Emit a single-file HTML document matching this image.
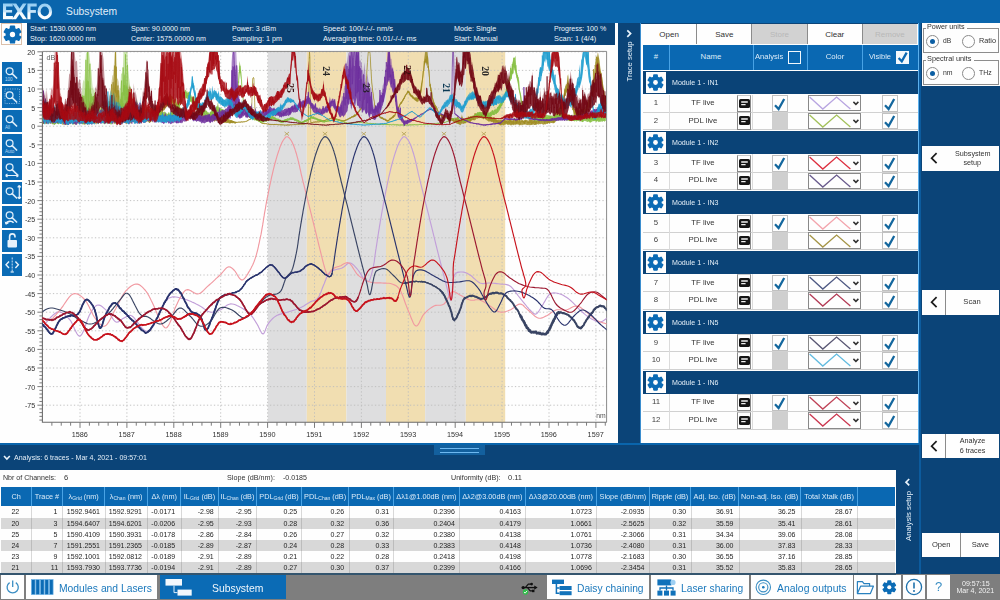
<!DOCTYPE html><html><head><meta charset="utf-8"><title>Subsystem</title><style>
html,body{margin:0;padding:0}body{width:1000px;height:600px;position:relative;overflow:hidden;background:#0b4478;font-family:"Liberation Sans",sans-serif;}div,svg{position:absolute;box-sizing:border-box;}svg{overflow:visible}.ah{color:#dcecf9;font-size:7.3px;text-align:center;white-space:nowrap;overflow:hidden}.ah sub{font-size:5px;vertical-align:baseline;position:relative;top:1.2px}
</style></head><body><div style="left:0;top:0;width:1000px;height:600px;opacity:0.999">
<div style="left:0px;top:22.5px;width:617.6px;height:420.8px;background:#fff;"></div>
<div style="left:0px;top:0px;width:1000px;height:22.5px;background:#0b66ad;"></div>
<svg style="left:0;top:0;width:60px;height:22px" viewBox="0 0 60 22"><defs><linearGradient id="lg" gradientUnits="userSpaceOnUse" x1="0" y1="3.6" x2="0" y2="19.2"><stop offset="0" stop-color="#93cdf3"/><stop offset="0.5" stop-color="#c4e3f9"/><stop offset="0.62" stop-color="#f4fafe"/><stop offset="1" stop-color="#ffffff"/></linearGradient></defs><g fill="url(#lg)"><path d="M3,3.6H12.7V6.6H6.1V9.9H12.1V12.6H6.1V16.1H12.9V19.2H3Z"/><path d="M12.3,3.6H16.2L26.9,19.2H23Z"/><path d="M22.9,3.6H26.6L16,19.2H12.1Z"/><path d="M27.4,3.6H36.7V6.6H30.5V10H35.9V12.8H30.5V19.2H27.4Z"/><path fill-rule="evenodd" d="M44.8,3.4A7.3,8 0 1 0 44.8,19.4A7.3,8 0 1 0 44.8,3.4ZM44.8,6.5A4.2,4.9 0 1 1 44.8,16.3A4.2,4.9 0 1 1 44.8,6.5Z"/></g></svg>
<div style="left:66.00px;top:4.99px;font-size:10.8px;line-height:12.42px;color:#e2effa;white-space:nowrap;transform:scaleX(0.9547);transform-origin:0 50%;">Subsystem</div>
<div style="left:27px;top:23px;width:588px;height:22.3px;background:#0b4478;"></div>
<div style="left:30.00px;top:24.71px;font-size:7.8px;line-height:8.97px;color:#eef5fb;white-space:nowrap;transform:scaleX(0.9338);transform-origin:0 50%;">Start: 1530.0000 nm</div>
<div style="left:30.00px;top:35.31px;font-size:7.8px;line-height:8.97px;color:#eef5fb;white-space:nowrap;transform:scaleX(0.9337);transform-origin:0 50%;">Stop: 1620.0000 nm</div>
<div style="left:131.00px;top:24.71px;font-size:7.8px;line-height:8.97px;color:#eef5fb;white-space:nowrap;transform:scaleX(0.9255);transform-origin:0 50%;">Span: 90.0000 nm</div>
<div style="left:131.00px;top:35.31px;font-size:7.8px;line-height:8.97px;color:#eef5fb;white-space:nowrap;transform:scaleX(0.9151);transform-origin:0 50%;">Center: 1575.00000 nm</div>
<div style="left:232.00px;top:24.71px;font-size:7.8px;line-height:8.97px;color:#eef5fb;white-space:nowrap;transform:scaleX(0.8982);transform-origin:0 50%;">Power: 3 dBm</div>
<div style="left:232.00px;top:35.31px;font-size:7.8px;line-height:8.97px;color:#eef5fb;white-space:nowrap;transform:scaleX(0.9226);transform-origin:0 50%;">Sampling: 1 pm</div>
<div style="left:322.50px;top:24.71px;font-size:7.8px;line-height:8.97px;color:#eef5fb;white-space:nowrap;transform:scaleX(0.9554);transform-origin:0 50%;">Speed: 100/-/-/- nm/s</div>
<div style="left:322.50px;top:35.31px;font-size:7.8px;line-height:8.97px;color:#eef5fb;white-space:nowrap;transform:scaleX(0.9516);transform-origin:0 50%;">Averaging time: 0.01/-/-/- ms</div>
<div style="left:453.80px;top:24.71px;font-size:7.8px;line-height:8.97px;color:#eef5fb;white-space:nowrap;transform:scaleX(0.9269);transform-origin:0 50%;">Mode: Single</div>
<div style="left:453.80px;top:35.31px;font-size:7.8px;line-height:8.97px;color:#eef5fb;white-space:nowrap;transform:scaleX(0.9420);transform-origin:0 50%;">Start: Manual</div>
<div style="left:553.80px;top:24.71px;font-size:7.8px;line-height:8.97px;color:#eef5fb;white-space:nowrap;transform:scaleX(0.9053);transform-origin:0 50%;">Progress: 100 %</div>
<div style="left:553.80px;top:35.31px;font-size:7.8px;line-height:8.97px;color:#eef5fb;white-space:nowrap;transform:scaleX(0.9450);transform-origin:0 50%;">Scan: 1 (4/4)</div>
<div style="left:1px;top:23px;width:21px;height:21.5px;background:#fff;border:1px solid #dcc0aa;"></div>
<svg style="left:3px;top:24.8px;width:19px;height:19px" viewBox="0 0 100 100"><path d="M40.1,19.6L40.9,7.0L59.1,7.0L59.9,19.6L71.4,26.2L82.7,20.6L91.8,36.4L81.3,43.3L81.3,56.7L91.8,63.6L82.7,79.4L71.4,73.8L59.9,80.4L59.1,93.0L40.9,93.0L40.1,80.4L28.6,73.8L17.3,79.4L8.2,63.6L18.7,56.7L18.7,43.3L8.2,36.4L17.3,20.6L28.6,26.2Z" fill="#0c6cb6" stroke="#0c6cb6" stroke-width="10" stroke-linejoin="round"/><circle cx="50" cy="50" r="14" fill="#fff"/></svg>
<svg style="left:2.3px;top:62px;width:19.8px;height:22.2px;background:#0c6cb6" viewBox="0 0 19.8 22.2"><circle cx="7.6" cy="9.2" r="3.4" fill="none" stroke="#dcedfa" stroke-width="1.3"/><path d="M10.1,11.7 L14.6,16.0" stroke="#dcedfa" stroke-width="1.7" stroke-linecap="round"/><text x="3" y="19.4" font-family="Liberation Sans" font-size="4.6" fill="#b9d8f2">100</text></svg>
<svg style="left:2.3px;top:86px;width:19.8px;height:22.2px;background:#0c6cb6" viewBox="0 0 19.8 22.2"><circle cx="7.6" cy="9.2" r="3.4" fill="none" stroke="#dcedfa" stroke-width="1.3"/><path d="M10.1,11.7 L14.6,16.0" stroke="#dcedfa" stroke-width="1.7" stroke-linecap="round"/><rect x="3" y="3" width="14.5" height="14.5" fill="none" stroke="#9cc8ec" stroke-width="0.8" stroke-dasharray="1.2,1.2"/></svg>
<svg style="left:2.3px;top:110px;width:19.8px;height:22.2px;background:#0c6cb6" viewBox="0 0 19.8 22.2"><circle cx="7.6" cy="9.2" r="3.4" fill="none" stroke="#dcedfa" stroke-width="1.3"/><path d="M10.1,11.7 L14.6,16.0" stroke="#dcedfa" stroke-width="1.7" stroke-linecap="round"/><text x="3" y="19.4" font-family="Liberation Sans" font-size="4.6" fill="#b9d8f2">All</text></svg>
<svg style="left:2.3px;top:134px;width:19.8px;height:22.2px;background:#0c6cb6" viewBox="0 0 19.8 22.2"><circle cx="7.6" cy="9.2" r="3.4" fill="none" stroke="#dcedfa" stroke-width="1.3"/><path d="M10.1,11.7 L14.6,16.0" stroke="#dcedfa" stroke-width="1.7" stroke-linecap="round"/><text x="3" y="19.4" font-family="Liberation Sans" font-size="4.6" fill="#b9d8f2">Auto</text></svg>
<svg style="left:2.3px;top:158px;width:19.8px;height:22.2px;background:#0c6cb6" viewBox="0 0 19.8 22.2"><circle cx="7.6" cy="9.2" r="3.4" fill="none" stroke="#dcedfa" stroke-width="1.3"/><path d="M10.1,11.7 L14.6,16.0" stroke="#dcedfa" stroke-width="1.7" stroke-linecap="round"/><path d="M3.5,17.5 H16.5 M3.5,17.5 l2,-1.6 M3.5,17.5 l2,1.6 M16.5,17.5 l-2,-1.6 M16.5,17.5 l-2,1.6" stroke="#e8f3fc" stroke-width="1.2" fill="none"/></svg>
<svg style="left:2.3px;top:182px;width:19.8px;height:22.2px;background:#0c6cb6" viewBox="0 0 19.8 22.2"><circle cx="7.6" cy="9.2" r="3.4" fill="none" stroke="#dcedfa" stroke-width="1.3"/><path d="M10.1,11.7 L14.6,16.0" stroke="#dcedfa" stroke-width="1.7" stroke-linecap="round"/><path d="M17.3,3.5 V17 M17.3,3.5 l-1.6,2 M17.3,3.5 l1.6,2 M17.3,17 l-1.6,-2 M17.3,17 l1.6,-2" stroke="#e8f3fc" stroke-width="1.2" fill="none"/></svg>
<svg style="left:2.3px;top:206px;width:19.8px;height:22.2px;background:#0c6cb6" viewBox="0 0 19.8 22.2"><circle cx="7.6" cy="9.2" r="3.4" fill="none" stroke="#dcedfa" stroke-width="1.3"/><path d="M10.1,11.7 L14.6,16.0" stroke="#dcedfa" stroke-width="1.7" stroke-linecap="round"/><path d="M4,18 a4.2,3.4 0 0 1 7.6,-1.2" stroke="#e8f3fc" stroke-width="1.6" fill="none"/><path d="M2.6,15.4 l1.2,3.4 l3,-1.6z" fill="#e8f3fc"/></svg>
<svg style="left:2.3px;top:230px;width:19.8px;height:22.2px;background:#0c6cb6" viewBox="0 0 19.8 22.2"><rect x="5.5" y="10" width="9.5" height="7.4" rx="0.8" fill="#e8f3fc"/><path d="M7.6,10 V6.6 a2.7,2.7 0 0 1 5.4,0 V7.4" stroke="#e8f3fc" stroke-width="1.6" fill="none"/></svg>
<svg style="left:2.3px;top:254px;width:19.8px;height:22.2px;background:#0c6cb6" viewBox="0 0 19.8 22.2"><path d="M10.2,3.5 V18" stroke="#cfe4f6" stroke-width="1" stroke-dasharray="2,1"/><path d="M7,7.6 L4,10.8 L7,14 M13.4,7.6 L16.4,10.8 L13.4,14" stroke="#e8f3fc" stroke-width="1.4" fill="none"/><path d="M8.6,18 h3.2" stroke="#e8f3fc" stroke-width="1.2"/></svg>
<svg style="left:0;top:0;width:620px;height:445px" viewBox="0 0 620 445" font-family="Liberation Sans">
<clipPath id="pc"><rect x="42.4" y="51.8" width="564.2" height="370.5"/></clipPath>
<rect x="267.8" y="51.8" width="39.0" height="370.5" fill="#dfdfe0"/>
<rect x="306.8" y="51.8" width="39.6" height="370.5" fill="#f2dfb2"/>
<rect x="346.4" y="51.8" width="39.6" height="370.5" fill="#dfdfe0"/>
<rect x="386" y="51.8" width="39.2" height="370.5" fill="#f2dfb2"/>
<rect x="425.2" y="51.8" width="40.6" height="370.5" fill="#dfdfe0"/>
<rect x="465.8" y="51.8" width="39.4" height="370.5" fill="#f2dfb2"/>
<path d="M42.4,51.8H606.6M42.4,70.4H606.6M42.4,89.0H606.6M42.4,107.6H606.6M42.4,126.2H606.6M42.4,144.8H606.6M42.4,163.4H606.6M42.4,182.0H606.6M42.4,200.6H606.6M42.4,219.2H606.6M42.4,237.8H606.6M42.4,256.4H606.6M42.4,275.0H606.6M42.4,293.6H606.6M42.4,312.2H606.6M42.4,330.8H606.6M42.4,349.4H606.6M42.4,368.0H606.6M42.4,386.6H606.6M42.4,405.2H606.6M80.0,51.8V422.3M126.9,51.8V422.3M173.8,51.8V422.3M220.7,51.8V422.3M267.6,51.8V422.3M314.5,51.8V422.3M361.4,51.8V422.3M408.3,51.8V422.3M455.2,51.8V422.3M502.1,51.8V422.3M549.0,51.8V422.3M595.9,51.8V422.3" stroke="#bdbdbd" stroke-width="0.9" stroke-dasharray="1.3,2.2" fill="none"/>
<path d="M42.4,51.4H606.6V422.3" stroke="#8c8c8c" stroke-width="1" fill="none"/>
<path d="M42.4,51.8V422.3H606.6" stroke="#6e6e6e" stroke-width="1.1" fill="none"/>
<path d="M42.4,51.80h-5M42.4,55.52h-3M42.4,59.24h-3M42.4,62.96h-3M42.4,66.68h-3M42.4,70.40h-5M42.4,74.12h-3M42.4,77.84h-3M42.4,81.56h-3M42.4,85.28h-3M42.4,89.00h-5M42.4,92.72h-3M42.4,96.44h-3M42.4,100.16h-3M42.4,103.88h-3M42.4,107.60h-5M42.4,111.32h-3M42.4,115.04h-3M42.4,118.76h-3M42.4,122.48h-3M42.4,126.20h-5M42.4,129.92h-3M42.4,133.64h-3M42.4,137.36h-3M42.4,141.08h-3M42.4,144.80h-5M42.4,148.52h-3M42.4,152.24h-3M42.4,155.96h-3M42.4,159.68h-3M42.4,163.40h-5M42.4,167.12h-3M42.4,170.84h-3M42.4,174.56h-3M42.4,178.28h-3M42.4,182.00h-5M42.4,185.72h-3M42.4,189.44h-3M42.4,193.16h-3M42.4,196.88h-3M42.4,200.60h-5M42.4,204.32h-3M42.4,208.04h-3M42.4,211.76h-3M42.4,215.48h-3M42.4,219.20h-5M42.4,222.92h-3M42.4,226.64h-3M42.4,230.36h-3M42.4,234.08h-3M42.4,237.80h-5M42.4,241.52h-3M42.4,245.24h-3M42.4,248.96h-3M42.4,252.68h-3M42.4,256.40h-5M42.4,260.12h-3M42.4,263.84h-3M42.4,267.56h-3M42.4,271.28h-3M42.4,275.00h-5M42.4,278.72h-3M42.4,282.44h-3M42.4,286.16h-3M42.4,289.88h-3M42.4,293.60h-5M42.4,297.32h-3M42.4,301.04h-3M42.4,304.76h-3M42.4,308.48h-3M42.4,312.20h-5M42.4,315.92h-3M42.4,319.64h-3M42.4,323.36h-3M42.4,327.08h-3M42.4,330.80h-5M42.4,334.52h-3M42.4,338.24h-3M42.4,341.96h-3M42.4,345.68h-3M42.4,349.40h-5M42.4,353.12h-3M42.4,356.84h-3M42.4,360.56h-3M42.4,364.28h-3M42.4,368.00h-5M42.4,371.72h-3M42.4,375.44h-3M42.4,379.16h-3M42.4,382.88h-3M42.4,386.60h-5M42.4,390.32h-3M42.4,394.04h-3M42.4,397.76h-3M42.4,401.48h-3M42.4,405.20h-5M42.4,408.92h-3M42.4,412.64h-3M42.4,416.36h-3M42.4,420.08h-3M51.86,422.3v3.4M61.24,422.3v3.4M70.62,422.3v3.4M80.00,422.3v5.6M89.38,422.3v3.4M98.76,422.3v3.4M108.14,422.3v3.4M117.52,422.3v3.4M126.90,422.3v5.6M136.28,422.3v3.4M145.66,422.3v3.4M155.04,422.3v3.4M164.42,422.3v3.4M173.80,422.3v5.6M183.18,422.3v3.4M192.56,422.3v3.4M201.94,422.3v3.4M211.32,422.3v3.4M220.70,422.3v5.6M230.08,422.3v3.4M239.46,422.3v3.4M248.84,422.3v3.4M258.22,422.3v3.4M267.60,422.3v5.6M276.98,422.3v3.4M286.36,422.3v3.4M295.74,422.3v3.4M305.12,422.3v3.4M314.50,422.3v5.6M323.88,422.3v3.4M333.26,422.3v3.4M342.64,422.3v3.4M352.02,422.3v3.4M361.40,422.3v5.6M370.78,422.3v3.4M380.16,422.3v3.4M389.54,422.3v3.4M398.92,422.3v3.4M408.30,422.3v5.6M417.68,422.3v3.4M427.06,422.3v3.4M436.44,422.3v3.4M445.82,422.3v3.4M455.20,422.3v5.6M464.58,422.3v3.4M473.96,422.3v3.4M483.34,422.3v3.4M492.72,422.3v3.4M502.10,422.3v5.6M511.48,422.3v3.4M520.86,422.3v3.4M530.24,422.3v3.4M539.62,422.3v3.4M549.00,422.3v5.6M558.38,422.3v3.4M567.76,422.3v3.4M577.14,422.3v3.4M586.52,422.3v3.4M595.90,422.3v5.6M605.28,422.3v3.4" stroke="#6e6e6e" stroke-width="0.9" fill="none"/>
<text x="35.3" y="54.7" font-size="8.1" fill="#333" text-anchor="end" textLength="8.0" lengthAdjust="spacingAndGlyphs">20</text>
<text x="35.3" y="73.3" font-size="8.1" fill="#333" text-anchor="end" textLength="8.0" lengthAdjust="spacingAndGlyphs">15</text>
<text x="35.3" y="91.9" font-size="8.1" fill="#333" text-anchor="end" textLength="8.0" lengthAdjust="spacingAndGlyphs">10</text>
<text x="35.3" y="110.5" font-size="8.1" fill="#333" text-anchor="end" textLength="4.0" lengthAdjust="spacingAndGlyphs">5</text>
<text x="35.3" y="129.1" font-size="8.1" fill="#333" text-anchor="end" textLength="4.0" lengthAdjust="spacingAndGlyphs">0</text>
<text x="35.3" y="147.7" font-size="8.1" fill="#333" text-anchor="end" textLength="6.3" lengthAdjust="spacingAndGlyphs">-5</text>
<text x="35.3" y="166.3" font-size="8.1" fill="#333" text-anchor="end" textLength="10.3" lengthAdjust="spacingAndGlyphs">-10</text>
<text x="35.3" y="184.9" font-size="8.1" fill="#333" text-anchor="end" textLength="10.3" lengthAdjust="spacingAndGlyphs">-15</text>
<text x="35.3" y="203.5" font-size="8.1" fill="#333" text-anchor="end" textLength="10.3" lengthAdjust="spacingAndGlyphs">-20</text>
<text x="35.3" y="222.1" font-size="8.1" fill="#333" text-anchor="end" textLength="10.3" lengthAdjust="spacingAndGlyphs">-25</text>
<text x="35.3" y="240.7" font-size="8.1" fill="#333" text-anchor="end" textLength="10.3" lengthAdjust="spacingAndGlyphs">-30</text>
<text x="35.3" y="259.3" font-size="8.1" fill="#333" text-anchor="end" textLength="10.3" lengthAdjust="spacingAndGlyphs">-35</text>
<text x="35.3" y="277.9" font-size="8.1" fill="#333" text-anchor="end" textLength="10.3" lengthAdjust="spacingAndGlyphs">-40</text>
<text x="35.3" y="296.5" font-size="8.1" fill="#333" text-anchor="end" textLength="10.3" lengthAdjust="spacingAndGlyphs">-45</text>
<text x="35.3" y="315.1" font-size="8.1" fill="#333" text-anchor="end" textLength="10.3" lengthAdjust="spacingAndGlyphs">-50</text>
<text x="35.3" y="333.7" font-size="8.1" fill="#333" text-anchor="end" textLength="10.3" lengthAdjust="spacingAndGlyphs">-55</text>
<text x="35.3" y="352.3" font-size="8.1" fill="#333" text-anchor="end" textLength="10.3" lengthAdjust="spacingAndGlyphs">-60</text>
<text x="35.3" y="370.9" font-size="8.1" fill="#333" text-anchor="end" textLength="10.3" lengthAdjust="spacingAndGlyphs">-65</text>
<text x="35.3" y="389.5" font-size="8.1" fill="#333" text-anchor="end" textLength="10.3" lengthAdjust="spacingAndGlyphs">-70</text>
<text x="35.3" y="408.1" font-size="8.1" fill="#333" text-anchor="end" textLength="10.3" lengthAdjust="spacingAndGlyphs">-75</text>
<text x="79.8" y="437.1" font-size="8.1" fill="#333" text-anchor="middle" textLength="16.2" lengthAdjust="spacingAndGlyphs">1586</text>
<text x="126.7" y="437.1" font-size="8.1" fill="#333" text-anchor="middle" textLength="16.2" lengthAdjust="spacingAndGlyphs">1587</text>
<text x="173.6" y="437.1" font-size="8.1" fill="#333" text-anchor="middle" textLength="16.2" lengthAdjust="spacingAndGlyphs">1588</text>
<text x="220.5" y="437.1" font-size="8.1" fill="#333" text-anchor="middle" textLength="16.2" lengthAdjust="spacingAndGlyphs">1589</text>
<text x="267.4" y="437.1" font-size="8.1" fill="#333" text-anchor="middle" textLength="16.2" lengthAdjust="spacingAndGlyphs">1590</text>
<text x="314.3" y="437.1" font-size="8.1" fill="#333" text-anchor="middle" textLength="16.2" lengthAdjust="spacingAndGlyphs">1591</text>
<text x="361.2" y="437.1" font-size="8.1" fill="#333" text-anchor="middle" textLength="16.2" lengthAdjust="spacingAndGlyphs">1592</text>
<text x="408.1" y="437.1" font-size="8.1" fill="#333" text-anchor="middle" textLength="16.2" lengthAdjust="spacingAndGlyphs">1593</text>
<text x="455.0" y="437.1" font-size="8.1" fill="#333" text-anchor="middle" textLength="16.2" lengthAdjust="spacingAndGlyphs">1594</text>
<text x="501.9" y="437.1" font-size="8.1" fill="#333" text-anchor="middle" textLength="16.2" lengthAdjust="spacingAndGlyphs">1595</text>
<text x="548.8" y="437.1" font-size="8.1" fill="#333" text-anchor="middle" textLength="16.2" lengthAdjust="spacingAndGlyphs">1596</text>
<text x="595.7" y="437.1" font-size="8.1" fill="#333" text-anchor="middle" textLength="16.2" lengthAdjust="spacingAndGlyphs">1597</text>
<text x="46.4" y="59.6" font-size="7.2" fill="#666">dB</text>
<text x="605.6" y="417.8" font-size="6.8" fill="#555" text-anchor="end">nm</text>
<g clip-path="url(#pc)">
<g transform="scale(0.1)">
<path d="M420,3280l6-8 9-11 10-13 11-14 12-15 12-16 13-14 11-13 11-11 13-12 15-13 14-10 13-8 15-3 15 1 12 4 12 6 12 8 13 10 13 11 13 13 12 13 13 15 9 12 8 16 9 18 9 19 8 19 9 19 9 18 9 16 8 12 9 8 9 4 7-2 7-6 7-9 7-12 7-14 7-16 6-18 7-18 7-19 7-20 6-19 7-18 6-16 7-16 6-12 9-16 11-19 10-17 10-14 11-12 10-9 10-6 12-3 12 1 14 5 14 9 13 11 14 13 14 13 13 12 12 12 10 13 10 15 10 15 10 15 10 14 9 11 10 9 12 4 15-3 14-9 15-11 14-11 15-8 15-8 15-9 15-7 16-3 19 7 9 7 10 10 10 12 11 14 12 15 11 16 11 15 11 15 11 13 10 11 10 9 13 8 17 8 14 1 14-7 17-15 12-16 7-10 6-12 8-13 7-15 8-16 7-17 8-17 8-17 8-18 8-17 7-17 8-16 7-15 7-13 7-13 6-10 14-21 12-16 11-12 11-8 12-6 13-5 14-3 15-1 17 2 17 3 17 4 17 5 16 4 14 4 19 5 16 6 15 6 15 6 15 7 14 6 14 7 14 7 15 7 15 9 15 8 13 9 14 10 15 11 14 10 15 8 15 6 15 3 17 1 17-3 16-4 17-5 17-7 15-6 14-9 15-10 14-11 14-11 15-8 14-6 15-3 15 1 15 3 16 5 15 7 16 7 15 8 14 7 13 8 14 9 14 9 14 10 13 10 12 11 12 12 10 12 10 13 9 14 9 14 9 14 8 13 9 14 9 16 9 18 9 19 9 18 8 15 8 10 8 4 8-5 7-12 7-17 7-20 8-20 8-18 10-14 9-13 11-13 11-12 11-11 13-11 13-10 14-8 14-7 16-5 16-5 17-5 17-4 17-5 16-5 16-5 17-5 16-5 16-5 16-5 16-6 16-6 15-7 15-8 15-9 14-9 15-9 13-9 14-8 14-8 16-6 15-4 14-5 14-8 13-13 7-11 7-12 6-15 7-15 6-16 6-17 6-16 6-16 6-15 7-15 6-17 7-17 6-16 7-16 7-15 8-14 10-12 11-10 15-8 16-6 17-4 18-4 17-4 17-4 14-5 17-10 15-12 14-13 13-10 14-5 13 1 13 7 13 9 12 12 13 14 12 14 11 13 10 13 10 16 10 15 9 16 8 14 9 11 13 14 17 16 16 2 11-11 5-10 5-14 5-16 5-17 5-19 5-19 4-18 4-18 4-16 3-17 3-15 3-16 1-15 2-15 2-16 2-16 3-18 2-17 2-15 3-15 2-16 3-16 2-17 3-17 2-17 3-17 3-17 2-17 3-16 2-16 3-17 3-16 2-17 3-16 3-16 2-16 3-16 3-16 3-17 3-16 2-17 3-15 3-16 3-16 3-16 2-16 3-16 3-16 3-16 3-16 3-16 3-16 4-16 3-16 3-16 3-16 4-17 3-16 3-16 4-17 3-16 4-15 3-16 3-15 4-16 4-17 4-17 4-17 4-17 4-16 4-16 4-15 4-15 4-14 5-17 5-18 5-17 5-16 5-15 5-15 5-14 5-16 6-17 7-15 6-15 6-13 7-13 11-17 12-15 11-10 13-1 13 8 14 16 10 14 7 13 7 14 7 15 7 18 5 15 5 13 4 14 5 15 5 15 4 16 5 18 5 18 3 14 4 14 3 15 4 16 4 16 3 17 4 16 4 17 3 17 4 17 4 16 4 16 3 15 4 16 4 15 4 16 4 15 4 16 4 16 4 16 4 17 4 16 4 16 4 16 4 16 4 16 4 16 4 17 5 16 4 17 4 16 4 16 4 16 4 16 4 15 4 17 4 17 4 16 4 16 4 16 4 16 4 16 4 16 4 16 4 16 4 17 4 16 4 16 4 16 4 16 4 17 4 16 4 17 4 16 4 16 4 16 4 16 4 16 4 16 4 16 4 16 4 16 4 15 4 16 4 15 4 15 4 15 4 15 4 16 4 16 4 16 4 16 4 15 4 16 3 15 4 16 4 15 5 16 4 16 5 20 5 21 6 23 5 22 5 21 6 18 5 15 4 10 5 3 3-3 3-7 2-10 1-14 2-16 1-18 2-20 1-21 2-21 1-21 2-20 2-19 2-18 3-15 3-13 7-16 13-16 15-9 16-3 16-1 15 0 16 1 15 4 16 6 16 9 17 10 12 8 12 10 12 12 13 12 13 12 13 10 12 9 13 7 17 5 16 1 17-2 17-2 16-2 17 0 17 1 16 1 17 2 17 2 16 2 17 2 17 2 16 0 17 1 17 3 16 5 17 9 11 8 10 11 11 12 10 12 11 14 10 15 11 14 10 14 11 14 10 12 11 14 11 14 12 14 11 14 11 13 10 13 11 12 9 11 9 9 16 17 13 13 12 9 13 2 11-3 10-9 9-12 10-15 10-16 10-18 10-14 8-13 8-15 9-15 9-16 9-15 9-14 9-12 10-10 13-8 16-6 16-2 17 2 18 3 17 5 15 4 14 6 15 7 14 9 14 9 15 10 14 11 13 11 12 11 11 11 12 12 12 13 12 13 11 12 12 12 12 11 12 11 13 11 13 11 12 11 12 10 13 9 13 9 12 8 16 9 16 9 16 8 16 6 15 5 14 3 16-1 16-6 16-11 14-10 11-9 4-3" fill="none" stroke="#c3a0da" stroke-width="11.5" stroke-linejoin="round"/>
<path d="M420,3180l11 5 14 7 18 8 18 3 19-3 11-6 11-8 11-10 11-12 12-13 12-14 12-14 13-15 12-13 9-13 10-14 11-15 10-15 11-16 10-16 11-15 11-14 11-13 10-10 11-8 10-6 16-4 15 1 16 4 15 8 15 10 15 12 14 14 14 15 9 11 8 12 8 14 8 15 8 16 8 17 8 16 8 17 8 15 7 15 8 14 8 13 10 13 13 17 12 15 13 15 12 12 13 9 12 5 13 1 10-4 9-7 9-9 8-12 9-14 9-16 9-16 8-17 9-18 9-17 8-17 9-15 8-14 8-15 8-15 8-16 8-15 7-16 8-16 8-15 8-14 8-14 9-13 8-12 10-13 13-14 13-13 14-12 13-10 13-9 13-7 13-5 12-2 15 1 15 5 14 9 14 11 13 13 13 14 11 12 8 12 9 12 8 13 8 14 7 15 8 15 8 17 9 17 6 13 7 15 7 15 7 16 7 17 7 16 7 17 6 16 7 16 7 14 6 13 6 12 11 21 10 20 10 17 10 12 9 8 10 2 9-5 9-10 9-14 9-17 8-19 8-18 8-17 6-15 5-15 4-15 4-15 4-16 5-17 8-18 7-15 7-14 7-16 8-16 9-17 9-17 9-16 9-16 10-14 10-12 9-9 10-7 15-4 16 3 17 8 16 11 17 10 16 8 16 4 14-2 13-5 12-8 12-10 12-11 12-13 12-12 13-13 13-11 11-10 13-11 12-11 13-12 13-12 12-12 12-11 12-11 11-10 12-12 13-14 12-14 12-14 11-12 10-10 10-7 13-4 15 2 14 9 15 13 12 13 10 12 10 16 10 17 10 16 10 15 11 12 10 6 10 0 10-5 11-9 10-13 10-15 10-16 10-17 10-16 8-14 7-13 6-13 7-13 6-13 6-14 6-15 6-17 6-17 6-19 4-13 4-15 4-15 4-16 4-17 4-17 3-17 4-17 4-18 3-17 4-17 3-16 4-16 3-15 3-17 3-18 3-17 3-17 3-16 2-15 3-16 2-16 2-15 3-16 3-17 2-16 3-15 3-16 3-16 3-16 2-16 3-16 3-16 3-16 3-16 3-16 3-16 4-16 3-16 3-16 3-16 4-17 3-16 3-16 4-17 3-16 4-15 3-16 3-15 4-16 4-17 4-17 4-17 4-17 4-16 4-16 4-15 4-15 4-14 5-17 5-18 5-17 5-16 5-15 5-15 5-14 5-16 6-17 7-15 6-15 6-13 7-13 11-17 12-15 11-10 13-1 13 8 14 16 10 14 7 13 7 14 7 15 7 18 5 15 5 13 4 14 5 15 5 15 4 16 5 18 5 18 3 14 4 14 3 15 4 16 4 16 3 17 4 16 4 17 3 17 4 17 4 16 4 16 3 15 4 16 4 15 4 16 4 15 4 16 4 16 4 16 4 17 4 16 4 16 4 16 4 16 4 16 4 16 4 17 5 16 4 17 4 16 4 16 4 16 4 16 4 15 4 17 4 17 4 16 4 16 4 16 4 16 4 16 4 16 4 16 4 16 4 17 4 16 4 16 4 16 4 16 4 17 4 16 4 17 4 16 4 16 4 16 4 16 4 16 4 17 4 17 5 17 4 17 4 17 4 16 4 16 4 14 4 14 3 12 6 19 7 22 7 17 6 11 8 4 9-5 8-15 10-18 12-16 12-10 14-7 15-6 15-5 17-5 16-6 15-9 17-10 17-8 16-4 17 4 10 7 9 11 10 13 9 15 10 16 10 16 10 16 11 14 11 12 13 11 13 10 14 10 14 9 15 8 15 7 14 7 15 6 15 4 16 4 17 2 16 1 16 0 16 0 16 0 15 1 18 1 18 0 16 1 17 1 16 2 15 5 14 5 14 6 13 7 13 10 13 13 13 19 6 11 6 12 6 14 7 16 6 16 6 16 6 17 6 18 6 17 7 17 6 16 6 16 6 14 7 17 8 18 7 19 7 19 7 18 8 17 7 16 7 14 7 10 8 8 7 4 9-1 8-8 9-12 8-15 9-18 9-19 9-18 9-16 10-13 12-12 12-12 12-12 13-10 13-10 13-9 12-8 13-7 17-6 17-1 17-1 17 0 16-4 16-8 10-10 9-13 9-15 9-17 9-16 8-16 9-14 8-12 9-7 16-4 15 4 16 9 16 11 17 10 14 7 15 9 16 9 16 9 16 7 15 7 16 4 17 0 17-1 16-3 17-1 17 1 15 4 14 7 15 8 14 9 14 10 15 10 14 10 14 8 14 10 15 11 14 10 14 9 15 8 14 6 15 3 17 1 17-3 16-4 17-5 17-7 15-6 15-9 15-11 14-12 15-11 14-8 13-5 14 0 14 5 13 9 12 13 13 13 14 13 13 11 12 10 12 12 13 12 14 12 13 11 12 9 12 7 15 4 16 1 15-4 15-7 16-8 16-7 13-8 14-10 15-10 14-10 15-9 15-7 15-5 17-1 17 1 16 2 17 1 17 0 16-3 15-6 16-8 16-9 16-7 15-6 14-2 15 2 14 4 13 7 14 10 15 11 14 10 12 9 12 11 13 11 13 12 13 12 13 12 14 11 13 10 12 8 17 9 18 8 19 6 17 6 16 4 13 4 10 3 0 0" fill="none" stroke="#f29aa2" stroke-width="11.5" stroke-linejoin="round"/>
<path d="M420,3120l9-6 13-8 16-10 17-8 17-6 16-2 16 0 16 3 17 4 18 5 17 5 16 5 15 5 15 6 16 6 15 7 16 7 15 7 14 8 15 8 14 9 14 10 14 9 15 8 14 8 15 8 16 8 15 8 16 7 15 6 15 3 16 0 15-3 15-5 16-6 15-8 16-9 15-9 12-8 13-8 13-9 12-10 12-10 13-11 13-12 12-12 11-11 10-13 11-13 11-14 11-13 11-14 10-13 10-13 10-11 12-13 13-18 13-18 12-15 13-9 14 0 12 7 7 8 8 10 8 13 9 15 8 17 9 17 9 18 9 18 9 17 9 17 8 16 8 14 8 12 7 9 18 16 15 7 14 0 15 1 18 6 12 7 14 9 14 11 15 11 15 10 15 10 15 7 13 4 15 1 15-4 14-6 14-9 14-11 14-12 14-12 13-11 12-13 11-14 12-15 12-15 12-14 11-12 12-8 12-4 12 1 13 6 13 9 12 12 12 13 13 13 13 14 12 12 12 12 12 13 11 14 12 15 12 14 12 12 11 10 12 8 14 4 15 0 15-3 16-6 15-9 16-11 15-13 9-10 10-13 9-14 9-16 9-17 10-16 9-15 10-15 10-12 10-9 12-6 16-4 15 0 16 2 16 5 17 6 16 7 17 7 13 7 14 10 13 11 14 12 14 12 14 11 14 9 13 6 14 3 13-3 12-5 12-9 12-11 13-13 12-14 12-15 12-15 11-15 12-14 11-12 12-12 13-13 13-13 12-12 11-11 12-11 12-10 13-9 15-8 16-6 17-3 17-3 17-3 17-4 15-7 13-10 9-11 8-13 6-15 6-16 6-17 5-17 6-16 5-15 6-14 8-14 10-14 11-11 10-10 10-11 10-16 6-16 5-12 4-14 4-15 4-15 4-16 4-17 4-17 4-17 3-17 4-17 3-16 3-16 3-16 3-16 2-16 3-17 2-16 2-17 3-16 2-17 2-16 3-16 2-16 3-17 2-16 3-17 3-16 2-16 3-16 3-16 2-16 3-17 3-16 3-17 3-15 2-16 3-16 3-16 3-16 3-16 3-16 3-16 3-16 3-16 3-16 3-16 3-16 3-16 4-16 3-17 3-16 4-16 3-17 3-16 4-15 3-16 4-15 3-15 4-18 4-17 4-17 4-17 4-16 4-16 4-16 4-15 4-14 4-14 5-19 5-18 5-16 5-16 5-15 5-14 5-14 6-17 7-17 6-15 6-14 7-13 8-15 12-16 11-13 12-6 14 4 13 12 13 17 7 12 7 13 7 15 7 17 7 18 5 13 4 13 5 14 4 15 5 16 5 17 5 18 4 16 3 14 4 15 3 15 4 16 3 16 4 17 4 17 3 17 4 16 4 17 4 16 4 15 3 16 4 15 4 16 4 16 4 15 4 16 4 16 4 16 4 17 4 16 4 16 4 16 4 16 4 16 4 16 5 17 4 16 4 17 4 16 4 16 4 16 4 16 4 16 4 17 4 16 4 16 4 16 4 16 4 16 4 16 4 16 4 16 4 17 4 16 4 16 4 16 4 16 4 17 4 16 4 17 4 16 4 16 4 16 4 16 4 16 4 16 4 16 4 16 4 16 4 15 4 16 4 15 4 16 4 15 4 15 4 15 4 16 4 17 5 17 4 16 4 17 4 16 4 15 4 15 3 14 4 14 5 22 4 24 5 23 4 20 4 13 5 5 5-4 3-8 3-12 4-15 4-17 3-19 4-20 4-20 4-20 4-19 3-17 4-14 3-12 9-26 8-13 11-7 13-7 15-5 16-4 18-2 17 2 14 5 12 8 13 10 12 12 12 13 13 12 12 12 12 12 11 12 12 13 11 12 13 11 14 7 14 4 15 1 16-1 17-3 17-4 16-3 17-3 15-2 18-1 18 0 16 0 17 1 16 2 15 2 17 4 15 4 16 6 15 7 17 9 12 7 14 6 14 8 13 8 14 10 14 11 13 13 10 12 8 13 8 13 8 15 8 15 8 16 7 16 7 16 7 16 6 14 6 14 7 17 6 20 6 21 4 20 4 19 5 15 5 10 6 5 8-3 8-9 9-15 10-18 9-19 8-19 8-17 6-16 6-17 4-18 5-17 5-16 6-14 8-12 13-12 15-9 17-5 17-3 18-1 14 2 16 5 16 7 16 8 16 5 15 3 15-2 15-7 15-11 14-11 14-11 14-8 16-5 16-4 16-2 16 0 16 1 16 2 15 3 16 5 16 8 17 12 10 9 10 10 11 12 11 12 11 14 11 13 11 15 10 14 10 14 9 14 9 13 9 15 8 15 8 14 8 15 8 15 8 14 7 14 7 12 9 15 9 17 9 15 8 15 8 13 10 12 11 9 15 8 17 4 18 3 18 2 17 1 15 2 20 7 16 7 16 0 12-8 9-10 8-13 9-15 9-17 8-17 9-16 8-15 8-16 7-17 8-18 8-16 8-15 8-12 9-9 15-6 17 0 16 4 17 6 15 6 14 6 13 6 12 9 14 12 11 12 10 13 10 16 10 16 10 17 10 15 11 11 10 6 10 0 10-5 10-10 10-14 10-15 10-17 10-16 10-15 10-13 10-14 11-14 10-14 10-14 10-13 10-11 10-10 14-12 18-9 16-4 16 1 14 7 15 12 12 12 9 9 0 0" fill="none" stroke="#3a4564" stroke-width="11.5" stroke-linejoin="round"/>
<path d="M4042,2831l8-2 8 3 8-6 9 2 8-3 9-4 8 2 8-6 9 1 8-4 7-1 8 2 9 3 9-6 9 1 9 3 8 3 8-3 9-1 8 5 8-7 8 8 7-4 8 0 9 2 8 3 8 6 7-2 8 6 8 3 7 1 8 5 8 1 9 4 6 5 6 7 7 1 7 3 7 6 7 2 7 3 6 9 7 3 7 1 7 8" fill="none" stroke="#3a4564" stroke-width="14" stroke-linejoin="round" stroke-linecap="round"/>
<path d="M4401,2900l7 10 6 5 6 3 4 13 4-4 4 10 4 10 4 0 4 11 4 2 4 15 4 9 4 6 4 11 3 2 4 12 4 7 3 8 4 6 3 12 3 9 3 2 3 9 3 0 3 14 4 9 3 14 3 9 3 4 3 12 2 13 2 3 2 14 2 6 3 7 2 7 2 14 3-3 3 5 3 3 4 5 4-11 4 0 4-5 5-3 4-8 5-8 5-16 4-8 5-11 4-4 4-8 4-18 4-8 3-7 3-8 3-6 3-7 2-13 2-11 3-4 2-9 3-6 2-4 3-10 3-9 4-5 4-5 6-14 7 4 7-6 8-2 8-4 9-7 8-2 9-5 9 6 9-7 7 1 7 3 8 2 8 5 8 0 8 3 8 5 8 3 8 6 8-1 8 11 7-2 7-5 8-1 8-2 7-3 8-8 7 2 7-4 7-12 7-5 7-10 7-4 7-1 8-3 8 4 8-10 8-3 8 9 8-5 8-5 8 4 8-5 8 6 8 6 8 0 7-1 8-3 8 3 8 1 8 10 8 2 8 8 9 2 5 3 5 11 5 7 5 4 5 5 6 6 5 5 6 1 5 10 6 5 5 3 6 7 5 10 6 7 5 12 5 10 5 1 5 13 5 8 4 6 5 0 4 5 5 7 4 7 4 8 4 12 4 11 4 6" fill="none" stroke="#3a4564" stroke-width="19" stroke-linejoin="round" stroke-linecap="round"/>
<path d="M5202,3152l4 10 4 9 4-4 4 17 4 10 4 5 3 6 4 3 3 1 4 16 5 1 5 16 4 11 5-1 4 8 4 16 4 4 4-2 4 5 5 7 5 17 5 3 6-6 7 15 8 6 8-2 9-3 9 5 9-6 9-1 9 16 9-4 8-2 8 8 7-7 11 10 9 3 9-6 7 4 8 2 8-2 8 1 4-8 5-3 4-10 4 6 4-15 5-6 4-6 4-3 5-16 4-1 4-15 4-8 5-8 4-16 4 0 4-12 4-11 3 4 4-18 4-4 4-5 4-11 4-12 4-5 4-6 4-3 4-16 4 2 5-9 7-3 8 5" fill="none" stroke="#3a4564" stroke-width="26" stroke-linejoin="round" stroke-linecap="round"/>
<path d="M5603,3123l9 2 8 4 8 4 9-3 8 6 8 1 7 3 7 5 7 0 7 4 6 3 6 10 6 2 7 7 7 7 7-1 4 9 5 10 5 6 5-1 5 8 5 12 5 4 5 11 5 6 5 15 5 8 6 7 5-3 5 10 5 2 5-5 5 8 5-1 5-13 5 4 5-12 5-5 5-1 5-10 5-16 5-5 5-7 5-10 5-10 5-6 5-3 5-15 5 0 5-8 5-12 5-3 6-3 5-9 5-12 5 4 5-9 5-5 5-16 5-4 5-9 5 4 5-11 4-5 10-5 9 1 9-5 8-10 8-2 8 9 8-3 7 4 7-3 8 5 7 14 6 3 6 2 5 16 4 0" fill="none" stroke="#3a4564" stroke-width="20" stroke-linejoin="round" stroke-linecap="round"/>
<path d="M420,3240l8 8 11 11 14 14 12 13 11 17 12 18 12 15 13 6 11-5 7-8 7-12 8-15 8-17 8-18 8-17 8-17 9-16 9-12 11-11 15-10 16-8 16-5 16-3 16-4 14-4 17-3 16-1 16 0 15-5 16-11 8-10 8-14 8-16 8-18 8-18 8-18 8-16 8-14 8-10 8-6 12-1 11 4 12 10 12 13 12 16 11 18 10 20 5 12 5 16 5 17 5 19 5 20 4 20 4 20 5 18 4 18 5 15 4 12 4 8 5 5 6-1 6-7 6-12 6-16 6-20 6-20 7-21 6-19 7-17 8-15 9-16 9-16 10-16 9-16 10-14 10-11 9-8 10-5 12 1 12 6 12 12 12 14 12 15 13 15 12 12 11 11 12 11 12 12 12 12 12 12 12 13 12 12 12 12 12 12 12 13 13 14 12 13 13 13 12 11 11 11 10 9 15 12 17 14 16 5 17-7 8-7 8-9 8-11 9-12 9-14 9-16 9-16 10-17 10-18 7-13 7-13 7-15 8-15 7-17 8-16 8-16 8-17 7-16 8-15 7-15 8-14 7-12 9-15 11-18 10-16 10-14 10-13 10-11 10-9 9-7 13-8 16-3 16 7 19 21 7 9 7 12 7 14 8 15 8 16 8 17 9 17 8 17 9 17 8 15 9 14 8 12 11 13 15 11 15 8 15 5 15 6 14 6 13 10 10 12 8 14 7 18 6 19 6 19 6 19 5 17 6 14 6 10 6 4 7-2 8-8 7-12 7-17 7-19 8-20 8-21 8-21 5-13 6-15 6-16 5-17 6-17 6-18 7-18 6-17 6-17 7-15 6-14 7-13 7-10 14-15 15-9 16-5 16-3 16-2 15-3 16-6 15-5 16-5 16-5 16-5 15-8 14-9 11-10 9-11 10-13 9-14 9-14 10-14 10-13 12-11 12-10 14-8 14-9 15-7 15-8 15-8 15-7 13-9 14-9 14-11 13-12 13-13 13-12 12-11 12-8 11-6 13-3 14 4 12 9 12 13 14 15 10 11 10 13 11 15 11 15 11 15 11 11 11 8 12 3 15-5 14-11 15-13 14-13 15-9 16-5 15-3 16-2 16-3 17-7 12-8 14-10 14-12 13-12 14-11 14-9 13-6 14-3 15 3 15 7 14 10 14 10 14 11 13 10 13 11 13 13 12 12 13 11 11 9 15 10 19 10 15-1 9-9 5-13 4-15 3-19 3-20 3-20 3-17 3-15 2-14 2-16 2-15 2-17 3-17 2-18 3-19 2-14 2-15 3-16 2-16 3-17 2-17 3-17 3-17 2-17 3-16 2-17 3-16 3-17 2-16 3-17 3-16 2-16 3-16 3-16 2-16 3-17 3-16 3-17 3-15 2-16 3-16 3-16 3-16 3-16 3-16 3-16 3-16 3-16 3-16 3-16 3-16 3-16 4-16 3-17 3-16 4-16 3-17 3-16 4-15 3-16 4-15 3-15 4-18 4-17 4-17 4-17 4-16 4-16 4-16 4-15 4-14 4-14 5-19 5-18 5-16 5-16 5-15 5-14 5-14 6-17 7-17 6-15 6-14 7-13 8-15 12-16 11-13 12-6 14 4 13 12 13 17 7 12 7 13 7 15 7 17 7 18 5 13 4 13 5 14 4 15 5 16 5 17 5 18 4 16 3 14 4 15 3 15 4 16 3 16 4 17 4 17 3 17 4 16 4 17 4 16 4 15 3 16 4 15 4 16 4 16 4 15 4 16 4 16 4 16 4 17 4 16 4 16 4 16 4 16 4 16 4 16 5 17 4 16 4 17 4 16 4 16 4 16 4 16 4 16 4 17 4 16 4 16 4 16 4 16 4 16 4 16 4 16 4 16 4 17 4 16 4 16 4 16 4 16 4 17 4 16 4 17 4 16 4 16 4 16 4 16 4 16 4 16 4 16 4 16 4 16 4 15 4 16 4 15 4 16 4 15 4 15 4 15 4 16 4 17 4 16 4 16 4 16 4 16 4 15 4 16 4 14 4 15 5 19 5 21 5 22 5 22 5 19 5 16 5 10 5 3 3-4 3-8 3-11 2-14 2-16 3-18 2-20 2-21 3-20 2-21 3-19 3-19 3-16 4-14 4-11 12-20 12-13 15-6 15-2 17 0 15 2 14 4 15 6 15 8 15 9 16 10 16 9 15 9 16 8 14 8 16 9 14 8 16 9 14 8 16 6 14 6 16 4 16 2 16 1 16 0 16-1 16-2 16-1 16-1 16-1 17-3 17-3 17-3 16-2 16-1 14 1 15 5 14 7 13 10 12 11 11 13 11 13 11 13 10 13 9 13 8 15 8 15 8 15 9 14 8 15 9 15 8 15 9 16 9 15 9 15 8 13 8 11 13 17 13 14 12 9 12 0 9-7 9-12 9-16 9-18 9-18 9-16 7-15 7-16 7-17 8-16 8-15 9-14 10-10 14-9 16-6 18-4 17-1 18-1 17 1 15 2 16 3 15 4 16 5 15 6 15 7 15 6 15 8 15 7 14 9 15 9 14 9 13 10 13 10 12 12 12 13 11 12 11 13 11 11 11 10 14 8 16 3 16 1 16 1 16 5 12 10 10 11 9 14 9 15 9 15 9 16 9 15 9 14 8 11 12 14 15 14 14 8 15 2 13-6 10-8 10-11 11-14 11-14 11-15 11-14 11-11 13-13 14-13 13-12 13-11 14-7 13-4 14 0 14 5 14 7 15 10 15 12 13 10 12 11 12 11 12 13 13 13 12 13 12 13 11 12 11 10 15 14 16 13 14 12 12 10 9 8 4 3" fill="none" stroke="#2a346e" stroke-width="11.5" stroke-linejoin="round"/>
<path d="M420,3243l3-4 5 13 5-3 6 14 7 2 7 6 7 10 5 10 5 0 6 8 6 13 6 6 6 7 6 7 6 4 7 3 7-1 4-3 3 1 4-9 3-4 4-10 4-5 4-11 4-6 4-11 4-1 4-11 4-13 4-6 4-3 4-18 4 0 5-11 4-6 5-2 4-10 7-5 7-4 8-1 8-11 8 2 8-4 8-3 8-5 8-2 8-5 8-1 7-2 7 5 9-8 8-2 8-1 8 8 8 0 8-2 8-6 7-3 8-4 8-5 4-8 4-3 4-8 4 0 4-8 4-13 4-12 4-1 4-16 4-9 4-13 4-4 4-8 4-7 4-11 4-3 4-11 4-2 4-5 4 1 6-5 6 0 6 4 5 2 6 8 6 5 6 8 6 6 6 9 6 10 5 4 6 8 5 17 5 1 3 12 2 6 3 1 2 16 3 9 2 6 3 11 2 10 2 3 3 14 2 10 2 13 2 10 2 10 3 7 2 13 2 6 2 9 2 3 3 5 2 7 2 8 2 2 2 12 3 0 2 2 3 1 3-1 3-5 3-9 3 3 3-7 3-11 3-8 3-8 3-16 3-3 3-16 4-12 3-8 3-5 3-15 4-3 3-6 4-12 4-9 4-7 5-6 4-7 5-10 5-8 5-14 4-7 5-7 5-1 5-12 5-3 5-11 5-4 4-2 5 2 5-2 6-1 6-3 6 5 6 4 6 5 6 2 6 16 6-1 6 17 6 7 7-2 6 12 7 10 5 7 6 0 5 3 6 5 6 14 6-2 6 10 6 1 6 10 6 11 6-2 6 13 6 3 6 10 6 4 6 1 6 13 6 2 6 1 6 6 6 12 7 6 6 5 6 5 6 9 7 6 6 12 6-3 6 14 5 7 6-3 5 14 5 2 5 5 10 2 9 8 8 6 8 11 8-3 8-4 9-5 4-5 4-6 4-3 4 3 4-11 4 1 5-14 4-6 5-4 4-11 5-5 4-2 5-9 4-9 5-10 5-6 5-8 5-13 3-5 4-13 3 0 4-10 4-4 3-8 4-12 4-10 4 1 3-17 4-4 4-10 4-8 4-4 4-5 4-16 4-4 3-12 4-5 4-9 4-10 3-8 4-6 4 1 3-11 4-9 3 1 6-8 5-15 6-12 5-7 5-9 5-5 5-10 5-5 5-6 5-2 5-2 5-6 5-8 4-4 5-2 4-4 9-6 8-5 8 1 8 10 8-4 9 13 10 13 3 7 4-2 3 6 4 6 3 9 4 7 4 13 4 7 4 8 4-1 4 9 4 15 5 11 4 4 4 10 4 2 5 13 4 13 4 7 4 8 5 8 4-1 4 5 4 6 4 9 7 10 8 9 7 3 8 3 7 5 8-1 7 4 8-3 7 11 7-3 7 11 7 1 6 1 6 5 4 7 4 11 4 9 3 2 4 8 3 14 3 11 3 7 3 8 3 14 3 3 3 12 2 10 3 13 3 3 3 8 3 0 3 0 3 1 4 8 3-5 4-7 4-8 3-1 4-5 3-10 4-10 3-5 4-7 4-18 4-12 4-8 4-9 4-8 4-15 3 0 2-8 3-9 3-11 3 0 3-15 3-3 2-15 3-9 3-3 3-13 3-2 4-14 3-12 3-9 3-6 3-6 3-5 3-16 4-5 3-9 3 1 4-16 3-6 4-6 3-1 7-3 7-7 8-7 7-1 8-3 8-9 8-3" fill="none" stroke="#2a346e" stroke-width="18" stroke-linejoin="round" stroke-linecap="round"/>
<path d="M2261,2952l8-3 8-7 7 4 8-4 8-3 8-3 8-4 7-4 8 0 8-2 8 3 8-10 8 5 8-10 7-2 8 0 7-4 7-9 5-7 6-2 5-7 4-1 5-12 5-6 4-2 5-14 4-4 5-3 5-8 5-13 5-6 5-6 6 1 6-11 6-1 6-3 7-9 7-5 7 1 7-7 8-6 7-1 8-7 7-4 8-6 7 3 7-3 8-6 7-2 6-12 7-2 7-3 7-2 7-5 6-11 7-7 7-5 6-6 7-2 6-12 6-1 6-6 6-3 6-5 6-5 5-5 5-2 8 0 8 4 6-3 6 5 6 10 6 2 6 6 7 7 7 11 5 3 5 12 5 5 5 8 5 2 6 6 5 7 6 11 5 9 6 5 5 5 6 6 5 7 6 3 5 3 7 2 8-4 7-8 7 2 7-11 8-4 7-8 7-4 7-10 8-5 7-4 8-4 8 4 7-4 8-3 8-1 8 4 8-5 8-5 8 2 9-5 6 0 6-12 7-2 7-2 7-6 7-5 7-14 6-3 7-8 7-5 7 2 7-8 7 0 6-7 6 2 8-4 8-1 7 6 8 5 7-3 7 8 7 6 7 2 7 6 7 4 7 6 6 5 7 8 6 6 7 2 6 4 7 9 6 9 6 2 7 7 6 5 5 10 6 2 5-1 10 7 10 8 9 5 7 2 8-6 6-5 3 0 2-8 3-7 2-8" fill="none" stroke="#2a346e" stroke-width="14" stroke-linejoin="round" stroke-linecap="round"/>
<path d="M420,3180l11 3 16 4 18 5 19 5 19 3 17 0 15-4 15-6 13-8 14-9 15-9 15-7 15-8 16-9 16-8 16-7 16-4 14-1 14 4 13 6 13 10 13 12 13 13 14 15 10 11 9 14 10 16 11 17 10 16 11 15 11 14 11 10 11 6 12 1 12-4 13-8 13-10 13-13 13-14 13-15 13-14 12-12 12-10 15-12 15-12 14-11 14-10 14-8 14-5 14-2 14 2 15 6 15 8 15 11 14 11 14 11 13 11 12 12 11 15 11 15 10 15 11 13 12 8 13 2 11-3 12-7 12-9 13-11 13-13 13-14 13-14 14-12 13-12 13-10 13-10 13-11 14-10 13-10 13-9 14-8 13-8 13-6 15-6 17-5 16-3 17-3 17-1 16 0 15 2 14 3 15 6 13 8 12 11 11 12 11 12 12 14 11 12 9 12 9 12 9 13 9 13 9 14 10 14 10 13 10 14 10 14 10 16 10 18 11 19 10 17 11 16 11 12 11 7 11 2 8-3 7-6 7-10 7-12 7-14 7-16 7-17 7-18 7-18 7-18 6-18 7-18 7-16 7-14 7-13 11-17 10-15 11-14 10-13 11-12 10-12 11-11 10-10 11-11 11-11 13-12 12-11 13-11 12-10 13-9 12-9 13-8 14-9 15-9 15-9 16-8 15-5 16-4 15 0 14 3 15 5 14 7 14 8 14 11 15 12 14 14 10 11 9 14 10 16 9 17 10 18 9 17 10 15 9 14 10 10 9 6 11 2 12-4 11-9 12-14 12-15 12-17 11-16 12-14 12-11 15-11 16-10 15-9 16-7 15-7 15-4 16-3 17 0 17 1 16 4 17 3 17 2 16 1 17-2 17-2 16-3 17 0 17 4 14 6 12 10 11 12 12 13 12 14 12 15 11 13 12 11 12 9 17 9 16 6 17 4 17 2 16 0 17-1 15-3 16-4 15-6 16-7 15-7 15-9 15-8 14-9 14-10 14-10 14-10 13-10 13-9 11-8 17-11 13-8 13-6 17-5 14-3 16-4 18-2 17-2 18 0 17 1 16 6 15 11 16 12 16 12 15 6 15-2 10-8 7-9 6-12 6-13 6-16 6-16 6-18 5-18 6-18 5-18 6-18 5-16 5-15 5-14 7-16 8-20 7-17 7-16 7-14 7-12 9-11 11-10 13-8 15-5 17-3 17-3 17-2 17-2 16-4 16-7 15-9 15-10 14-11 15-11 13-8 14-6 14-1 16 2 14 5 14 8 14 12 14 13 9 10 9 11 9 12 9 14 9 14 8 15 7 17 7 18 5 16 4 15 3 18 3 19 2 20 3 21 2 20 2 19 2 18 1 15 2 13 2 10 2 5 3 0 3-7 3-15 3-19 2-23 2-23 3-23 2-17 1-15 2-16 1-17 1-17 2-18 1-17 1-18 1-17 2-16 1-16 2-16 2-18 2-15 2-15 3-15 2-15 3-16 2-16 3-19 2-14 2-15 3-16 2-16 3-17 2-17 3-17 3-17 2-17 3-16 2-17 3-16 3-17 2-16 3-17 3-16 2-16 3-16 3-16 2-16 3-17 3-16 3-17 3-15 2-16 3-16 3-16 3-16 3-16 3-16 3-16 3-16 3-16 3-16 3-16 3-16 3-16 4-16 3-17 3-16 4-16 3-17 3-16 4-15 3-16 4-15 3-15 4-18 4-17 4-17 4-17 4-16 4-16 4-16 4-15 4-14 4-14 5-19 5-18 5-16 5-16 5-15 5-14 5-14 6-17 7-17 6-15 6-14 7-13 8-15 12-16 11-13 12-6 14 4 13 12 13 17 7 12 7 13 7 15 7 17 7 18 5 13 4 13 5 14 4 15 5 16 5 17 5 18 4 16 3 14 4 15 3 15 4 16 3 16 4 17 4 17 3 17 4 16 4 17 4 16 4 15 3 16 4 15 4 16 4 16 4 15 4 16 4 16 4 16 4 17 4 16 4 16 4 16 4 16 4 16 4 16 5 17 4 16 4 17 4 16 4 16 4 16 4 16 4 16 4 17 4 16 4 16 4 16 4 16 4 16 4 16 4 16 4 16 4 17 4 16 4 16 4 16 4 16 4 17 4 16 4 17 4 16 4 16 4 16 4 16 4 16 4 16 4 16 4 16 4 16 4 15 4 16 4 15 4 15 4 16 4 15 4 15 4 17 5 17 5 17 5 17 5 17 5 17 4 16 3 15 2 14 2 13-1 20-4 18-5 15-6 13-3 14-1 17 3 22 5 22 5 15 7 1 3-6 4-11 4-15 4-17 5-19 4-19 5-19 6-18 5-16 7-17 7-17 7-17 8-17 8-15 8-15 7-12 8-10 17-15 16-7 17 0 16 4 12 7 13 10 13 12 14 12 15 12 14 9 13 9 14 10 15 9 14 9 15 8 15 8 15 6 15 6 15 6 16 4 15 4 16 4 15 3 17 3 17 1 17 2 17 1 16 1 16 2 17 1 16 1 16 1 15 5 16 12 8 10 8 12 8 14 8 15 8 17 8 16 8 16 8 15 8 14 8 11 13 15 14 12 13 11 13 8 14 7 13 7 16 8 16 8 16 5 16 2 16-3 11-6 12-9 11-11 12-13 11-14 12-14 11-13 10-12 10-13 10-15 10-14 10-13 10-13 10-11 10-9 16-10 17-7 16-3 16-1 15 1 15 5 14 9 12 10 13 11 13 10 15 12 13 11 11 9 4 3" fill="none" stroke="#9c1830" stroke-width="11.5" stroke-linejoin="round"/>
<path d="M420,3184l5-5 6 5 7 0 9 3 9 7 9 3 10-3 9 0 10 7 9-4 9-2 8 9 8-6 7 2 8-8 7 2 7-9 6-7 7-6 7 1 8-4 7-1 8-12 7 2 7-6 8-3 8-8 8-3 8-2 8 0 8-12 8 1 8 0 8 0 7-8 7-1 7 10 7 2 7-2 6 0 7 13 6 0 6 11 7 3 6 9 7 0 7 13 7 2 5 7 5 11 4 6 5 1 5 8 5 10 6 9 5 7 5 6 5 10 5 12 6 9 5-1 6 11 5 8 6-3 6 12 5-5 6 6 6-1 6 0 6-6 6-2 7-3 6-6 7-4 6-8 7-7 6-11 7-1 6-9 7-9 6-2 7-7 6-10 6-8 6-3 6-8 8-5 7-3 8-10 7-2 7-5 7-10 7 0 7-10 7 2 7-3 7-6 7-6 7 3 7-2 7 6 7-7 8 10 7 5 8 1 7 5 7-1 8 13 7 1 7 10 7 6 7-2 6 12 7 6 6-3 6 9 6 12 5 1 5 15 6 2 5 13 5 1 5 10 6 10 6-2 6 3 6 5 7-2 5-4 6 0 6-3 6 4 6-7 6-3 6-13 7 0 6-13 7-2 6-6 7-9 7-2 6-10 7-6 7-4 6-13 7 3 6-9 7-7 6-1 7-11 7 2 6-9 7-7 7-1 6-8 7-8 7 1 6-11 7 3 7-10 6 0 7 0 7-7 6-3 7-6 8-6 8-2 9-1 8 2 8-3 9-1 8 3 9-8 8 0 8 4 8-6 8 1 7 4 7-1 7 5 7 1 8 7 6 4 7 0 6 10 6 3 5 3 6 14 6-1 5 6 6 6 6 12 6 10 5 4 4 2 5 5 4 3 5 13 4 5 5 4 4 10 5 5 5 11 4 5 5 2 5 14 5-2 5 12 5 5 5 5 5 5 5 15 5 0 5 14 5 13 5 1 5 10 6 13 5 8 5 10 6 9 5 1 6 8 5 6 6 2 5 11 5 1 6 0 5-9 3 6 4-3 3-7 4-1 3-8 4-8 3-8 4-5 3-9 3-5 4-4 3-9 4-7 3-10 4-14 3-6 4-11 3-5 4-12 3-12 3-5 4-6 3-16 4-1 3-17 4-5 3-7 4-2 3-4 5-10 6-12 5-3 5-13 5-8 6 0 5-9 5-6 5-6 6-3 5-11 5-2 5-7 6-4 5-10 5-2 5-7 6-8 5-6 6-2 6-11 7 2 6-13 6-7 7-5 6 3 6-11 6-6 6-6 7-5 6 2 6-5 7-3 6-4 6-10 8 0 7-7 8 0 8-4 7-4 8-12 8 4 8-3 7-2 8-10 8-1 7-1 8-1 7 9 7 2 7 0 8 5 7 1 7 0 7 3 7 4 7 12 7 0 8 7 7 8 7 2 7 10 5 5 5 10 4 4 5 6 5 15 5 3 4 12 5 6 5 3 5 13 4 9 5 11 5 4 5 11 4 6 5 3 5 12 5-3 4 11 5-4 5 0 6 2 6 5 6-1 6-14 5 0 6-7 6-4 6-13 6-5 6-10 6-3 6-14 5-1 6-14 6-8 6-1 6-7 8-10 7 0 8-10 8 2 7-6 8-3 8-6 8-6 7-3 8-3 8 3 7-10 8 6 8-10 9 1 8 1 8 7 9-3 8 1 8 6 9-4 8 3 8 3 9 3 8 1 8-2 9-3 8-1 8-3 9 5 8-3 8 0 9-6 8 3 8 4 9 0 8-1 6 7 6 8 6-1 6 5 5 8 6 10 6 8 6 1 6 7 6 8 6 8 6 9 5 3 6 7 6 4 6 13 6 1 8-1 9 12 8-5 8 6 9 8 8 0 8 0 9-2 8-2 8 4 9-5 8 0 8 1 7-5 8 1 8 2 7-4 8-5 8-2 8-5 7-7 8 1 8-7 7 0 8-3 7-9 7-2 7-3 7-8 7-7 7-1 7-3 7-7 7-5 7-4 6-7 7-5 6-6 5-5 6-1 9-11 8-2 7 0 6-5 6-4 7-6 8-1 9-2 7 0 7-4 8 1 8 1 9-9 9 3 8 0 9-4 9 0 9 5 9-9 8 6 8-1 8 10 7 6 8 2 8 2 8 11 8 6 8 7 8 2 7 3 8 2 7-5 7-6 3 2 3-11 4-1 3-8 3-2 3-13" fill="none" stroke="#9c1830" stroke-width="16.5" stroke-linejoin="round" stroke-linecap="round"/>
<path d="M420,3200l7 8 9 10 12 13 12 13 13 14 14 12 13 10 15 9 16 7 16 6 17 6 15 5 15 5 16 7 17 11 16 8 17-4 9-7 10-11 10-13 11-15 11-16 10-14 10-14 9-10 14-16 13-16 12-10 14-2 11 7 7 9 8 12 8 15 8 16 8 17 8 18 9 16 8 16 8 13 11 13 13 15 12 14 13 11 14 7 14 4 14 0 13-5 15-10 15-12 15-12 15-10 13-8 16-3 16 0 16 4 16 6 15 7 15 8 15 11 14 14 15 12 14 8 15 1 11-5 10-10 11-12 11-15 10-15 11-15 11-13 12-11 13-12 12-11 13-10 14-10 14-7 15-7 15-4 16-3 17-2 17-3 18-3 16-4 16-5 16-5 17-5 16-6 17-6 16-6 15-5 16-7 16-8 15-7 15-8 15-6 15-3 16-1 15 4 15 6 16 7 15 7 16 5 15 1 15-4 16-8 15-11 16-11 15-9 15-6 16-1 15 1 15 2 16 5 15 8 16 10 15 14 9 11 8 13 9 16 9 18 8 18 9 19 9 17 9 16 8 14 9 10 9 7 9 1 11-5 10-10 11-15 10-17 11-18 10-18 11-16 10-13 11-8 17-4 16 3 17 6 17 8 16 6 17 1 15-3 16-4 15-6 16-7 15-8 15-8 15-8 14-6 15-7 14-8 14-8 15-10 14-11 12-11 11-11 11-12 11-14 11-13 10-14 11-14 10-13 10-13 10-11 12-15 12-14 12-14 11-13 11-11 11-8 11-5 15-2 14 3 15 6 14 10 15 14 11 14 7 11 7 14 7 15 8 16 7 17 7 16 8 17 7 16 7 14 7 13 10 15 11 16 12 16 11 14 11 12 12 8 11 4 12 0 11-6 11-11 11-13 11-15 12-15 12-14 13-10 13-8 14-8 15-8 14-7 15-9 15-10 13-10 12-11 11-12 12-13 12-13 12-13 11-12 12-11 12-10 16-11 15-11 16-10 16-8 15-6 15-4 15 1 15 6 14 11 13 12 15 11 15 9 16 4 17 2 17 0 17 2 17 4 16 8 10 10 10 14 9 16 9 18 9 16 9 16 9 11 10 8 11 1 11-5 12-10 12-14 13-15 13-16 13-14 13-12 14-8 16-6 16-5 16-4 16-3 16-3 17-2 16-3 16-3 18-2 17-2 17-2 16-1 16-1 14 0 17 4 17 11 14 13 12 6 9-7 7-10 6-15 5-18 6-19 5-19 5-17 6-16 6-16 6-15 7-15 6-16 6-15 6-15 6-16 6-17 5-17 6-16 6-15 7-13 10-13 12-13 13-9 14-7 15-4 14 0 16 4 16 5 16 3 18-2 12-6 14-10 14-12 13-13 14-12 14-10 13-6 13-1 15 4 13 9 13 11 13 14 13 14 10 13 9 11 9 12 9 12 9 13 8 15 8 16 7 17 7 19 4 14 4 17 3 18 4 21 3 21 3 21 3 21 3 20 2 18 3 17 2 13 3 11 2 6 2 3 3-4 3-10 2-14 2-18 2-20 2-22 2-23 1-21 1-20 1-17 1-16 0-17 1-17 0-17 0-17-1-17 0-17 1-17 0-16 1-15 1-16 1-18 2-15 3-15 2-15 3-15 2-16 3-16 3-19 2-14 2-15 3-16 2-16 3-17 2-17 3-17 3-17 2-17 3-16 2-17 3-16 3-17 2-16 3-17 3-16 2-16 3-16 3-16 2-16 3-17 3-16 3-17 3-15 2-16 3-16 3-16 3-16 3-16 3-16 3-16 3-16 3-16 3-16 3-16 3-16 3-16 4-16 3-17 3-16 4-16 3-17 3-16 4-15 3-16 4-15 3-15 4-18 4-17 4-17 4-17 4-16 4-16 4-16 4-15 4-14 4-14 5-19 5-18 5-16 5-16 5-15 5-14 5-14 6-17 7-17 6-15 6-14 7-13 8-15 12-16 11-13 12-6 14 4 13 12 13 17 7 12 7 13 7 15 7 17 7 18 5 13 4 13 5 14 4 15 5 16 5 17 5 18 4 16 3 14 4 15 3 15 4 16 3 16 4 17 4 17 3 17 4 16 4 17 4 16 4 15 3 16 4 15 4 16 4 16 4 15 4 16 4 16 4 16 4 17 4 16 4 16 4 16 4 16 4 16 4 16 5 17 4 16 4 17 4 16 4 16 4 16 4 16 4 16 4 17 4 16 4 16 4 16 4 16 4 16 4 16 4 16 4 16 4 17 4 16 4 16 4 16 4 16 4 17 4 16 4 17 4 16 4 16 4 16 4 16 4 16 4 16 4 16 4 16 4 16 4 15 4 16 4 15 4 15 4 16 4 15 4 15 5 17 5 17 5 18 5 18 5 17 5 17 4 16 3 15 2 13 1 12-5 21-13 12-13 11-7 13 0 18 3 22 5 21 6 15 6 4 4-6 5-12 5-16 5-18 5-21 6-20 7-19 6-16 7-16 7-17 8-17 8-16 8-16 7-14 8-11 12-14 16-12 16-3 20 4 11 5 11 9 13 10 13 12 13 13 13 11 13 11 13 9 15 8 16 8 15 6 16 5 15 5 15 5 16 6 15 4 15 3 16 4 15 4 16 5 15 7 13 8 13 10 13 11 13 12 13 11 14 9 14 7 15 3 15 0 17-3 17-5 17-5 16-5 16-3 14 0 17 4 15 6 15 8 13 9 13 9 15 8 16 9 16 9 14 9 12 7 4 2" fill="none" stroke="#c8141e" stroke-width="11.5" stroke-linejoin="round"/>
<path d="M420,3205l3-3 4 1 4 7 5 7 6 2 6 11 6 7 6 9 7 4 6 5 7 6 7 11 6 8 7 0 7 2 8 10 8-1 8 2 8 3 8 9 8 3 9 1 8 1 7 4 8-1 7 9 6-3 10 7 9 8 8 5 8 2 8 1 8 2 9-8 4 4 5-9 5 0 5-11 5-6 5-8 6-5 5-10 5-10 6 0 5-12 5-8 5-6 5-5 5-6 4-3 7-7 7-12 7-2 6-8 6-14 6 3 7-1 7-1 7-3 4 10 3 2 4-1 4 6 4 16 4 4 4 3 4 7 4 9 4 9 4 14 4 5 4 6 4 16 5 7 4 2 4 14 4 5 4 7 4 5 7 10 6 7 7 8 6 0 6 12 7 4 6 7 7 1 7 8 7-1 7-1 7 0 7-1 6 1 7-8 8 0 7-8 8-3 7-6 7-5 8-3 7-14 8 3 7-8 6-2 7-1 9 0 8-5 8 1 8 7 8-6 8 8 8 4 7-3 8 10 8 4 7 6 8-1 7 13 7 2 7 6 8 11 7-3 7 12 7 2 8-1 7 5 5-7 6-2 5-4 5-3 6-12 5-4 5-7 6-6 5-5 5-13 6-2 5-12 5-5 6-9 5-3 7-1 6-10 7-4 6-10 6-6 7-5 6-2 7-5 7-3 7-11 7 3 7-2 8-7 7-7 8 1 8-5 8 1 9 6 8-4 8-1 9 0 9 0 9-5 9-2 7-2 8-1 8-4 8-1 8-8 9 2 8-5 8 0 8-9 9-2 8-4 8 4 8-1 8-6 7-5 8 1 8-4 8-6 8-7 8-4 7-2 8-5 7-2 8-1 7 0 8-11 7 3 8-6 8 1 7 9 8 0 8 6 7-1 8-1 8 7 8 6 7 7 8 3 8-3 7 0 8-3 8 4 7-7 8-4 8-6 7-5 8 1 8-11 8 3 7-14 8 4 8-11 7-4 8 6 8-5 7 5 8-4 8-1 7 9 8 2 8 4 8 2 7-2 8 10 8 6 7 4 8 12 4-2 5 13 4 4 4 0 5 8 4 15 4 10 5 2 4 11 4 13 5 4 4 16 5 5 4 5 4 11 5 10 4 6 4 8 5 1 4 11 4-1 5 6 4 1 5-2 6-2 5 1 5-3 5-7 6-9 5-11 5-10 5 0 6-12 5-8 5-14 5-6 6-5 5-9 5-9 5-9 6-3 5 1 8-8 9 2 8 0 8 4 9 2 8-1 8 1 9 6 8 5 8 4 9 4 8 1 8-10 7 7 8-3 8-2 7-5 8-7 8 3 8-4 7-5 8-2 8-10 7-6 8 1 7-2 7-9 7 2 8-2 7-10 7 0 7-3 7-6 7-7 7-4 8 0 7-5 7-9 7-10 5 2 6-6 5-11 5-2 6-3 5-7 6-10 5-8 6-5 5-11 5-7 6-7 5-2 5-10 5-5 5-8 5-5 5-9 5-7 6 3 6-14 6-10 6-2 6-6 6-13 5-2 6-9 5-4 6-10 5-4 6 6 5-4 6-6 7-1 8-3 7 6 7-2 7 8 8 2 7 5 7 7 7-1 8 6 7 10 4 5 3 4 4 6 4 11 3 10 4 4 3 12 4 8 4 0 3 13 4 6 4 6 3 17 4 1 4 12 3 8 4 11 3 5 4 4 4 7 3 4 4 14 6 8 5 1 6 7 6 10 6 9 5 12 6 7 6 5 5-2 6 12 6 3 6 2 5 5 6-8 6 0 5 3 6-2 5-7 6-10 5-3 6-6 5-14 6-5 6-8 6-9 6-3 6-10 6-5 7-5 6 0 7-10 7 3 7-9 7-6 8 5 7-10 7 3 8-5 7-4 8-12 7-2 7-9 6 3 6-6 6-8 6-7 5-8 6-1 6-10 6-5 6-11 6-6 6-8 6 0 5-8 6-9 6 1 6-11 6-3 8-8 8-5 7 0 8-10 8-7 8-1 8-6 8 2 8-11 7 5 8-11 7 7 7-2 8-4 7 5 8 2 7 5 7 5 6 7 7 13 7 6 8 5 7-4 8 6 8 8 8-6 8 7 9-3 8 7 9-10 9 9 8-4 9 0 8 1 8 12 8 1 5 1 5 8 5 12 5 0 4 12 5 4 4 9 5 14 4 8 5 3 4 7 5 7 4 12 5 4 5 2 5 3 5 5 6 1 5-1 6-6 6-8 6-7 6 1 6-11 7-4 6-14 6-1 7-12 6-3 7-6 6-10 7-10 7 4 7-8 8 1 8-9 8-4 8 4 8-7 8-3 8 0 8 1 8-8 8 4 9-2 8 0 8-5 8 4 8 0 8-1 9-7 9 3 8-4 9 2 8-8 9 8 8 0 8-5 8-1 8 0 7 1 7-5 6 10 11-5 9 5 8 6 7 8 7 11 6-3 6 2 6 3 3-9 4-6 3-1 3-7 3-8 3-7" fill="none" stroke="#c8141e" stroke-width="16.5" stroke-linejoin="round" stroke-linecap="round"/>
</g>
<path d="M284.6,132.0 L289.0,135.6 M289.0,132.0 L284.6,135.6" stroke="#b9a55a" stroke-width="0.9"/>
<path d="M322.8,132.0 L327.2,135.6 M327.2,132.0 L322.8,135.6" stroke="#b9a55a" stroke-width="0.9"/>
<path d="M361.6,132.0 L366.0,135.6 M366.0,132.0 L361.6,135.6" stroke="#b9a55a" stroke-width="0.9"/>
<path d="M401.8,132.0 L406.2,135.6 M406.2,132.0 L401.8,135.6" stroke="#b9a55a" stroke-width="0.9"/>
<path d="M441.8,132.0 L446.2,135.6 M446.2,132.0 L441.8,135.6" stroke="#b9a55a" stroke-width="0.9"/>
<path d="M481.6,132.0 L486.0,135.6 M486.0,132.0 L481.6,135.6" stroke="#b9a55a" stroke-width="0.9"/>
<g transform="scale(0.1)">
<path d="M427,1175l8 13 8-16 8 1 8 26 8-43 8-19 8 23 8 19 8-24 8-6 8 36 8 13 8-23 8-13 8 16 8-5 8 0 8-16 8 10 8-3 8-20 8 23 8 8 8-4 8 32 8 27 8 5 8-31 8 10 8-5 8-6 8-7 8-20 8 8 8-28 8 18 8 17 8-2 8-29 8 19 8 13 8-13 8-14 8 8 8 1 8 10 8-24 8 7 8 15 8 14 8-2 8 7 8 10 8 6 8-11 8 13 8-41 8 11 8-8 8-22 8-20 8-18 8 12 8 0 8 7 8 17 8-11 8 16 8 2 8-9 8-4 8-30 8 4 8 7 8-13 8-19 8 28 8 18 8-18 8-37 8 8 8-10 8-40 8-18 8-50 8-13 8-12 8-19 8-28 8-103 8-4 8 98 8 42 8-1 8 9 8 78 8 9 8 17 8-3 8 17 8 17 8 13 8-2 8 29 8 5 8 35 8 8 8-10 8 3 8-16 8 24 8-21 8-38 8-14 8 23 8-15 8 10 8 19 8-3 8-3 8 11 8-6 8 4 8 8 8 23 8-63 8 63 8-14 8 8 8-13 8 6 8-19 8 13 8-7 8 10 8-15 8 20 8-30 8 11 8-4 8-2 8-20 8 14 8-3 8-1 8 0 8-7 8-18 8-16 8-18 8-45 8 7 8-26 8-65 8 50 8-4 8-13 8-9 8-9 8 0 8 10 8 0 8 11 8 26 8-6 8 29 8-13 8 34 8-8 8 26 8 4 8 9 8 14 8-8 8 15 8 10 8 3 8 6 8-5 8 3 8 1 8 7 8-5 8 10 8 1 8-11 8-1 8 17 8-2 8-10 8 11 8 2 8-11 8 18 8-6 8 2 8-17 8 19 8-1 8-5 8 15 8-5 8 11 8 6 8-5 8-6 8-4 8 5 8-10 8-24 8 31 8-43 8 27 8 29 8-3 8-5 8 6 8-4 8 13 8-10 8 2 8-31 8 37 8 5 8-2 8-5 8 11 8 1 8-3 8 14 8-1 8 3 8 4 8 10 8 0 8-1 8 4 8 5 8 0 8 11 8-3 8 2 8 1 8 0 8-2 8 0 8-1 8-1 8 1 8-3 8 1 8-1 8 1 8-5 8-2 8-5 8-5 8-3 8-5 8-2 8-38 8-273 8-102 8 2 8 235 8 175 8 4 8 4 8 7 8 5 8 5 8 4 8 6 8 6 8 3 8 0 8 1 8 1 8 1 8 1 8 3 8 0 8 1 8 1 8 0 8 1 8 0 8 1 8 0 8 0 8 0 8 2 8-1 8 1 8-1 8 1 8 0 8 1 8 0 8 0 8 2 8-1 8 2 8 0 8 1 8-3 8 0 8 0 8 0 8 1 8-3 8 1 8-1 8 1 8-2 8-1 8 1 8-1 8 0 8-2 8-1 8 0 8 0 8-1 8 0 8 0 8-1 8-2 8-4 8-3 8-1 8-3 8-650 8-3 8 651 8-2 8 0 8 0 8-2 8 1 8-3 8 1 8-1 8-1 8 1 8-1 8-3 8-2 8-2 8-4 8-1 8-2 8-2 8-3 8-2 8-3 8-1 8-6 8 0 8-2 8-4 8-1 8 4 8 1 8 2 8 2 8 0 8 3 8 3 8 1 8 2 8 3 8 2 8 1 8 3 8 2 8-3 8-5 8-4 8 0 8-8 8-1 8-7 8-2 8-7 8-4 8-3 8-5 8-3 8-9 8 0 8-4 8-15 8-9 8-9 8-14 8-10 8-8 8-5 8-45 8-44 8-46 8-39 8-47 8-119 8-125 8-85 8 0 8 0 8 115 8 131 8 96 8 61 8 59 8 57 8 38 8 11 8 15 8 21 8 12 8 17 8 10 8 5 8 1 8 5 8 5 8 7 8-1 8 6 8 4 8 4 8-1 8-5 8-8 8-9 8-3 8-10 8-8 8-6 8-1 8-17 8-19 8-11 8-26 8-13 8-17 8-13 8-16 8-6 8-16 8-17 8-9 8-19 8-8 8-16 8-22 8 4 8 7 8 15 8 6 8 15 8 5 8 12 8 4 8 3 8 0 8-3 8 5 8 5 8-34 8-28 8-24 8-56 8-42 8-53 8-81 8-73 8-70 8 0 8 0 8 0 8 67 8 112 8 118 8 36 8 29 8 48 8 59 8 26 8 13 8 23 8 11 8 16 8 21 8 16 8 13 8 16 8-2 8 5 8 1 8 9 8-1 8 5 8-1 8 7 8-6 8 6 8 7 8 1 8 1 8 6 8-3 8 3 8 2 8 12 8-10 8 4 8-24 8 28 8-37 8 45 8 8 8-18 8-50 8 43 8-6 8 6 8 5 8-7 8-8 8 9 8-21 8 7 8-5 8 0 8-4 8-1 8-2 8-2 8-13 8 3 8 3 8-16 8-3 8 7 8-12 8 11 8 1 8 0 8-6 8 1 8 5 8 4 8 4 8 13 8-2 8-28 8 30 8 11 8-3 8 0 8 10 8-4 8-2 8 8 8 6 8 5 8 8 8 3 8-5 8 7 8-8 8 7 8-4 8 2 8 1 8-22 8 25 8-6 8 11 8-11 8 6 8-4 8-24 8 12 8 18 8-2 8 1 8 9 8-5 8-8 8-1 8 1 8 0 8 1 8-42 8 48 8-13 8 8 8-8 8 18 8-7 8-9 8 7 8-1 8 12 8-5 8-31 8 16 8 3 8 2 8-1 8 7 8-13 8-35 8 43 8 5 8-10 8-3 8 8 8 5 8-30 8 21 8 1 8 9 8-39 8 38 8-22 8 1 8-5 8 5 8 0 8 3 8-15 8-3 8 9 8-5 8 10 8-17 8-78 8 62 8-89 8 58 8-25 8 1 8-21 8-19 8-18 8-7 8-29 8-46 8-40 8-50 8-15 8-12 8-84 8-1 8 93 8 15 8 32 8 61 8 36 8 22 8 72 8 5 8-10 8 13 8 15 8-1 8 4 8-3 8-1 8-10 8-43 8 40 8-9 8-1 8 6 8 0 8-46 8-19 8-27 8-4 8-9 8-24 8-44 8-104 8-12 8-34 8-63 8-74 8-66 8 5 8-48 8 42 8 41 8 74 8 45 8 49 8 48 8 53 8 29 8 52 8 35 0 86-8-26-8-22-8-37-8-61-8-62-8-42-8-43-8 11-8-34-8-22-8 13-8-20-8 45-8 57-8 49-8 48-8 26-8 63-8 24-8 34-8-5-8 18-8 15-8 35-8 17-8 5-8 6-8 16-8 0-8 2-8-3-8-11-8 13-8-7-8-2-8-9-8 10-8-11-8-6-8 6-8-52-8-50-8-31-8-24-8-39-8-18-8-40-8-6-8 10-8 31-8 14-8 25-8 48-8 51-8 37-8 8-8 27-8-3-8 21-8-3-8 25-8-6-8 29-8 7-8 4-8 6-8-7-8 1-8-3-8 11-8-3-8-4-8 9-8-3-8 5-8 4-8-3-8 4-8-3-8-7-8 3-8 2-8-3-8 9-8-7-8 5-8 1-8 0-8 3-8-1-8-7-8 9-8-2-8 4-8-6-8 7-8-7-8 6-8-6-8 3-8-9-8 5-8 1-8 0-8 9-8-10-8 6-8 2-8-7-8-3-8 1-8 1-8 3-8-7-8 13-8-11-8 5-8 3-8 3-8-8-8 1-8-1-8 1-8-5-8 0-8 7-8-3-8 9-8-9-8 5-8-2-8 4-8-3-8-6-8-7-8 2-8-6-8-5-8 4-8-11-8 5-8-10-8 2-8-3-8 0-8-2-8 2-8-9-8-4-8-7-8-4-8-7-8 10-8-10-8 3-8-12-8 5-8 2-8-3-8 5-8 3-8-3-8 14-8 3-8 2-8-6-8 4-8 3-8 12-8 0-8 0-8-1-8 9-8-4-8 8-8 6-8-3-8 9-8-4-8-1-8 10-8 7-8-6-8-5-8-2-8-3-8-3-8-11-8-1-8 2-8-11-8-2-8-3-8 0-8-2-8-7-8 0-8-7-8-8-8 1-8-3-8-5-8-5-8 2-8-7-8-1-8-6-8-7-8-17-8-15-8-13-8-7-8-17-8-1-8-25-8-29-8-23-8-51-8-38-8-42-8-90-8-74-8-75-8 23-8-37-8 10-8 53-8 71-8 53-8 75-8 38-8 32-8 34-8 20-8 14-8-8-8 0-8-7-8-5-8-7-8-10-8-3-8-10-8-8-8-11-8-13-8-9-8 2-8 12-8 13-8 18-8 13-8 15-8 11-8 13-8 11-8 13-8 17-8 14-8 19-8 15-8 16-8 20-8 10-8 10-8 6-8 7-8 5-8 7-8 4-8 6-8 9-8 1-8-4-8-3-8-5-8-6-8-1-8-6-8-4-8-1-8-5-8-10-8-15-8-16-8-14-8-19-8-14-8-31-8-62-8-56-8-52-8-101-8-131-8-141-8 0-8 0-8 110-8 130-8 114-8 47-8 39-8 45-8 44-8 35-8 12-8 11-8 7-8 8-8 13-8 11-8 9-8 7-8 6-8 0-8 7-8 1-8 2-8 5-8 3-8 6-8 2-8 5-8 4-8 4-8 2-8 5-8-2-8-1-8-4-8 0-8-3-8-4-8-2-8-2-8-2-8 0-8-4-8-2-8-1-8-2-8-1-8 2-8 2-8 1-8 4-8 2-8 2-8 2-8 3-8 3-8 3-8 1-8 3-8 1-8 4-8 1-8 3-8-1-8 2-8 1-8-1-8 2-8 0-8 1-8 0-8 1-8 1-8 0-8-646-8 3-8 645-8 3-8 2-8 5-8 3-8 0-8 1-8 1-8-1-8 2-8-1-8 2-8 1-8 0-8 0-8 0-8 1-8 1-8-1-8 2-8 0-8 0-8 1-8 0-8 2-8-1-8 1-8 1-8-1-8-1-8 0-8 0-8-1-8 1-8-1-8 0-8-1-8 0-8-1-8 1-8-1-8 0-8-1-8 0-8 0-8-2-8 0-8 1-8-1-8 0-8-3-8-1-8 0-8-2-8 0-8-2-8-2-8 0-8-1-8-7-8-4-8-5-8-5-8-6-8-5-8-6-8-5-8-171-8-238-8 2-8 100-8 271-8 37-8 5-8 2-8 5-8 3-8 5-8 2-8 4-8 2-8 1-8-1-8 1-8 1-8 1-8 0-8 1-8 0-8 2-8 2-8 5-8-1-8-3-8 1-8 1-8-2-8 1-8 4-8-2-8-4-8-1-8 0-8 4-8-9-8 6-8 1-8-7-8 5-8-8-8-11-8-3-8 3-8-5-8 8-8-3-8-2-8 13-8-14-8 2-8 4-8-12-8 13-8 0-8-7-8-3-8 5-8 2-8-8-8 1-8-2-8 5-8-16-8 5-8-4-8 6-8 9-8 1-8-11-8-5-8-9-8 0-8-4-8-3-8 15-8-12-8 1-8 2-8 5-8 4-8-12-8-5-8-13-8 14-8-11-8 13-8-16-8 4-8 2-8-14-8-1-8-25-8-8-8-7-8-5-8-3-8-9-8-11-8-24-8-10-8-16-8 3-8-19-8 13-8-6-8 34-8 3-8-3-8 22-8 7-8 17-8 1-8 22-8 25-8 3-8 17-8 25-8 0-8-12-8 11-8 1-8-8-8 18-8 0-8-6-8 23-8-13-8 5-8 13-8 0-8-13-8-5-8 3-8 9-8-3-8-2-8-1-8-1-8 4-8 1-8-2-8 3-8-3-8-6-8-4-8 6-8-8-8 0-8 10-8-5-8 6-8 11-8 7-8-18-8 3-8 12-8-13-8 23-8-9-8-8-8-16-8-6-8 39-8-30-8 24-8-15-8-13-8 4-8 10-8 20-8-10-8 2-8 0-8 7-8-34-8 12-8 19-8-32-8 34-8-18-8-7-8 17-8-16-8 17-8-12-8 19-8-11-8 0-8-17-8-3-8-4-8 13-8-9-8 22-8-15-8 27-8-6-8-15-8 11-8 1-8 5-8-13-8 0-8-6-8-9-8 26-8 12-8-9-8-8-8 17-8-6-8-2-8-1-8-6-8-1-8-23-8-5-8 27-8 4-8-23-8 29-8 0-8 0-8-19-8 4-8 16-8-21-8-15-8 7-8 20-8-5-8 5-8 12-8 0-8 3-8-5-8-3-8 6-8-34-8 17-8-1-8-13-8-5-8 12-8 0-8-6-8 1-8 16-8-6-8 12-8-2-8-13-8 11-8-11-8 2-8 6-8-1-8 9-8-10-8 9-8-11-8 9-8-9Z" fill="#a08c22" fill-opacity="0.85" stroke="none"/>
<path d="M427,1132l8-17 8 12 8 13 8-15 8 5 8-13 8 17 8 5 8-27 8-12 8 34 8-1 8-10 8-4 8 5 8-1 8-14 8 10 8 6 8-27 8 6 8 16 8 0 8 5 8 25 8 15 8 4 8-7 8-6 8 24 8-25 8-1 8-27 8-8 8 21 8 3 8 10 8-9 8-19 8 4 8 18 8-16 8-22 8 5 8 28 8-24 8-7 8 15 8 18 8 0 8 13 8-14 8 2 8 4 8 27 8-20 8-23 8-13 8 10 8-15 8-26 8-56 8 72 8-8 8-18 8 11 8 18 8 2 8-1 8 7 8-34 8 3 8-12 8 23 8-82 8 28 8 13 8 28 8-13 8-37 8 15 8-1 8-56 8-60 8-26 8-81 8-66 8-10 8-104 8-123 8 0 8 7 8 258 8 1 8 34 8 112 8 75 8-19 8-35 8 87 8-17 8 7 8 41 8 7 8-13 8-4 8 64 8 14 8-49 8 29 8-58 8 56 8-56 8 26 8 6 8 1 8-15 8 28 8-6 8 6 8 22 8-18 8 15 8 8 8 16 8-72 8 74 8 5 8-10 8-6 8 12 8-14 8 8 8-2 8 10 8-15 8 15 8-25 8 11 8-12 8 6 8-20 8 6 8 5 8-2 8 1 8-12 8-19 8-13 8-18 8-42 8 4 8-23 8-65 8 50 8-4 8-15 8-12 8-5 8-6 8 17 8 0 8 11 8 26 8-10 8 21 8-1 8 25 8-6 8 33 8-3 8 16 8 4 8 2 8 11 8 14 8-2 8 3 8 3 8 0 8-2 8 13 8-5 8 10 8-3 8-7 8-1 8 6 8 4 8-10 8 9 8 3 8-5 8 9 8-1 8 6 8-24 8 18 8 7 8-7 8 17 8-5 8 6 8 6 8 0 8-6 8-4 8 5 8-10 8-27 8 34 8-43 8 27 8 29 8-6 8-2 8 1 8 1 8 9 8-6 8 2 8-40 8 46 8 5 8-2 8-5 8 11 8-4 8 2 8 8 8 5 8 3 8 3 8 8 8 3 8-1 8 4 8 5 8 0 8 8 8 0 8 2 8 0 8 1 8-2 8 0 8-1 8-1 8 1 8-3 8 1 8-1 8 1 8-5 8-3 8-4 8-5 8-3 8-5 8-2 8-38 8-274 8-101 8 1 8 236 8 175 8 4 8 4 8 7 8 4 8 6 8 4 8 6 8 5 8 3 8 1 8 1 8 0 8 2 8 1 8 2 8 1 8 0 8 2 8-1 8 2 8 0 8 1 8-1 8 0 8 0 8 2 8-1 8 2 8-1 8 1 8 0 8 1 8 0 8 0 8 1 8 0 8 2 8 0 8 0 8-2 8 0 8-1 8 1 8 0 8-2 8 1 8-1 8 0 8-1 8-1 8 0 8-1 8 1 8-3 8 0 8 0 8-1 8-1 8 1 8-1 8 0 8-2 8-4 8-3 8-2 8-4 8-648 8-3 8 651 8-2 8-1 8 1 8-2 8 0 8-2 8 0 8 0 8-1 8 0 8 0 8-3 8-3 8-1 8-4 8-1 8-2 8-2 8-3 8-2 8-4 8-1 8-5 8 0 8-2 8-4 8-1 8 3 8 2 8 2 8 1 8 1 8 3 8 2 8 2 8 2 8 3 8 2 8-1 8 4 8 2 8-2 8-5 8-5 8-1 8-6 8-3 8-6 8-1 8-7 8-7 8-1 8-4 8-6 8-6 8 0 8-4 8-15 8-9 8-11 8-12 8-10 8-10 8-7 8-41 8-44 8-46 8-39 8-50 8-116 8-128 8-82 8 0 8 0 8 110 8 131 8 101 8 61 8 57 8 59 8 36 8 11 8 17 8 20 8 12 8 18 8 9 8 3 8 4 8 2 8 8 8 5 8 1 8 4 8 5 8 5 8-1 8-6 8-10 8-8 8-4 8-7 8-8 8-6 8-4 8-16 8-17 8-14 8-23 8-13 8-20 8-12 8-16 8-5 8-18 8-14 8-9 8-19 8-11 8-17 8-18 8 2 8 9 8 15 8 6 8 12 8 5 8 12 8 7 8 3 8-5 8-2 8 4 8 10 8-35 8-37 8-20 8-50 8-42 8-56 8-78 8-89 8-54 8 0 8 0 8 0 8 67 8 108 8 122 8 36 8 29 8 48 8 51 8 32 8 15 8 22 8 12 8 16 8 17 8 20 8 13 8 15 8-1 8 3 8 3 8 6 8 2 8 2 8 2 8 5 8-4 8 6 8 2 8 2 8 5 8 3 8-1 8 4 8-2 8 10 8-8 8 2 8-18 8 28 8-37 8 43 8 5 8-15 8-48 8 43 8-6 8-1 8 12 8-7 8-8 8 3 8-15 8 7 8-7 8-1 8-1 8-9 8 6 8-2 8-14 8-1 8 3 8-11 8-11 8 9 8-8 8 10 8 4 8 0 8-6 8-1 8 6 8 5 8 4 8 6 8-1 8-25 8 33 8 5 8 3 8 0 8 5 8 0 8-1 8 8 8 3 8 8 8 8 8 3 8-6 8 8 8-9 8 7 8-7 8 6 8-3 8-22 8 26 8-6 8 14 8-11 8 3 8-1 8-30 8 18 8 14 8 2 8 1 8 4 8-8 8-4 8 1 8-4 8 7 8-3 8-44 8 54 8-13 8 8 8-8 8 11 8 0 8-11 8 6 8 2 8 5 8 2 8-36 8 21 8 3 8 2 8-8 8 14 8-13 8-42 8 43 8 7 8-5 8-3 8 8 8-1 8-30 8 27 8 1 8 3 8-33 8 33 8-17 8-5 8 1 8 0 8 5 8-1 8-11 8-6 8 12 8-15 8 10 8-7 8-82 8 66 8-89 8 58 8-25 8-8 8-12 8-19 8-18 8-11 8-30 8-41 8-46 8-44 8-29 8 2 8-84 8-15 8 103 8 19 8 28 8 65 8 36 8 22 8 72 8-2 8-6 8 16 8 8 8 5 8-6 8 8 8-3 8-8 8-56 8 52 8-8 8-1 8 5 8-9 8-36 8-22 8-24 8-4 8-19 8-20 8-44 8-102 8-8 8-34 8-76 8-61 8-66 8 5 8-48 8 42 8 41 8 74 8 45 8 33 8 64 8 40 8 42 8 52 8 35 0 0-8-35-8-52-8-29-8-53-8-48-8-49-8-45-8-74-8-41-8-42-8 48-8-5-8 66-8 74-8 63-8 34-8 12-8 104-8 44-8 24-8 9-8 4-8 27-8 19-8 46-8 0-8-6-8 1-8 9-8-40-8 43-8 10-8 1-8 3-8-4-8 1-8-15-8-13-8 10-8-5-8-72-8-22-8-36-8-61-8-32-8-15-8-93-8 1-8 84-8 12-8 15-8 50-8 40-8 46-8 29-8 7-8 18-8 19-8 21-8-1-8 25-8-58-8 89-8-62-8 78-8 17-8-10-8 5-8-9-8 3-8 15-8-3-8 0-8-5-8 5-8-1-8 22-8-38-8 39-8-9-8-1-8-21-8 30-8-5-8-8-8 3-8 10-8-5-8-43-8 35-8 13-8-7-8 1-8-2-8-3-8-16-8 31-8 5-8-12-8 1-8-7-8 9-8 7-8-18-8 8-8-8-8 13-8-48-8 42-8-1-8 0-8-1-8 1-8 8-8 5-8-9-8-1-8 2-8-18-8-12-8 24-8 4-8-6-8 11-8-11-8 6-8-25-8 22-8-1-8-2-8 4-8-7-8 8-8-7-8 5-8-3-8-8-8-5-8-6-8-8-8 2-8 4-8-10-8 0-8 3-8-11-8-30-8 28-8 2-8-13-8-4-8-4-8-5-8-1-8 6-8 0-8-1-8-11-8 12-8-7-8 3-8 16-8-3-8-3-8 13-8 2-8 2-8 1-8 4-8 0-8 5-8-7-8 21-8-9-8 8-8 7-8-5-8-6-8 6-8-43-8 50-8 18-8-8-8-45-8 37-8-28-8 24-8-4-8 10-8-12-8-2-8-3-8 3-8-6-8-1-8-1-8-7-8-6-8 6-8-7-8 1-8-5-8 1-8-9-8-1-8-5-8 2-8-16-8-13-8-16-8-21-8-16-8-11-8-23-8-13-8-26-8-59-8-48-8-29-8-36-8-118-8-112-8-67-8 0-8 0-8 0-8 70-8 73-8 81-8 53-8 42-8 56-8 24-8 28-8 34-8-5-8-5-8 3-8 0-8-3-8-4-8-12-8-5-8-15-8-6-8-15-8-7-8-4-8 22-8 16-8 8-8 19-8 9-8 17-8 16-8 6-8 16-8 13-8 17-8 13-8 26-8 11-8 19-8 17-8 1-8 6-8 8-8 10-8 3-8 9-8 8-8 5-8 1-8-4-8-4-8-6-8 1-8-7-8-5-8-5-8-1-8-5-8-10-8-17-8-12-8-21-8-15-8-11-8-38-8-57-8-59-8-61-8-96-8-131-8-115-8 0-8 0-8 85-8 125-8 119-8 47-8 39-8 46-8 44-8 45-8 5-8 8-8 10-8 14-8 9-8 9-8 15-8 4-8 0-8 9-8 3-8 5-8 3-8 4-8 7-8 2-8 7-8 1-8 8-8 0-8 4-8 5-8 3-8-2-8-3-8-1-8-2-8-3-8-2-8-1-8-3-8-3-8 0-8-2-8-2-8-1-8-4-8 1-8 4-8 2-8 0-8 6-8 1-8 3-8 2-8 3-8 2-8 2-8 1-8 4-8 2-8 2-8 3-8 1-8-1-8 1-8 1-8-1-8 3-8-1-8 2-8 0-8 0-8 2-8-651-8 3-8 650-8 3-8 1-8 3-8 4-8 2-8 1-8 0-8 0-8 1-8 0-8 0-8 1-8 2-8 0-8 1-8-1-8 1-8 2-8-1-8 1-8-1-8 3-8-1-8 0-8 0-8 0-8 3-8-1-8 0-8-2-8 1-8-2-8 0-8 0-8-1-8 0-8-1-8 1-8-1-8 1-8-2-8 0-8 0-8 0-8-1-8 0-8-1-8 0-8-1-8-1-8 0-8-3-8-1-8-1-8-1-8-1-8 0-8-3-8-6-8-6-8-4-8-5-8-5-8-7-8-4-8-4-8-175-8-235-8-2-8 102-8 273-8 38-8 2-8 5-8 3-8 5-8 5-8 2-8 5-8-1-8 1-8-1-8 3-8-1-8 1-8 1-8 0-8 2-8 0-8-1-8-2-8 3-8-11-8 0-8-5-8-4-8 1-8 0-8-10-8-4-8-3-8 1-8-14-8 3-8-1-8-11-8 5-8 2-8-5-8-37-8 31-8-2-8 10-8-13-8 4-8-6-8 5-8 3-8-29-8-27-8 43-8-31-8 24-8 10-8-5-8 4-8 6-8 5-8-6-8-11-8 5-8-15-8 5-8 1-8-19-8 17-8-2-8 6-8-18-8 11-8-2-8-11-8 10-8 2-8-17-8 1-8 11-8-1-8-10-8 5-8-7-8-1-8-3-8 5-8-6-8-3-8-10-8-15-8 8-8-14-8-9-8-4-8-26-8 8-8-34-8 13-8-29-8 6-8-26-8-11-8 0-8-10-8 0-8 9-8 9-8 13-8 4-8-50-8 65-8 26-8-7-8 45-8 18-8 16-8 18-8 7-8 0-8 1-8 3-8-14-8 20-8 2-8 4-8-11-8 30-8-20-8 15-8-10-8 7-8-13-8 19-8-6-8 13-8-8-8 14-8-63-8 63-8-23-8-8-8-4-8 6-8-11-8 3-8 3-8-19-8-10-8 15-8-23-8 14-8 38-8 21-8-24-8 16-8-3-8 10-8-8-8-35-8-5-8-29-8 2-8-13-8-17-8-17-8 3-8-17-8-9-8-78-8-9-8 1-8-42-8-98-8 4-8 103-8 28-8 19-8 12-8 13-8 50-8 18-8 40-8 10-8-8-8 37-8 18-8-18-8-28-8 19-8 13-8-7-8-4-8 30-8 4-8 9-8-2-8-16-8 11-8-17-8-7-8 0-8-12-8 18-8 20-8 22-8 8-8-11-8 41-8-13-8 11-8-6-8-10-8-7-8 2-8-14-8-15-8-7-8 24-8-10-8-1-8-8-8 14-8 13-8-13-8-19-8 29-8 2-8-17-8-18-8 28-8-8-8 20-8 7-8 6-8 5-8-10-8 31-8-5-8-27-8-32-8 4-8-8-8-23-8 20-8 3-8-10-8 16-8 0-8 5-8-16-8 13-8 23-8-13-8-36-8 6-8 24-8-19-8-23-8 19-8 43-8-26-8-1-8 16-8-13Z" fill="#a08c22" fill-opacity="0.42" stroke="none"/>
<path d="M427,1152l4 69 4 17 4-54 4-22 4-7 4 46 4 9 4-45 4-17 4 75 4-78 4-5 4 17 4 45 4-31 4-20 4 50 4-43 4 21 4 50 4-97 4 79 4-71 4 98 4-52 4-32 4 33 4-53 4 81 4-62 4 85 4-78 4 31 4-45 4 35 4-46 4 69 4-63 4 97 4-41 4 32 4-120 4 69 4-4 4 50 4-93 4 53 4-33 4 12 4 42 4 39 4-13 4-14 4-27 4 31 4-17 4 35 4-37 4-30 4 15 4 48 4-25 4-9 4-2 4-19 4-32 4-26 4 84 4-50 4 45 4 18 4-7 4 2 4-12 4-47 4 60 4-74 4 3 4 54 4 0 4 0 4 13 4-34 4-17 4 35 4-86 4 109 4-56 4 42 4 2 4-89 4 10 4 2 4 71 4 27 4-38 4 10 4 12 4-1 4 26 4-2 4-32 4 25 4-8 4-32 4-29 4 54 4-4 4-25 4-3 4 33 4 3 4-19 4 12 4-34 4 30 4-52 4-1 4 24 4-23 4-17 4 72 4-40 4-89 4 138 4-59 4 39 4-88 4 110 4-35 4-1 4 8 4 0 4-62 4 31 4-27 4 26 4 64 4-4 4-9 4 11 4-53 4 24 4-73 4 12 4 68 4-91 4 60 4-96 4 136 4-20 4 16 4-21 4-49 4 78 4-68 4 54 4-100 4-24 4 73 4-11 4 37 4-46 4-38 4 40 4-116 4 53 4 37 4-1 4-96 4 17 4-179 4 25 4 338 4-225 4-160 4 288 4-302 4-42 4-110 4 259 4-394 4 410 4-264 4 305 4-72 4 45 4-90 4 308 4-260 4 307 4-42 4-127 4 131 4-25 4 51 4-47 4 26 4-60 4-28 4 45 4 64 4-119 4-9 4 120 4-68 4 53 4-84 4 85 4 0 4 31 4-36 4-22 4 41 4 29 4-77 4 16 4 6 4 32 4 13 4-47 4 0 4 39 4-50 4-9 4 8 4 64 4-15 4-47 4-15 4-32 4 10 4 62 4 15 4-64 4-6 4 40 4-33 4 17 4 48 4-1 4-61 4 47 4-11 4 9 4-7 4 26 4 13 4-14 4 10 4-11 4-14 4-20 4 35 4-52 4 53 4-53 4 37 4 13 4 15 4-35 4 39 4-9 4-19 4 10 4-45 4 37 4 35 4-28 4-7 4 1 4-27 4 3 4 4 4 14 4 3 4 8 4-36 4-7 4 31 4-33 4 10 4-14 4 20 4 12 4-30 4 3 4-6 4 7 4 12 4-17 4 5 4 2 4-4 4 3 4-20 4-10 4 6 4-65 4 37 4-49 4-2 4-6 4 53 4-52 4-16 4-22 4 1 4 62 4-29 4 4 4 12 4-38 4 42 4-19 4-80 4 41 4-20 4-39 4 51 4-1 4 5 4 10 4 27 4-29 4 1 4 50 4-21 4 28 4-55 4-16 4 26 4-23 4 68 4 25 4-40 4 36 4-6 4 8 4-19 4 57 4-20 4 12 4 0 4 10 4-33 4 29 4 26 4 4 4 3 4-48 4 48 4-36 4-3 4 13 4 9 4-23 4 26 4-26 4 7 4-6 4-4 4 14 4 36 4 9 4-38 4 15 4 14 4-35 4 15 4-14 4 9 4 19 4-38 4 38 4 31 4-18 4-22 4 22 4-19 4 17 4 3 4-27 4 29 4-33 4-1 4 26 4 1 4 16 4-44 4 60 4-21 4 15 4-3 4-19 4 5 4 10 4-14 4-28 4 47 4 6 4-15 4 4 4 0 4-5 4-26 4-9 4 31 4 2 4 6 4-8 4 6 4 32 4-23 4-44 4 33 4-17 4-1 4 30 4-57 4 77 4-26 4-7 4-51 4 53 4 12 4 5 4-34 4-1 4 41 4-42 4 34 4-65 4 54 4-23 4 38 4-30 4 6 4-7 4-9 4 8 4 5 4 43 4-11 4-31 4 43 4-18 4-10 4 18 4-7 4-21 4 3 4 13 4 6 4 1 4 2 4-12 4-1 4 2 4-1 4 15 4-16 4 32 4-16 4 11 4 6 4 2 4 5 4-21 4 23 4-23 4 16 4-16 4 18 4-17 4 4 4 11 4-12 4 7 4 1 4 13 4-14 4 3 4 0 4 1 4 2 4-3 4 1 4-2 4 1 4 0 4-3 4 5 4-1 4-4 4 0 4-2 4 3 4-1 4 3 4-1 4-4 4 2 4-1 4-1 4 2 4-6 4 2 4 0 4-2 4-7 4 2 4 0 4-4 4-8 4 1 4 1 4-5 4-1 4-1 4-1 4-39 4-135 4-137 4-95 4-6 4-2 4 8 4 102 4 136 4 134 4 36 4-1 4 7 4 2 4-1 4 1 4 9 4-3 4 6 4-3 4 6 4 0 4 2 4 9 4 1 4 3 4 3 4 1 4 3 4-5 4 4 4-4 4 5 4 1 4-2 4 3 4-5 4 5 4-3 4 6 4 0 4-4 4 2 4-2 4 2 4 3 4 1 4-1 4 1 4-3 4 4 4 1 4-2 4 2 4 3 4-2 4-4 4 5 4-5 4 3 4 4 4-7 4 1 4 0 4 2 4-1 4 4 4-1 4 2 4-2 4 2 4-4 4 1 4 0 4 0 4 0 4 1 4-1 4 4 4 1 4-5 4 4 4 2 4 0 4-3 4 2 4-4 4 3 4 0 4 2 4-7 4 2 4 2 4 0 4 2 4-2 4 1 4-5 4 1 4 1 4 2 4 0 4-3 4 2 4 1 4-1 4-4 4 2 4-2 4 2 4 0 4-1 4-1 4 1 4-2 4 3 4-4 4 1 4 0 4 1 4-6 4 5 4-2 4-3 4 4 4-1 4-3 4 5 4-3 4 1 4 2 4-1 4-3 4 3 4-3 4-5 4 1 4-4 4-1 4 0 4-2 4-3 4 2 4-277 4-366 4-64 4 51 4 374 4 279 4-3 4 4 4-1 4 1 4 1 4-7 4 0 4 0 4 1 4-2 4 0 4-1 4 0 4 0 4 3 4 0 4-4 4 2 4 3 4-2 4-3 4 0 4 3 4-7 4-2 4 7 4-6 4-2 4-3 4 2 4-3 4 3 4-4 4-4 4 6 4-4 4 0 4-5 4-2 4-1 4 0 4-5 4 3 4 1 4-4 4-5 4 3 4 1 4-6 4 3 4 0 4 0 4-7 4 4 4-2 4-1 4 8 4-4 4 3 4 0 4-1 4 1 4 3 4 3 4-4 4 0 4 3 4 4 4 3 4-5 4 5 4-1 4 5 4-2 4 5 4-5 4 1 4 5 4 0 4 3 4-6 4 5 4-1 4-3 4 5 4-4 4-6 4-1 4 1 4-2 4-4 4 5 4-3 4-2 4-8 4 2 4-7 4-3 4 8 4-5 4-11 4-1 4-2 4-2 4-4 4 10 4-1 4-15 4 8 4-17 4 9 4 3 4 0 4-15 4-2 4 1 4-17 4 3 4 0 4-6 4-15 4 1 4-13 4 0 4-5 4-15 4 2 4-2 4-14 4-24 4-25 4-17 4-13 4-25 4-37 4-9 4-25 4-26 4-56 4-51 4-76 4-52 4-62 4-42 4 0 4 0 4 0 4 0 4 45 4 94 4 57 4 71 4 55 4 33 4 35 4 24 4 36 4 27 4 20 4 38 4 26 4 12 4 3 4-3 4 11 4 17 4 0 4 3 4 17 4 13 4 6 4-3 4 20 4 0 4-1 4 0 4 3 4 6 4-10 4 2 4 14 4 3 4-4 4 1 4 1 4 2 4-3 4 17 4-8 4 7 4 3 4-7 4-4 4 12 4-9 4-2 4-15 4-1 4 3 4-1 4-8 4 7 4-11 4-2 4-6 4 11 4-22 4 11 4-11 4 6 4-21 4-8 4-8 4 5 4-11 4-16 4-13 4-11 4 11 4-7 4-20 4-11 4-11 4-9 4 1 4-11 4 13 4-11 4-13 4-13 4 5 4-9 4-13 4 5 4-25 4 3 4-12 4-9 4-4 4 4 4-14 4 1 4-19 4 8 4 11 4-15 4 8 4 30 4-12 4 21 4-5 4 10 4-7 4-5 4 26 4 4 4-18 4 13 4 11 4-5 4-5 4 12 4-3 4 20 4 0 4-10 4-19 4 5 4-12 4 7 4 1 4-41 4-25 4 20 4-1 4-18 4-31 4-54 4-10 4-52 4-59 4-4 4-4 4-90 4 29 4-45 4-8 4 29 4 6 4-43 4-17 4 12 4 101 4-15 4 33 4 7 4 89 4 72 4-20 4 68 4-8 4 6 4 64 4 17 4-4 4 16 4 4 4 38 4 10 4 10 4-13 4 29 4-19 4 14 4 9 4-3 4 24 4 11 4 0 4 18 4-2 4 11 4-8 4 11 4-4 4 3 4 12 4-9 4 9 4 10 4-5 4-2 4-7 4 23 4-5 4 9 4-1 4-10 4 1 4 7 4-4 4 15 4-11 4 18 4-6 4-15 4 25 4-14 4 14 4-19 4 7 4 9 4-1 4-7 4 18 4 6 4-22 4 20 4 15 4-14 4 12 4-10 4-29 4 23 4 20 4-46 4-12 4 34 4 28 4-29 4 36 4-17 4-12 4 5 4 9 4 6 4-16 4-44 4 37 4-14 4 12 4-8 4 28 4-20 4 27 4-19 4 0 4 12 4-12 4-19 4 14 4 14 4-44 4-10 4 35 4-27 4 1 4-2 4 39 4-50 4 28 4 11 4-23 4-2 4 6 4-23 4 37 4-33 4-10 4 14 4-37 4 28 4-18 4 18 4 12 4-30 4 7 4-7 4 25 4-29 4 9 4 23 4-44 4 28 4-15 4 38 4-30 4 9 4 6 4-12 4 17 4-19 4 9 4-4 4-14 4 11 4 22 4 17 4-11 4 1 4-20 4 8 4 2 4-4 4 29 4 8 4-21 4 13 4-6 4 20 4-11 4-24 4 42 4-10 4-12 4-1 4 34 4-21 4 2 4-18 4 23 4-5 4 1 4 8 4-13 4 19 4-4 4 7 4-4 4 14 4-15 4 3 4-5 4-3 4 36 4-42 4 32 4-33 4 25 4 2 4-9 4 0 4-4 4-27 4 42 4-30 4 17 4 8 4-27 4 20 4-4 4 3 4 20 4-38 4 20 4-3 4 14 4-59 4 39 4-7 4 30 4-15 4-18 4 19 4 13 4-23 4-15 4 45 4-68 4 28 4-21 4 27 4 29 4-34 4 31 4-41 4 27 4-5 4 17 4-6 4-1 4-57 4 74 4-4 4-14 4-4 4-8 4 3 4-4 4 7 4-12 4 2 4 22 4-16 4 26 4-44 4 20 4-9 4 0 4-3 4-8 4 24 4 11 4-15 4 11 4-1 4 2 4-24 4-6 4 26 4-7 4 20 4-38 4 30 4-7 4 9 4-22 4 7 4 8 4-29 4 18 4 27 4-32 4 13 4 10 4-23 4 0 4 9 4-12 4 22 4-19 4 12 4-21 4-5 4 16 4 2 4-3 4 4 4-8 4-6 4 5 4-27 4 23 4 19 4 12 4-23 4 6 4 3 4-17 4 8 4 20 4-1 4-33 4 26 4-26 4 34 4-60 4 20 4 25 4-47 4 33 4 6 4 4 4-34 4 18 4 22 4-6 4 17 4-16 4-40 4 0 4 2 4 36 4-78 4 31 4 17 4-29 4-29 4 28 4 5 4 0 4-77 4 71 4-59 4 23 4-54 4 24 4 20 4-76 4 47 4-32 4-75 4-10 4-14 4-49 4 64 4-63 4 18 4 10 4-54 4-26 4-11 4 6 4-10 4 56 4 59 4-82 4 57 4 22 4 29 4-20 4 19 4 17 4 13 4 102 4-18 4 7 4 20 4 7 4 19 4-25 4 48 4-43 4-16 4 55 4-42 4 10 4-15 4 43 4-43 4 78 4-77 4-6 4 54 4-6 4-8 4-27 4-27 4 22 4 16 4-3 4 0 4-19 4-8 4 61 4-51 4 36 4-9 4-78 4 60 4-32 4 13 4-14 4-57 4-1 4-27 4 31 4-39 4 24 4 19 4-74 4-34 4 48 4-56 4-50 4 52 4-227 4 101 4 6 4-7 4-140 4 15 4-29 4-70 4 15 4 5 4 68 4-78 4 118 4-55 4 28 4 94 4 3 4-49 4 10 4 3 4 33 4 20 4 49 4 43 4 17 4 32 4 78 4-23 4 21 4-38 4 45 4 38" fill="none" stroke="#a08c22" stroke-width="7" stroke-linejoin="round"/>
<path d="M427,1144l8 38 8-14 8-9 8 16 8-2 8-9 8-2 8 7 8-1 8-8 8 32 8 11 8-35 8 43 8-3 8 2 8-20 8-15 8 6 8-17 8-11 8 5 8 10 8-4 8-1 8 12 8 4 8 9 8 12 8-1 8-16 8 13 8-2 8 5 8-16 8-15 8 41 8-20 8-2 8 16 8-2 8-26 8-1 8-21 8-8 8-47 8-33 8-28 8-8 8-77 8 5 8 0 8-56 8-37 8-82 8 21 8 11 8-20 8 101 8-29 8 62 8 28 8 41 8-9 8-1 8 63 8 31 8-16 8-23 8 36 8 20 8 6 8-3 8-21 8 16 8-9 8 28 8 14 8-19 8 31 8 29 8-4 8-12 8 16 8 32 8-36 8-20 8-27 8-12 8-1 8-23 8-12 8 6 8-7 8-27 8-33 8-26 8-59 8-1 8-7 8-130 8-45 8-27 8 149 8-24 8 20 8 43 8 44 8 34 8 5 8 14 8 16 8 11 8 64 8 9 8-62 8 2 8 27 8 20 8 10 8 6 8 16 8 28 8-21 8-10 8 9 8-27 8 2 8-14 8-6 8 9 8 1 8-1 8 3 8-14 8 0 8-63 8 82 8-48 8 44 8-10 8 4 8 7 8 5 8 22 8-14 8 3 8 11 8-4 8 8 8-6 8-2 8 1 8 11 8 5 8 4 8 7 8-18 8 17 8-25 8-1 8-3 8-8 8-5 8-9 8-22 8-8 8-19 8-18 8 4 8-38 8-25 8-10 8-23 8-2 8-21 8 12 8-24 8 3 8 17 8 8 8-3 8-10 8 8 8 11 8 39 8-10 8 33 8-28 8 31 8 33 8-58 8 67 8 23 8 2 8-43 8 64 8-4 8 4 8 10 8-4 8 13 8-9 8 13 8-2 8 14 8 6 8-1 8 11 8-19 8-21 8 17 8-23 8-10 8-7 8 0 8-11 8 1 8-42 8 53 8 4 8 3 8 1 8 13 8-9 8 7 8 4 8 18 8 1 8 13 8-3 8-10 8-14 8 5 8-10 8-14 8-2 8-26 8-13 8-1 8-16 8-43 8-75 8-48 8-89 8-161 8 48 8 59 8 107 8 98 8 83 8 66 8 18 8 6 8 10 8 18 8 15 8-2 8 8 8 6 8 13 8 3 8 3 8 0 8 2 8 4 8 3 8 4 8-1 8 10 8 6 8 1 8 6 8-2 8-2 8-3 8-9 8-1 8-1 8 1 8-9 8 4 8-4 8-5 8-8 8-2 8-3 8 6 8 2 8 0 8 11 8 4 8 3 8 3 8-2 8 10 8-2 8 6 8 6 8-4 8-2 8-6 8 3 8-6 8-5 8-7 8 5 8-3 8-5 8-1 8-1 8-2 8 2 8 9 8 0 8 5 8 2 8 5 8 5 8 2 8 6 8-1 8 9 8-2 8-2 8-2 8-6 8-4 8-4 8-2 8-4 8-7 8-5 8-1 8-12 8-4 8 3 8 6 8-1 8 4 8 4 8 0 8 6 8 3 8 4 8-1 8 5 8 1 8 7 8 3 8 2 8 0 8-1 8-2 8 3 8-2 8-4 8-1 8-1 8 1 8-2 8-3 8-1 8-1 8-3 8 1 8 0 8 3 8 3 8 2 8 2 8 2 8 3 8 4 8 1 8 3 8 1 8 3 8 4 8 1 8 4 8 1 8-1 8-1 8 0 8 0 8-1 8 0 8-1 8 1 8-1 8-1 8 0 8-1 8-1 8-1 8 1 8 1 8 1 8 1 8 0 8 0 8 2 8-1 8 2 8 0 8 1 8 2 8-1 8 3 8-1 8 2 8 0 8 1 8 0 8 1 8 2 8-1 8 2 8 1 8 1 8 0 8-1 8 2 8-1 8-1 8 1 8 0 8 0 8 1 8 1 8-1 8 1 8-1 8 2 8 1 8 0 8-1 8 0 8 1 8-1 8 2 8-2 8 2 8 0 8 1 8-1 8 1 8-1 8 2 8 0 8-1 8 1 8 0 8 0 8-2 8 1 8-1 8-1 8 0 8 0 8 0 8 1 8-1 8 0 8 0 8 0 8-1 8 0 8 0 8 0 8-2 8 1 8 0 8-1 8 0 8 1 8-2 8 1 8 0 8-1 8 0 8 1 8-1 8-3 8 0 8-1 8-2 8 0 8 0 8-1 8-1 8 0 8-2 8-3 8 1 8 0 8-3 8 1 8-2 8-2 8-2 8 2 8-5 8-4 8-3 8-4 8-3 8-4 8-3 8-5 8-4 8-3 8-3 8-4 8 0 8 5 8 3 8 1 8 3 8 2 8 4 8 4 8 2 8 4 8 3 8 3 8 2 8-5 8-5 8-7 8-4 8-5 8-4 8-8 8-5 8-5 8-3 8-9 8-3 8-8 8-7 8-6 8-6 8 1 8-7 8 2 8-1 8 9 8-7 8 3 8-12 8 6 8 6 8-6 8 13 8-11 8 8 8 3 8-16 8 1 8-13 8 11 8-10 8-8 8-3 8 0 8-14 8-13 8-11 8-12 8-17 8-17 8-16 8-24 8 8 8-24 8-23 8-43 8-90 8 25 8-20 8-32 8-18 8-96 8 53 8-78 8-19 8-43 8 10 8-25 8 131 8 44 8 45 8-3 8 116 8 35 8 33 8 53 8 3 8 34 8 0 8 23 8 26 8 19 8 23 8-2 8-2 8 0 8 0 8 16 8-2 8-8 8 15 8-5 8-28 8 37 8-8 8 7 8-21 8 31 8-11 8 14 8-9 8-3 8 4 8-1 8-3 8-6 8-7 8 5 8 5 8 2 8 4 8-7 8 7 8-3 8 8 8-3 8-23 8 13 8 4 8-10 8-1 8 6 8-8 8 7 8-9 8 5 8-7 8 0 8 12 8 2 8 2 8-7 8-1 8 6 8-10 8 13 8-1 8 3 8-8 8-2 8 6 8 12 8 0 8-14 8 12 8-37 8 28 8 13 8-1 8-11 8 21 8-17 8 11 8-14 8 7 8-5 8-4 8 4 8 8 8-13 8 9 8-20 8 11 8 20 8-19 8 8 8-8 8 7 8 7 8-15 8 13 8 2 8-4 8-53 8 54 8-11 8 5 8 0 8 2 8-4 8-55 0 109-8-5-8 12-8-13-8 12-8-3-8 1-8 1-8-1-8 7-8-10-8-1-8 7-8-5-8-3-8 1-8-2-8 5-8 4-8 5-8 1-8-15-8 6-8 3-8-2-8-8-8 3-8-4-8 7-8 8-8-9-8 3-8-5-8 3-8-8-8-2-8 8-8 3-8-8-8 6-8-4-8-1-8-2-8 1-8-4-8 9-8-5-8 0-8-3-8 1-8-1-8-12-8 13-8-9-8-5-8 9-8-9-8 3-8 8-8 6-8-12-8-4-8 8-8 5-8-2-8-6-8 1-8 9-8-1-8 10-8-6-8-9-8 8-8 1-8-10-8 13-8 0-8 2-8-10-8 4-8 0-8 4-8-5-8 0-8-2-8 7-8 2-8-15-8 15-8-16-8 2-8-1-8-12-8 1-8-3-8 6-8-13-8 0-8 6-8-17-8-22-8-6-8-23-8-19-8-22-8-9-8-38-8-52-8-43-8-43-8-51-8-36-8-40-8-28-8-44-8-25-8 67-8 12-8 40-8 19-8 9-8 30-8 23-8 26-8 32-8 31-8 18-8 26-8 20-8 18-8 19-8 11-8 19-8 17-8 13-8 9-8 1-8 14-8-4-8 12-8 0-8 0-8 1-8 10-8 11-8 6-8-4-8 9-8-7-8-12-8-2-8 6-8-2-8-1-8-2-8-2-8-5-8 2-8-1-8-4-8-1-8 1-8 4-8 4-8 8-8 5-8 0-8 6-8 3-8 3-8 5-8 5-8 3-8 7-8 4-8 5-8 6-8-3-8-3-8-3-8-2-8-5-8-2-8-2-8-3-8-3-8-2-8-3-8-4-8 0-8 3-8 3-8 5-8 3-8 4-8 4-8 2-8 3-8 5-8 3-8 2-8 5-8 1-8 2-8 0-8 2-8 0-8 1-8 1-8 1-8 2-8 0-8 2-8 1-8 1-8-1-8 3-8 0-8 2-8-1-8 1-8 2-8-1-8 1-8 0-8 1-8-2-8 1-8 1-8-1-8 0-8 2-8-1-8 1-8 0-8 1-8 0-8 1-8-1-8 0-8 1-8 1-8-1-8 0-8 1-8-1-8 1-8 1-8-1-8 0-8 1-8 0-8 0-8 0-8 1-8-2-8 0-8 1-8-2-8 1-8 0-8-1-8 1-8-2-8 1-8 0-8-1-8-1-8 1-8-1-8 0-8-1-8 1-8-1-8 1-8-2-8 0-8 0-8 0-8 0-8-1-8 1-8 0-8-1-8-1-8-1-8 0-8-2-8 0-8-1-8 0-8-1-8-1-8 0-8-2-8 1-8-3-8 1-8-2-8-1-8 0-8-1-8 0-8-2-8 0-8 0-8-2-8 1-8-2-8 0-8 1-8 1-8 2-8-2-8 2-8 0-8 1-8-1-8 2-8 1-8 0-8 0-8 0-8-1-8-3-8-1-8-4-8-1-8-3-8-2-8-3-8-3-8-3-8-1-8-2-8-3-8-2-8-3-8 0-8 4-8 0-8 1-8 4-8 2-8 1-8 1-8 4-8-2-8 2-8 2-8 1-8 3-8 5-8-5-8 1-8-3-8-7-8-1-8-5-8-3-8 0-8 1-8-8-8-1-8-5-8-2-8 0-8-2-8-2-8 4-8 9-8 2-8 3-8 9-8 5-8-1-8 3-8 4-8 6-8 8-8 1-8 0-8-5-8-6-8 0-8-9-8-2-8-2-8-9-8 3-8-7-8-3-8-1-8 0-8 1-8 0-8 5-8 0-8 6-8 4-8 6-8-2-8 1-8 4-8 1-8 7-8-4-8-2-8-7-8 1-8-3-8-6-8-4-8-2-8-7-8 0-8-7-8-1-8 5-8 1-8 1-8 9-8 4-8 2-8 3-8 4-8 0-8 7-8 0-8-1-8 4-8-1-8 0-8-7-8-4-8-5-8-4-8 0-8-4-8 1-8-1-8-12-8 0-8-8-8 0-8-10-8-2-8 3-8-10-8-19-8-15-8-11-8-16-8-54-8-95-8-74-8-97-8-52-8 3-8 94-8 83-8 72-8 56-8 34-8 15-8 13-8 12-8 19-8 8-8 10-8 14-8 3-8 10-8-2-8-2-8-4-8 7-8-19-8 1-8-5-8 7-8-22-8 12-8-18-8-5-8-5-8-3-8 0-8 5-8 16-8 12-8 10-8 4-8-4-8 10-8 18-8-18-8-4-8 14-8-1-8 0-8-19-8 11-8-16-8-6-8-12-8 3-8 8-8-14-8 6-8-15-8-18-8-12-8-16-8 6-8-21-8-17-8-4-8-19-8-11-8-17-8 4-8-16-8 3-8-2-8-11-8 14-8-5-8-4-8 33-8 10-8 18-8-3-8 38-8 19-8 9-8 15-8 4-8 11-8 12-8 12-8 8-8 4-8 26-8-7-8 14-8-3-8 8-8-12-8 0-8 0-8-7-8 13-8-16-8-4-8 2-8 6-8 5-8-20-8 8-8-6-8 2-8 1-8-17-8 0-8 4-8-4-8 1-8-4-8 15-8-5-8-15-8 3-8 20-8 4-8-7-8 17-8-1-8 9-8 9-8 3-8-4-8 6-8-6-8-4-8 15-8-1-8-4-8-14-8 35-8-14-8-5-8-12-8 11-8 9-8-19-8 15-8 19-8-14-8-19-8 23-8-23-8 2-8 27-8-24-8 17-8 14-8-27-8 8-8-19-8 24-8-15-8-1-8 7-8 15-8-22-8 1-8 17-8 14-8 1-8-11-8-24-8 12-8 12-8 1-8-14-8 18-8 2-8-8-8-17-8-2-8 25-8-28-8 11-8 21-8-14-8-24-8 22-8-19-8 3-8-5-8 31-8-11-8-4-8-3-8-2-8 9-8-18-8 12-8 21-8-14-8-14-8 26-8-1-8 6-8-21-8 21-8-26-8-12-8-1-8 39-8-32-8 28-8-8-8 6-8 1-8 11-8-12-8-17-8 22-8-10-8 2-8-5-8 2-8 5-8 13-8-22-8 15-8-8-8-10-8-16-8 20-8 6-8-13-8 22-8-5-8 1-8-11-8 11-8 10-8-2-8-11-8 6-8-13-8 3-8-11-8 16-8-22-8-4-8 1-8 16-8-14-8 15-8-6-8-13Z" fill="#86c042" fill-opacity="0.85" stroke="none"/>
<path d="M427,1093l8 30 8-33 8 9 8 29 8-13 8 8 8-3 8-10 8-2 8 16 8 9 8 1 8 14 8 14 8 9 8-4 8-15 8-26 8-5 8 0 8-19 8 3 8 11 8-15 8 24 8 22 8 2 8-11 8 39 8-23 8 6 8-20 8 19 8 3 8-10 8-25 8 32 8-3 8 12 8-6 8-27 8-6 8-3 8-27 8-12 8-62 8-12 8-21 8-71 8-85 8-41 8 23 8-117 8-161 8-19 8 0 8 0 8 0 8 73 8 82 8 40 8 124 8 68 8-39 8 42 8 88 8 32 8-22 8-12 8 29 8 19 8 10 8-29 8 8 8 25 8 7 8 10 8-8 8-9 8 32 8 48 8-20 8 14 8-23 8 27 8-63 8 13 8-86 8 68 8-24 8-10 8-23 8 7 8-21 8-22 8-30 8-76 8-141 8 12 8-28 8-192 8 0 8 0 8 0 8 0 8 0 8 179 8 84 8 55 8 67 8 12 8 34 8 36 8 30 8 23 8-42 8 16 8-26 8 73 8 0 8-7 8 38 8 14 8-3 8 4 8-19 8-5 8 14 8-24 8 5 8-6 8 7 8 9 8-2 8-9 8 0 8-63 8 75 8-41 8 44 8-10 8 4 8 7 8 5 8 22 8-18 8 3 8 4 8 7 8 8 8-6 8-4 8 2 8 5 8 10 8 6 8 0 8-11 8 5 8-18 8-6 8 7 8-14 8 1 8-9 8-28 8-3 8-18 8-26 8 0 8-26 8-26 8-9 8-23 8-10 8-13 8 1 8-17 8 7 8 6 8 5 8 11 8-13 8 10 8 12 8 31 8-2 8 21 8-20 8 35 8 25 8-51 8 68 8 17 8-2 8-33 8 64 8-4 8 4 8 2 8 1 8 11 8-4 8 11 8-4 8 18 8-1 8 3 8 3 8-10 8-19 8 13 8-19 8-10 8-12 8 5 8-11 8 1 8-42 8 53 8 4 8-2 8 6 8 12 8-8 8 7 8 4 8 9 8 7 8 10 8-4 8-3 8-15 8 6 8-16 8-8 8-5 8-23 8-15 8 1 8-16 8-43 8-75 8-57 8-80 8-164 8 41 8 69 8 107 8 92 8 89 8 64 8 15 8 11 8 10 8 13 8 20 8-2 8 8 8 6 8 8 8 5 8 6 8 0 8 2 8 3 8 4 8 4 8-2 8 11 8 4 8 3 8 3 8-2 8-4 8 2 8-9 8-1 8-3 8 3 8-11 8 5 8-5 8-4 8-7 8-6 8 0 8 6 8 3 8 0 8 10 8 5 8 2 8 0 8 2 8 9 8-2 8 7 8 6 8-4 8-2 8-6 8-1 8-2 8-5 8-7 8 4 8-2 8-9 8-1 8 3 8-2 8 0 8 8 8 0 8 5 8 2 8 7 8 3 8 3 8 6 8 1 8 5 8 1 8-1 8-3 8-5 8-4 8-4 8-2 8-4 8-7 8-8 8-2 8-8 8-5 8 0 8 7 8-2 8 7 8 5 8-1 8 4 8 5 8 2 8 2 8 5 8 1 8 4 8 4 8 4 8-1 8-1 8-1 8 1 8-1 8-3 8-1 8-1 8 1 8-4 8-1 8-1 8-1 8-3 8 1 8 0 8 3 8 2 8 3 8 2 8 2 8 3 8 3 8 2 8 3 8 1 8 3 8 3 8 2 8 4 8 1 8-2 8 0 8-1 8 1 8-1 8 0 8-1 8 0 8-1 8 0 8-1 8 0 8-2 8 0 8 1 8 0 8 2 8 0 8 0 8 1 8 2 8-1 8 2 8-1 8 1 8 2 8 0 8 2 8 0 8 1 8 0 8 1 8 1 8 1 8 2 8-1 8 2 8 1 8 0 8 1 8-1 8 1 8 0 8-1 8 0 8 1 8 0 8 0 8 2 8-1 8 0 8 0 8 2 8 0 8 0 8 0 8 0 8 1 8-1 8 2 8-2 8 2 8-1 8 2 8-1 8 1 8-1 8 2 8 0 8-2 8 2 8-1 8 1 8-3 8 2 8-1 8-1 8 0 8 0 8 0 8 1 8-1 8 0 8 0 8 0 8-2 8 1 8 0 8 0 8-2 8 1 8-1 8 0 8-1 8 1 8-1 8 0 8 1 8-1 8-1 8 1 8-1 8-2 8-1 8 0 8-2 8 0 8 0 8-2 8-1 8 0 8-2 8-2 8 0 8 0 8-2 8 0 8-1 8-2 8-2 8 0 8-3 8-4 8-4 8-3 8-3 8-4 8-4 8-4 8-5 8-3 8-3 8-3 8 0 8 4 8 2 8 3 8 3 8 2 8 4 8 3 8 2 8 5 8 2 8 4 8 2 8-5 8-6 8-6 8-4 8-6 8-4 8-7 8-5 8-7 8-3 8-7 8-3 8-11 8-4 8-7 8-5 8 1 8-7 8 2 8-1 8 9 8-11 8 7 8-12 8 6 8 6 8-6 8 13 8-11 8 5 8 0 8-10 8-6 8-6 8 3 8-2 8-16 8-4 8 7 8-15 8-10 8-11 8-12 8-19 8-16 8-21 8-18 8-2 8-23 8-19 8-39 8-89 8 25 8-20 8-32 8-18 8-106 8 50 8-65 8-34 8-28 8 10 8-25 8 118 8 57 8 45 8-9 8 115 8 32 8 37 8 59 8 3 8 27 8 7 8 23 8 26 8 15 8 25 8 0 8-4 8-4 8 3 8 10 8 6 8-13 8 21 8-5 8-28 8 37 8-8 8 7 8-21 8 22 8-2 8 6 8-9 8 5 8 2 8 1 8-8 8-4 8-4 8 5 8 3 8 4 8 1 8-4 8 0 8-3 8 6 8-1 8-16 8 13 8-3 8-5 8-8 8 7 8 0 8 7 8-9 8 5 8-11 8 4 8 8 8 6 8-3 8-2 8-1 8 2 8-6 8 13 8-1 8 3 8-13 8 3 8 3 8 15 8-7 8-7 8 12 8-37 8 28 8 8 8 0 8-9 8 16 8-11 8 4 8-8 8 8 8-11 8 0 8-1 8 13 8-10 8 9 8-20 8 11 8 12 8-14 8 9 8-6 8 3 8 9 8-13 8 4 8 3 8-2 8-47 8 54 8-11 8 5 8-6 8 8 8-4 8-55 0 0-8 55-8 4-8-2-8 0-8-5-8 11-8-54-8 53-8 4-8-2-8-13-8 15-8-7-8-7-8 8-8-8-8 19-8-20-8-11-8 20-8-9-8 13-8-8-8-4-8 4-8 5-8-7-8 14-8-11-8 17-8-21-8 11-8 1-8-13-8-28-8 37-8-12-8 14-8 0-8-12-8-6-8 2-8 8-8-3-8 1-8-13-8 10-8-6-8 1-8 7-8-2-8-2-8-12-8 0-8 7-8-5-8 9-8-7-8 8-8-6-8 1-8 10-8-4-8-13-8 23-8 3-8-8-8 3-8-7-8 7-8-4-8-2-8-5-8-5-8 7-8 6-8 3-8 1-8-4-8 3-8 9-8-14-8 11-8-31-8 21-8-7-8 8-8-37-8 28-8 5-8-15-8 8-8 2-8-16-8 0-8 0-8 2-8 2-8-23-8-19-8-26-8-23-8 0-8-34-8-3-8-53-8-33-8-35-8-116-8 3-8-45-8-44-8-131-8 25-8-10-8 43-8 19-8 78-8-53-8 96-8 18-8 32-8 20-8-25-8 90-8 43-8 23-8 24-8-8-8 24-8 16-8 17-8 17-8 12-8 11-8 13-8 14-8 0-8 3-8 8-8 10-8-11-8 13-8-1-8 16-8-3-8-8-8 11-8-13-8 6-8-6-8-6-8 12-8-3-8 7-8-9-8 1-8-2-8 7-8-1-8 6-8 6-8 7-8 8-8 3-8 9-8 3-8 5-8 5-8 8-8 4-8 5-8 4-8 7-8 5-8 5-8-2-8-3-8-3-8-4-8-2-8-4-8-4-8-2-8-3-8-1-8-3-8-5-8 0-8 4-8 3-8 3-8 4-8 5-8 3-8 4-8 3-8 4-8 3-8 4-8 5-8-2-8 2-8 2-8 2-8-1-8 3-8 0-8-1-8 3-8 2-8 0-8 1-8 1-8 0-8 0-8 2-8 1-8 0-8 3-8 1-8-1-8 0-8 1-8 0-8-1-8 2-8-1-8 0-8 1-8 0-8-1-8 2-8 0-8 0-8 0-8 1-8 0-8 0-8 0-8 1-8-1-8 0-8 0-8 0-8 1-8 1-8-1-8 2-8 0-8 0-8-1-8 1-8 0-8-2-8 1-8-1-8 1-8-1-8 0-8-2-8 2-8-2-8 1-8-1-8 0-8 1-8 0-8-1-8-2-8 1-8-1-8 1-8-1-8-1-8 0-8 0-8-1-8 1-8 1-8-2-8 1-8 0-8-1-8-1-8-2-8 1-8-2-8-1-8 0-8-1-8 0-8-2-8 1-8-3-8 1-8-2-8-1-8 0-8-2-8 1-8-2-8 0-8 0-8-1-8-1-8-1-8-1-8 1-8 1-8 1-8 0-8 1-8 1-8-1-8 1-8 0-8 1-8 0-8 0-8 1-8 1-8-1-8-4-8-1-8-4-8-3-8-1-8-3-8-1-8-4-8-3-8-2-8-2-8-2-8-3-8-3-8 0-8-1-8 3-8 1-8 1-8 3-8 2-8-1-8 1-8 1-8 4-8 2-8-3-8 2-8 1-8 0-8-2-8-3-8-7-8-1-8-5-8 1-8-4-8-3-8-6-8 0-8-4-8-4-8 1-8-6-8-3-8 4-8 12-8 1-8 5-8 7-8 4-8 2-8 4-8 4-8 6-8 2-8 2-8 2-8-9-8 1-8-6-8-2-8-5-8-5-8-2-8-5-8 0-8-9-8-2-8 2-8 1-8 1-8 5-8 3-8-5-8 7-8 5-8 6-8-3-8 6-8 2-8 4-8-6-8-6-8 2-8-10-8 2-8-3-8-3-8-4-8-11-8 0-8-2-8-6-8 3-8 2-8 8-8 5-8 4-8-4-8 9-8-1-8 1-8 1-8 9-8 3-8 2-8 2-8-6-8-1-8-6-8-10-8 1-8-4-8-3-8-4-8-2-8 0-8-3-8-3-8-13-8-6-8-8-8 2-8-15-8-18-8-10-8-6-8-18-8-66-8-83-8-98-8-107-8-59-8-48-8 161-8 89-8 48-8 75-8 43-8 16-8 1-8 13-8 26-8 2-8 14-8 10-8-5-8 14-8 10-8 3-8-13-8-1-8-18-8-4-8-7-8 9-8-13-8-1-8-3-8-4-8-53-8 42-8-1-8 11-8 0-8 7-8 10-8 23-8-17-8 21-8 19-8-11-8 1-8-6-8-14-8 2-8-13-8 9-8-13-8 4-8-10-8-4-8 4-8-64-8 43-8-2-8-23-8-67-8 58-8-33-8-31-8 28-8-33-8 10-8-39-8-11-8-8-8 10-8 3-8-8-8-17-8-3-8 24-8-12-8 21-8 2-8 23-8 10-8 25-8 38-8-4-8 18-8 19-8 8-8 22-8 9-8 5-8 8-8 3-8 1-8 25-8-17-8 18-8-7-8-4-8-5-8-11-8-1-8 2-8 6-8-8-8 4-8-11-8-3-8 14-8-22-8-5-8-7-8-4-8 10-8-44-8 48-8-82-8 63-8 0-8 14-8-3-8 1-8-1-8-9-8 6-8 14-8-2-8 27-8-9-8 10-8 21-8-28-8-16-8-6-8-10-8-20-8-27-8-2-8 62-8-9-8-64-8-11-8-16-8-14-8-5-8-34-8-44-8-43-8-20-8 24-8-149-8 27-8 45-8 130-8 7-8 1-8 59-8 26-8 33-8 27-8 7-8-6-8 12-8 23-8 1-8 12-8 27-8 20-8 36-8-32-8-16-8 12-8 4-8-29-8-31-8 19-8-14-8-28-8 9-8-16-8 21-8 3-8-6-8-20-8-36-8 23-8 16-8-31-8-63-8 1-8 9-8-41-8-28-8-62-8 29-8-101-8 20-8-11-8-21-8 82-8 37-8 56-8 0-8-5-8 77-8 8-8 28-8 33-8 47-8 8-8 21-8 1-8 26-8 2-8-16-8 2-8 20-8-41-8 15-8 16-8-5-8 2-8-13-8 16-8 1-8-12-8-9-8-4-8-12-8 1-8 4-8-10-8-5-8 11-8 17-8-6-8 15-8 20-8-2-8 3-8-43-8 35-8-11-8-32-8 8-8 1-8-7-8 2-8 9-8 2-8-16-8 9-8 14-8-38Z" fill="#86c042" fill-opacity="0.42" stroke="none"/>
<path d="M427,1122l4 111 4-23 4-15 4 7 4 4 4-31 4 18 4-46 4 23 4-39 4 39 4-3 4-24 4-4 4 58 4-72 4 33 4 64 4 0 4-62 4 43 4-32 4-84 4 75 4 0 4 51 4-12 4 22 4-51 4 61 4-30 4 4 4 22 4-57 4-10 4 12 4-27 4 38 4-33 4-26 4 29 4 27 4 53 4-56 4 11 4 20 4-8 4-41 4 30 4 10 4-13 4-31 4 40 4-1 4-30 4-18 4 67 4-15 4 3 4-15 4-17 4 38 4-13 4-24 4 51 4 1 4-10 4-3 4-38 4 25 4-15 4-55 4 14 4 82 4-23 4 23 4-38 4 25 4-36 4 20 4 26 4 4 4-14 4-54 4 44 4 9 4-20 4-9 4-4 4-14 4 29 4-123 4-46 4 50 4-25 4 33 4-59 4 192 4-49 4-211 4 188 4 52 4 14 4-25 4-19 4-169 4-24 4-373 4 166 4 434 4-323 4-354 4 17 4 608 4-87 4-266 4-103 4-53 4 216 4 352 4-240 4 227 4 12 4-239 4 35 4-1 4-39 4 72 4 139 4-239 4 236 4 40 4-65 4-70 4 2 4 4 4-63 4 55 4-47 4 167 4 16 4-65 4 50 4-11 4-24 4-61 4-14 4 32 4 12 4 53 4-35 4 72 4-32 4-30 4-49 4-22 4 36 4-35 4 147 4-82 4 67 4 0 4 7 4-39 4 18 4-15 4-74 4 96 4-43 4 34 4-14 4-102 4 89 4-27 4 38 4-134 4 163 4-110 4-22 4 72 4-17 4-31 4-66 4 150 4 14 4-128 4-36 4 9 4 159 4-83 4-11 4-54 4 140 4-60 4 67 4-251 4-149 4 302 4-22 4-58 4-354 4 177 4 103 4-104 4 38 4 114 4-459 4 204 4 308 4 49 4-422 4-34 4 421 4-179 4 312 4-177 4 8 4-166 4 45 4-6 4 5 4 67 4 20 4 56 4 47 4 27 4 32 4-57 4 49 4-30 4 95 4-136 4 137 4-149 4 41 4-33 4 4 4 18 4 103 4-24 4-43 4 51 4-21 4 11 4 27 4-86 4 57 4-43 4-8 4-10 4 27 4 26 4-67 4 49 4-50 4 16 4-12 4 73 4-14 4-75 4 12 4 45 4-23 4-13 4 27 4-5 4 10 4-46 4 69 4-70 4 77 4-40 4-18 4 3 4 55 4-9 4-47 4 26 4-24 4 27 4 1 4-33 4 38 4 28 4-14 4 12 4-7 4-9 4-5 4-24 4-37 4 82 4-22 4-15 4-9 4 43 4-2 4 9 4-20 4 21 4-28 4-3 4 49 4-49 4 1 4 13 4 19 4-39 4 39 4-15 4 35 4-8 4-34 4 1 4-35 4 58 4-14 4-16 4 11 4-33 4 23 4 2 4-29 4 20 4 22 4-52 4 14 4-19 4 19 4-35 4 18 4-23 4 53 4-57 4-22 4 33 4 11 4-40 4-23 4 14 4-1 4-50 4 43 4-81 4 20 4 39 4-33 4 6 4-20 4-46 4-17 4 45 4-39 4 53 4-35 4-2 4-23 4 13 4-2 4 46 4-8 4-17 4 8 4-32 4 46 4 6 4 24 4-61 4 75 4-62 4 19 4 37 4-38 4 35 4-25 4 12 4 55 4-85 4 111 4-65 4 37 4 29 4-35 4-17 4 50 4 32 4-52 4 49 4 6 4-31 4 46 4-65 4 88 4-10 4-15 4-35 4 50 4-39 4 22 4 1 4-14 4 28 4-22 4 24 4-32 4 0 4 3 4 2 4 13 4 18 4-12 4 10 4 37 4-10 4-11 4-17 4 28 4-16 4 3 4-32 4 15 4-11 4 20 4-30 4 15 4-32 4 53 4-55 4 5 4 29 4-19 4-23 4-11 4 13 4-15 4 28 4 2 4 2 4-15 4 22 4 16 4-47 4-9 4 69 4-46 4-8 4 0 4 8 4 0 4 44 4-23 4 31 4 7 4-52 4 54 4-6 4-36 4-2 4 33 4-16 4 28 4-30 4-9 4 29 4-21 4 26 4-10 4 12 4-40 4 7 4 0 4 9 4-5 4-34 4 29 4-15 4-62 4 19 4-28 4 39 4-14 4-26 4 6 4-38 4-23 4-64 4 5 4-32 4-75 4 12 4-109 4 3 4-63 4 44 4 13 4 66 4 18 4 75 4 42 4 32 4 42 4 54 4 10 4 34 4 15 4 11 4-15 4 11 4 20 4 14 4-5 4-13 4 34 4-1 4-18 4 17 4 13 4-1 4-24 4 36 4-18 4 18 4 2 4 1 4-5 4 0 4 15 4-11 4 8 4-17 4 5 4 2 4-4 4 1 4 22 4-5 4 12 4-6 4 9 4-18 4 2 4 16 4 3 4-15 4 21 4-3 4-1 4 7 4-3 4-1 4-20 4 5 4 5 4-11 4 8 4-8 4 6 4 9 4-14 4-2 4-19 4 2 4 23 4 3 4-16 4-13 4 0 4 18 4-24 4 13 4 2 4 3 4-12 4-6 4-13 4 11 4 14 4-3 4 6 4-1 4-6 4 0 4 22 4-5 4-3 4-5 4 9 4 8 4-1 4-13 4 3 4 7 4 21 4 1 4-14 4-4 4 16 4-12 4 18 4-20 4-2 4 8 4 13 4-16 4-12 4 10 4-18 4 24 4-5 4-17 4 6 4 11 4-8 4-7 4-1 4-9 4 2 4 10 4-15 4-6 4 0 4 23 4-15 4 14 4-9 4-9 4 13 4-2 4 1 4 10 4 7 4-10 4-1 4 14 4-2 4-6 4-3 4 7 4 3 4-5 4 22 4-15 4 4 4 2 4 8 4 1 4 2 4 4 4-4 4-10 4 2 4-8 4-4 4 14 4-21 4 18 4-20 4 16 4-11 4-7 4-2 4 9 4 0 4-5 4-6 4-3 4-11 4 11 4-6 4-8 4 0 4-16 4 20 4 1 4-1 4-12 4-2 4 21 4-8 4 0 4-1 4 2 4 2 4 6 4 4 4-7 4 16 4-11 4 15 4-7 4 6 4-6 4 9 4 4 4-16 4 7 4 10 4-6 4 0 4 5 4 3 4 7 4-11 4 3 4 5 4-3 4-10 4 10 4-7 4 4 4-8 4 7 4-8 4 4 4 2 4 1 4-4 4-7 4 11 4-3 4-1 4-5 4-4 4 7 4-7 4 2 4 4 4-6 4 5 4-5 4-4 4 4 4-1 4 3 4-6 4 8 4-6 4 9 4 0 4 0 4-1 4 0 4 3 4 1 4 3 4-1 4 3 4 1 4-1 4 4 4-3 4 3 4 0 4 5 4 1 4-2 4 7 4-5 4 4 4 1 4 3 4 2 4-4 4 0 4 2 4 1 4-2 4 1 4-1 4 4 4-2 4-3 4-1 4 1 4 1 4 2 4 0 4-4 4 3 4-5 4 2 4 0 4 2 4-2 4-2 4 2 4-4 4-1 4 0 4 5 4-3 4 3 4-6 4 0 4 0 4 1 4 2 4 0 4 6 4-3 4 0 4 1 4 1 4-2 4-1 4 1 4 4 4-4 4 1 4 1 4 1 4-1 4 2 4 4 4-5 4 5 4-2 4 0 4-1 4-1 4 6 4-5 4 4 4-2 4 4 4-1 4-2 4 0 4 4 4-2 4-1 4-1 4 2 4 4 4-1 4-3 4 5 4-1 4 0 4-2 4 1 4 5 4 0 4-4 4 3 4-2 4-2 4 2 4 0 4 4 4-5 4 6 4-3 4-1 4-3 4 1 4 4 4-2 4 2 4-3 4 4 4-3 4 6 4-6 4 4 4-1 4 2 4-1 4-4 4 3 4 1 4 2 4-1 4-4 4 4 4-3 4-2 4 0 4 3 4 1 4 3 4-2 4-4 4 2 4 2 4-3 4 2 4 0 4 5 4-3 4-1 4 3 4-4 4 1 4 1 4 1 4 2 4-7 4 4 4 0 4 3 4-3 4 2 4 0 4 3 4-4 4-3 4 3 4 0 4 1 4-3 4 1 4-2 4 3 4-1 4 0 4-1 4-3 4 2 4 0 4-2 4 4 4-1 4 2 4-5 4 0 4 5 4-5 4-1 4 5 4-5 4 6 4-3 4-2 4 3 4 1 4-1 4-2 4 1 4-2 4-3 4 2 4 5 4-8 4 3 4-1 4 2 4 2 4-6 4 4 4-2 4 5 4-5 4 3 4-1 4-1 4 1 4 0 4-1 4-2 4 3 4-4 4 1 4-2 4 1 4 1 4-2 4 0 4-1 4-1 4 0 4 6 4-6 4 2 4-1 4 0 4 1 4-1 4-6 4 4 4 2 4-3 4 0 4-3 4 1 4-1 4-3 4 2 4 1 4-3 4 4 4-4 4 0 4 3 4-1 4-6 4 4 4 1 4-1 4-2 4-1 4-4 4 0 4 4 4-7 4 2 4-1 4 1 4-2 4-6 4 1 4-3 4-2 4-1 4 1 4-4 4-3 4-3 4 0 4-1 4-1 4 1 4-5 4-3 4-4 4 2 4-3 4-1 4 0 4-4 4-3 4 6 4-3 4 3 4 4 4 3 4-3 4-2 4 7 4-1 4 0 4 2 4 4 4 2 4-1 4 2 4 4 4 3 4 0 4-3 4 7 4-2 4 1 4 2 4 2 4 3 4-6 4-3 4 2 4-5 4-2 4-1 4-3 4-6 4-1 4-5 4-2 4-2 4 1 4-1 4-1 4-9 4 4 4-3 4-6 4 1 4-5 4-4 4-10 4 0 4 8 4-3 4-9 4-10 4 5 4-11 4-7 4 5 4-3 4 9 4-12 4 6 4 12 4 5 4-18 4-7 4 2 4 13 4 14 4-25 4 9 4 6 4 13 4 7 4 2 4-42 4 13 4 19 4-21 4 3 4-15 4 27 4 2 4 12 4 12 4-19 4 20 4-15 4-39 4 32 4 6 4-20 4-4 4-31 4 28 4 0 4 15 4-31 4-13 4 4 4 2 4 2 4-6 4 30 4-12 4 5 4-20 4-36 4 8 4-4 4 15 4-18 4-24 4 25 4-12 4-23 4 20 4-9 4-58 4 23 4 14 4-52 4 16 4 4 4-53 4 21 4-46 4 19 4-16 4-110 4 46 4 8 4-4 4-56 4 20 4-36 4-11 4-4 4 11 4-105 4 108 4-76 4 19 4-91 4 92 4 2 4-140 4-15 4 53 4 57 4 15 4-18 4-33 4 75 4 3 4 47 4-25 4 48 4 2 4 2 4 75 4 30 4 14 4 7 4 36 4 62 4 14 4 5 4-38 4 30 4 36 4-27 4 37 4 5 4-6 4 55 4-55 4 58 4-26 4 41 4 4 4 22 4-12 4-33 4 42 4-23 4-25 4 7 4-10 4 53 4-8 4-36 4 41 4-15 4-27 4 46 4 10 4-40 4 0 4-4 4 60 4-13 4-7 4-3 4 8 4-45 4 33 4-25 4 23 4-3 4 14 4-21 4 34 4-31 4 18 4-3 4-32 4 50 4-37 4 1 4 11 4 7 4 20 4-31 4 20 4-37 4 15 4-6 4 14 4 6 4-20 4 24 4-14 4 8 4 1 4-32 4 40 4 0 4-13 4-22 4 27 4-2 4-7 4 6 4 0 4-2 4 16 4-29 4 20 4 11 4-16 4-9 4-1 4 11 4-13 4-23 4 11 4-10 4 7 4-11 4 41 4 8 4-50 4 24 4 18 4-47 4-28 4 55 4-4 4 14 4-50 4 22 4 31 4-29 4-10 4 31 4 16 4-16 4 0 4 24 4-30 4 16 4-32 4 4 4 30 4-40 4 56 4-13 4 8 4 4 4-51 4 33 4 8 4 2 4 9 4-20 4-2 4-5 4 33 4-27 4-8 4 1 4-4 4 26 4-38 4 32 4 2 4-57 4 54 4 17 4-17 4-14 4 4 4 16 4-2 4-29 4 12 4 15 4-5 4 33 4-34 4-2 4 6 4-13 4 16 4-1 4-51 4 29 4 2 4 5 4-2 4 23 4-24 4 26 4 14 4-33 4 12 4 30 4-29 4-25 4 30 4-17 4 14 4-16 4-4 4 21 4 10 4 0 4-32 4-14 4 40 4-31 4 18 4 22 4 1 4-20 4 6 4-26 4 24 4-11 4 26 4 4 4-12 4-87 4 63 4 23 4-48 4 17 4 19 4 9 4 11 4-4 4-6 4 6 4-21 4-15 4 2 4-50" fill="none" stroke="#86c042" stroke-width="7" stroke-linejoin="round"/>
<path d="M427,1029l8-19 8-10 8 34 8 19 8 45 8 12 8 4 8 6 8 27 8-4 8-24 8 19 8 29 8 1 8-13 8 4 8 31 8-18 8-10 8-7 8-1 8 8 8-9 8 12 8-15 8 12 8 31 8 18 8 1 8-18 8 3 8 22 8-5 8-21 8-8 8 7 8 0 8-12 8 5 8 1 8 7 8 27 8-28 8-16 8-2 8 7 8 4 8-24 8-13 8 1 8 4 8 24 8 3 8-11 8 33 8-4 8 1 8-1 8-25 8 9 8 14 8-33 8-5 8 5 8 1 8-2 8-23 8 10 8-6 8 18 8 7 8-14 8-1 8-20 8 11 8-19 8-34 8 18 8 27 8 18 8-14 8-29 8 29 8 8 8-21 8 2 8 9 8-30 8 19 8 6 8-14 8 1 8 7 8 11 8 6 8-28 8 37 8-2 8-1 8-17 8-7 8 24 8-30 8-4 8-14 8 25 8-10 8 28 8-4 8-31 8 8 8 34 8-32 8-32 8-37 8 24 8 12 8-13 8 11 8 16 8 49 8 11 8-1 8-13 8 2 8-10 8 31 8-12 8-21 8-7 8 23 8 4 8-17 8 3 8-1 8 1 8-44 8 36 8 3 8 15 8 7 8-11 8 18 8-17 8 6 8 9 8-1 8 2 8 4 8-49 8 54 8-20 8-32 8 22 8 19 8 4 8-10 8-13 8 10 8-7 8 14 8-14 8 2 8 5 8 10 8-11 8 11 8-15 8 14 8 3 8-5 8 4 8-12 8 5 8-17 8 1 8 0 8 12 8-11 8-18 8-9 8 7 8-20 8-7 8 6 8 8 8 17 8 11 8-4 8 8 8-3 8-5 8 6 8-1 8 10 8-4 8 1 8 8 8-57 8 68 8-3 8-1 8-9 8-6 8 4 8-6 8 4 8-10 8 6 8 21 8-8 8-11 8-9 8 7 8-11 8-85 8 89 8-18 8-4 8 5 8-54 8 50 8-9 8-9 8 0 8 4 8 0 8-14 8-4 8 1 8-21 8 7 8-61 8-18 8-12 8-175 8-145 8 0 8 7 8-23 8 13 8 108 8 111 8 48 8 51 8 28 8 40 8 28 8-7 8 12 8 11 8-17 8 13 8 18 8-13 8-1 8 9 8 12 8 3 8-10 8-76 8 78 8-7 8 16 8-1 8-37 8 39 8 9 8 0 8-10 8 19 8-18 8 2 8 1 8-9 8 1 8 15 8-29 8 2 8 5 8-12 8 3 8-5 8-22 8 3 8 12 8 5 8-1 8-3 8 2 8 13 8-15 8 26 8-8 8 0 8 11 8-56 8 42 8-2 8 11 8-6 8-10 8-1 8-5 8 0 8 1 8-8 8 8 8-7 8-6 8-4 8-8 8 7 8-16 8-15 8 18 8-8 8 9 8-12 8-17 8-5 8-10 8 3 8 1 8-4 8 0 8 11 8-21 8-18 8 7 8-17 8-67 8 68 8 7 8 17 8 29 8 8 8 9 8 2 8 15 8-25 8 46 8-7 8 7 8 11 8-11 8 0 8 15 8-9 8-9 8 1 8 5 8-14 8-4 8-14 8-8 8 3 8-25 8-54 8 45 8-12 8-12 8-4 8 22 8-11 8 35 8 25 8 7 8 12 8-5 8 6 8-32 8-19 8-27 8 8 8-57 8 22 8-8 8-150 8-16 8-61 8-63 8-73 8-59 8 31 8 122 8-174 8 0 8 135 8 7 8-114 8-28 8 0 8 32 8 125 8 128 8-19 8 9 8-30 8 66 8 12 8-21 8-7 8 124 8-34 8-10 8-17 8 49 8 44 8-22 8-17 8 78 8 57 8 33 8-24 8-16 8 14 8-33 8-8 8 1 8-50 8-49 8 23 8-7 8-63 8-2 8-60 8-41 8-85 8-27 8-87 8-66 8 16 8 15 8 101 8-3 8 81 8-20 8 30 8 87 8 48 8 54 8 68 8 68 8 23 8 19 8-49 8 97 8-4 8 28 8 15 8 16 8 0 8-12 8 8 8-10 8-2 8-3 8 5 8-1 8-9 8 3 8-5 8-4 8-4 8-1 8-9 8-1 8-7 8-5 8-4 8-6 8-5 8-3 8-4 8-5 8-5 8-7 8-6 8-4 8-4 8-2 8-6 8-5 8 2 8 4 8 3 8 0 8 6 8 3 8 3 8 4 8 5 8 3 8 6 8 3 8 5 8 0 8 5 8 3 8 3 8 6 8 3 8 4 8 4 8 2 8-3 8-11 8-13 8-18 8-12 8-446 8-141 8 149 8 461 8 5 8 7 8 7 8 7 8 8 8 7 8 7 8 2 8 2 8 6 8 1 8 7 8 0 8 4 8 4 8 2 8 6 8 3 8 5 8 0 8 4 8-1 8 2 8 1 8 2 8 2 8 0 8 1 8 2 8 2 8 2 8-1 8 2 8 2 8 1 8 4 8-3 8-1 8 0 8-1 8-1 8 1 8-2 8-1 8-1 8-2 8-2 8 1 8-1 8-1 8-1 8 0 8 1 8-1 8-3 8-2 8 0 8-8 8-8 8-10 8-4 8-10 8-6 8-1 8 6 8-3 8 3 8-1 8 1 8-2 8 1 8 1 8 3 8-3 8 1 8 3 8-4 8 0 8 2 8-4 8-1 8-1 8 0 8 0 8-20 8-78 8-114 8 180 8 4 8 5 8 4 8 9 8 3 8 3 8 3 8-1 8 2 8 4 8-1 8 0 8 2 8 0 8 0 8 1 8 5 8-2 8 3 8-5 8 8 8-3 8-4 8 3 8 0 8 5 8-7 8 2 8 2 8-5 8 0 8-4 8-1 8-6 8 6 8 1 8-6 8 0 8-1 8 0 8-9 8 2 8 0 8 8 8-14 8 1 8 1 8 1 8 5 8-8 8-5 8 5 8-8 8 1 8 9 8-8 8-2 8-11 8 22 8-12 8 4 8-10 8 3 8 1 8 4 8 2 8-4 8 2 8-12 8-35 8 42 8-12 8 1 8-11 8 7 8-38 8 31 8-4 8 6 8-5 8-13 8 3 8-18 8 10 8-19 8-1 8 1 8 16 8-23 8 5 8-17 8 6 8-5 8 9 8 4 8-5 8 4 8-5 8 15 8-3 8-13 0 55-8 5-8 4-8 1-8-5-8-3-8-5-8 2-8-4-8 7-8-13-8 12-8 14-8 2-8 5-8-9-8 0-8 14-8-5-8 4-8 5-8 5-8 1-8 11-8-4-8 2-8-3-8 2-8 3-8 4-8 1-8 5-8 10-8 2-8-10-8 4-8-3-8 5-8-10-8 7-8 4-8-1-8 0-8-1-8-2-8 6-8-7-8 3-8 0-8 5-8-4-8 8-8 3-8-9-8 0-8 4-8-2-8 0-8-1-8 4-8 1-8 1-8 0-8-5-8-1-8 3-8 2-8-3-8 5-8-2-8 2-8 1-8-1-8 0-8-1-8 3-8 1-8 0-8-4-8-1-8-1-8 3-8-3-8 0-8 0-8-5-8 3-8-5-8-1-8 3-8 0-8-3-8-1-8 0-8-1-8-2-8-5-8-4-8-6-8-4-8-7-8-4-8-177-8 115-8 73-8 21-8 0-8-1-8 4-8 0-8 1-8 3-8 0-8 0-8-2-8-1-8 0-8 1-8-1-8 0-8-2-8 0-8 0-8 0-8-2-8 0-8-1-8 6-8 5-8 10-8 5-8 7-8 9-8 3-8-2-8 3-8-1-8 1-8 3-8 0-8-1-8 2-8 2-8 0-8 1-8 2-8 0-8 2-8-1-8 2-8 0-8 3-8-2-8 1-8-3-8-1-8 0-8-4-8 0-8-1-8-2-8-1-8 0-8-4-8-1-8-2-8 1-8-3-8-2-8-2-8 1-8-4-8-6-8-2-8-6-8-2-8-4-8-4-8-3-8-2-8-3-8-5-8-2-8-8-8-8-8-6-8-5-8-9-8-5-8-7-8-452-8-168-8 159-8 440-8 13-8 12-8 14-8 15-8 3-8-5-8-2-8-5-8-3-8-6-8-4-8-4-8-2-8-4-8-3-8-3-8-3-8-5-8-4-8-4-8-3-8-6-8-2-8-4-8-3-8-3-8-3-8 5-8 5-8 3-8 6-8 5-8 5-8 4-8 5-8 5-8 4-8 6-8 4-8 5-8 5-8 6-8 4-8 7-8 8-8 5-8 7-8 3-8 6-8 9-8 6-8-2-8 11-8 0-8 4-8 2-8 3-8 5-8 10-8-11-8-19-8-1-8-16-8-9-8-3-8-21-8-4-8-41-8-40-8-53-8-81-8-38-8 14-8-24-8-35-8 0-8-41-8-34-8 7-8 44-8 11-8 55-8 37-8 31-8 39-8 30-8 15-8 25-8 41-8 10-8 1-8 4-8 11-8 21-8 13-8 6-8-4-8-7-8-18-8-33-8 0-8 28-8 12-8-38-8-19-8 18-8 2-8-22-8-25-8 11-8 25-8-13-8-45-8 12-8 2-8-22-8-9-8 5-8-89-8 73-8 26-8-49-8-37-8 25-8 90-8-39-8-68-8 51-8 4-8 61-8 11-8 13-8 20-8 1-8 22-8-23-8 0-8 14-8 8-8-4-8-22-8-18-8-10-8-14-8 10-8-20-8-12-8-22-8-1-8-2-8 16-8 9-8 16-8 14-8 12-8-1-8-8-8 14-8 2-8 7-8 8-8-2-8-1-8 9-8-11-8 6-8-13-8 5-8 4-8-17-8 1-8-5-8-6-8-19-8-14-8-2-8-32-8-11-8-5-8 7-8 2-8 27-8 6-8-12-8 3-8 16-8-5-8-11-8 4-8 11-8 16-8-3-8 23-8-1-8 6-8-2-8 2-8-1-8-7-8 12-8 15-8 8-8 1-8 9-8-11-8 9-8-2-8 4-8-1-8 6-8-8-8 14-8 3-8-10-8 12-8-22-8 2-8-2-8-2-8 10-8-8-8-1-8-3-8 0-8-9-8-2-8-7-8 8-8 10-8-7-8 9-8 7-8-1-8 4-8 14-8-3-8 4-8-9-8 8-8 9-8 0-8-7-8-2-8 8-8-12-8 11-8-11-8 4-8 0-8-7-8 2-8-2-8 2-8-7-8 17-8-10-8 5-8-14-8-14-8 17-8-10-8 24-8-6-8 8-8-4-8-9-8 14-8-25-8-28-8-22-8 33-8-16-8 7-8-18-8 9-8 59-8 6-8-22-8 21-8-5-8-14-8-1-8 1-8 5-8-11-8 5-8 0-8 11-8 20-8-2-8 12-8-3-8-11-8 19-8-19-8 12-8 0-8 8-8 10-8-10-8 16-8 1-8-16-8 1-8-5-8 9-8 3-8 5-8 5-8-5-8-3-8 12-8-11-8-10-8 0-8-4-8-2-8 1-8 9-8-15-8-2-8 11-8-6-8-10-8-20-8-2-8 1-8 9-8 14-8-6-8 12-8 13-8-18-8 20-8-15-8 17-8 10-8-10-8 8-8-7-8 7-8 0-8 1-8 1-8-8-8-1-8-6-8 15-8-4-8 8-8 4-8-6-8-5-8 7-8-20-8 7-8-4-8 1-8 16-8 1-8-8-8-2-8-9-8-5-8-4-8 14-8-2-8-12-8 1-8 18-8-20-8-4-8 15-8-7-8-12-8 11-8 4-8-10-8 10-8-14-8 12-8-12-8 22-8 3-8 2-8-15-8 15-8 5-8-16-8 5-8-5-8 13-8 6-8-21-8 22-8-17-8-7-8 8-8-7-8 5-8-16-8 30-8 10-8-8-8-10-8-21-8 34-8-33-8-1-8 23-8-6-8 22-8-33-8 31-8-7-8 9-8-24-8-10-8 13-8 5-8-25-8 12-8 16-8 13-8-34-8 14-8 12-8-11-8-18-8 36-8-36-8 26-8-2-8 11-8-32-8 2-8 15-8 11-8-5-8-6-8-7-8 4-8-11-8 9-8-4-8 15-8-6-8 10-8-8-8 21-8-11-8-13-8 18-8-10-8 5-8-6-8-2-8 6-8-1-8-29-8 21-8 10-8-12-8 15-8 0-8-26-8 8-8 18-8 9-8-3-8-19-8 11-8-8-8-18-8 18-8 7-8-7-8 16-8 1-8 2-8-13-8 6-8 5-8-14-8 1-8-14-8 2-8 15-8-30-8-3-8 21-8-3-8 8-8-6-8 8-8-4-8-6-8 13-8-21-8 12-8 15-8-33-8 14-8 20-8-16-8 13-8-34-8 6-8 9-8 15-8-8Z" fill="#6f2f9f" fill-opacity="0.85" stroke="none"/>
<path d="M427,974l8-70 8 39 8 39 8 32 8 11 8 20 8 2 8 9 8 37 8-17 8-13 8 20 8 38 8 19 8-5 8-5 8 0 8-3 8-8 8-9 8-8 8 23 8-23 8 12 8 8 8-9 8 9 8 21 8 9 8 0 8-1 8 15 8-7 8-76 8 51 8-3 8 13 8 5 8-9 8 8 8-50 8 59 8-2 8-5 8-7 8 2 8-5 8-42 8 14 8 5 8-5 8 5 8 18 8-78 8 73 8 6 8 30 8-65 8 36 8 1 8 9 8-38 8-11 8-50 8 30 8 14 8-115 8 111 8 11 8 22 8 3 8-29 8 1 8-12 8-4 8-70 8 38 8 0 8 46 8-2 8-26 8-4 8 36 8 18 8-17 8-29 8-4 8 6 8 15 8 1 8-30 8 7 8 12 8 28 8-11 8-8 8-7 8 50 8-35 8-9 8-15 8 13 8-9 8-14 8 8 8-6 8 8 8 19 8-66 8 44 8-11 8 23 8-5 8-51 8-20 8 16 8 4 8 1 8 15 8 13 8 27 8 8 8 37 8 4 8-26 8 12 8 28 8-25 8 3 8 0 8 6 8 7 8-16 8 11 8 7 8 0 8-47 8 47 8-6 8 16 8 10 8-6 8 7 8-11 8 11 8 2 8-5 8 7 8 4 8-53 8 56 8-12 8-32 8 22 8 18 8-6 8 0 8-12 8 4 8-1 8 13 8-13 8 2 8-7 8 11 8-8 8 16 8-12 8 14 8-4 8 2 8 4 8-12 8 3 8-16 8 2 8 0 8 1 8-12 8-12 8-3 8 2 8-15 8-7 8 2 8 12 8 5 8 17 8 2 8-1 8 6 8-5 8 6 8-11 8 20 8-6 8 0 8 11 8-69 8 74 8-8 8 0 8-3 8-2 8 1 8-3 8-3 8-3 8 4 8 17 8-9 8-4 8-9 8 3 8-9 8-86 8 92 8-18 8-4 8-2 8-47 8 48 8-7 8-9 8 0 8 4 8 0 8-14 8-4 8 1 8-29 8-18 8-87 8-46 8-21 8-261 8-103 8 0 8 0 8 0 8 0 8 0 8 158 8 163 8 71 8 51 8 71 8 16 8 2 8 18 8 6 8-6 8 5 8 26 8-17 8 3 8 9 8 2 8 4 8-1 8-76 8 68 8 3 8 16 8-5 8-33 8 33 8 15 8-2 8-8 8 12 8-12 8-3 8 1 8-7 8 1 8 12 8-30 8 9 8 6 8-12 8 1 8-10 8-17 8 5 8 12 8 5 8-3 8-1 8 0 8 15 8-16 8 19 8-6 8 6 8 11 8-66 8 51 8-1 8 6 8-1 8-10 8-1 8-6 8 1 8 1 8-8 8 8 8-10 8-3 8-4 8-17 8 5 8-5 8-15 8 17 8-7 8 7 8-10 8-18 8-9 8-5 8 0 8 4 8-4 8-7 8 7 8-10 8-18 8 7 8-17 8-67 8 62 8 11 8 19 8 26 8 9 8 4 8 6 8 13 8-22 8 44 8-5 8 5 8 8 8-8 8 4 8 15 8-9 8-9 8-4 8 10 8-25 8-2 8-5 8-8 8 3 8-26 8-62 8 53 8-18 8-11 8 1 8 23 8-17 8 41 8 25 8 7 8 2 8-10 8 16 8-27 8-24 8-62 8 8 8-40 8-67 8-5 8-253 8 46 8-67 8-46 8-14 8 0 8 0 8 0 8 0 8 0 8 0 8 0 8 0 8 0 8 0 8 0 8 0 8 89 8-11 8 20 8 16 8 124 8-35 8-102 8 83 8 147 8-51 8-66 8 67 8 80 8-4 8-10 8 29 8 55 8 80 8 44 8-4 8-18 8 0 8-12 8-22 8 1 8-40 8-58 8 2 8-4 8-65 8-16 8-32 8-86 8-38 8-61 8-102 8 0 8 0 8 0 8 69 8-3 8 85 8 4 8 47 8 61 8 44 8 77 8 89 8 72 8 23 8 19 8-53 8 94 8 1 8 26 8 19 8 11 8 1 8-9 8 6 8-7 8-2 8-3 8 5 8-3 8-7 8 3 8-5 8-4 8-5 8-2 8-7 8-1 8-7 8-5 8-6 8-4 8-5 8-3 8-5 8-4 8-5 8-7 8-6 8-4 8-4 8-3 8-5 8-5 8 2 8 3 8 4 8 0 8 6 8 3 8 2 8 5 8 4 8 4 8 6 8 3 8 3 8 2 8 4 8 3 8 4 8 6 8 3 8 3 8 4 8 3 8-3 8-12 8-14 8-16 8-12 8-447 8-140 8 147 8 461 8 7 8 6 8 6 8 9 8 8 8 7 8 5 8 2 8 4 8 6 8 1 8 6 8 1 8 4 8 3 8 3 8 5 8 4 8 4 8 1 8 2 8 1 8 1 8 2 8 2 8 2 8 0 8 1 8 2 8 2 8 2 8-1 8 1 8 3 8 1 8 2 8-1 8-1 8 0 8-1 8-2 8 2 8-2 8-1 8-3 8-1 8-1 8 1 8-1 8-1 8-3 8 2 8 0 8-1 8-2 8-2 8-2 8-9 8-6 8-9 8-4 8-10 8-7 8 0 8 4 8-1 8 1 8 1 8 1 8-2 8-1 8 3 8 1 8-2 8 2 8 3 8-4 8-1 8 3 8-4 8-3 8 1 8 0 8 0 8-20 8-78 8-114 8 180 8 4 8 4 8 5 8 7 8 5 8 2 8 2 8 1 8 2 8 3 8 0 8-3 8 5 8 0 8 0 8 0 8 3 8 0 8 2 8-3 8 6 8-1 8-4 8 2 8 0 8 4 8-5 8 2 8-1 8-2 8 0 8-5 8-4 8-2 8 6 8-3 8-2 8 0 8-1 8-5 8-4 8 2 8-1 8 4 8-9 8 1 8 1 8 1 8 3 8-8 8-3 8-1 8-2 8 1 8 6 8-5 8-2 8-11 8 17 8-11 8 8 8-13 8 4 8-3 8 7 8 2 8-8 8 9 8-12 8-35 8 40 8-10 8 1 8-11 8 7 8-42 8 35 8-4 8 4 8-3 8-18 8 5 8-15 8 4 8-13 8-1 8 1 8 9 8-16 8 5 8-23 8 12 8-13 8 14 8-2 8 1 8 1 8 1 8 15 8-7 8-11 0 2-8 13-8 3-8-15-8 5-8-4-8 5-8-4-8-9-8 5-8-6-8 17-8-5-8 23-8-16-8-1-8 1-8 19-8-10-8 18-8-3-8 13-8 5-8-6-8 4-8-31-8 38-8-7-8 11-8-1-8 12-8-42-8 35-8 12-8-2-8 4-8-2-8-4-8-1-8-3-8 10-8-4-8 12-8-22-8 11-8 2-8 8-8-9-8-1-8 8-8-5-8 5-8 8-8-5-8-1-8-1-8-1-8 14-8-8-8 0-8-2-8 9-8 0-8 1-8 0-8 6-8-1-8-6-8 6-8 1-8 4-8 0-8 5-8-2-8-2-8 7-8-5-8 0-8-3-8 4-8 3-8-8-8 5-8-3-8 2-8-5-8-1-8 0-8 0-8-2-8 0-8 1-8-4-8-2-8 1-8-3-8-3-8-3-8-9-8-4-8-5-8-4-8-180-8 114-8 78-8 20-8 0-8 0-8 1-8 1-8 4-8-2-8 0-8 4-8-3-8-1-8 3-8-3-8-1-8-1-8 2-8-1-8 1-8-3-8 3-8-6-8 1-8 6-8 10-8 4-8 10-8 8-8 8-8 0-8 2-8 3-8 1-8-1-8 0-8 1-8 1-8 1-8-1-8 2-8 2-8 1-8 1-8 2-8-1-8 1-8 1-8 0-8 1-8 3-8-4-8-1-8-2-8-2-8 1-8-2-8-2-8-2-8-1-8 0-8-2-8-2-8-1-8-2-8 1-8-4-8 0-8-5-8-3-8-6-8-2-8-4-8-4-8 0-8-7-8-1-8-6-8-2-8-2-8-7-8-7-8-8-8-7-8-7-8-7-8-5-8-461-8-149-8 141-8 446-8 12-8 18-8 13-8 11-8 3-8-2-8-4-8-4-8-3-8-6-8-3-8-3-8-5-8 0-8-5-8-3-8-6-8-3-8-5-8-4-8-3-8-3-8-6-8 0-8-3-8-4-8-2-8 5-8 6-8 2-8 4-8 4-8 6-8 7-8 5-8 5-8 4-8 3-8 5-8 6-8 4-8 5-8 7-8 1-8 9-8 1-8 4-8 4-8 5-8-3-8 9-8 1-8-5-8 3-8 2-8 10-8-8-8 12-8 0-8-16-8-15-8-28-8 4-8-97-8 49-8-19-8-23-8-68-8-68-8-54-8-48-8-87-8-30-8 20-8-81-8 3-8-101-8-15-8-16-8 66-8 87-8 27-8 85-8 41-8 60-8 2-8 63-8 7-8-23-8 49-8 50-8-1-8 8-8 33-8-14-8 16-8 24-8-33-8-57-8-78-8 17-8 22-8-44-8-49-8 17-8 10-8 34-8-124-8 7-8 21-8-12-8-66-8 30-8-9-8 19-8-128-8-125-8-32-8 0-8 28-8 114-8-7-8-135-8 0-8 174-8-122-8-31-8 59-8 73-8 63-8 61-8 16-8 150-8 8-8-22-8 57-8-8-8 27-8 19-8 32-8-6-8 5-8-12-8-7-8-25-8-35-8 11-8-22-8 4-8 12-8 12-8-45-8 54-8 25-8-3-8 8-8 14-8 4-8 14-8-5-8-1-8 9-8 9-8-15-8 0-8 11-8-11-8-7-8 7-8-46-8 25-8-15-8-2-8-9-8-8-8-29-8-17-8-7-8-68-8 67-8 17-8-7-8 18-8 21-8-11-8 0-8 4-8-1-8-3-8 10-8 5-8 17-8 12-8-9-8 8-8-18-8 15-8 16-8-7-8 8-8 4-8 6-8 7-8-8-8 8-8-1-8 0-8 5-8 1-8 10-8 6-8-11-8 2-8-42-8 56-8-11-8 0-8 8-8-26-8 15-8-13-8-2-8 3-8 1-8-5-8-12-8-3-8 22-8 5-8-3-8 12-8-5-8-2-8 29-8-15-8-1-8 9-8-1-8-2-8 18-8-19-8 10-8 0-8-9-8-39-8 37-8 1-8-16-8 7-8-78-8 76-8 10-8-3-8-12-8-9-8 1-8 13-8-18-8-13-8 17-8-11-8-12-8 7-8-28-8-40-8-28-8-51-8-48-8-111-8-108-8-13-8 23-8-7-8 0-8 145-8 175-8 12-8 18-8 61-8-7-8 21-8-1-8 4-8 14-8 0-8-4-8 0-8 9-8 9-8-50-8 54-8-5-8 4-8 18-8-89-8 85-8 11-8-7-8 9-8 11-8 8-8-21-8-6-8 10-8-4-8 6-8-4-8 6-8 9-8 1-8 3-8-68-8 57-8-8-8-1-8 4-8-10-8 1-8-6-8 5-8 3-8-8-8 4-8-11-8-17-8-8-8-6-8 7-8 20-8-7-8 9-8 18-8 11-8-12-8 0-8-1-8 17-8-5-8 12-8-4-8 5-8-3-8-14-8 15-8-11-8 11-8-10-8-5-8-2-8 14-8-14-8 7-8-10-8 13-8 10-8-4-8-19-8-22-8 32-8 20-8-54-8 49-8-4-8-2-8 1-8-9-8-6-8 17-8-18-8 11-8-7-8-15-8-3-8-36-8 44-8-1-8 1-8-3-8 17-8-4-8-23-8 7-8 21-8 12-8-31-8 10-8-2-8 13-8 1-8-11-8-49-8-16-8-11-8 13-8-12-8-24-8 37-8 32-8 32-8-34-8-8-8 31-8 4-8-28-8 10-8-25-8 14-8 4-8 30-8-24-8 7-8 17-8 1-8 2-8-37-8 28-8-6-8-11-8-7-8-1-8 14-8-6-8-19-8 30-8-9-8-2-8 21-8-8-8-29-8 29-8 14-8-18-8-27-8-18-8 34-8 19-8-11-8 20-8 1-8 14-8-7-8-18-8 6-8-10-8 23-8 2-8-1-8-5-8 5-8 33-8-14-8-9-8 25-8 1-8-1-8 4-8-33-8 11-8-3-8-24-8-4-8-1-8 13-8 24-8-4-8-7-8 2-8 16-8 28-8-27-8-7-8-1-8-5-8 12-8 0-8-7-8 8-8 21-8 5-8-22-8-3-8 18-8-1-8-18-8-31-8-12-8 15-8-12-8 9-8-8-8 1-8 7-8 10-8 18-8-31-8-4-8 13-8-1-8-29-8-19-8 24-8 4-8-27-8-6-8-4-8-12-8-45-8-19-8-34-8 10-8 19Z" fill="#6f2f9f" fill-opacity="0.42" stroke="none"/>
<path d="M427,1143l4-22 4-215 4 189 4-4 4 9 4-92 4-22 4 125 4 8 4 110 4-32 4-16 4-107 4-27 4 32 4-18 4 137 4-89 4 11 4 10 4 87 4-101 4-30 4 60 4-64 4 61 4 87 4-12 4 6 4-54 4 14 4 12 4-2 4 10 4-24 4 33 4 1 4-78 4 82 4-102 4 19 4 52 4 36 4-65 4 15 4 6 4 28 4-3 4 15 4-24 4 13 4 6 4 24 4-112 4 72 4 45 4-56 4 40 4-69 4 12 4 21 4 35 4-32 4 37 4-13 4-19 4 30 4-56 4 9 4 33 4-26 4 15 4-13 4-6 4 5 4 20 4-15 4 44 4-55 4-33 4 5 4-24 4 84 4 6 4-14 4 19 4-17 4 5 4 3 4-48 4 13 4 55 4-89 4 39 4 15 4-12 4-18 4-28 4 61 4 0 4-35 4 31 4-82 4 108 4-69 4 44 4-17 4-55 4 19 4 70 4 3 4-52 4 7 4 7 4 57 4-28 4-22 4 17 4 25 4-1 4-31 4-8 4-12 4-10 4-47 4 61 4-79 4 42 4 46 4-3 4-33 4 26 4 28 4-85 4 80 4-112 4 25 4 94 4-94 4 6 4 10 4 39 4-45 4 99 4-126 4 61 4 25 4-52 4 2 4-13 4-12 4 87 4-23 4 45 4-52 4-62 4 15 4 96 4-46 4-51 4-11 4 104 4-15 4-27 4-37 4 49 4 2 4 37 4-128 4 104 4-95 4 39 4-20 4 17 4 40 4-100 4 62 4 26 4-61 4 29 4-19 4 53 4-38 4 40 4-118 4 42 4 13 4 56 4-48 4 108 4-99 4 83 4-16 4-6 4-71 4 48 4 26 4 49 4-98 4 19 4-72 4 28 4 95 4-114 4 130 4-63 4 31 4 0 4-129 4 79 4 63 4-55 4 39 4-15 4-35 4 25 4 7 4-91 4 8 4 67 4 60 4-47 4 63 4-103 4-26 4 68 4-29 4-3 4 5 4-143 4 44 4 172 4-13 4-162 4 178 4-154 4 10 4 42 4-54 4 59 4 57 4-25 4-133 4 124 4 24 4 50 4-39 4 31 4-9 4-11 4-13 4 19 4 4 4-49 4 17 4 50 4-40 4-19 4 9 4-24 4 37 4-17 4-38 4 14 4-58 4 58 4 62 4-20 4-20 4-11 4-22 4 1 4 29 4 26 4-40 4 28 4 15 4-11 4 40 4-32 4-31 4 34 4-22 4-3 4 11 4-8 4 26 4 14 4-34 4 33 4-12 4-35 4 38 4-23 4-24 4 13 4 34 4 0 4 17 4-62 4 53 4-20 4 18 4 13 4-19 4 16 4-13 4-46 4 60 4-20 4-26 4 3 4 36 4-28 4 14 4 7 4-21 4 17 4 16 4-53 4 31 4-28 4 33 4 11 4-3 4-51 4 15 4 11 4 26 4-31 4-28 4 11 4-35 4 62 4 40 4-69 4 47 4-35 4 2 4 48 4-3 4 0 4-50 4 47 4-5 4-16 4-27 4-6 4-1 4-9 4 7 4 10 4-7 4 4 4-1 4 21 4 13 4 11 4-26 4-63 4 28 4-30 4 62 4-7 4-73 4 79 4-1 4-17 4 5 4-9 4 18 4 0 4-9 4-20 4 18 4-8 4 2 4 19 4 14 4 4 4-20 4 27 4-3 4-26 4-2 4 36 4-11 4-4 4-43 4 18 4 15 4-29 4 38 4 11 4-37 4 44 4-36 4 2 4 12 4 29 4-17 4-38 4 39 4-43 4 2 4 0 4 29 4-20 4 35 4-6 4 22 4-40 4-20 4 22 4 9 4-47 4 42 4 35 4-50 4 37 4-8 4-44 4 24 4-14 4 19 4-41 4 11 4-12 4 55 4-46 4 33 4-99 4 88 4-15 4-33 4 64 4-29 4-18 4 36 4-2 4-4 4-42 4 32 4 28 4-17 4-17 4 14 4-51 4 44 4-12 4-38 4 28 4-13 4 44 4-20 4 7 4-12 4-33 4 28 4 2 4 0 4-37 4-15 4 57 4-59 4-118 4 136 4-93 4 121 4-246 4 15 4 145 4-347 4 298 4-47 4-402 4-32 4 0 4 82 4 157 4-7 4 324 4-140 4-140 4-143 4 42 4 214 4 16 4 243 4-119 4-58 4 67 4 126 4-50 4-6 4-59 4 76 4 28 4-82 4 57 4-60 4 38 4 7 4 8 4-10 4 16 4-28 4 16 4-7 4 42 4-1 4-69 4 61 4-18 4 6 4 10 4 19 4-31 4-21 4 33 4-2 4-21 4-14 4 40 4-26 4 4 4-21 4 12 4 1 4 18 4-31 4 12 4-2 4 40 4-14 4 19 4 15 4-40 4-1 4-24 4 8 4 39 4-4 4-51 4 27 4-8 4 46 4-35 4-26 4-3 4 8 4-14 4 26 4 24 4 8 4-78 4 13 4 45 4-56 4 56 4-36 4 17 4 17 4-5 4-55 4 46 4-114 4 72 4 45 4-19 4-1 4 23 4-22 4 3 4-14 4 44 4 4 4-70 4 21 4-12 4 15 4 26 4-14 4 16 4 10 4-8 4-33 4 34 4-26 4 35 4 8 4-42 4-3 4-15 4 41 4 27 4-35 4 5 4 17 4-6 4 9 4-33 4 30 4-12 4-11 4-1 4 15 4-29 4 15 4-25 4-4 4 16 4 4 4-24 4-14 4 32 4 22 4-56 4 51 4-32 4 1 4-28 4-9 4 43 4-43 4 32 4-3 4-9 4 9 4-41 4 31 4 13 4-40 4-4 4 5 4 57 4 0 4-20 4-46 4 52 4-28 4-42 4-40 4 24 4 48 4-4 4-31 4 14 4 25 4-3 4-60 4 27 4-14 4-2 4 0 4 36 4-18 4 30 4-58 4 26 4-69 4 63 4-5 4-97 4 84 4 11 4 19 4-10 4-26 4 36 4 15 4 12 4-31 4 16 4 29 4-7 4 20 4-16 4-7 4 11 4-5 4-37 4 48 4-4 4 32 4 24 4-12 4 13 4-27 4 21 4-2 4-5 4 13 4 9 4-10 4 7 4-27 4 19 4-46 4 0 4-27 4 19 4 50 4-18 4-13 4 11 4-27 4-15 4 57 4-30 4 15 4-25 4-17 4 5 4 21 4-46 4-15 4 4 4-12 4 49 4-39 4-22 4 21 4-20 4-4 4 10 4-6 4 48 4 13 4-82 4 45 4 45 4-19 4 14 4 1 4 40 4-18 4-2 4 1 4-37 4 8 4 81 4-9 4-70 4 14 4 44 4-78 4 52 4 51 4-24 4-13 4-164 4-25 4 47 4 8 4 69 4-148 4-270 4 353 4-205 4-123 4 235 4 138 4-289 4 249 4-303 4 80 4-215 4 484 4-166 4-353 4 0 4 71 4 250 4-41 4-129 4-97 4-54 4 0 4 0 4 144 4 298 4-54 4-388 4 257 4 154 4-58 4-353 4 396 4-396 4 264 4-121 4 345 4-326 4 213 4-159 4-30 4-4 4 374 4 22 4-4 4-350 4 10 4 241 4-5 4-20 4-102 4-7 4 269 4-148 4-100 4 148 4-29 4-176 4 202 4 126 4-239 4 216 4-2 4-57 4-135 4-16 4 192 4-30 4 30 4 17 4-35 4 34 4-10 4-31 4 60 4-93 4 68 4-60 4 36 4 16 4-13 4-70 4 94 4-83 4-21 4 61 4-183 4 117 4 81 4-129 4-19 4 37 4 38 4-95 4 6 4 79 4-45 4-109 4-93 4 84 4-148 4 15 4-98 4 42 4-8 4 94 4 67 4-295 4 0 4 253 4-253 4 120 4 133 4-29 4 10 4 83 4-23 4-129 4 44 4-14 4 130 4-9 4 67 4-112 4 92 4 131 4-57 4 89 4 47 4 3 4 11 4-9 4-25 4 91 4-33 4 14 4-28 4-38 4 103 4-13 4 34 4-52 4 25 4 15 4 5 4 27 4-3 4 35 4-50 4 23 4 3 4-5 4-12 4-7 4 34 4-43 4 16 4-8 4 15 4-8 4 0 4-1 4-12 4-5 4 10 4 1 4-13 4 9 4 7 4-8 4-2 4-1 4-13 4-6 4-3 4 2 4 3 4-10 4 2 4-5 4-5 4 2 4-9 4 5 4-8 4 4 4-6 4-1 4-8 4 3 4-9 4 5 4-2 4-2 4 0 4-6 4-3 4-7 4-2 4-3 4 2 4-7 4-3 4-4 4 6 4-3 4-8 4 0 4 2 4-4 4 1 4-5 4-4 4 7 4-3 4 2 4 3 4 3 4 2 4-1 4 3 4 4 4 3 4-5 4 7 4-1 4-1 4 7 4-2 4 5 4 0 4 1 4 2 4 3 4 2 4 5 4 3 4 0 4-2 4 2 4 4 4-1 4 1 4 6 4-4 4 4 4 9 4 3 4-9 4 12 4 1 4-4 4 11 4 0 4-2 4 6 4 0 4-7 4-8 4-10 4-8 4-1 4-4 4-8 4-7 4-7 4-199 4-245 4-151 4 0 4 0 4 156 4 265 4 197 4 0 4 5 4 0 4 2 4 6 4 8 4-4 4 10 4-7 4 6 4 9 4 2 4 6 4-1 4 0 4 2 4 8 4-5 4 7 4 2 4-1 4-2 4 5 4 5 4 3 4-1 4-1 4 0 4 5 4-3 4 6 4-3 4 5 4 5 4 6 4 0 4-2 4 1 4 4 4-1 4 7 4-4 4-6 4 5 4 4 4 4 4-1 4 2 4-2 4-1 4 0 4 6 4-5 4 1 4 3 4-4 4 3 4 1 4-5 4 4 4-3 4 10 4 2 4 0 4 0 4 5 4-7 4 4 4 3 4-3 4-6 4 10 4 2 4-5 4-3 4 5 4 3 4-10 4 5 4-4 4-2 4 4 4-6 4 5 4 2 4-6 4 4 4-4 4 6 4-1 4-10 4 8 4-1 4-10 4 7 4-3 4-4 4 1 4-3 4 8 4 1 4-7 4-2 4 7 4-4 4 2 4-5 4 7 4-14 4 11 4-1 4-6 4 0 4 6 4-10 4-1 4 1 4-13 4-1 4 1 4-10 4 1 4-2 4-15 4 7 4-6 4-9 4 1 4 10 4 0 4-3 4 4 4-4 4 9 4-2 4 4 4-1 4 0 4-6 4 3 4-7 4-2 4 9 4-6 4 1 4 6 4-1 4-6 4 12 4-9 4 5 4 3 4-3 4 1 4-9 4 3 4 4 4-4 4 9 4-14 4 8 4-13 4 4 4 1 4 7 4-11 4 6 4-3 4 0 4-14 4-10 4-74 4-217 4 110 4 166 4 3 4 10 4-5 4 10 4-6 4 15 4-2 4-3 4 5 4-2 4 19 4-10 4 4 4 2 4 6 4-4 4 1 4-3 4-3 4 5 4 11 4-4 4-6 4-4 4 3 4 9 4-10 4 10 4-6 4-2 4 12 4-5 4 1 4-7 4 14 4-5 4 4 4-14 4 14 4-12 4 19 4-10 4-2 4-2 4 8 4-12 4 12 4 3 4-1 4-10 4 2 4 5 4-2 4-10 4 13 4-11 4 6 4 5 4-2 4-3 4 9 4-5 4 6 4-1 4-4 4-1 4-14 4 17 4-4 4-16 4 1 4 13 4-2 4-16 4 8 4 15 4-13 4-4 4 2 4-4 4 9 4-14 4 13 4 5 4-15 4-2 4 16 4-17 4 21 4-30 4 19 4-4 4-5 4 22 4-26 4 5 4 15 4-28 4 25 4 0 4-3 4 3 4-26 4-6 4 27 4 14 4-18 4 9 4-24 4 17 4 4 4-14 4 13 4-4 4-4 4-20 4-7 4 8 4 33 4-19 4-12 4 15 4 18 4-36 4 30 4-13 4-26 4 36 4 7 4-27 4-11 4 5 4 10 4-9 4-2 4-3 4 23 4-14 4-19 4 38 4-45 4 24 4 15 4 0 4-35 4-9 4 44 4-21 4 6 4-34 4 35 4 1 4-61 4 77 4-12 4-18 4-20 4 40 4-25 4 17 4-16 4 15 4-8 4-8 4-28 4-8 4 19 4-13 4 31 4-27 4-7 4-6 4 31 4-27 4 13 4-37 4 30 4-5 4-22 4 18 4 19 4-36 4 5 4 14 4 12 4-23 4-7 4 30 4-5 4-7 4 4 4 3 4-38 4 8 4 24 4 23 4-39 4 35 4-3 4-9 4-30 4 9 4 9" fill="none" stroke="#6f2f9f" stroke-width="7" stroke-linejoin="round"/>
<path d="M427,1026l8 5 8 29 8 30 8-54 8 26 8 26 8 20 8 20 8 2 8-17 8-18 8 32 8-1 8-25 8-9 8 44 8 4 8 4 8-10 8-2 8 16 8-12 8-14 8 13 8-4 8-1 8 13 8 7 8-23 8 34 8 25 8 10 8-34 8 4 8 19 8-15 8-3 8-9 8 1 8-25 8 24 8-1 8 15 8-5 8 27 8 1 8-3 8-10 8-1 8 20 8-37 8-2 8 14 8 13 8 1 8 2 8-5 8 15 8 9 8-2 8-7 8 3 8-11 8-10 8-18 8-43 8 15 8 10 8-13 8-5 8-4 8 38 8 6 8-43 8 2 8-3 8-53 8-3 8-8 8-18 8-27 8 21 8 44 8-40 8-25 8-19 8 14 8 25 8-39 8 20 8 40 8-6 8-5 8 14 8 3 8-6 8 43 8 14 8 17 8 3 8 22 8 32 8-8 8-24 8 5 8 8 8-52 8 6 8 13 8 4 8-19 8 7 8-6 8-9 8 8 8 19 8-37 8-32 8 31 8 2 8 1 8-23 8 36 8 23 8-15 8 18 8 24 8-8 8 2 8-33 8-10 8 11 8-4 8 3 8-14 8 3 8 3 8-10 8 13 8-6 8 18 8 8 8 1 8-4 8 6 8 10 8 10 8-17 8-5 8-18 8 37 8 0 8-10 8 3 8-4 8 14 8-23 8 7 8 3 8-48 8 47 8-5 8 9 8-13 8 5 8-17 8-39 8 37 8 8 8 6 8 5 8-12 8-7 8-33 8-8 8-5 8-22 8-2 8-24 8-2 8-36 8-48 8-3 8-45 8-26 8-34 8-87 8 42 8 53 8 56 8-1 8 78 8-2 8 7 8 19 8 32 8-14 8 20 8-24 8 2 8 0 8-4 8-37 8-18 8-22 8-26 8-12 8 18 8-54 8 39 8 31 8-83 8 62 8-15 8-3 8 10 8-1 8 25 8 5 8-36 8 66 8-6 8 5 8 4 8 19 8 0 8 13 8-11 8 1 8-8 8-18 8 8 8-53 8 38 8 44 8 0 8 17 8 39 8 18 8 19 8 27 8-2 8-6 8-11 8-20 8-2 8-17 8-3 8-66 8 42 8-19 8 3 8 10 8 16 8 19 8 1 8 15 8 21 8 5 8 18 8 16 8-4 8 3 8-7 8-9 8-13 8 1 8 1 8 0 8-4 8 15 8 1 8 13 8 1 8 11 8-1 8 15 8-15 8 16 8-21 8-9 8-3 8-7 8-4 8-5 8-1 8-14 8-2 8 3 8-12 8 2 8-13 8-3 8-10 8-2 8 10 8-47 8 27 8-12 8 1 8-12 8-11 8-21 8-13 8-3 8-17 8 6 8 11 8-6 8 4 8 2 8 9 8 1 8 3 8 19 8 12 8 15 8 15 8 13 8 13 8 14 8 11 8 5 8 6 8 5 8 6 8 3 8 7 8 5 8 3 8 6 8 2 8-3 8-4 8-2 8-1 8-4 8-2 8-5 8-2 8-2 8-4 8-4 8-3 8 5 8 4 8 6 8 5 8 7 8 4 8 4 8 4 8 5 8 5 8 6 8 6 8 4 8 5 8 5 8 1 8 2 8 1 8 3 8 3 8 0 8 4 8 1 8 1 8 1 8 2 8 2 8 3 8 1 8 1 8 2 8 2 8 3 8 0 8 1 8 2 8 1 8-1 8-1 8 4 8-2 8 1 8 1 8 3 8-1 8 1 8-1 8 1 8 0 8 2 8 0 8 2 8-1 8 2 8-1 8 0 8 4 8-2 8 0 8-2 8 1 8-2 8 0 8 1 8-3 8 0 8 1 8-2 8 0 8 1 8-1 8-3 8 1 8 1 8-3 8 1 8-2 8 0 8 0 8-2 8-1 8 2 8-2 8-1 8 0 8-4 8-4 8-3 8-2 8-3 8-2 8-4 8 1 8-4 8-3 8-4 8-2 8-2 8-3 8-2 8-2 8-3 8-3 8-6 8-4 8-4 8-6 8-7 8-3 8-6 8-3 8-5 8-7 8-5 8-4 8-6 8-6 8 0 8 8 8 4 8 8 8 6 8 5 8 7 8 4 8 7 8 4 8 3 8-7 8-8 8-9 8-6 8-10 8-8 8-8 8-7 8-9 8-7 8-6 8-9 8 6 8 3 8 6 8 10 8 6 8 5 8 6 8 2 8 8 8 14 8-11 8-12 8-17 8-15 8-24 8-7 8-13 8-20 8 4 8-14 8-7 8-7 8 7 8-31 8-23 8-1 8 0 8-11 8 18 8 20 8 6 8 14 8-5 8 9 8 18 8 4 8 2 8 10 8 13 8 17 8-1 8-14 8-28 8-12 8-18 8-21 8-7 8-11 8-4 8-25 8 14 8-14 8-7 8-1 8 13 8 10 8-10 8-5 8 29 8-33 8 78 8-8 8 3 8 17 8-5 8 22 8-19 8 15 8-13 8 7 8-5 8 1 8-18 8 5 8-17 8 3 8-8 8-1 8-54 8 54 8 2 8-5 8 0 8 0 8-11 8 2 8-11 8 3 8 13 8 7 8-20 8-2 8-9 8-15 8-14 8-11 8-7 8 14 8 4 8 25 8 4 8 18 8 0 8 8 8 17 8 3 8-59 8 85 8 18 8-1 8 25 8-5 8 23 8 15 8-7 8 19 8 5 8 13 8-16 8 6 8-3 8-3 8 19 8-18 8-1 8-15 8 4 8-21 8-14 8 23 8-45 8-47 8-108 8 8 8-47 8-75 8-75 8-13 8 3 8-37 8-120 8-5 8 0 8 0 8 0 8 0 8 0 8 0 8 0 8 8 8 86 8 20 8 32 8 34 8 52 8 28 8 51 8 13 8 33 8 17 8 13 8 21 8 27 8-27 8 12 8 8 8 39 8-14 8 28 8-20 8 7 8-15 8 5 8-7 8-16 8-5 8 13 8-19 8 11 8-17 8-21 8-55 8-14 8-61 8-14 8-7 8-125 8 111 8-149 8-20 8-58 8-5 8 0 8 0 8 0 8 0 8 0 8 0 8 117 8 87 8 83 8 80 8 72 8 91 8 64 8 22 8-20 8-5 8-14 8-31 8-15 8-8 8-14 8 3 8-4 8 19 8 2 8 10 8-3 8 0 0 102-8-4-8-23-8 1-8-19-8 15-8-6-8-8-8 12-8 4-8 19-8 35-8-7-8 21-8-13-8 17-8-74-8-81-8-76-8-70-8-64-8-18-8-54-8-86-8-30-8-20-8-48-8-20-8 97-8 80-8 54-8 31-8 29-8 29-8-9-8 28-8 22-8 27-8 18-8 27-8 27-8 18-8 1-8 28-8 5-8-14-8-2-8 5-8 9-8 7-8 12-8-9-8-3-8-15-8-17-8-10-8-6-8-3-8-16-8 1-8-14-8-11-8-37-8-23-8-30-8-44-8-33-8-21-8-20-8-26-8-48-8 12-8-62-8 16-8-65-8-25-8 49-8-26-8 93-8 11-8 43-8 59-8 2-8 35-8 32-8 56-8 35-8 53-8 73-8 26-8 22-8 5-8 19-8-10-8 22-8 3-8-5-8 18-8-14-8 1-8 12-8-16-8 7-8-6-8-17-8-10-8-3-8-21-8 6-8-4-8-21-8-21-8-10-8-15-8-8-8-2-8-7-8-7-8-17-8 2-8-10-8-13-8-29-8-1-8 1-8 0-8 29-8 4-8 18-8 1-8 8-8 0-8-9-8 10-8 4-8-7-8 7-8 13-8-4-8-3-8 11-8 6-8-15-8 12-8 0-8-8-8 6-8 21-8 9-8-9-8 8-8 3-8-4-8-5-8-1-8-5-8 6-8-25-8 11-8-15-8-24-8-14-8-18-8-9-8-7-8 15-8 6-8-8-8 11-8-10-8 14-8-9-8 13-8 16-8 17-8 16-8 5-8 28-8 23-8 10-8 0-8-6-8-15-8-21-8 0-8-13-8 3-8 3-8-17-8-7-8-16-8-8-8-16-8 12-8-8-8 20-8 8-8 11-8 14-8-6-8 10-8-4-8 17-8 2-8 11-8 14-8 6-8 16-8 12-8 6-8 11-8-7-8-8-8-10-8-13-8-4-8-11-8-5-8-12-8-8-8-5-8 7-8 7-8 7-8 9-8 7-8 8-8 9-8 8-8 7-8 7-8 9-8 6-8 0-8-6-8-6-8-6-8-7-8-6-8-5-8-6-8-5-8-7-8 1-8 6-8 4-8 5-8 5-8 5-8 5-8 5-8 5-8 5-8 4-8 6-8 5-8 4-8 6-8 4-8 2-8 1-8 3-8 2-8 5-8 0-8 3-8 4-8 3-8 2-8 2-8 3-8 3-8 2-8 2-8 4-8 2-8 2-8 1-8 0-8 1-8 0-8 1-8 1-8 0-8 2-8-1-8 2-8-1-8 1-8 1-8 0-8 0-8 2-8 0-8 1-8 0-8 2-8-1-8 1-8 0-8 1-8 0-8 2-8-2-8 1-8-1-8-1-8-1-8 1-8-3-8 1-8-2-8 1-8-1-8-1-8-1-8 0-8-1-8-1-8 0-8-1-8 0-8-1-8 0-8-2-8-1-8 0-8-1-8-2-8-2-8 0-8-3-8-2-8-2-8-2-8 0-8-3-8-3-8 0-8-3-8 0-8-4-8-1-8-2-8-1-8-2-8-6-8-3-8-6-8-6-8-5-8-5-8-5-8-5-8-4-8-5-8-3-8-7-8-5-8-4-8-6-8 4-8 3-8 3-8 4-8 2-8 4-8 2-8 3-8 3-8 3-8 2-8 3-8-1-8-5-8-5-8-4-8-7-8-5-8-6-8-5-8-6-8-4-8-10-8-9-8-11-8-11-8-13-8-18-8-14-8-10-8 3-8-6-8 3-8 5-8-7-8 3-8-1-8 2-8 2-8 18-8 16-8 9-8 4-8 23-8 11-8-3-8 17-8-8-8 0-8 12-8 4-8 10-8 9-8 1-8 0-8 10-8-3-8 0-8 15-8 4-8 7-8-3-8 15-8 3-8 11-8 1-8 2-8-5-8-12-8-7-8-1-8-6-8 1-8-12-8-4-8-1-8 1-8 2-8 10-8 2-8 15-8 11-8-16-8-6-8-6-8-17-8-7-8-26-8-8-8-7-8-17-8-5-8-7-8 30-8 2-8 7-8 19-8 1-8 2-8 24-8 9-8 1-8-9-8-13-8-20-8-17-8-37-8-18-8-7-8-6-8 8-8-15-8 18-8 1-8 5-8-4-8 12-8-17-8 1-8-9-8-8-8 2-8-10-8 1-8-23-8 1-8-16-8-21-8-10-8 8-8 18-8-1-8 4-8 0-8 10-8-21-8 3-8 11-8 21-8 18-8 22-8 13-8 32-8-11-8 14-8 1-8-9-8-9-8-14-8 7-8-21-8-18-8-23-8-47-8-41-8-33-8-25-8 29-8 47-8 50-8 46-8 19-8 11-8 18-8 15-8 8-8 17-8 7-8 21-8 25-8 9-8 0-8 22-8-4-8-15-8 8-8-4-8 14-8-14-8 14-8 6-8-10-8-3-8 14-8 0-8-14-8 0-8 1-8 20-8-11-8 10-8-13-8-1-8 0-8-1-8 16-8-15-8 3-8 3-8-15-8 16-8-3-8-18-8 6-8-14-8-1-8-5-8 1-8 12-8 1-8-6-8 3-8-2-8 13-8 7-8-7-8 11-8 6-8-16-8-2-8-3-8 30-8 0-8-20-8 6-8 17-8-17-8 11-8 3-8-6-8-25-8 8-8 5-8 8-8-24-8 28-8 11-8-6-8-11-8 7-8-12-8 9-8-19-8 1-8 19-8 10-8 1-8-35-8-3-8 26-8 3-8-16-8 16-8-3-8-21-8 18-8-10-8 20-8-15-8 16-8-7-8-22-8 25-8-12-8 18-8-35-8 2-8 24-8 0-8 3-8-20-8-10-8 20-8-7-8 25-8-31-8 3-8 1-8 28-8-2-8-16-8 25-8-15-8 1-8 3-8 11-8-17-8 15-8-8-8 0-8-8-8-23-8 13-8 14-8 4-8-23-8 21-8 8-8-10-8-15-8-13-8 22-8-21-8 16-8-12-8 30-8-1-8-20-8 20-8-26-8 15-8 16-8-2-8-2-8-14-8-21-8 29-8-4-8-27-8 38-8-9-8 1-8-4-8 5-8-17-8-4-8 17-8-10-8 14-8-25-8-1-8 8-8 14-8-16-8 25-8-28-8 28-8 0-8-28-8 4-8 23-8 1-8-32-8 7Z" fill="#219fd0" fill-opacity="0.85" stroke="none"/>
<path d="M427,958l8 21 8 49 8-13 8-11 8-2 8 43 8 6 8 5 8 33 8-34 8 1 8 26 8 13 8-40 8-9 8 28 8 18 8 9 8-14 8 14 8 10 8 1 8-11 8-23 8 16 8-22 8-19 8 56 8-16 8 1 8 41 8 0 8-24 8 5 8 32 8-3 8-25 8-16 8 11 8-16 8-1 8 14 8 10 8-9 8 16 8 12 8 2 8-9 8-8 8 26 8-79 8 53 8 12 8 22 8-2 8-86 8 93 8-12 8 3 8 18 8-1 8-20 8-15 8-9 8-24 8-10 8-28 8 27 8 17 8-19 8-19 8 41 8-14 8-10 8-88 8 48 8-94 8 57 8-2 8-22 8-41 8 38 8 39 8-70 8-59 8 34 8 34 8-18 8-20 8 36 8 61 8-13 8 11 8 3 8-7 8 18 8 10 8 45 8-28 8 7 8 66 8-38 8 20 8-20 8 15 8 8 8-46 8 8 8-3 8 10 8-6 8-4 8 21 8-18 8 1 8-14 8-93 8 46 8 11 8 40 8-12 8-107 8 108 8 48 8-18 8 20 8 26 8 4 8-6 8-24 8-12 8 5 8 4 8 8 8-14 8 16 8 3 8-10 8 13 8-6 8 6 8 20 8-10 8 7 8 6 8 10 8 0 8-7 8-5 8-28 8 44 8-3 8-4 8 3 8-4 8 7 8-16 8 0 8 10 8-57 8 56 8-6 8 10 8-21 8 13 8-17 8-45 8 43 8 5 8 9 8 5 8-12 8-17 8-23 8-17 8-3 8-15 8-2 8-24 8-6 8-32 8-48 8-3 8-45 8-32 8-43 8-72 8 42 8 53 8 52 8 0 8 81 8-2 8 7 8 19 8 23 8-5 8 12 8-19 8 5 8 0 8-5 8-36 8-22 8-18 8-26 8-12 8 18 8-54 8 39 8 19 8-74 8 65 8-15 8-3 8 9 8-4 8 29 8 5 8-36 8 54 8-5 8 16 8 4 8 12 8 7 8 13 8-16 8-3 8-6 8-13 8 10 8-63 8 48 8 41 8 3 8 17 8 33 8 24 8 10 8 30 8 4 8-8 8-16 8-13 8-2 8-17 8-3 8-74 8 50 8-19 8 3 8 9 8 11 8 15 8 11 8 12 8 24 8 5 8 18 8 16 8-4 8 3 8-7 8-9 8-13 8 1 8-3 8-3 8 1 8 14 8 4 8 9 8 5 8 9 8 1 8 8 8-8 8 8 8-13 8-9 8-3 8-12 8 0 8-4 8-7 8-8 8-2 8-3 8-6 8-6 8-5 8-3 8-10 8-2 8 4 8-41 8 20 8-7 8 3 8-12 8-11 8-21 8-15 8-8 8-10 8 1 8 16 8-6 8 2 8 4 8 7 8 2 8 4 8 16 8 15 8 15 8 15 8 13 8 12 8 15 8 11 8 4 8 7 8 5 8 5 8 4 8 7 8 4 8 4 8 5 8 3 8-4 8-3 8-2 8-2 8-4 8-2 8-5 8-1 8-3 8-4 8-4 8-2 8 4 8 5 8 6 8 5 8 6 8 5 8 4 8 3 8 6 8 5 8 6 8 6 8 4 8 5 8 5 8 1 8 2 8 1 8 3 8 2 8 1 8 3 8 2 8 1 8 1 8 2 8 2 8 3 8 0 8 2 8 2 8 1 8 4 8 0 8 1 8 1 8 2 8-1 8-1 8 3 8-1 8 1 8 1 8 2 8 0 8 1 8-1 8 1 8 0 8 2 8 0 8 1 8 0 8 2 8-1 8 0 8 3 8-1 8 0 8-2 8 1 8-2 8 0 8 1 8-3 8 0 8 1 8-2 8 0 8 0 8 0 8-3 8 1 8 0 8-2 8 1 8-2 8 0 8-1 8-1 8-1 8 2 8-2 8-1 8-1 8-4 8-4 8-2 8-3 8-2 8-2 8-4 8 0 8-3 8-4 8-3 8-3 8-1 8-3 8-2 8-2 8-3 8-3 8-6 8-4 8-5 8-5 8-7 8-4 8-5 8-4 8-5 8-6 8-5 8-4 8-6 8-7 8 0 8 8 8 5 8 7 8 7 8 5 8 6 8 5 8 7 8 4 8 3 8-8 8-8 8-8 8-6 8-10 8-8 8-8 8-7 8-9 8-7 8-7 8-8 8 6 8 3 8 6 8 10 8 6 8 3 8 8 8 2 8 8 8 11 8-8 8-16 8-15 8-17 8-21 8-6 8-13 8-20 8-3 8-17 8 3 8-12 8 3 8-22 8-23 8-1 8 0 8-14 8 21 8 13 8 9 8 15 8-2 8 3 8 24 8 4 8 0 8 12 8 13 8 17 8-1 8-18 8-24 8-12 8-24 8-15 8-9 8-20 8 0 8-18 8 14 8-17 8-4 8-5 8 13 8 3 8-8 8 4 8 19 8-23 8 70 8-5 8 3 8 18 8-1 8 13 8-10 8 14 8-14 8 8 8-4 8 1 8-18 8 5 8-17 8 3 8-8 8-1 8-54 8 54 8 1 8-4 8-10 8 6 8-14 8 2 8-10 8 9 8 10 8 0 8-10 8-14 8-9 8-7 8-10 8-11 8-7 8 14 8 1 8 21 8 11 8 16 8 2 8 8 8 6 8 14 8-59 8 75 8 28 8-2 8 26 8-5 8 17 8 11 8-1 8 14 8 14 8 6 8-9 8 6 8-3 8-3 8 10 8-9 8-11 8-11 8 10 8-21 8-14 8 10 8-42 8-37 8-108 8 8 8-60 8-66 8-88 8 4 8-8 8-47 8-99 8-5 8 0 8 0 8 0 8 0 8 0 8 0 8 0 8 0 8 66 8 22 8 58 8 34 8 43 8 26 8 62 8 13 8 33 8 17 8 13 8 14 8 19 8-13 8 13 8 8 8 39 8-14 8 28 8-20 8 7 8-15 8 5 8-7 8-16 8-5 8 13 8-19 8 5 8-12 8-24 8-51 8-19 8-56 8-15 8-6 8-125 8 111 8-149 8-20 8-58 8-5 8 0 8 0 8 0 8 0 8 0 8 0 8 117 8 82 8 76 8 92 8 72 8 80 8 75 8 9 8-7 8-5 8-18 8-27 8-21 8-2 8-14 8-10 8 9 8 19 8-1 8 13 8-3 8 0 0 0-8 0-8 3-8-10-8-2-8-19-8 4-8-3-8 14-8 8-8 15-8 31-8 14-8 5-8 20-8-22-8-64-8-91-8-72-8-80-8-83-8-87-8-117-8 0-8 0-8 0-8 0-8 0-8 0-8 5-8 58-8 20-8 149-8-111-8 125-8 7-8 14-8 61-8 14-8 55-8 21-8 17-8-11-8 19-8-13-8 5-8 16-8 7-8-5-8 15-8-7-8 20-8-28-8 14-8-39-8-8-8-12-8 27-8-27-8-21-8-13-8-17-8-33-8-13-8-51-8-28-8-52-8-34-8-32-8-20-8-86-8-8-8 0-8 0-8 0-8 0-8 0-8 0-8 0-8 5-8 120-8 37-8-3-8 13-8 75-8 75-8 47-8-8-8 108-8 47-8 45-8-23-8 14-8 21-8-4-8 15-8 1-8 18-8-19-8 3-8 3-8-6-8 16-8-13-8-5-8-19-8 7-8-15-8-23-8 5-8-25-8 1-8-18-8-85-8 59-8-3-8-17-8-8-8 0-8-18-8-4-8-25-8-4-8-14-8 7-8 11-8 14-8 15-8 9-8 2-8 20-8-7-8-13-8-3-8 11-8-2-8 11-8 0-8 0-8 5-8-2-8-54-8 54-8 1-8 8-8-3-8 17-8-5-8 18-8-1-8 5-8-7-8 13-8-15-8 19-8-22-8 5-8-17-8-3-8 8-8-78-8 33-8-29-8 5-8 10-8-10-8-13-8 1-8 7-8 14-8-14-8 25-8 4-8 11-8 7-8 21-8 18-8 12-8 28-8 14-8 1-8-17-8-13-8-10-8-2-8-4-8-18-8-9-8 5-8-14-8-6-8-20-8-18-8 11-8 0-8 1-8 23-8 31-8-7-8 7-8 7-8 14-8-4-8 20-8 13-8 7-8 24-8 15-8 17-8 12-8 11-8-14-8-8-8-2-8-6-8-5-8-6-8-10-8-6-8-3-8-6-8 9-8 6-8 7-8 9-8 7-8 8-8 8-8 10-8 6-8 9-8 8-8 7-8-3-8-4-8-7-8-4-8-7-8-5-8-6-8-8-8-4-8-8-8 0-8 6-8 6-8 4-8 5-8 7-8 5-8 3-8 6-8 3-8 7-8 6-8 4-8 4-8 6-8 3-8 3-8 2-8 2-8 3-8 2-8 2-8 4-8 3-8 4-8-1-8 4-8 2-8 3-8 2-8 3-8 4-8 4-8 0-8 1-8 2-8-2-8 1-8 2-8 0-8 0-8 2-8-1-8 3-8-1-8-1-8 3-8 1-8-1-8 0-8 2-8-1-8 0-8 3-8-1-8 0-8 2-8-1-8 2-8 0-8 2-8-4-8 0-8 1-8-2-8 1-8-2-8 0-8-2-8 0-8-1-8 1-8-1-8 1-8-3-8-1-8-1-8 2-8-4-8 1-8 1-8-1-8-2-8-1-8 0-8-3-8-2-8-2-8-1-8-1-8-3-8-2-8-2-8-1-8-1-8-1-8-4-8 0-8-3-8-3-8-1-8-2-8-1-8-5-8-5-8-4-8-6-8-6-8-5-8-5-8-4-8-4-8-4-8-7-8-5-8-6-8-4-8-5-8 3-8 4-8 4-8 2-8 2-8 5-8 2-8 4-8 1-8 2-8 4-8 3-8-2-8-6-8-3-8-5-8-7-8-3-8-6-8-5-8-6-8-5-8-11-8-14-8-13-8-13-8-15-8-15-8-12-8-19-8-3-8-1-8-9-8-2-8-4-8 6-8-11-8-6-8 17-8 3-8 13-8 21-8 11-8 12-8-1-8 12-8-27-8 47-8-10-8 2-8 10-8 3-8 13-8-2-8 12-8-3-8 2-8 14-8 1-8 5-8 4-8 7-8 3-8 9-8 21-8-16-8 15-8-15-8 1-8-11-8-1-8-13-8-1-8-15-8 4-8 0-8-1-8-1-8 13-8 9-8 7-8-3-8 4-8-16-8-18-8-5-8-21-8-15-8-1-8-19-8-16-8-10-8-3-8 19-8-42-8 66-8 3-8 17-8 2-8 20-8 11-8 6-8 2-8-27-8-19-8-18-8-39-8-17-8 0-8-44-8-38-8 53-8-8-8 18-8 8-8-1-8 11-8-13-8 0-8-19-8-4-8-5-8 6-8-66-8 36-8-5-8-25-8 1-8-10-8 3-8 15-8-62-8 83-8-31-8-39-8 54-8-18-8 12-8 26-8 22-8 18-8 37-8 4-8 0-8-2-8 24-8-20-8 14-8-32-8-19-8-7-8 2-8-78-8 1-8-56-8-53-8-42-8 87-8 34-8 26-8 45-8 3-8 48-8 36-8 2-8 24-8 2-8 22-8 5-8 8-8 33-8 7-8 12-8-5-8-6-8-8-8-37-8 39-8 17-8-5-8 13-8-9-8 5-8-47-8 48-8-3-8-7-8 23-8-14-8 4-8-3-8 10-8 0-8-37-8 18-8 5-8 17-8-10-8-10-8-6-8 4-8-1-8-8-8-18-8 6-8-13-8 10-8-3-8-3-8 14-8-3-8 4-8-11-8 10-8 33-8-2-8 8-8-24-8-18-8 15-8-23-8-36-8 23-8-1-8-2-8-31-8 32-8 37-8-19-8-8-8 9-8 6-8-7-8 19-8-4-8-13-8-6-8 52-8-8-8-5-8 24-8 8-8-32-8-22-8-3-8-17-8-14-8-43-8 6-8-3-8-14-8 5-8 6-8-40-8-20-8 39-8-25-8-14-8 19-8 25-8 40-8-44-8-21-8 27-8 18-8 8-8 3-8 53-8 3-8-2-8 43-8-6-8-38-8 4-8 5-8 13-8-10-8-15-8 43-8 18-8 10-8 11-8-3-8 7-8 2-8-9-8-15-8 5-8-2-8-1-8-13-8-14-8 2-8 37-8-20-8 1-8 10-8 3-8-1-8-27-8 5-8-15-8 1-8-24-8 25-8-1-8 9-8 3-8 15-8-19-8-4-8 34-8-10-8-25-8-34-8 23-8-7-8-13-8 1-8 4-8-13-8 14-8 12-8-16-8 2-8 10-8-4-8-4-8-44-8 9-8 25-8 1-8-32-8 18-8 17-8-2-8-20-8-20-8-26-8-26-8 54-8-30-8-29-8-5Z" fill="#219fd0" fill-opacity="0.42" stroke="none"/>
<path d="M427,1067l4 70 4-21 4-95 4 172 4-86 4 70 4-90 4 45 4 1 4 56 4-20 4 38 4-51 4-28 4-52 4-13 4 115 4-10 4-22 4-56 4-33 4 87 4 65 4-47 4-38 4 38 4 56 4-68 4-82 4 106 4-9 4-18 4-35 4 55 4-40 4-19 4 102 4-90 4 28 4-4 4-2 4-3 4-3 4 57 4 44 4-116 4 1 4-2 4-9 4 9 4 31 4 81 4-44 4-84 4 14 4-3 4 53 4-71 4-10 4 111 4-14 4-32 4-33 4 128 4-36 4-78 4 70 4-49 4 0 4 60 4 6 4-50 4 43 4 23 4-67 4 0 4-51 4 84 4-83 4-1 4 37 4-12 4 0 4-5 4-12 4 68 4-71 4-6 4 26 4-11 4 22 4 35 4 30 4 4 4-67 4 51 4 4 4 3 4-32 4 42 4-27 4-103 4 58 4 53 4-9 4-53 4 80 4-26 4 37 4-56 4 9 4-82 4 50 4 43 4 40 4-25 4-17 4 44 4-45 4 19 4 18 4-43 4-1 4 33 4 8 4-24 4-49 4 61 4-83 4 35 4 30 4 12 4-35 4-57 4 7 4 45 4 31 4 35 4-52 4-34 4 49 4-62 4 58 4-18 4-48 4-25 4 5 4 119 4-41 4 13 4-36 4 20 4-174 4 190 4-78 4-99 4 111 4 38 4-112 4 124 4-33 4 26 4-263 4 243 4 6 4 52 4-133 4 94 4-220 4 41 4 138 4-118 4 95 4-82 4 61 4-23 4 124 4-1 4 20 4-2 4-153 4 166 4-113 4-44 4-40 4 111 4 50 4-48 4-8 4 25 4 79 4-46 4-126 4 73 4-6 4 42 4-63 4 74 4-86 4 107 4 2 4-65 4 26 4-27 4 85 4-45 4-61 4 48 4-50 4 20 4-30 4 50 4-27 4-32 4 16 4-27 4 66 4-25 4-4 4-8 4 56 4-67 4 31 4 79 4-90 4 21 4-33 4 72 4-10 4-80 4 97 4-106 4 65 4-80 4 112 4-47 4-80 4 126 4-32 4 3 4-30 4 112 4-112 4 101 4-152 4-5 4 89 4-29 4 54 4-6 4-17 4 50 4-64 4 63 4 21 4-85 4 69 4 2 4-98 4 88 4-75 4 44 4 22 4-74 4 64 4 2 4-8 4-17 4-33 4 28 4-1 4-23 4 9 4 48 4-59 4 38 4-38 4 35 4 22 4-68 4 31 4 6 4 22 4 44 4-25 4-28 4 6 4 27 4-2 4 20 4-17 4-37 4 32 4-4 4-29 4-14 4 4 4 51 4-24 4-1 4-31 4 47 4 22 4-49 4 50 4-13 4-30 4-2 4 20 4-30 4 31 4-10 4 21 4-61 4 62 4-56 4-1 4 30 4-15 4-11 4 10 4 38 4-39 4 2 4 36 4-21 4 13 4-49 4 31 4-20 4 6 4 33 4-33 4-39 4 63 4-18 4 32 4-42 4 2 4 22 4-5 4-6 4-32 4 51 4-85 4 16 4-5 4-12 4 49 4-70 4 34 4-15 4-32 4 48 4 8 4-46 4 35 4-46 4 41 4-28 4-11 4-4 4-70 4 46 4-40 4 43 4-41 4-87 4 16 4-39 4-27 4-8 4-53 4-43 4 109 4-41 4 49 4-27 4 61 4 38 4-28 4 12 4 64 4-15 4 45 4 13 4 23 4 10 4-22 4-10 4 40 4-1 4-55 4 29 4-2 4 33 4-45 4 12 4-18 4-10 4 16 4 28 4 9 4-53 4 31 4-67 4 25 4-2 4-3 4-51 4-9 4-3 4-10 4-25 4 13 4 34 4-16 4-4 4-29 4 46 4 22 4 15 4-14 4-28 4-9 4 37 4-46 4 2 4-13 4 26 4-3 4-26 4 17 4 60 4-70 4 48 4-22 4 39 4-30 4 1 4 1 4 64 4-55 4 13 4 19 4 16 4-14 4 37 4-61 4 69 4-54 4 58 4 3 4-50 4-13 4 34 4 25 4-49 4 41 4-29 4 0 4 24 4-47 4 44 4-45 4-14 4 18 4 3 4 36 4-22 4-17 4 16 4 35 4 12 4-37 4 82 4 5 4-14 4 28 4-6 4-71 4 76 4 28 4-24 4 27 4-26 4 5 4-31 4 21 4 5 4 0 4-11 4 18 4-54 4-6 4 45 4-61 4 34 4-36 4-6 4 33 4-54 4 51 4 3 4-47 4 14 4 31 4-37 4 13 4 58 4-4 4-11 4 6 4-16 4 33 4 7 4-18 4 23 4-8 4 32 4 24 4-20 4 9 4 6 4 4 4-1 4-4 4-17 4-45 4 53 4-53 4 38 4-7 4-24 4 14 4-4 4 35 4-7 4-9 4-4 4-2 4-13 4 9 4-9 4-34 4 60 4-23 4 28 4-20 4 24 4-11 4 9 4 40 4-43 4-7 4 47 4-32 4 28 4-31 4 4 4 2 4-28 4 16 4 13 4-38 4 26 4-16 4 25 4-48 4 18 4-29 4 7 4-9 4 5 4-5 4 44 4-7 4-21 4-4 4-15 4 13 4 25 4-15 4-37 4 16 4-14 4-8 4-9 4 15 4 1 4 15 4-23 4-13 4 6 4-10 4 4 4 3 4-5 4-18 4 32 4-27 4-17 4-9 4 18 4-4 4-41 4-6 4 15 4 11 4-12 4-17 4 8 4-8 4-21 4 20 4 5 4-8 4 15 4-8 4 24 4-6 4-20 4 4 4 0 4 14 4-18 4 15 4 6 4 2 4 8 4 12 4-6 4-2 4 29 4-13 4 26 4-7 4 12 4 3 4 9 4 6 4 4 4 6 4 3 4 5 4-2 4 1 4 8 4 4 4-1 4 5 4 1 4 6 4-1 4 3 4 5 4 1 4 3 4 2 4 4 4 2 4 3 4 0 4 4 4-3 4-1 4-2 4-2 4-2 4-1 4-5 4 2 4-1 4-4 4-3 4-1 4 0 4 1 4-3 4 2 4-4 4 1 4-3 4-3 4-4 4-2 4-2 4 3 4-1 4 5 4-2 4 9 4 2 4-3 4 6 4 2 4 7 4-4 4 3 4 2 4 4 4 3 4 3 4-3 4 5 4 7 4-1 4 6 4 3 4-4 4 4 4 6 4 2 4 1 4 0 4 5 4 6 4 1 4-2 4 3 4 0 4-1 4 3 4 1 4-2 4 3 4-1 4 2 4 0 4 5 4 0 4 0 4-1 4 1 4 3 4-2 4 0 4 7 4-1 4-1 4 1 4 4 4 1 4-1 4 0 4 1 4 1 4 4 4 0 4 0 4 0 4 3 4-3 4 5 4-1 4-1 4 0 4 3 4 1 4 1 4 1 4-1 4-3 4-1 4 2 4-1 4 1 4-1 4 5 4 1 4-5 4 6 4-2 4 1 4-1 4 2 4-1 4-2 4 1 4 1 4-2 4 6 4-6 4 6 4-2 4 0 4 3 4 0 4-1 4-3 4 4 4-1 4-2 4 1 4 4 4-2 4 1 4-4 4 7 4-1 4 3 4-4 4-2 4-1 4 6 4-2 4-1 4 3 4-5 4-1 4 0 4 0 4-1 4 2 4 0 4 3 4-1 4-4 4 0 4-2 4 6 4-1 4-2 4-2 4-3 4 0 4-1 4 3 4 0 4 1 4 0 4-3 4 3 4-6 4-1 4 2 4-1 4 1 4 2 4-2 4-2 4 4 4-4 4-1 4 6 4-7 4 5 4-4 4 0 4 0 4 0 4 2 4 0 4-4 4 0 4-3 4 3 4-1 4 1 4 0 4-9 4 2 4 3 4-3 4-4 4-2 4-3 4 3 4-6 4 2 4 1 4-9 4 6 4-2 4-5 4 1 4-2 4-3 4 3 4-8 4 7 4-9 4 0 4 3 4-2 4-2 4-3 4 3 4-3 4-2 4-4 4 0 4 1 4-5 4-2 4-1 4-3 4 2 4-5 4-4 4-1 4-3 4-6 4-5 4 3 4-1 4-6 4 0 4 1 4-7 4-2 4-3 4-3 4-2 4-5 4-4 4-2 4 0 4-1 4-6 4 0 4-1 4-2 4-1 4 6 4 2 4 4 4 5 4 1 4 1 4 2 4 5 4 3 4 2 4 5 4-1 4 6 4 2 4 7 4-2 4 2 4 8 4-2 4-1 4 1 4-6 4-3 4-9 4-5 4-1 4 1 4-4 4-10 4 0 4-3 4-5 4-2 4-11 4 4 4-8 4-7 4-3 4-1 4-9 4 2 4-6 4 0 4-11 4 4 4 9 4-2 4 0 4 16 4-8 4 12 4 2 4-8 4 12 4-1 4 15 4-16 4 25 4 5 4-4 4-10 4 9 4-1 4 17 4 11 4-29 4 20 4-24 4-10 4 13 4-1 4-35 4 5 4-21 4-2 4-13 4 7 4 12 4-26 4 22 4-24 4 3 4 3 4-33 4 1 4 8 4-20 4-10 4 23 4-12 4 1 4-26 4-4 4 4 4 9 4-14 4-10 4-8 4 5 4 29 4-4 4 13 4-17 4 9 4-16 4 37 4 5 4 23 4 10 4 4 4-13 4-38 4 27 4-15 4 35 4 10 4 1 4-45 4 5 4 39 4-3 4-1 4 26 4-30 4 25 4-5 4-38 4 34 4-26 4 14 4 8 4-68 4 41 4-41 4 10 4-10 4-23 4-2 4 2 4 5 4-21 4 19 4 2 4-25 4 20 4-20 4-11 4 35 4-34 4 35 4-55 4 42 4-25 4-11 4 39 4-45 4 43 4-59 4 20 4 0 4 34 4 25 4 17 4 8 4-14 4 37 4-12 4-11 4 29 4-44 4 19 4 41 4-35 4-14 4 10 4 27 4-16 4 34 4-57 4 50 4 16 4-65 4 27 4-8 4 33 4-6 4 15 4 1 4-61 4 38 4-8 4-24 4-44 4 54 4-4 4-36 4 39 4-7 4 10 4 1 4-40 4 19 4 43 4-7 4-13 4-50 4 52 4-53 4 49 4 11 4-88 4 9 4 13 4-28 4 42 4-42 4 29 4 8 4 14 4-32 4 6 4 9 4-4 4 5 4-11 4 36 4-6 4-38 4 21 4 5 4-12 4 8 4-71 4 8 4 16 4 20 4-46 4 21 4 11 4 15 4-36 4-15 4 40 4 22 4-22 4 60 4-4 4 5 4-59 4 53 4-28 4 10 4-13 4 41 4 25 4-48 4 31 4-87 4 109 4-15 4 48 4-33 4-21 4 47 4-3 4 51 4-31 4 5 4 4 4-17 4 39 4-14 4-9 4 25 4-19 4 40 4 18 4-45 4-1 4 37 4-33 4 4 4 40 4-34 4 37 4-57 4 51 4-36 4-3 4 8 4 13 4 23 4-22 4-49 4-12 4 4 4 65 4-44 4 1 4 6 4 8 4 4 4-14 4-30 4-2 4-57 4 43 4-36 4-25 4-82 4 60 4-41 4-60 4 45 4-65 4-94 4 83 4-86 4-47 4 8 4-61 4 88 4-25 4-11 4-168 4 40 4 59 4-39 4-94 4 0 4 11 4-11 4 0 4 14 4 0 4-14 4 0 4 78 4-75 4 90 4 11 4 61 4-165 4 153 4-77 4 133 4-34 4 24 4-29 4 67 4-60 4 16 4 57 4 11 4 58 4-50 4-43 4 107 4-2 4 85 4 6 4-65 4 100 4-60 4-29 4 91 4-52 4 75 4 5 4-56 4 27 4 38 4-45 4-9 4 33 4-11 4 66 4 9 4-41 4-4 4 39 4-17 4-21 4-3 4 0 4 26 4 50 4-33 4 4 4-42 4 29 4 4 4-14 4-23 4 0 4-18 4 36 4-59 4 0 4 1 4 41 4-61 4 74 4-51 4-3 4-12 4-45 4-2 4 47 4-61 4 26 4-64 4 2 4-47 4 31 4-1 4-31 4 35 4-54 4-25 4 6 4 3 4-29 4-55 4-31 4 0 4-111 4-35 4 0 4 0 4 0 4 0 4 0 4 0 4 0 4 124 4-100 4 65 4 24 4-113 4 99 4 66 4 7 4 80 4-3 4 54 4 24 4 53 4 75 4 57 4-1 4 49 4 21 4 80 4-65 4 24 4-10 4 36 4-5 4 11 4-19 4 5 4-18 4-68 4 41 4-54 4-22 4 21 4 24 4 11 4-131 4 155 4-82 4 3 4 58 4-46 4 31 4 9 4 10 4 28 4-78 4 9 4 3 4 75" fill="none" stroke="#219fd0" stroke-width="7" stroke-linejoin="round"/>
<path d="M427,938l8 29 8 55 8-34 8 37 8-9 8-4 8 50 8 20 8-31 8 10 8 55 8 1 8-14 8 0 8-13 8 24 8-71 8-16 8 10 8-9 8 9 8 22 8-10 8 3 8 30 8 12 8-16 8-26 8-45 8 42 8-36 8-68 8-64 8-13 8-119 8-55 8-106 8 10 8 84 8 72 8 90 8-20 8-23 8 87 8 44 8-23 8 21 8 30 8 67 8-2 8-8 8 36 8 21 8 7 8 30 8 38 8-15 8-20 8-4 8-7 8-26 8-11 8 27 8-41 8-52 8-65 8 42 8-39 8-76 8-36 8-125 8-41 8-55 8 92 8 80 8 2 8 101 8 63 8 4 8 45 8 68 8 51 8 2 8-54 8 46 8-19 8-2 8-13 8 2 8-27 8 38 8 25 8 10 8-32 8 8 8 39 8 11 8-16 8-26 8 36 8-37 8-1 8-7 8 4 8-20 8 2 8-1 8-13 8 9 8 12 8 18 8-42 8-49 8-51 8 77 8-24 8 1 8 32 8 30 8 23 8-4 8-34 8 17 8-2 8-90 8-23 8-59 8-63 8-56 8-59 8-1 8 69 8 63 8 40 8 74 8-64 8 100 8 37 8-11 8 20 8-10 8 9 8 19 8 0 8-12 8-7 8-30 8-30 8-11 8 8 8-18 8-14 8-5 8-24 8-4 8 14 8 29 8 24 8-3 8 45 8 10 8 1 8-18 8 27 8-23 8 17 8 13 8 2 8-2 8 16 8-1 8 5 8 4 8-4 8 12 8-9 8 8 8 18 8-63 8 62 8 9 8-4 8-21 8 5 8-48 8 46 8 2 8-3 8 29 8-8 8-2 8-4 8-24 8-10 8 4 8-63 8 40 8-3 8-1 8-5 8-22 8 0 8-22 8-10 8-20 8-11 8-5 8 27 8 29 8-11 8-16 8 30 8 24 8 12 8 14 8 31 8-4 8 39 8-1 8 33 8 11 8 8 8-19 8-16 8 13 8-21 8 20 8-48 8 17 8-14 8 0 8 0 8-11 8-19 8 2 8 1 8-5 8-4 8 3 8-15 8-25 8-2 8-4 8-10 8-17 8 16 8 0 8 5 8-2 8-15 8-15 8 0 8-13 8 9 8 26 8 11 8 4 8 15 8 12 8 12 8 4 8 6 8 4 8 3 8 19 8 7 8 6 8 19 8-13 8 0 8-30 8 30 8 4 8 7 8 15 8-4 8 18 8-5 8 12 8-5 8-1 8 8 8 2 8 6 8 5 8 0 8 3 8 1 8 1 8 2 8 0 8 2 8 0 8 1 8 1 8 2 8 0 8 3 8 0 8 0 8 1 8 1 8 0 8 0 8 1 8 2 8 2 8 0 8 1 8 1 8-1 8 1 8 1 8 2 8 2 8 1 8 1 8 1 8 0 8 0 8 0 8 4 8 0 8 0 8 0 8 1 8 0 8 0 8 2 8-1 8 0 8 1 8 2 8 1 8 0 8 0 8 2 8-1 8 2 8 1 8-1 8 1 8 2 8 0 8 0 8 1 8 0 8 0 8 2 8-1 8 2 8 1 8-1 8 1 8-1 8-1 8 0 8-3 8 0 8 2 8-2 8 1 8-3 8-1 8 0 8 0 8-1 8-1 8-1 8 0 8 0 8-2 8 1 8 0 8-1 8-1 8-1 8 2 8-2 8-2 8-1 8 0 8-2 8 1 8-2 8-1 8 0 8-2 8-2 8-2 8 0 8-4 8-1 8 0 8-1 8-2 8 0 8-4 8-1 8-3 8-2 8 0 8-2 8 0 8-3 8-1 8-2 8-1 8 0 8-5 8-4 8-2 8-5 8-2 8-5 8-4 8-4 8-1 8-5 8-4 8-3 8-7 8-7 8-9 8-9 8-11 8-8 8-11 8-14 8-9 8-16 8-16 8-9 8-20 8-8 8-21 8-16 8-19 8-18 8-35 8-9 8-4 8-17 8-20 8 1 8-47 8 1 8-41 8-8 8-7 8-10 8-20 8 1 8 8 8-56 8 27 8 10 8 18 8-6 8 14 8 30 8 29 8 30 8 43 8 2 8 11 8 6 8 35 8-18 8 7 8 21 8-17 8 58 8 9 8 21 8-29 8 7 8 6 8-21 8-85 8 80 8 5 8 24 8-17 8 22 8 18 8 17 8 14 8 27 8 11 8 37 8-3 8 29 8-4 8 31 8-2 8 21 8 15 8-61 8 44 8-23 8-15 8-43 8-9 8 24 8-9 8 13 8 31 8-33 8-1 8-34 8-33 8-62 8-62 8-145 8-57 8-142 8-10 8 85 8-27 8 9 8 93 8-15 8-19 8-122 8-41 8-6 8 0 8 0 8 0 8 0 8 0 8 0 8 0 8 31 8 97 8-9 8 43 8 45 8 70 8 23 8 46 8 24 8 25 8 28 8 22 8-14 8 18 8 49 8 18 8 16 8 24 8-35 8 35 8-22 8-35 8-40 8-31 8 1 8-19 8-22 8 11 8-21 8-13 8-42 8 1 8-24 8-13 8-62 8 5 8 3 8-39 8 20 8-44 8-35 8 19 8 28 8-54 8 57 8 5 8 63 8 32 8-94 8 119 8 28 8 9 8 28 8 7 8 62 8 57 8-6 8 22 8-1 8 17 8-36 8-13 8 46 8-3 8 2 8-10 8-2 8-72 8 11 8 9 8-37 8-38 8-10 8-35 8-30 8 52 8-64 8 2 8 70 8 5 8-4 8 23 8 40 8-78 8 142 8-22 8-2 8-50 8 49 8 31 8-61 8 27 8-96 8 37 8 14 8-5 8 28 8-53 8 3 8 62 8-27 8-2 8 6 8 4 8-12 8 33 8-9 8 2 8-1 8-24 8 0 8-68 8 97 8 12 8 3 8-16 8 34 8-37 8 51 8-34 8-21 8-87 8 9 8-51 8-36 8-63 8 87 8 28 8 10 8 19 8 53 8-17 8 36 8 11 8 36 8 23 8-17 8 18 8-1 8-27 8-88 8 56 8-43 8 7 8 25 8 37 8-10 8-26 8-4 8-38 8-2 8-81 8 4 8-30 8 7 8 13 8-38 8-8 8-63 8 8 8-38 8 43 8 81 8-22 8 47 8 27 8 78 8-2 8 1 8 4 0 169-8-1-8 2-8-22-8-6-8-34-8-21-8-8-8-60-8 8-8-23-8 7-8 73-8-18-8 31-8 3-8 8-8 17-8-1-8 22-8 19-8 2-8 32-8 6-8-7-8 9-8 2-8-9-8-15-8 26-8-18-8 22-8 3-8-6-8 12-8-12-8-4-8-9-8-25-8-27-8-27-8 25-8-47-8 1-8-35-8 11-8 41-8 33-8 31-8 28-8 14-8-8-8 12-8 12-8-20-8-5-8-28-8 22-8 1-8-27-8 14-8 4-8-21-8 19-8 12-8 1-8 0-8-35-8-1-8 18-8 0-8-12-8-10-8 6-8 5-8 16-8-14-8 9-8 6-8 18-8 10-8-2-8-9-8 0-8 0-8-4-8-19-8-19-8-16-8-1-8-7-8 4-8-30-8-22-8 10-8 21-8 2-8-4-8 36-8-6-8 41-8-9-8 11-8 40-8-22-8 19-8-8-8-5-8 21-8-1-8-25-8 21-8-26-8 2-8-1-8-46-8-15-8-12-8-55-8 7-8-44-8-22-8-36-8-22-8-18-8-43-8-28-8-5-8 8-8-6-8 59-8 18-8-31-8 8-8 39-8-17-8 12-8 0-8 51-8 17-8-2-8 38-8 17-8-10-8 30-8 4-8 27-8 27-8 5-8 30-8 12-8 8-8-29-8 4-8-17-8-26-8 1-8-14-8-15-8-19-8 7-8-41-8-33-8-26-8-23-8-42-8-68-8-15-8-39-8-1-8-24-8-28-8-97-8-18-8-7-8 91-8-49-8 103-8 2-8 82-8 31-8 1-8-29-8 25-8-36-8-52-8 23-8 48-8 54-8 93-8 57-8 50-8 31-8 46-8 30-8 44-8-22-8-27-8-11-8-23-8-10-8 42-8 12-8 14-8 16-8 8-8-5-8-5-8-19-8-13-8-11-8-14-8-5-8-22-8-31-8-14-8-22-8-16-8-2-8-17-8-11-8-2-8-21-8 0-8 0-8 10-8-12-8 22-8-12-8 19-8-1-8-13-8-16-8-9-8-20-8-6-8-18-8-8-8-12-8-10-8-1-8-28-8-28-8-21-8-33-8-7-8-17-8 3-8 1-8-5-8-6-8 24-8 4-8 10-8-7-8 23-8-1-8 43-8 17-8-2-8 24-8 5-8 0-8 7-8 14-8 23-8 12-8 10-8 21-8 9-8 14-8 15-8 8-8 4-8 13-8 7-8 6-8 10-8 9-8 10-8 9-8 10-8 9-8 5-8 3-8 3-8 4-8 4-8 4-8 4-8 2-8 3-8 5-8 2-8 5-8 2-8 2-8 2-8 1-8 1-8 2-8 3-8 0-8 1-8 2-8 3-8 0-8 3-8 1-8 1-8 2-8 0-8 2-8 1-8 1-8 3-8 0-8 3-8 0-8 3-8 1-8 1-8 0-8 1-8 1-8-1-8 2-8-1-8 2-8 1-8 1-8 0-8 0-8 0-8 1-8 1-8 0-8 0-8 1-8 1-8 1-8 0-8 1-8 1-8-1-8 1-8 2-8 0-8 0-8 2-8-1-8 1-8 0-8-1-8-1-8 1-8-1-8-2-8 0-8 0-8 0-8-1-8-1-8-1-8 0-8-1-8-1-8 1-8-1-8-1-8-1-8-1-8 0-8-1-8-1-8 0-8-1-8 1-8-1-8-1-8-1-8-1-8 0-8-1-8-1-8-1-8 0-8-1-8-1-8-1-8 0-8-3-8 0-8 0-8-3-8 1-8-1-8-2-8 1-8-3-8-1-8-1-8 0-8 0-8-1-8-2-8 1-8-3-8 0-8-2-8 0-8-2-8 1-8-1-8-2-8-2-8-1-8 0-8 0-8 2-8 2-8-3-8 6-8-6-8 8-8-1-8-2-8 0-8 10-8-2-8-10-8-6-8 5-8 6-8-3-8-13-8 8-8-8-8-2-8-16-8-15-8 1-8-11-8-1-8-6-8-14-8-3-8-5-8-26-8-4-8-25-8 3-8-7-8 10-8 6-8 13-8-5-8 6-8 9-8 7-8 7-8 3-8-1-8 10-8 8-8 4-8 12-8 13-8-16-8 11-8 2-8 20-8-6-8 15-8 13-8 11-8 3-8 2-8-4-8 13-8 14-8-7-8 17-8-12-8-11-8-8-8-24-8-20-8-22-8 0-8-31-8-18-8-6-8 2-8-15-8 11-8-26-8-8-8-23-8 30-8 4-8 23-8 18-8 3-8 30-8 1-8 5-8-13-8 6-8 1-8 15-8 17-8-1-8 21-8-13-8 7-8-3-8-1-8-11-8 11-8 1-8-17-8 2-8 14-8 11-8-10-8 2-8-21-8-4-8 8-8-1-8-15-8 12-8 4-8-22-8 4-8 2-8-12-8 1-8-6-8-8-8 1-8-19-8 1-8 3-8-38-8-15-8 1-8-11-8-27-8 13-8 3-8 33-8-11-8 33-8 4-8-12-8 22-8 0-8 20-8 31-8-21-8 5-8 11-8-18-8 5-8-10-8 15-8-38-8-34-8-31-8-2-8-44-8-37-8 11-8 54-8 39-8 36-8 34-8 26-8 24-8 14-8-16-8 18-8-18-8 4-8-10-8 1-8 1-8 14-8-34-8 15-8 20-8-7-8 17-8-18-8-6-8 16-8-14-8 14-8-11-8 24-8-14-8-7-8 29-8-12-8-2-8 19-8-12-8-15-8 20-8-5-8-15-8-13-8 19-8 0-8-12-8 5-8-4-8 11-8-13-8 22-8 13-8-55-8-16-8-2-8-25-8-23-8-20-8-12-8 9-8-15-8-4-8 19-8 20-8 21-8 14-8 11-8 0-8 28-8 9-8 1-8-7-8-2-8 38-8-10-8 11-8-21-8 16-8 2-8-2-8-13-8-22-8-11-8 23-8-7-8-35-8-12-8-20-8 42-8-42-8-9-8-19-8 37-8-33-8-37-8-26-8 33-8 2-8 15-8 27-8 10-8 27-8 43-8 0-8 12-8-12-8 3-8 22-8-14-8-16-8 4-8 7-8-2-8-21-8 23-8-9-8 5-8 12-8 16-8-3-8-6-8 13-8-7-8-21-8 8-8-9-8-4-8-17-8 12-8-7-8 15-8-25-8-3-8 3Z" fill="#740816" fill-opacity="0.85" stroke="none"/>
<path d="M427,855l8 64 8 42 8-51 8 86 8-112 8 94 8 56 8-16 8-20 8 21 8 72 8 5 8-15 8-30 8 11 8 17 8-69 8-9 8-9 8 15 8 11 8-5 8 9 8 6 8-5 8 44 8-17 8-60 8-3 8 31 8-58 8-102 8-114 8-12 8-191 8-20 8 0 8 0 8 0 8 5 8 93 8-14 8 11 8 176 8 44 8-51 8 23 8 76 8 87 8 0 8 13 8 35 8 13 8 16 8 23 8 39 8-36 8 3 8 18 8-12 8-44 8-21 8 29 8-98 8-1 8-85 8 32 8-66 8-103 8-60 8-145 8 0 8 0 8 0 8 8 8 64 8 147 8 120 8-8 8 64 8 102 8 75 8-38 8-121 8 105 8 9 8-12 8 3 8 13 8-109 8 121 8-50 8 75 8-40 8 19 8 24 8 0 8-17 8 0 8 15 8-27 8 2 8-27 8 6 8-9 8 1 8 3 8 18 8-46 8 50 8-18 8-27 8-77 8-109 8 168 8-91 8 46 8 49 8 33 8 7 8 20 8-32 8 7 8-3 8-119 8 3 8-87 8-56 8-103 8-74 8 11 8 97 8 126 8 41 8 66 8-53 8 116 8 33 8 1 8 1 8 9 8 9 8 19 8-1 8-11 8-20 8-24 8-23 8-11 8-5 8-10 8-9 8-5 8-24 8-4 8 14 8 29 8 14 8 7 8 37 8 5 8 8 8-12 8 13 8-9 8 17 8 13 8 2 8-2 8 12 8 3 8 5 8 4 8-4 8 12 8-9 8 5 8 21 8-71 8 56 8 23 8-12 8-13 8 2 8-48 8 49 8 2 8-3 8 23 8-5 8 1 8-8 8-20 8-10 8 4 8-63 8 35 8 2 8-5 8-4 8-19 8 0 8-36 8-3 8-14 8-10 8-5 8 27 8 22 8-8 8-17 8 35 8 16 8 15 8 19 8 17 8 10 8 27 8 10 8 29 8 9 8 3 8-7 8-18 8 11 8-19 8 12 8-49 8 28 8-14 8-3 8 3 8-19 8-11 8 2 8 0 8-4 8-8 8-3 8-5 8-25 8-8 8 2 8-14 8-13 8 16 8 0 8-6 8-4 8-2 8-15 8-3 8-10 8 9 8 26 8 11 8 4 8 15 8 12 8 12 8 4 8 0 8 10 8 3 8 19 8-4 8 17 8 13 8-7 8 0 8-30 8 30 8 4 8 7 8 9 8 2 8 18 8-5 8 11 8-4 8-1 8 8 8 0 8 8 8 4 8 1 8 2 8 2 8 0 8 2 8 1 8 1 8 0 8 1 8 2 8 2 8-1 8 3 8 1 8-1 8 1 8 1 8 1 8 0 8 1 8 2 8 2 8 0 8 1 8 1 8-1 8 1 8 1 8 2 8 2 8 0 8 1 8 2 8 0 8 0 8 0 8 3 8 0 8 0 8 1 8 0 8 1 8 0 8 1 8 0 8 0 8 1 8 2 8 1 8-1 8 1 8 2 8-1 8 2 8 1 8-1 8 1 8 2 8-1 8 0 8 2 8 0 8 0 8 1 8 0 8 2 8 1 8-1 8 1 8-1 8-2 8 1 8-3 8 0 8 1 8-1 8 0 8-2 8-1 8 0 8 0 8-1 8-1 8-1 8 0 8 0 8-2 8 1 8-1 8 0 8-2 8 0 8 0 8 0 8-3 8-1 8 1 8-2 8 1 8-2 8-1 8-1 8-2 8-1 8-2 8-1 8-3 8-1 8 0 8-1 8-2 8-1 8-3 8-1 8-3 8-2 8-1 8-1 8 0 8-3 8-1 8-2 8-1 8-1 8-4 8-4 8-4 8-3 8-2 8-5 8-4 8-4 8-1 8-5 8-4 8-3 8-7 8-7 8-9 8-9 8-11 8-9 8-11 8-13 8-9 8-16 8-16 8-9 8-20 8-8 8-21 8-16 8-21 8-19 8-32 8-14 8 1 8-26 8-13 8 0 8-44 8 1 8-41 8-21 8 4 8-10 8-18 8-16 8 25 8-72 8 43 8-3 8 31 8-6 8 14 8 24 8 26 8 39 8 31 8 11 8 14 8 2 8 27 8-7 8 4 8 16 8-12 8 59 8 0 8 25 8-21 8 7 8-5 8-10 8-85 8 80 8-3 8 21 8-12 8 17 8 29 8 6 8 25 8 21 8 7 8 37 8 2 8 34 8-4 8 31 8-5 8 24 8 15 8-66 8 49 8-24 8-14 8-43 8-23 8 28 8 0 8 11 8 34 8-43 8 9 8-37 8-30 8-62 8-78 8-135 8-51 8-142 8-10 8 57 8 1 8 9 8 73 8 5 8-31 8-113 8-38 8-6 8 0 8 0 8 0 8 0 8 0 8 0 8 0 8 20 8 83 8-1 8 60 8 45 8 55 8 33 8 51 8 24 8 12 8 41 8 12 8-4 8 18 8 49 8 18 8 7 8 18 8-21 8 36 8-35 8-22 8-40 8-31 8 1 8-19 8-29 8 10 8-13 8-13 8-61 8 9 8-20 8-19 8-49 8 5 8-22 8-14 8 10 8-60 8-11 8-2 8 22 8-25 8 57 8 5 8 34 8 26 8-67 8 120 8 15 8 16 8 29 8 14 8 53 8 30 8-16 8 21 8 7 8 14 8-11 8 5 8 10 8 16 8-24 8 9 8 6 8-58 8-4 8-7 8-54 8 10 8-59 8-7 8-33 8 13 8-36 8-68 8 153 8 7 8-8 8 42 8 34 8-148 8 184 8 7 8-8 8-84 8 105 8 8 8-52 8-15 8-75 8 53 8-6 8-3 8 20 8-13 8-6 8 33 8 2 8-32 8 50 8-10 8-30 8 11 8 6 8-11 8-9 8 19 8-7 8-118 8 157 8 1 8 14 8-24 8 56 8-92 8 49 8 17 8-15 8-164 8 27 8-39 8-21 8-72 8 78 8-2 8 53 8 35 8 28 8-3 8 44 8 6 8 12 8 42 8-27 8 12 8 6 8-6 8-145 8 121 8-45 8 8 8 35 8 25 8-39 8-16 8 20 8-43 8-10 8-81 8-3 8-24 8-4 8-22 8-36 8-29 8-65 8-10 8 12 8 60 8 56 8-14 8 47 8 78 8 34 8 17 8-2 8 6 0 36-8-4-8-1-8 2-8-78-8-27-8-47-8 22-8-81-8-43-8 38-8-8-8 63-8 8-8 38-8-13-8-7-8 30-8-4-8 81-8 2-8 38-8 4-8 26-8 10-8-37-8-25-8-7-8 43-8-56-8 88-8 27-8 1-8-18-8 17-8-23-8-36-8-11-8-36-8 17-8-53-8-19-8-10-8-28-8-87-8 63-8 36-8 51-8-9-8 87-8 21-8 34-8-51-8 37-8-34-8 16-8-3-8-12-8-97-8 68-8 0-8 24-8 1-8-2-8 9-8-33-8 12-8-4-8-6-8 2-8 27-8-62-8-3-8 53-8-28-8 5-8-14-8-37-8 96-8-27-8 61-8-31-8-49-8 50-8 2-8 22-8-142-8 78-8-40-8-23-8 4-8-5-8-70-8-2-8 64-8-52-8 30-8 35-8 10-8 38-8 37-8-9-8-11-8 72-8 2-8 10-8-2-8 3-8-46-8 13-8 36-8-17-8 1-8-22-8 6-8-57-8-62-8-7-8-28-8-9-8-28-8-119-8 94-8-32-8-63-8-5-8-57-8 54-8-28-8-19-8 35-8 44-8-20-8 39-8-3-8-5-8 62-8 13-8 24-8-1-8 42-8 13-8 21-8-11-8 22-8 19-8-1-8 31-8 40-8 35-8 22-8-35-8 35-8-24-8-16-8-18-8-49-8-18-8 14-8-22-8-28-8-25-8-24-8-46-8-23-8-70-8-45-8-43-8 9-8-97-8-31-8 0-8 0-8 0-8 0-8 0-8 0-8 0-8 6-8 41-8 122-8 19-8 15-8-93-8-9-8 27-8-85-8 10-8 142-8 57-8 145-8 62-8 62-8 33-8 34-8 1-8 33-8-31-8-13-8 9-8-24-8 9-8 43-8 15-8 23-8-44-8 61-8-15-8-21-8 2-8-31-8 4-8-29-8 3-8-37-8-11-8-27-8-14-8-17-8-18-8-22-8 17-8-24-8-5-8-80-8 85-8 21-8-6-8-7-8 29-8-21-8-9-8-58-8 17-8-21-8-7-8 18-8-35-8-6-8-11-8-2-8-43-8-30-8-29-8-30-8-14-8 6-8-18-8-10-8-27-8 56-8-8-8-1-8 20-8 10-8 7-8 8-8 41-8-1-8 47-8-1-8 20-8 17-8 4-8 9-8 35-8 18-8 19-8 16-8 21-8 8-8 20-8 9-8 16-8 16-8 9-8 14-8 11-8 8-8 11-8 9-8 9-8 7-8 7-8 3-8 4-8 5-8 1-8 4-8 4-8 5-8 2-8 5-8 2-8 4-8 5-8 0-8 1-8 2-8 1-8 3-8 0-8 2-8 0-8 2-8 3-8 1-8 4-8 0-8 2-8 1-8 0-8 1-8 4-8 0-8 2-8 2-8 2-8 0-8 1-8 2-8-1-8 2-8 0-8 1-8 2-8 2-8-2-8 1-8 1-8 1-8 0-8-1-8 2-8 0-8 0-8 1-8 1-8 1-8 0-8 0-8 1-8 3-8-1-8 2-8-2-8 0-8 3-8 0-8 1-8 1-8-1-8 1-8-1-8-2-8 1-8-2-8 0-8 0-8-1-8 0-8 0-8-2-8-1-8 1-8-1-8-2-8 1-8-2-8 0-8 0-8-1-8-2-8-1-8 0-8 1-8-2-8 0-8 0-8-1-8 0-8 0-8 0-8-4-8 0-8 0-8 0-8-1-8-1-8-1-8-2-8-2-8-1-8-1-8 1-8-1-8-1-8 0-8-2-8-2-8-1-8 0-8 0-8-1-8-1-8 0-8 0-8-3-8 0-8-2-8-1-8-1-8 0-8-2-8 0-8-2-8-1-8-1-8-3-8 0-8-5-8-6-8-2-8-8-8 1-8 5-8-12-8 5-8-18-8 4-8-15-8-7-8-4-8-30-8 30-8 0-8 13-8-19-8-6-8-7-8-19-8-3-8-4-8-6-8-4-8-12-8-12-8-15-8-4-8-11-8-26-8-9-8 13-8 0-8 15-8 15-8 2-8-5-8 0-8-16-8 17-8 10-8 4-8 2-8 25-8 15-8-3-8 4-8 5-8-1-8-2-8 19-8 11-8 0-8 0-8 14-8-17-8 48-8-20-8 21-8-13-8 16-8 19-8-8-8-11-8-33-8 1-8-39-8 4-8-31-8-14-8-12-8-24-8-30-8 16-8 11-8-29-8-27-8 5-8 11-8 20-8 10-8 22-8 0-8 22-8 5-8 1-8 3-8-40-8 63-8-4-8 10-8 24-8 4-8 2-8 8-8-29-8 3-8-2-8-46-8 48-8-5-8 21-8 4-8-9-8-62-8 63-8-18-8-8-8 9-8-12-8 4-8-4-8-5-8 1-8-16-8 2-8-2-8-13-8-17-8 23-8-27-8 18-8-1-8-10-8-45-8 3-8-24-8-29-8-14-8 4-8 24-8 5-8 14-8 18-8-8-8 11-8 30-8 30-8 7-8 12-8 0-8-19-8-9-8 10-8-20-8 11-8-37-8-100-8 64-8-74-8-40-8-63-8-69-8 1-8 59-8 56-8 63-8 59-8 23-8 90-8 2-8-17-8 34-8 4-8-23-8-30-8-32-8-1-8 24-8-77-8 51-8 49-8 42-8-18-8-12-8-9-8 13-8 1-8-2-8 20-8-4-8 7-8 1-8 37-8-36-8 26-8 16-8-11-8-39-8-8-8 32-8-10-8-25-8-38-8 27-8-2-8 13-8 2-8 19-8-46-8 54-8-2-8-51-8-68-8-45-8-4-8-63-8-101-8-2-8-80-8-92-8 55-8 41-8 125-8 36-8 76-8 39-8-42-8 65-8 52-8 41-8-27-8 11-8 26-8 7-8 4-8 20-8 15-8-38-8-30-8-7-8-21-8-36-8 8-8 2-8-67-8-30-8-21-8 23-8-44-8-87-8 23-8 20-8-90-8-72-8-84-8-10-8 106-8 55-8 119-8 13-8 64-8 68-8 36-8-42-8 45-8 26-8 16-8-12-8-30-8-3-8 10-8-22-8-9-8 9-8-10-8 16-8 71-8-24-8 13-8 0-8 14-8-1-8-55-8-10-8 31-8-20-8-50-8 4-8 9-8-37-8 34-8-55-8-29Z" fill="#740816" fill-opacity="0.42" stroke="none"/>
<path d="M427,1130l4-90 4 127 4-108 4-14 4-11 4 64 4 41 4-18 4-84 4 60 4 16 4-91 4 108 4-25 4-34 4 91 4-93 4 97 4-119 4 77 4-29 4 117 4-3 4-63 4 16 4-1 4-85 4 38 4-32 4-6 4 69 4 36 4-115 4-19 4 104 4-142 4 150 4-11 4-13 4-48 4-32 4 93 4 37 4-27 4 4 4 26 4-169 4 132 4-39 4-55 4 60 4 44 4-10 4 33 4-62 4 32 4-79 4 84 4-68 4-47 4 136 4-196 4 151 4-229 4-3 4 31 4 87 4 71 4-239 4-46 4 170 4-456 4 429 4-292 4 346 4-483 4 508 4-259 4 122 4-4 4 232 4-292 4 190 4 10 4-258 4 45 4 185 4 61 4-106 4-69 4 226 4-139 4 154 4-186 4 61 4 8 4-42 4 109 4 33 4 24 4-115 4 44 4 51 4-37 4 41 4 46 4-88 4 119 4-20 4 35 4-58 4 53 4-74 4-22 4 43 4-11 4-7 4 31 4 36 4-28 4-42 4 47 4-115 4 87 4 47 4-149 4 33 4 28 4 21 4-107 4-6 4-95 4 27 4 133 4 0 4-140 4 5 4 12 4-275 4 218 4-45 4-96 4-1 4-239 4 208 4-178 4 23 4 189 4 296 4-261 4 199 4 61 4 36 4-96 4-141 4 49 4 251 4-6 4-265 4 62 4 32 4 185 4 53 4-1 4-98 4-55 4 0 4 118 4-40 4-49 4 63 4-56 4-149 4 142 4 103 4-70 4 33 4-31 4 63 4-25 4-27 4 9 4-50 4 42 4 40 4 40 4-48 4-49 4 11 4 35 4 31 4-95 4 92 4-43 4-42 4-33 4 16 4 118 4-92 4 101 4-25 4-50 4-58 4 33 4 76 4-26 4 40 4-81 4 9 4-74 4 115 4-18 4-104 4 76 4 62 4-64 4-82 4-27 4 94 4 0 4 35 4 25 4-144 4 46 4-28 4 132 4-52 4-206 4 120 4 57 4 4 4 31 4-16 4 58 4-88 4 61 4 2 4 36 4-26 4 18 4-87 4 67 4-56 4 77 4-95 4-37 4 51 4 85 4-77 4-95 4 104 4-155 4 32 4-68 4 85 4-65 4-74 4-152 4 268 4-159 4-217 4 71 4 23 4 208 4-2 4-50 4 47 4 128 4-63 4-13 4 120 4-176 4 112 4-8 4 76 4 54 4 15 4-58 4 29 4-13 4-110 4 152 4-77 4 0 4 66 4 1 4 10 4-51 4-38 4 10 4 54 4-74 4 62 4-22 4-63 4 1 4 2 4 37 4-37 4-16 4-28 4 53 4 3 4-51 4-10 4 0 4-30 4 83 4-33 4-33 4 17 4-50 4 72 4-39 4 34 4 41 4-41 4 15 4 58 4-20 4 0 4 5 4 23 4-47 4 32 4 16 4-21 4 55 4-10 4-31 4 24 4-35 4 49 4-43 4 21 4 16 4 21 4-69 4 82 4-31 4 1 4 16 4 33 4-22 4-20 4-34 4 64 4 4 4-24 4 4 4-67 4 32 4 19 4-2 4 40 4-40 4-1 4 50 4-76 4 38 4-25 4 23 4 9 4 0 4 3 4 14 4 13 4-7 4-7 4-90 4 100 4-50 4 52 4 0 4 15 4-24 4-34 4 71 4-19 4-52 4-3 4 36 4-12 4-39 4 42 4-20 4-52 4 38 4 20 4-39 4-10 4 42 4-22 4 5 4-28 4 20 4-43 4 39 4 48 4-85 4 21 4 29 4-56 4 34 4-32 4-60 4 45 4 32 4-101 4 19 4-98 4 81 4 31 4 13 4-31 4 70 4-14 4-35 4 66 4 10 4-40 4-10 4-12 4 23 4 63 4-48 4 24 4 21 4-58 4 93 4 10 4-18 4 12 4-4 4 24 4-40 4 53 4 0 4 48 4-21 4 22 4 7 4-28 4-34 4 37 4-7 4 32 4-18 4 0 4-19 4 29 4-83 4 57 4-49 4 5 4 51 4-32 4-37 4 39 4 9 4-7 4-31 4 39 4-54 4-7 4 42 4-27 4-50 4-4 4 34 4-18 4 8 4 44 4-10 4-40 4-8 4-9 4 29 4-13 4-34 4-4 4 23 4-41 4-4 4 74 4-2 4-41 4-37 4 41 4-25 4 48 4-12 4-74 4 18 4-1 4 45 4-44 4 54 4 8 4-64 4-4 4 44 4-22 4-31 4 20 4-38 4 34 4-15 4-8 4 57 4-30 4 15 4-13 4 56 4-46 4 45 4-4 4 18 4-52 4 78 4-61 4 72 4-60 4 63 4-32 4 20 4-3 4-10 4 40 4-22 4 21 4 0 4-20 4 11 4 5 4-23 4 1 4 46 4-18 4-15 4 4 4 18 4-23 4-13 4 57 4-41 4 54 4-45 4 41 4 4 4-16 4-26 4-9 4 18 4 3 4-1 4 4 4 12 4 4 4-20 4 7 4-8 4 1 4 23 4-9 4-8 4 5 4 3 4-4 4 6 4 7 4-4 4 2 4-2 4 3 4-1 4 4 4-5 4 6 4-3 4-2 4 7 4-2 4 1 4 3 4-3 4 1 4 1 4 1 4 0 4 3 4 1 4 1 4-7 4 3 4 3 4-1 4 3 4-4 4 0 4 5 4 1 4 1 4-4 4 0 4 3 4 1 4-2 4-1 4 5 4 0 4-4 4 4 4 1 4-2 4 3 4-1 4 1 4 1 4-1 4-2 4 6 4 1 4-7 4 4 4-1 4 4 4-3 4-1 4 7 4-3 4 0 4 1 4-2 4 0 4 5 4 1 4-4 4 4 4 0 4 0 4 2 4-3 4 2 4-3 4 1 4-1 4 2 4 1 4-1 4 0 4 1 4 4 4 0 4-3 4 4 4-1 4-2 4 5 4-1 4-1 4-1 4-1 4 3 4 1 4-4 4 0 4 7 4-3 4-3 4 7 4-4 4-1 4 2 4-1 4 0 4 5 4-4 4 2 4 2 4-5 4 3 4 3 4-4 4 1 4 5 4-4 4-1 4 6 4-2 4 2 4 1 4-4 4 1 4 2 4 2 4-4 4 6 4-1 4-3 4 2 4-4 4 1 4 1 4 0 4 4 4-5 4 5 4-4 4 3 4-5 4 3 4-1 4 2 4 0 4 1 4-6 4-3 4 7 4-3 4 0 4-1 4 2 4-2 4 1 4-2 4 1 4 0 4-2 4 0 4-4 4 1 4 2 4 0 4-2 4 1 4 1 4-4 4 4 4-2 4-2 4 2 4 0 4-1 4 1 4-3 4-2 4 5 4-2 4-3 4 4 4 0 4-5 4-1 4-1 4 4 4-1 4-1 4 0 4-3 4 6 4-4 4-3 4 5 4-2 4 0 4-1 4 3 4-3 4-5 4 0 4 4 4 0 4-5 4 2 4-2 4-4 4 6 4-4 4-4 4-1 4 4 4-1 4-6 4 4 4 0 4-3 4 3 4-8 4 7 4-4 4 2 4-6 4 0 4 2 4-3 4 0 4-4 4 5 4-2 4-3 4 1 4-3 4-2 4 0 4 0 4 4 4-4 4-3 4-2 4 6 4-1 4-3 4-1 4-1 4-5 4 3 4 0 4 1 4-8 4-2 4-3 4 0 4-1 4 1 4-5 4 2 4-5 4 4 4-3 4-6 4-2 4 0 4 1 4-8 4 1 4 2 4-3 4 0 4-4 4-2 4-3 4-1 4-6 4-1 4-3 4-8 4-2 4-11 4 0 4-2 4-12 4 0 4-10 4-4 4-6 4 0 4-3 4-6 4 1 4-1 4-20 4-2 4 2 4-22 4 1 4-18 4 2 4 2 4-16 4-51 4 41 4-18 4-7 4-22 4 23 4-17 4 17 4-33 4 9 4-24 4-42 4 6 4 32 4-22 4 30 4-71 4-4 4 9 4 8 4-35 4-11 4 15 4-30 4-20 4 39 4-39 4-21 4-5 4 30 4-67 4 8 4 14 4 9 4 22 4 27 4-95 4 26 4-20 4-69 4 91 4-1 4 46 4 13 4-106 4 69 4-36 4-12 4 46 4-5 4 74 4-60 4 62 4-40 4 56 4 32 4-41 4 94 4-18 4 17 4-34 4-17 4 12 4 37 4-31 4 44 4 5 4-34 4 30 4 27 4 19 4-80 4 52 4 7 4-5 4 33 4 15 4-26 4 23 4-6 4-2 4-5 4 26 4 14 4-63 4 8 4 30 4 4 4-21 4-111 4 18 4 71 4-17 4 10 4 50 4-46 4-7 4 24 4 11 4 12 4-84 4 119 4 2 4-11 4-2 4 26 4 8 4 2 4 27 4 14 4-30 4 32 4 54 4-18 4 10 4 25 4-39 4 32 4 31 4-22 4-33 4 9 4 60 4 12 4-34 4 15 4-10 4-1 4 38 4-33 4-36 4 17 4-19 4-17 4-9 4-19 4 10 4 8 4-10 4 8 4-8 4 57 4-57 4 60 4-40 4 24 4 28 4 8 4-66 4 21 4-39 4-11 4 25 4-88 4-10 4-54 4 20 4-51 4-29 4 26 4-122 4-53 4-22 4-66 4 100 4-30 4-45 4-63 4-1 4 161 4-109 4 146 4-134 4 11 4 46 4-9 4-22 4 68 4 12 4-105 4-197 4 124 4-124 4 55 4-30 4-25 4 164 4-94 4-70 4 0 4 0 4 0 4 121 4-121 4 0 4 117 4-56 4-5 4 95 4 79 4 64 4-44 4-73 4 113 4-20 4-19 4 51 4 62 4-106 4 115 4 11 4 38 4-30 4 38 4-75 4 130 4-25 4 8 4-37 4 88 4-65 4-16 4 72 4-72 4 48 4-3 4 59 4-22 4 49 4-35 4 12 4-17 4 91 4-31 4 27 4-6 4 26 4-1 4-5 4-29 4-5 4-64 4-51 4 3 4 80 4 3 4-22 4-67 4 57 4-26 4-69 4 45 4-14 4-15 4-21 4-51 4 28 4-13 4-48 4 53 4-45 4 59 4-70 4-40 4 48 4-33 4 11 4 45 4 7 4-129 4 120 4-148 4 132 4-89 4 8 4-11 4-23 4-46 4 100 4 8 4-25 4 34 4-21 4-45 4-27 4-14 4 89 4 10 4 48 4 6 4 0 4-34 4 47 4-63 4 130 4-75 4-70 4 104 4 45 4-64 4 95 4-109 4 17 4 47 4 17 4-68 4 125 4-55 4 162 4-92 4 37 4 50 4-130 4 22 4 151 4-80 4 9 4 38 4-123 4 169 4-36 4 33 4-54 4-101 4 126 4-102 4 53 4-53 4 53 4-83 4-11 4 153 4-75 4-35 4-98 4 2 4 77 4 85 4-247 4 173 4-112 4-10 4 163 4-221 4 101 4-73 4 58 4-8 4 96 4-167 4 79 4-90 4-48 4-58 4 182 4 38 4 102 4-150 4-51 4 108 4 120 4-71 4-62 4 110 4-55 4 89 4-126 4 172 4-168 4 114 4-93 4 120 4-27 4-135 4 157 4-61 4 24 4-82 4 64 4-89 4 160 4-84 4-26 4 65 4 7 4 13 4 10 4-125 4 115 4-27 4-331 4 337 4-193 4 111 4 76 4-9 4 23 4-123 4-58 4 28 4 47 4 118 4-140 4 40 4 25 4-60 4 56 4 90 4-64 4 14 4-138 4 97 4-3 4-102 4 189 4-87 4 89 4 9 4-61 4-67 4 29 4-103 4 33 4 58 4 65 4-80 4-4 4 38 4 131 4-46 4 14 4-123 4 115 4-113 4 72 4-47 4 46 4-65 4-41 4 36 4-37 4-97 4 4 4 21 4 61 4-40 4 7 4 72 4-224 4 165 4-13 4-43 4 109 4-179 4 176 4-167 4 225 4-20 4-161 4 68 4 118 4 7 4 9 4 22 4-39 4 76 4-34 4-29 4 74 4-119 4 26 4 24 4-80 4 146 4-152 4 101 4 18 4-22 4 41 4-236 4 131 4 94 4-164 4 132 4-119 4 75 4-5 4-50 4 156 4-141 4 56 4-41 4 77 4 17 4-30 4 24 4-88 4-62 4 117 4-146 4-77 4 78 4 25 4-42 4 50 4-168 4 203 4-9 4-168 4 57 4 92 4-242 4 110 4 82 4-63 4-216 4 66 4 122 4 130 4-211 4 175 4 41 4-27 4-65 4-139 4 194 4 75 4 51 4-108 4 121 4 18 4-185 4 196 4-14 4-14 4-70 4-41 4 152" fill="none" stroke="#740816" stroke-width="7" stroke-linejoin="round"/>
<path d="M427,1029l8-9 8 41 8 37 8-24 8 20 8-11 8-17 8-44 8-22 8-9 8-32 8 21 8-41 8-135 8-66 8-118 8 9 8 28 8 67 8 92 8 69 8 109 8 25 8 3 8 42 8 60 8 16 8-32 8-12 8 26 8-3 8-19 8-8 8 23 8-31 8-11 8 12 8 7 8-27 8 2 8 18 8-2 8 25 8-7 8 42 8-11 8-7 8-24 8 21 8 44 8-8 8-16 8 7 8 25 8-11 8-36 8 12 8-26 8-27 8 51 8-36 8 6 8 8 8 31 8-2 8-15 8 5 8 54 8-25 8-44 8 11 8 3 8 2 8-25 8 12 8-19 8 23 8 20 8 24 8-30 8-17 8 31 8 19 8-26 8-41 8 11 8 3 8-9 8 25 8-1 8 22 8 11 8 29 8 9 8-12 8-19 8 1 8-17 8-46 8 6 8-14 8 26 8-55 8-25 8 23 8-15 8-90 8-22 8-9 8-12 8 40 8 18 8 3 8 3 8 55 8 38 8 20 8-16 8 12 8 50 8 29 8-31 8 27 8-26 8-97 8 35 8-8 8-46 8-2 8 25 8-7 8-12 8 3 8 64 8 14 8-18 8-12 8 16 8 22 8-10 8 6 8-70 8-7 8 13 8-136 8-83 8-100 8-94 8 0 8-45 8-78 8 82 8-34 8-48 8 1 8-1 8 0 8 13 8-13 8 0 8 42 8-42 8 71 8 30 8-101 8 0 8 0 8 0 8 0 8 0 8 0 8 72 8-44 8 83 8 75 8 110 8 32 8 154 8 11 8 112 8-33 8 5 8-7 8-34 8-2 8-11 8-20 8-60 8 54 8 0 8-35 8-4 8-8 8-17 8-36 8-21 8-13 8-2 8-22 8-23 8 3 8-43 8-17 8-7 8-73 8-64 8-17 8-71 8-27 8 0 8 0 8 0 8 0 8 0 8 0 8 0 8 0 8 0 8 6 8 93 8 88 8 59 8 28 8-4 8 14 8 9 8 14 8-17 8 79 8-14 8 22 8 8 8 0 8-4 8-24 8-11 8 33 8-17 8 28 8-4 8-12 8-13 8-2 8-10 8-19 8 7 8-8 8 11 8 27 8-15 8-3 8-13 8-1 8-8 8 12 8-104 8 93 8 16 8 11 8-11 8 6 8 7 8-54 8 36 8 0 8 15 8 1 8 43 8-1 8 34 8 4 8-6 8 47 8 18 8 26 8 18 8-12 8-1 8-10 8-11 8-15 8-11 8-28 8 1 8-4 8-7 8 5 8 7 8-8 8-2 8-4 8-46 8 26 8-31 8 9 8 2 8-12 8-13 8 0 8-9 8-34 8-19 8-12 8 4 8-30 8-18 8-14 8-29 8 10 8-110 8-90 8-22 8 0 8 0 8 0 8 17 8 128 8 82 8 27 8 117 8 79 8 66 8 54 8 50 8-103 8 30 8-52 8-51 8-68 8-74 8-71 8-147 8 145 8 11 8 48 8 47 8 25 8 21 8 14 8 15 8 3 8 9 8-7 8 17 8-19 8 3 8 2 8-29 8-21 8-1 8-82 8 98 8 3 8 45 8 18 8 46 8 9 8 20 8 30 8 9 8 46 8-3 8 27 8 33 8-33 8-24 8-40 8-36 8-44 8-23 8-54 8-38 8-63 8-28 8-74 8-45 8-39 8 60 8 43 8 18 8 29 8 7 8 24 8 94 8-50 8 98 8 28 8 30 8 18 8 13 8 19 8 28 8 10 8 8 8 15 8 18 8 13 8 12 8 13 8 11 8 14 8 2 8-3 8-7 8-7 8-6 8-8 8-6 8-7 8-3 8-3 8-4 8-3 8-2 8-2 8-4 8-3 8-1 8-5 8-2 8-5 8-2 8-1 8-4 8 0 8-4 8-1 8-2 8-3 8-1 8-1 8-6 8-1 8-1 8 2 8 1 8 1 8 2 8 2 8-1 8 0 8 2 8 2 8 1 8 5 8 3 8 4 8 6 8 2 8 6 8 3 8 6 8 3 8 6 8 5 8 3 8 4 8 6 8 3 8 3 8 2 8 3 8 2 8 2 8 1 8 2 8 3 8 2 8 3 8 0 8 2 8 2 8 3 8 2 8 2 8 3 8 1 8 0 8 3 8-1 8 0 8 1 8 2 8 2 8-1 8 1 8 2 8 0 8 0 8 1 8 2 8-1 8 1 8 2 8 1 8 0 8 0 8 1 8-2 8 1 8 0 8-1 8-1 8 0 8 2 8-1 8-1 8 0 8-1 8-1 8-6 8-1 8-3 8-5 8-3 8-3 8-4 8-3 8-2 8-4 8-5 8 0 8-5 8 0 8-3 8 0 8-3 8-3 8-3 8 0 8-3 8-1 8-4 8 1 8-3 8-2 8-1 8-2 8-5 8-1 8 2 8-2 8 3 8-1 8 3 8-1 8 1 8 2 8-2 8 3 8 1 8-1 8 1 8 2 8 1 8-1 8 3 8-2 8 2 8 0 8 2 8 1 8 1 8 1 8-2 8 4 8-1 8 1 8 0 8 0 8 0 8 0 8-6 8 1 8-8 8-3 8-9 8-3 8-9 8-1 8-1 8-3 8 4 8-10 8-1 8 5 8-12 8-11 8 7 8 4 8-5 8-7 8-35 8 57 8-14 8-1 8-3 8-2 8-1 8-7 8 21 8-5 8-8 8 8 8-5 8 0 8-2 8-9 8 14 8-2 8-4 8-13 8 36 8-7 8 0 8-7 8 6 8-9 8 11 8 2 8 0 8-41 8 40 8 0 8 7 8-12 8 11 8-14 8-61 8-79 8-46 8-53 8-80 8-84 8-79 8-106 8-18 8 0 8 0 8 0 8 0 8 0 8 0 8 0 8 18 8 37 8 156 8 120 8 114 8 108 8 41 8 16 8 10 8-5 8 11 8-1 8 1 8 1 8 5 8 14 8-15 8 5 8 7 8-7 8 4 8-4 8-11 8 15 8 2 8-10 8 0 8 3 8-6 8 3 8 4 8-10 8-1 8-8 8 0 8-9 8 3 8 19 8-9 8-35 8 19 8 3 8-6 8 12 8-3 8-13 8 6 8 6 8-14 8 18 8-13 8-5 8 2 8-45 8 50 8-1 8-39 8 53 8-7 8-8 0 59-8 1-8-5-8 7-8-12-8 10-8-1-8-11-8 8-8-3-8 1-8-2-8 9-8-2-8-1-8-2-8-2-8 6-8-9-8 1-8 15-8-5-8-1-8 2-8 9-8-8-8-3-8 8-8 0-8 6-8-3-8 13-8 1-8-13-8 6-8 2-8-3-8 1-8-5-8 5-8-4-8 14-8-5-8 6-8-1-8-4-8-5-8-14-8 7-8-11-8 4-8-1-8 2-8-3-8-28-8-98-8-104-8-94-8-81-8-35-8-66-8-13-8-3-8 7-8-16-8-50-8 52-8 45-8 30-8 42-8 69-8 87-8 42-8 46-8 38-8 55-8 59-8 8-8 1-8 11-8-12-8 2-8 1-8-3-8 3-8-7-8 5-8-3-8 9-8 1-8-10-8 6-8 2-8-4-8-8-8-2-8-1-8 6-8-9-8 11-8-5-8 1-8 0-8-6-8 4-8-9-8 11-8-3-8-2-8 8-8-3-8 1-8-5-8 5-8-8-8-2-8 15-8 0-8 1-8-2-8 1-8 2-8 2-8-6-8 1-8 0-8 4-8-1-8 5-8 4-8 0-8 2-8-1-8-1-8 1-8-1-8 0-8-2-8 1-8-2-8 1-8-2-8-1-8-1-8 0-8-1-8 0-8-2-8 1-8-1-8-1-8-1-8-1-8 0-8-2-8 0-8-1-8-1-8-1-8 0-8 0-8-2-8 0-8 0-8-1-8 3-8 0-8 2-8 3-8 3-8 1-8 1-8 2-8 3-8 2-8 1-8 2-8 3-8 1-8 3-8 2-8 1-8 3-8 2-8 4-8 3-8 2-8 3-8 5-8 4-8 2-8 4-8 3-8 2-8 4-8 2-8 2-8-1-8 1-8 1-8 0-8-1-8 1-8-1-8 1-8 0-8 2-8-1-8 0-8 0-8-1-8 0-8-2-8 0-8-1-8-1-8-1-8-1-8-1-8-1-8-1-8 0-8 0-8-1-8-1-8-2-8 0-8-2-8-2-8-2-8-1-8-3-8-3-8-1-8-3-8 0-8-2-8-3-8-2-8-1-8-2-8-2-8-2-8-4-8 0-8-2-8-6-8-5-8-2-8-6-8-3-8-5-8-6-8-5-8-3-8-5-8-4-8-4-8-3-8-5-8-4-8-3-8-1-8 0-8-1-8 0-8-3-8 0-8-2-8-1-8 0-8 1-8 2-8 2-8 2-8 3-8 2-8 1-8 4-8 0-8 2-8 3-8 2-8 3-8 4-8 2-8 3-8 2-8 4-8 4-8 2-8 2-8 4-8 3-8 2-8 4-8 6-8 7-8 5-8 8-8 6-8 5-8 7-8-5-8-10-8-8-8-12-8-7-8-12-8-8-8-12-8-7-8-7-8-19-8-14-8-26-8-16-8-16-8-21-8-35-8-20-8-31-8-48-8-7-8-46-8 1-8-35-8-35-8 14-8 33-8 48-8 42-8 58-8 33-8 37-8 45-8 26-8 41-8 35-8 17-8 27-8-21-8-20-8-13-8-26-8-8-8-26-8-19-8-28-8-24-8-21-8-41-8-18-8-5-8 2-8 22-8-1-8 26-8-1-8 5-8 13-8-22-8 5-8-17-8 17-8-9-8-13-8-28-8-19-8-48-8-37-8-33-8-13-8 17-8 82-8 52-8 84-8 42-8 43-8 40-8 44-8-63-8-47-8-68-8-62-8-68-8-80-8-39-8-99-8-62-8-70-8 55-8-9-8 68-8 77-8 99-8 3-8 4-8 9-8 29-8-3-8 11-8 28-8 9-8 17-8 29-8-8-8 6-8 5-8 9-8 11-8 15-8 5-8 8-8 10-8 21-8-12-8 1-8 12-8-10-8 9-8-1-8 28-8 11-8 16-8 1-8-3-8 5-8 10-8-14-8-20-8-28-8 3-8-21-8-17-8-1-8-31-8-36-8-10-8-2-8-7-8 15-8-1-8 0-8 21-8-30-8 13-8-9-8-12-8-21-8 15-8 4-8 29-8 6-8-1-8 5-8-12-8-12-8 8-8-13-8 13-8 21-8-8-8 22-8 6-8 5-8-9-8-14-8-13-8 18-8 5-8-4-8-4-8-2-8 0-8-22-8 12-8-46-8-16-8-8-8 7-8 6-8-55-8-32-8-27-8-31-8-54-8-16-8-46-8 36-8-5-8 17-8-5-8 0-8 48-8-30-8 49-8 5-8 21-8 31-8 46-8 54-8 28-8 2-8 5-8 24-8 12-8 2-8 37-8-4-8 18-8 38-8 13-8 1-8 26-8-5-8-6-8 6-8 15-8 14-8 18-8 18-8-1-8 12-8 5-8 16-8-70-8-49-8-31-8-14-8-17-8 7-8 11-8-30-8 29-8-8-8-14-8-60-8 52-8 22-8-24-8 32-8-72-8 131-8-70-8-13-8 29-8-16-8-50-8 80-8-35-8 48-8-57-8-2-8-40-8 65-8-36-8 21-8 62-8 50-8 37-8 18-8 16-8-18-8 14-8-15-8 3-8-10-8 7-8 15-8-7-8-30-8 3-8 9-8 11-8-29-8 21-8-11-8 18-8 4-8 2-8 32-8-25-8 16-8 10-8-19-8-14-8 0-8-16-8-9-8-35-8 18-8 15-8-39-8-20-8 9-8 33-8 13-8 18-8-1-8 10-8-13-8 32-8-4-8-17-8 17-8 30-8 2-8 1-8-16-8 4-8 14-8-10-8-24-8 8-8-7-8-12-8 6-8-4-8 14-8-1-8 13-8 1-8-6-8-12-8 14-8-7-8-15-8 0-8-8-8 6-8 11-8 0-8 6-8 7-8 0-8-10-8 10-8-17-8 11-8-1-8-5-8-12-8 4-8-15-8 22-8 1-8-19-8 7-8 16-8 12-8-15-8-3-8-10-8 3-8-4-8-1-8 0-8 20-8-7-8-7-8-11-8-7-8 0-8-2-8 18-8-14-8-1-8-1-8 6-8-10-8 18-8 2-8 4-8-19-8 8-8 15-8 17-8-35-8-12-8-10-8 2-8-24-8-32-8-45-8-40-8-47-8 64-8 8-8-39-8 51-8 64-8-10-8 1-8 26-8 8-8 27-8 0-8 5-8 3-8-6-8-1-8 3-8-13-8-19Z" fill="#a80c14" fill-opacity="0.85" stroke="none"/>
<path d="M427,967l8 22 8 48 8 15 8-21 8 22 8-19 8-23 8 0 8-31 8-52 8-56 8 34 8-63 8-165 8-157 8 0 8 0 8 0 8 7 8 184 8 94 8 119 8 24 8 38 8 61 8 48 8 5 8-100 8 59 8 3 8 34 8-23 8-16 8 10 8-10 8-13 8-2 8 7 8-33 8 18 8-10 8 28 8 2 8 5 8 45 8-9 8-24 8 4 8 38 8 14 8-6 8-27 8 19 8 23 8-20 8-7 8 2 8-19 8-91 8 92 8-7 8-1 8-12 8 42 8-15 8-9 8 11 8 46 8-18 8-39 8 22 8 7 8-26 8-9 8 22 8-30 8 14 8 12 8 20 8-25 8 9 8-2 8 11 8-23 8-19 8 11 8 9 8 1 8-2 8 13 8-2 8 42 8 14 8 10 8-13 8-2 8 7 8-32 8-50 8 2 8-10 8 13 8-52 8-6 8-12 8-5 8-97 8-72 8 55 8-22 8 12 8 51 8-6 8-14 8 72 8 67 8 12 8-25 8 23 8 35 8 36 8-38 8 40 8-22 8-158 8 99 8-3 8-46 8-3 8-4 8 25 8-4 8-5 8 56 8-4 8 7 8 4 8 9 8 0 8 14 8-1 8-62 8 2 8-29 8-94 8-126 8-124 8-113 8-37 8 0 8 0 8 0 8 0 8 0 8 0 8 0 8 0 8 0 8 0 8 0 8 0 8 0 8 0 8 0 8 0 8 0 8 0 8 0 8 0 8 0 8 0 8 0 8 0 8 85 8 49 8 128 8 66 8 138 8 27 8 110 8-33 8 2 8-2 8-45 8 9 8-11 8-26 8-59 8 59 8 0 8-38 8-1 8-8 8-25 8-38 8-11 8-19 8 4 8-22 8-28 8 8 8-43 8-22 8-23 8-73 8-52 8-8 8-92 8-6 8 0 8 0 8 0 8 0 8 0 8 0 8 0 8 0 8 0 8 6 8 68 8 90 8 67 8 43 8-4 8 14 8 9 8 10 8-19 8 85 8-14 8 14 8 16 8-8 8-3 8-17 8-12 8 21 8-4 8 28 8-9 8-7 8-13 8-2 8-15 8-14 8 7 8-8 8 8 8 17 8-2 8-10 8-12 8 5 8-8 8 2 8-94 8 93 8 10 8 17 8-11 8 6 8 7 8-54 8 35 8 1 8 10 8 6 8 42 8 0 8 34 8 4 8-14 8 42 8 31 8 25 8 7 8-3 8 2 8-20 8-1 8-22 8-6 8-26 8 1 8-10 8-1 8 0 8 5 8-9 8 6 8-6 8-44 8 23 8-28 8 9 8-9 8-1 8-13 8 0 8-23 8-20 8-26 8-5 8 2 8-38 8-8 8-20 8-23 8 1 8-114 8-77 8-22 8 0 8 0 8 0 8 17 8 128 8 82 8 18 8 126 8 79 8 66 8 45 8 58 8-102 8 30 8-52 8-61 8-58 8-79 8-66 8-147 8 132 8 22 8 50 8 47 8 25 8 21 8 8 8 21 8 3 8 1 8-6 8 22 8-17 8 2 8-3 8-29 8-15 8-3 8-90 8 108 8 3 8 45 8 18 8 35 8 20 8 20 8 22 8 17 8 37 8 6 8 27 8 33 8-33 8-31 8-39 8-30 8-44 8-31 8-46 8-42 8-60 8-38 8-63 8-45 8-49 8 70 8 43 8 14 8 33 8-2 8 32 8 84 8-39 8 98 8 28 8 27 8 21 8 9 8 22 8 27 8 11 8 9 8 15 8 16 8 13 8 14 8 11 8 13 8 13 8 3 8-5 8-6 8-7 8-5 8-8 8-6 8-7 8-3 8-3 8-4 8-3 8-3 8-1 8-5 8-3 8-1 8-4 8-3 8-4 8-3 8-1 8-3 8 0 8-4 8-1 8-2 8-3 8-1 8-3 8-4 8-1 8-1 8 2 8 1 8 1 8 2 8 1 8-1 8 1 8 2 8 0 8 3 8 5 8 3 8 4 8 5 8 3 8 6 8 3 8 5 8 4 8 5 8 6 8 3 8 4 8 5 8 4 8 2 8 3 8 3 8 2 8 2 8 1 8 1 8 3 8 3 8 2 8 1 8 1 8 3 8 3 8 2 8 2 8 1 8 2 8 1 8 2 8 0 8 0 8 1 8 2 8 2 8-2 8 2 8 2 8 0 8 0 8 0 8 3 8-1 8 1 8 2 8 0 8 1 8 0 8 1 8-2 8 0 8 1 8-1 8-1 8 0 8 1 8 0 8-2 8 1 8-1 8-2 8-5 8-2 8-3 8-5 8-3 8-3 8-3 8-3 8-3 8-3 8-5 8-1 8-4 8 0 8-3 8-1 8-2 8-3 8-3 8 0 8-4 8 0 8-4 8 0 8-2 8-2 8-3 8-1 8-4 8-1 8 1 8-1 8 3 8-1 8 3 8-1 8 0 8 3 8-2 8 3 8 0 8 0 8 1 8 1 8 1 8 0 8 2 8-1 8 1 8 1 8 2 8 1 8 0 8 1 8-1 8 3 8-1 8 2 8 0 8-1 8 1 8 0 8-6 8-1 8-8 8-1 8-10 8-2 8-10 8-4 8 3 8-3 8 1 8-12 8 3 8 0 8-6 8-11 8 4 8 1 8-3 8-3 8-43 8 57 8-6 8-9 8 5 8-10 8 1 8-1 8 14 8 2 8-8 8 8 8-5 8-2 8-1 8-10 8 11 8-3 8 2 8-13 8 29 8 0 8-9 8 2 8 6 8-9 8 7 8 6 8 0 8-43 8 39 8 2 8 4 8-15 8 12 8-13 8-57 8-78 8-46 8-60 8-88 8-69 8-84 8-116 8-3 8 0 8 0 8 0 8 0 8 0 8 0 8 0 8 12 8 43 8 140 8 123 8 126 8 104 8 46 8 14 8 10 8-5 8 5 8 3 8 5 8 1 8 1 8 12 8-9 8 2 8 4 8-1 8 1 8-1 8-12 8 12 8 1 8-11 8 3 8-1 8 0 8 3 8-2 8-11 8 5 8-6 8-1 8-8 8 3 8 11 8-9 8-29 8 16 8 8 8-6 8 5 8 4 8-13 8 4 8 2 8-9 8 12 8-7 8-6 8 4 8-45 8 43 8 6 8-44 8 54 8-3 8-8 0 0-8 8-8 7-8-53-8 39-8 1-8-50-8 45-8-2-8 5-8 13-8-18-8 14-8-6-8-6-8 13-8 3-8-12-8 6-8-3-8-19-8 35-8 9-8-19-8-3-8 9-8 0-8 8-8 1-8 10-8-4-8-3-8 6-8-3-8 0-8 10-8-2-8-15-8 11-8 4-8-4-8 7-8-7-8-5-8 15-8-14-8-5-8-1-8-1-8 1-8-11-8 5-8-10-8-16-8-41-8-108-8-114-8-120-8-156-8-37-8-18-8 0-8 0-8 0-8 0-8 0-8 0-8 0-8 18-8 106-8 79-8 84-8 80-8 53-8 46-8 79-8 61-8 14-8-11-8 12-8-7-8 0-8-40-8 41-8 0-8-2-8-11-8 9-8-6-8 7-8 0-8 7-8-36-8 13-8 4-8 2-8-14-8 9-8 2-8 0-8 5-8-8-8 8-8 5-8-21-8 7-8 1-8 2-8 3-8 1-8 14-8-57-8 35-8 7-8 5-8-4-8-7-8 11-8 12-8-5-8 1-8 10-8-4-8 3-8 1-8 1-8 9-8 3-8 9-8 3-8 8-8-1-8 6-8 0-8 0-8 0-8 0-8-1-8 1-8-4-8 2-8-1-8-1-8-1-8-2-8 0-8-2-8 2-8-3-8 1-8-1-8-2-8-1-8 1-8-1-8-3-8 2-8-2-8-1-8 1-8-3-8 1-8-3-8 2-8-2-8 1-8 5-8 2-8 1-8 2-8 3-8-1-8 4-8 1-8 3-8 0-8 3-8 3-8 3-8 0-8 3-8 0-8 5-8 0-8 5-8 4-8 2-8 3-8 4-8 3-8 3-8 5-8 3-8 1-8 6-8 1-8 1-8 0-8 1-8 1-8-2-8 0-8 1-8 1-8 0-8-1-8 2-8-1-8 0-8 0-8-1-8-2-8-1-8 1-8-2-8-1-8 0-8 0-8-2-8-1-8 1-8-2-8-2-8-1-8 0-8 1-8-3-8 0-8-1-8-3-8-2-8-2-8-3-8-2-8-2-8 0-8-3-8-2-8-3-8-2-8-1-8-2-8-2-8-3-8-2-8-3-8-3-8-6-8-4-8-3-8-5-8-6-8-3-8-6-8-3-8-6-8-2-8-6-8-4-8-3-8-5-8-1-8-2-8-2-8 0-8 1-8-2-8-2-8-1-8-1-8-2-8 1-8 1-8 6-8 1-8 1-8 3-8 2-8 1-8 4-8 0-8 4-8 1-8 2-8 5-8 2-8 5-8 1-8 3-8 4-8 2-8 2-8 3-8 4-8 3-8 3-8 7-8 6-8 8-8 6-8 7-8 7-8 3-8-2-8-14-8-11-8-13-8-12-8-13-8-18-8-15-8-8-8-10-8-28-8-19-8-13-8-18-8-30-8-28-8-98-8 50-8-94-8-24-8-7-8-29-8-18-8-43-8-60-8 39-8 45-8 74-8 28-8 63-8 38-8 54-8 23-8 44-8 36-8 40-8 24-8 33-8-33-8-27-8 3-8-46-8-9-8-30-8-20-8-9-8-46-8-18-8-45-8-3-8-98-8 82-8 1-8 21-8 29-8-2-8-3-8 19-8-17-8 7-8-9-8-3-8-15-8-14-8-21-8-25-8-47-8-48-8-11-8-145-8 147-8 71-8 74-8 68-8 51-8 52-8-30-8 103-8-50-8-54-8-66-8-79-8-117-8-27-8-82-8-128-8-17-8 0-8 0-8 0-8 22-8 90-8 110-8-10-8 29-8 14-8 18-8 30-8-4-8 12-8 19-8 34-8 9-8 0-8 13-8 12-8-2-8-9-8 31-8-26-8 46-8 4-8 2-8 8-8-7-8-5-8 7-8 4-8-1-8 28-8 11-8 15-8 11-8 10-8 1-8 12-8-18-8-26-8-18-8-47-8 6-8-4-8-34-8 1-8-43-8-1-8-15-8 0-8-36-8 54-8-7-8-6-8 11-8-11-8-16-8-93-8 104-8-12-8 8-8 1-8 13-8 3-8 15-8-27-8-11-8 8-8-7-8 19-8 10-8 2-8 13-8 12-8 4-8-28-8 17-8-33-8 11-8 24-8 4-8 0-8-8-8-22-8 14-8-79-8 17-8-14-8-9-8-14-8 4-8-28-8-59-8-88-8-93-8-6-8 0-8 0-8 0-8 0-8 0-8 0-8 0-8 0-8 0-8 27-8 71-8 17-8 64-8 73-8 7-8 17-8 43-8-3-8 23-8 22-8 2-8 13-8 21-8 36-8 17-8 8-8 4-8 35-8 0-8-54-8 60-8 20-8 11-8 2-8 34-8 7-8-5-8 33-8-112-8-11-8-154-8-32-8-110-8-75-8-83-8 44-8-72-8 0-8 0-8 0-8 0-8 0-8 0-8 101-8-30-8-71-8 42-8-42-8 0-8 13-8-13-8 0-8 1-8-1-8 48-8 34-8-82-8 78-8 45-8 0-8 94-8 100-8 83-8 136-8-13-8 7-8 70-8-6-8 10-8-22-8-16-8 12-8 18-8-14-8-64-8-3-8 12-8 7-8-25-8 2-8 46-8 8-8-35-8 97-8 26-8-27-8 31-8-29-8-50-8-12-8 16-8-20-8-38-8-55-8-3-8-3-8-18-8-40-8 12-8 9-8 22-8 90-8 15-8-23-8 25-8 55-8-26-8 14-8-6-8 46-8 17-8-1-8 19-8 12-8-9-8-29-8-11-8-22-8 1-8-25-8 9-8-3-8-11-8 41-8 26-8-19-8-31-8 17-8 30-8-24-8-20-8-23-8 19-8-12-8 25-8-2-8-3-8-11-8 44-8 25-8-54-8-5-8 15-8 2-8-31-8-8-8-6-8 36-8-51-8 27-8 26-8-12-8 36-8 11-8-25-8-7-8 16-8 8-8-44-8-21-8 24-8 7-8 11-8-42-8 7-8-25-8 2-8-18-8-2-8 27-8-7-8-12-8 11-8 31-8-23-8 8-8 19-8 3-8-26-8 12-8 32-8-16-8-60-8-42-8-3-8-25-8-109-8-69-8-92-8-67-8-28-8-9-8 118-8 66-8 135-8 41-8-21-8 32-8 9-8 22-8 44-8 17-8 11-8-20-8 24-8-37-8-41-8 9Z" fill="#a80c14" fill-opacity="0.42" stroke="none"/>
<path d="M427,1151l4-143 4 146 4-122 4 81 4-62 4 123 4-106 4-35 4 36 4 36 4-28 4-35 4 91 4 22 4-77 4-54 4 55 4-90 4 119 4 41 4-102 4-94 4 124 4 35 4-24 4 14 4-55 4-67 4-353 4 391 4-23 4-251 4-128 4 26 4-121 4 365 4-337 4 335 4-262 4 126 4 342 4-75 4-25 4-26 4 118 4-108 4 100 4 47 4-87 4 123 4-112 4 151 4-87 4 117 4-99 4-81 4 126 4-13 4-41 4-4 4 80 4 8 4-139 4 21 4 17 4 28 4 8 4 53 4-111 4 32 4-13 4 12 4 27 4-75 4 20 4 75 4 2 4-103 4 20 4 29 4 82 4-3 4-10 4-14 4-101 4 12 4-6 4 32 4 5 4 17 4 48 4 3 4-62 4 84 4 14 4-60 4 11 4 5 4-40 4 59 4 22 4-33 4-39 4 9 4-18 4 32 4 44 4 31 4-80 4 51 4-8 4-25 4-32 4 32 4 16 4-20 4 25 4-36 4 0 4 0 4 24 4 11 4-30 4 32 4-38 4-45 4 10 4 8 4 91 4 12 4-63 4 33 4-11 4-23 4 20 4-10 4 15 4-33 4 0 4-14 4 68 4-9 4-22 4-39 4 4 4-14 4 53 4-31 4 42 4-36 4 6 4-27 4 35 4-53 4 32 4 36 4 11 4 7 4-135 4 146 4-61 4 37 4 26 4-82 4 86 4 11 4-65 4 46 4-109 4 39 4 58 4-106 4 20 4 34 4-64 4 16 4 45 4 49 4-28 4-35 4 80 4-29 4-36 4 84 4-34 4-7 4 54 4-23 4-40 4 52 4-40 4-24 4 56 4-1 4-6 4-43 4 41 4-66 4 38 4-103 4 41 4-15 4 53 4 40 4-136 4 105 4-67 4-52 4 25 4 97 4-122 4-25 4 52 4-10 4-61 4 107 4-197 4 112 4-107 4 0 4 112 4-146 4 254 4 2 4-6 4 4 4-9 4-163 4 37 4 118 4-55 4 110 4 6 4-81 4 23 4-80 4 109 4-36 4 74 4-77 4 65 4 31 4-33 4-8 4 45 4-40 4-44 4 48 4 14 4-168 4 134 4-106 4 124 4-53 4-15 4-95 4-139 4 128 4 185 4-111 4-11 4 12 4 14 4 25 4-84 4 44 4-21 4 128 4 21 4-131 4 113 4-113 4 60 4-11 4 40 4-66 4 49 4 16 4 17 4-80 4 116 4-82 4 42 4-88 4-38 4 67 4-104 4 66 4-87 4 80 4-176 4-26 4 83 4-33 4-216 4-78 4 373 4-483 4 502 4-472 4 250 4 15 4-295 4 85 4 340 4-156 4-24 4 162 4-97 4-269 4 393 4-104 4-211 4-2 4 159 4-100 4-176 4 495 4-293 4-202 4 364 4-312 4 192 4 25 4-255 4-14 4 467 4-271 4 29 4-174 4 9 4 249 4-272 4-28 4 230 4 67 4 162 4-468 4 359 4-5 4-354 4 148 4 312 4-115 4 138 4 12 4-347 4 196 4-43 4 37 4-23 4 115 4 26 4-58 4 49 4 27 4 101 4-18 4 96 4-9 4 23 4 0 4 21 4-82 4 53 4-38 4-7 4 27 4-23 4-45 4-48 4 90 4 9 4-95 4 20 4-103 4 149 4-27 4-75 4 99 4-58 4 36 4-77 4 61 4-70 4-33 4 57 4-64 4-33 4 54 4-24 4 67 4-116 4 32 4 30 4-44 4 35 4 6 4-78 4 23 4 38 4-111 4 71 4-114 4-20 4 135 4-91 4-65 4 76 4-81 4-86 4 106 4-131 4 55 4-73 4 42 4 55 4-200 4 83 4-85 4 0 4 99 4 124 4-113 4-110 4 139 4-139 4 119 4-119 4 0 4 0 4 74 4-37 4 87 4-16 4-108 4 92 4 8 4-69 4 239 4-184 4 146 4 87 4-14 4-25 4 72 4 22 4-36 4-5 4 3 4 6 4 40 4-27 4 39 4-5 4 33 4-11 4 6 4-111 4 79 4 38 4-22 4-24 4 38 4-29 4 14 4-23 4 3 4 32 4 20 4-47 4 45 4-53 4 38 4 34 4-56 4 50 4 40 4 10 4-80 4-10 4 65 4-66 4 43 4-15 4-39 4 19 4-17 4 23 4-19 4-13 4-10 4 26 4-62 4 40 4 45 4 9 4-71 4-4 4 55 4-56 4 66 4-6 4 23 4-43 4 15 4-27 4-15 4 29 4-32 4 31 4-95 4 67 4-37 4 87 4-36 4 2 4 30 4-33 4-10 4 36 4-57 4 30 4 19 4 34 4-69 4 40 4-53 4-7 4 72 4-63 4 46 4 39 4-38 4-16 4 32 4 60 4 1 4 7 4-49 4 72 4-29 4-16 4 52 4 21 4-23 4-36 4 90 4-3 4 7 4-5 4 23 4-18 4-34 4-18 4 19 4 44 4-15 4-52 4 41 4 0 4-13 4-32 4-31 4 14 4-36 4 75 4-76 4-10 4 51 4-3 4 45 4-65 4-24 4 59 4-38 4 45 4-1 4-27 4 18 4-31 4 1 4-49 4 9 4-7 4 51 4-92 4 92 4-88 4 50 4 31 4-56 4 3 4 19 4 15 4-55 4-24 4 51 4-65 4 8 4 29 4-50 4-21 4 10 4 10 4-16 4 13 4 15 4-33 4 11 4 10 4-91 4 24 4-12 4-10 4 40 4-48 4 71 4-71 4-69 4-42 4-24 4-116 4 11 4-11 4 0 4 0 4 0 4 23 4-23 4 156 4-118 4 104 4 66 4 32 4 42 4-19 4 89 4 15 4 73 4 38 4 0 4 23 4 44 4 23 4 25 4 11 4 28 4-7 4 17 4-34 4-19 4-14 4-59 4 1 4-22 4-26 4-82 4-37 4-45 4 12 4-27 4-112 4 100 4-68 4 68 4 11 4 16 4 11 4 36 4 9 4 54 4-7 4-27 4 2 4 33 4 47 4 3 4-63 4 77 4-65 4 45 4 2 4 4 4-36 4 24 4-13 4 14 4 30 4-47 4-11 4 6 4-12 4 51 4-25 4-15 4-22 4-40 4 17 4 37 4-38 4-60 4 73 4 29 4 16 4-40 4 40 4 34 4-6 4 33 4 16 4-22 4 60 4-35 4-10 4 38 4 48 4 11 4-6 4 14 4 1 4-5 4 41 4-34 4 20 4 24 4-16 4 40 4-15 4-27 4 7 4-29 4 23 4-21 4-53 4 11 4-41 4 2 4-56 4 19 4-73 4 15 4-53 4-16 4-1 4-63 4 41 4-38 4-74 4-20 4 38 4-70 4 28 4-34 4-21 4 46 4 34 4 9 4 61 4-33 4-11 4 90 4-61 4 61 4 15 4 34 4-28 4 23 4 60 4-72 4 54 4 18 4 27 4 24 4-6 4-10 4 24 4 11 4 20 4 4 4-12 4 35 4 4 4 6 4 5 4 0 4 16 4 13 4-2 4-6 4 23 4-1 4 16 4-6 4 9 4-2 4 15 4-2 4 9 4 8 4 2 4 6 4 7 4 1 4-7 4-2 4-4 4-3 4-1 4-2 4-1 4-9 4-2 4-6 4 1 4-1 4-5 4-9 4 0 4 1 4 0 4-6 4 2 4-3 4-4 4-2 4 2 4 2 4-3 4-3 4-1 4 0 4-4 4-2 4-2 4-2 4 4 4-8 4 5 4-7 4-1 4-3 4-2 4-1 4 5 4-2 4 0 4-5 4 2 4-3 4-2 4-2 4 2 4-5 4-1 4 4 4 0 4-2 4-3 4-3 4 2 4-5 4 2 4 0 4-5 4-4 4 1 4 1 4 1 4 1 4 2 4-1 4 5 4-7 4 6 4-4 4 7 4 1 4 1 4-3 4-5 4 7 4-1 4 0 4-1 4-2 4 4 4 5 4-6 4 4 4 3 4 5 4 3 4 2 4-3 4 2 4 7 4 3 4 0 4 2 4 0 4 7 4 2 4 2 4 2 4-3 4 10 4-6 4 9 4-1 4 2 4 1 4 3 4 0 4 5 4 0 4 7 4-4 4 7 4 4 4-6 4 0 4 8 4-1 4 3 4-5 4 3 4 5 4-2 4-2 4 0 4 5 4-2 4 5 4-2 4 3 4 0 4 4 4-4 4 5 4 0 4 2 4-5 4 6 4 2 4 3 4-2 4-2 4 0 4 5 4 1 4 2 4 1 4 1 4-1 4 2 4-2 4 4 4-4 4 2 4 0 4 5 4 1 4-7 4 3 4 3 4-2 4 3 4-1 4-4 4 8 4-6 4 1 4 2 4-2 4 2 4-1 4 6 4-2 4 1 4 1 4 0 4 2 4-6 4 7 4-4 4 2 4 0 4-3 4 1 4 4 4 1 4-2 4 0 4 4 4-6 4 5 4 0 4-2 4 2 4-1 4-1 4-1 4-3 4 3 4 0 4 0 4 0 4-3 4-1 4 6 4-6 4 0 4 2 4-3 4 4 4-3 4-1 4 2 4-2 4-2 4-4 4 2 4-5 4-3 4 3 4-5 4-2 4 3 4-4 4-1 4-5 4-1 4 0 4 0 4-3 4 0 4-3 4 0 4-2 4 1 4-2 4-7 4-1 4 4 4-2 4-2 4 2 4-2 4-4 4-3 4 1 4 2 4-5 4-4 4-1 4 1 4-2 4-1 4 2 4-4 4 4 4-6 4-1 4 3 4 0 4-2 4-2 4-1 4 3 4-6 4-2 4-1 4-1 4 2 4-5 4 0 4 4 4 0 4-5 4 2 4 0 4-2 4-2 4 5 4 2 4-5 4-2 4 8 4 1 4-3 4-2 4 3 4 1 4-3 4 0 4-1 4 0 4 4 4-2 4 6 4 2 4-3 4 0 4 0 4 1 4 3 4-3 4 2 4 2 4-7 4 2 4 3 4 1 4 2 4-1 4-3 4 4 4-3 4 3 4 2 4-2 4 3 4-3 4 4 4-5 4 3 4 3 4-4 4-2 4 3 4 1 4-4 4 5 4-3 4 8 4-2 4-5 4 6 4 1 4-4 4 4 4 1 4-3 4-4 4-5 4 3 4 0 4 1 4-5 4-1 4-2 4-7 4-10 4 23 4-2 4-14 4 7 4 1 4-16 4 2 4-9 4-4 4 37 4-19 4-4 4 23 4-42 4 19 4-8 4 8 4-11 4 23 4-23 4-8 4 5 4 5 4-6 4 7 4-1 4-6 4 25 4-37 4-4 4 47 4-65 4 30 4 9 4 15 4-27 4 6 4-23 4 51 4-46 4 7 4 26 4-25 4 21 4-17 4 6 4-17 4-4 4-3 4 29 4 14 4-36 4 35 4-16 4 4 4 12 4-10 4-20 4 24 4-33 4 34 4-12 4 25 4-48 4 17 4 12 4-18 4 0 4-13 4 28 4 12 4-20 4 10 4-5 4 10 4-16 4 2 4 9 4-50 4 33 4-8 4 35 4-17 4 17 4-3 4 21 4-39 4 34 4-17 4-5 4 26 4-2 4-2 4-38 4 26 4-15 4-13 4 25 4-9 4-1 4 8 4 5 4-43 4-10 4-26 4-38 4-87 4-15 4 6 4-5 4-35 4-18 4-77 4 11 4-2 4-83 4-27 4 9 4-143 4-44 4 131 4-33 4-48 4-63 4 0 4 21 4 45 4-3 4-63 4 0 4 66 4 25 4-22 4-69 4 24 4 71 4 91 4-39 4 101 4 67 4-52 4 80 4 145 4 18 4 43 4 32 4 76 4-43 4 34 4-27 4 23 4 3 4 8 4-41 4 15 4 14 4 5 4 6 4-8 4 19 4 2 4 12 4-11 4-35 4 17 4 13 4 5 4-27 4 24 4 10 4 2 4-23 4-2 4-4 4-17 4 30 4-15 4 14 4 16 4-16 4 17 4-11 4 1 4-21 4 25 4-20 4-9 4 15 4-10 4 9 4-15 4 17 4 0 4-11 4 8 4-7 4 3 4 16 4-23 4-11 4 33 4-48 4 28 4-10 4-4 4 12 4-1 4-7 4-3 4 6 4-7 4 25 4-5 4-13 4-17 4-11 4 15 4 12 4-24 4-9 4 56 4-8 4-49 4 9 4-1 4 44 4-15 4 16 4-34 4 21 4-3 4-9 4 3 4-25 4-8 4 10 4 26 4-1 4-22 4 9 4 18 4-67 4 71 4-27 4 31 4-19 4 4 4-66 4 57 4 28 4-19 4 14 4-32 4 10" fill="none" stroke="#a80c14" stroke-width="7" stroke-linejoin="round"/>
</g>
</g>
<text transform="translate(286.6,88) rotate(90)" font-family="Liberation Serif" font-weight="bold" font-size="9.6" fill="#3a1010" text-anchor="middle">25</text>
<text transform="translate(323.0,71) rotate(90)" font-family="Liberation Serif" font-weight="bold" font-size="9.6" fill="#2a2a2a" text-anchor="middle">24</text>
<text transform="translate(363.20000000000005,88) rotate(90)" font-family="Liberation Serif" font-weight="bold" font-size="9.6" fill="#2a2030" text-anchor="middle">23</text>
<text transform="translate(403.6,70) rotate(90)" font-family="Liberation Serif" font-weight="bold" font-size="9.6" fill="#3a1010" text-anchor="middle">22</text>
<text transform="translate(442.6,88) rotate(90)" font-family="Liberation Serif" font-weight="bold" font-size="9.6" fill="#0d3a55" text-anchor="middle">21</text>
<text transform="translate(482.20000000000005,71) rotate(90)" font-family="Liberation Serif" font-weight="bold" font-size="9.6" fill="#2a2a2a" text-anchor="middle">20</text>
</svg>
<svg style="left:618px;top:22px;width:23px;height:100px" viewBox="0 0 23 100"><path d="M9.3,8.4 L12.6,11.6 L9.3,14.8" fill="none" stroke="#eaf4fc" stroke-width="1.7"/><text transform="translate(14.2,59.4) rotate(-90)" font-family="Liberation Sans" font-size="7.6" fill="#eaf4fc" textLength="40" lengthAdjust="spacingAndGlyphs">Trace setup</text></svg>
<div style="left:640.3px;top:22.5px;width:1px;height:421px;background:#3d8fd0;"></div>
<div style="left:641.2px;top:23.6px;width:277px;height:419.8px;background:#fff;"></div>
<div style="left:918.2px;top:22.5px;width:1.2px;height:421px;background:#5db1ee;"></div>
<div style="left:642.0px;top:24px;width:54.2px;height:20.4px;background:#fff;"></div>
<div style="left:659.31px;top:29.60px;font-size:8px;line-height:9.20px;color:#333;white-space:nowrap;">Open</div>
<div style="left:697.2px;top:24px;width:54.2px;height:20.4px;background:#fff;"></div>
<div style="left:696.2px;top:24px;width:1px;height:20.4px;background:#8c8c8c;"></div>
<div style="left:715.18px;top:29.60px;font-size:8px;line-height:9.20px;color:#333;white-space:nowrap;">Save</div>
<div style="left:752.4px;top:24px;width:54.2px;height:20.4px;background:#d3d3d3;"></div>
<div style="left:751.4px;top:24px;width:1px;height:20.4px;background:#8c8c8c;"></div>
<div style="left:769.94px;top:29.60px;font-size:8px;line-height:9.20px;color:#b9b9b9;white-space:nowrap;">Store</div>
<div style="left:807.6px;top:24px;width:54.2px;height:20.4px;background:#fff;"></div>
<div style="left:806.6px;top:24px;width:1px;height:20.4px;background:#8c8c8c;"></div>
<div style="left:825.14px;top:29.60px;font-size:8px;line-height:9.20px;color:#333;white-space:nowrap;">Clear</div>
<div style="left:862.8px;top:24px;width:54.2px;height:20.4px;background:#d3d3d3;"></div>
<div style="left:861.8px;top:24px;width:1px;height:20.4px;background:#8c8c8c;"></div>
<div style="left:875.00px;top:29.60px;font-size:8px;line-height:9.20px;color:#b9b9b9;white-space:nowrap;">Remove</div>
<div style="left:642.6px;top:45.4px;width:275px;height:24.2px;background:#0b69b3;"></div>
<div style="left:669.4px;top:45.4px;width:1px;height:24.2px;background:#49a3e6;"></div>
<div style="left:752.6px;top:45.4px;width:1px;height:24.2px;background:#49a3e6;"></div>
<div style="left:807.2px;top:45.4px;width:1px;height:24.2px;background:#49a3e6;"></div>
<div style="left:862.2px;top:45.4px;width:1px;height:24.2px;background:#49a3e6;"></div>
<div style="left:653.83px;top:53.12px;font-size:7.8px;line-height:8.97px;color:#dcecf9;white-space:nowrap;">#</div>
<div style="left:700.60px;top:53.12px;font-size:7.8px;line-height:8.97px;color:#dcecf9;white-space:nowrap;">Name</div>
<div style="left:755.20px;top:53.12px;font-size:7.8px;line-height:8.97px;color:#dcecf9;white-space:nowrap;transform:scaleX(0.9709);transform-origin:0 50%;">Analysis</div>
<div style="left:825.68px;top:53.12px;font-size:7.8px;line-height:8.97px;color:#dcecf9;white-space:nowrap;">Color</div>
<div style="left:868.80px;top:53.12px;font-size:7.8px;line-height:8.97px;color:#dcecf9;white-space:nowrap;transform:scaleX(0.9633);transform-origin:0 50%;">Visible</div>
<div style="left:788.4px;top:51.3px;width:12.6px;height:13px;border:1.8px solid #f2f8fd;"></div>
<div style="left:896px;top:51px;width:13px;height:13px;background:#f4f9fd;"></div>
<svg style="left:895.6px;top:50.4px;width:14px;height:14px" viewBox="0 0 16 16"><path d="M3,9.2 L6.6,13 L12.2,3" fill="none" stroke="#0b69b3" stroke-width="2.6"/></svg>
<div style="left:642.6px;top:70.9px;width:275px;height:23.4px;background:#0b4478;"></div>
<div style="left:646px;top:72.10000000000001px;width:19.6px;height:21.4px;background:#fff;"></div>
<svg style="left:647.3px;top:74.30000000000001px;width:17px;height:17px" viewBox="0 0 100 100"><path d="M40.1,19.6L40.9,7.0L59.1,7.0L59.9,19.6L71.4,26.2L82.7,20.6L91.8,36.4L81.3,43.3L81.3,56.7L91.8,63.6L82.7,79.4L71.4,73.8L59.9,80.4L59.1,93.0L40.9,93.0L40.1,80.4L28.6,73.8L17.3,79.4L8.2,63.6L18.7,56.7L18.7,43.3L8.2,36.4L17.3,20.6L28.6,26.2Z" fill="#0c6cb6" stroke="#0c6cb6" stroke-width="10" stroke-linejoin="round"/><circle cx="50" cy="50" r="14" fill="#fff"/></svg>
<div style="left:671.60px;top:79.03px;font-size:7.6px;line-height:8.74px;color:#e6f0f9;white-space:nowrap;transform:scaleX(0.9329);transform-origin:0 50%;">Module 1 - IN1</div>
<div style="left:642.6px;top:111.7px;width:275px;height:0.8px;background:#d2d2d2;"></div>
<div style="left:653.83px;top:98.81px;font-size:7.8px;line-height:8.97px;color:#444;white-space:nowrap;">1</div>
<div style="left:691.30px;top:98.81px;font-size:7.8px;line-height:8.97px;color:#333;white-space:nowrap;">TF live</div>
<div style="left:736.6px;top:94.7px;width:14.8px;height:17.2px;border:1px solid #8a8a8a;border-top-color:#c8c8c8;background:#fff;"></div>
<svg style="left:738.8px;top:98.70px;width:11px;height:10.4px" viewBox="0 0 11 10.4"><rect x="0" y="0" width="11" height="9" rx="1.6" fill="#161616"/><path d="M2.2,3 H8.8 M2.2,5.6 H6.6" stroke="#f2f2f2" stroke-width="1.3"/></svg>
<div style="left:772.2px;top:94.9px;width:15.4px;height:16.8px;border:1px solid #c2c2c2;background:#fff;"></div>
<svg style="left:772.4px;top:95.5px;width:16px;height:16px" viewBox="0 0 16 16"><path d="M3,9.2 L6.6,13 L12.2,3" fill="none" stroke="#15689f" stroke-width="2.3"/></svg>
<div style="left:807.6px;top:94.9px;width:53.4px;height:16.6px;border:1px solid #8a8a8a;background:#fff;"></div>
<svg style="left:808px;top:95.00px;width:54px;height:17px" viewBox="0 0 54 17"><path d="M1.6,2.1 L14.8,14.1 L28.6,2.1 L42.4,14.1" fill="none" stroke="#b9a6e2" stroke-width="1.3"/><path d="M45.4,6.9 L47.9,9.4 L50.4,6.9" fill="none" stroke="#333" stroke-width="1.5"/></svg>
<div style="left:882px;top:94.9px;width:15.6px;height:16.8px;border:1px solid #c2c2c2;background:#fff;"></div>
<svg style="left:882.2px;top:95.5px;width:16px;height:16px" viewBox="0 0 16 16"><path d="M3,9.2 L6.6,13 L12.2,3" fill="none" stroke="#15689f" stroke-width="2.3"/></svg>
<div style="left:642.6px;top:129.4px;width:275px;height:0.8px;background:#d2d2d2;"></div>
<div style="left:653.83px;top:116.52px;font-size:7.8px;line-height:8.97px;color:#444;white-space:nowrap;">2</div>
<div style="left:688.62px;top:116.52px;font-size:7.8px;line-height:8.97px;color:#333;white-space:nowrap;">PDL live</div>
<div style="left:736.6px;top:112.4px;width:14.8px;height:17.2px;border:1px solid #8a8a8a;border-top-color:#c8c8c8;background:#fff;"></div>
<svg style="left:738.8px;top:116.40px;width:11px;height:10.4px" viewBox="0 0 11 10.4"><rect x="0" y="0" width="11" height="9" rx="1.6" fill="#161616"/><path d="M2.2,3 H8.8 M2.2,5.6 H6.6" stroke="#f2f2f2" stroke-width="1.3"/></svg>
<div style="left:772.2px;top:112.5px;width:15.4px;height:17.4px;background:#d0d0d0;"></div>
<div style="left:807.6px;top:112.60000000000001px;width:53.4px;height:16.6px;border:1px solid #8a8a8a;background:#fff;"></div>
<svg style="left:808px;top:112.70px;width:54px;height:17px" viewBox="0 0 54 17"><path d="M1.6,2.1 L14.8,14.1 L28.6,2.1 L42.4,14.1" fill="none" stroke="#a4c25c" stroke-width="1.3"/><path d="M45.4,6.9 L47.9,9.4 L50.4,6.9" fill="none" stroke="#333" stroke-width="1.5"/></svg>
<div style="left:882px;top:112.60000000000001px;width:15.6px;height:16.8px;border:1px solid #c2c2c2;background:#fff;"></div>
<svg style="left:882.2px;top:113.2px;width:16px;height:16px" viewBox="0 0 16 16"><path d="M3,9.2 L6.6,13 L12.2,3" fill="none" stroke="#15689f" stroke-width="2.3"/></svg>
<div style="left:669.4px;top:94.5px;width:0.8px;height:35.2px;background:#dcdcdc;"></div>
<div style="left:752.2px;top:94.5px;width:0.8px;height:35.2px;background:#dcdcdc;"></div>
<div style="left:642.6px;top:130.82px;width:275px;height:23.4px;background:#0b4478;"></div>
<div style="left:646px;top:132.01999999999998px;width:19.6px;height:21.4px;background:#fff;"></div>
<svg style="left:647.3px;top:134.22px;width:17px;height:17px" viewBox="0 0 100 100"><path d="M40.1,19.6L40.9,7.0L59.1,7.0L59.9,19.6L71.4,26.2L82.7,20.6L91.8,36.4L81.3,43.3L81.3,56.7L91.8,63.6L82.7,79.4L71.4,73.8L59.9,80.4L59.1,93.0L40.9,93.0L40.1,80.4L28.6,73.8L17.3,79.4L8.2,63.6L18.7,56.7L18.7,43.3L8.2,36.4L17.3,20.6L28.6,26.2Z" fill="#0c6cb6" stroke="#0c6cb6" stroke-width="10" stroke-linejoin="round"/><circle cx="50" cy="50" r="14" fill="#fff"/></svg>
<div style="left:671.60px;top:138.95px;font-size:7.6px;line-height:8.74px;color:#e6f0f9;white-space:nowrap;transform:scaleX(0.9329);transform-origin:0 50%;">Module 1 - IN2</div>
<div style="left:642.6px;top:171.61999999999998px;width:275px;height:0.8px;background:#d2d2d2;"></div>
<div style="left:653.83px;top:158.74px;font-size:7.8px;line-height:8.97px;color:#444;white-space:nowrap;">3</div>
<div style="left:691.30px;top:158.74px;font-size:7.8px;line-height:8.97px;color:#333;white-space:nowrap;">TF live</div>
<div style="left:736.6px;top:154.61999999999998px;width:14.8px;height:17.2px;border:1px solid #8a8a8a;border-top-color:#c8c8c8;background:#fff;"></div>
<svg style="left:738.8px;top:158.62px;width:11px;height:10.4px" viewBox="0 0 11 10.4"><rect x="0" y="0" width="11" height="9" rx="1.6" fill="#161616"/><path d="M2.2,3 H8.8 M2.2,5.6 H6.6" stroke="#f2f2f2" stroke-width="1.3"/></svg>
<div style="left:772.2px;top:154.82px;width:15.4px;height:16.8px;border:1px solid #c2c2c2;background:#fff;"></div>
<svg style="left:772.4px;top:155.42px;width:16px;height:16px" viewBox="0 0 16 16"><path d="M3,9.2 L6.6,13 L12.2,3" fill="none" stroke="#15689f" stroke-width="2.3"/></svg>
<div style="left:807.6px;top:154.82px;width:53.4px;height:16.6px;border:1px solid #8a8a8a;background:#fff;"></div>
<svg style="left:808px;top:154.92px;width:54px;height:17px" viewBox="0 0 54 17"><path d="M1.6,2.1 L14.8,14.1 L28.6,2.1 L42.4,14.1" fill="none" stroke="#de3040" stroke-width="1.3"/><path d="M45.4,6.9 L47.9,9.4 L50.4,6.9" fill="none" stroke="#333" stroke-width="1.5"/></svg>
<div style="left:882px;top:154.82px;width:15.6px;height:16.8px;border:1px solid #c2c2c2;background:#fff;"></div>
<svg style="left:882.2px;top:155.42px;width:16px;height:16px" viewBox="0 0 16 16"><path d="M3,9.2 L6.6,13 L12.2,3" fill="none" stroke="#15689f" stroke-width="2.3"/></svg>
<div style="left:642.6px;top:189.31999999999996px;width:275px;height:0.8px;background:#d2d2d2;"></div>
<div style="left:653.83px;top:176.44px;font-size:7.8px;line-height:8.97px;color:#444;white-space:nowrap;">4</div>
<div style="left:688.62px;top:176.44px;font-size:7.8px;line-height:8.97px;color:#333;white-space:nowrap;">PDL live</div>
<div style="left:736.6px;top:172.31999999999996px;width:14.8px;height:17.2px;border:1px solid #8a8a8a;border-top-color:#c8c8c8;background:#fff;"></div>
<svg style="left:738.8px;top:176.32px;width:11px;height:10.4px" viewBox="0 0 11 10.4"><rect x="0" y="0" width="11" height="9" rx="1.6" fill="#161616"/><path d="M2.2,3 H8.8 M2.2,5.6 H6.6" stroke="#f2f2f2" stroke-width="1.3"/></svg>
<div style="left:772.2px;top:172.42px;width:15.4px;height:17.4px;background:#d0d0d0;"></div>
<div style="left:807.6px;top:172.51999999999998px;width:53.4px;height:16.6px;border:1px solid #8a8a8a;background:#fff;"></div>
<svg style="left:808px;top:172.62px;width:54px;height:17px" viewBox="0 0 54 17"><path d="M1.6,2.1 L14.8,14.1 L28.6,2.1 L42.4,14.1" fill="none" stroke="#6a5c8e" stroke-width="1.3"/><path d="M45.4,6.9 L47.9,9.4 L50.4,6.9" fill="none" stroke="#333" stroke-width="1.5"/></svg>
<div style="left:882px;top:172.51999999999998px;width:15.6px;height:16.8px;border:1px solid #c2c2c2;background:#fff;"></div>
<svg style="left:882.2px;top:173.11999999999998px;width:16px;height:16px" viewBox="0 0 16 16"><path d="M3,9.2 L6.6,13 L12.2,3" fill="none" stroke="#15689f" stroke-width="2.3"/></svg>
<div style="left:669.4px;top:154.42px;width:0.8px;height:35.2px;background:#dcdcdc;"></div>
<div style="left:752.2px;top:154.42px;width:0.8px;height:35.2px;background:#dcdcdc;"></div>
<div style="left:642.6px;top:190.74px;width:275px;height:23.4px;background:#0b4478;"></div>
<div style="left:646px;top:191.94px;width:19.6px;height:21.4px;background:#fff;"></div>
<svg style="left:647.3px;top:194.14000000000001px;width:17px;height:17px" viewBox="0 0 100 100"><path d="M40.1,19.6L40.9,7.0L59.1,7.0L59.9,19.6L71.4,26.2L82.7,20.6L91.8,36.4L81.3,43.3L81.3,56.7L91.8,63.6L82.7,79.4L71.4,73.8L59.9,80.4L59.1,93.0L40.9,93.0L40.1,80.4L28.6,73.8L17.3,79.4L8.2,63.6L18.7,56.7L18.7,43.3L8.2,36.4L17.3,20.6L28.6,26.2Z" fill="#0c6cb6" stroke="#0c6cb6" stroke-width="10" stroke-linejoin="round"/><circle cx="50" cy="50" r="14" fill="#fff"/></svg>
<div style="left:671.60px;top:198.87px;font-size:7.6px;line-height:8.74px;color:#e6f0f9;white-space:nowrap;transform:scaleX(0.9329);transform-origin:0 50%;">Module 1 - IN3</div>
<div style="left:642.6px;top:231.54px;width:275px;height:0.8px;background:#d2d2d2;"></div>
<div style="left:653.83px;top:218.66px;font-size:7.8px;line-height:8.97px;color:#444;white-space:nowrap;">5</div>
<div style="left:691.30px;top:218.66px;font-size:7.8px;line-height:8.97px;color:#333;white-space:nowrap;">TF live</div>
<div style="left:736.6px;top:214.54px;width:14.8px;height:17.2px;border:1px solid #8a8a8a;border-top-color:#c8c8c8;background:#fff;"></div>
<svg style="left:738.8px;top:218.54px;width:11px;height:10.4px" viewBox="0 0 11 10.4"><rect x="0" y="0" width="11" height="9" rx="1.6" fill="#161616"/><path d="M2.2,3 H8.8 M2.2,5.6 H6.6" stroke="#f2f2f2" stroke-width="1.3"/></svg>
<div style="left:772.2px;top:214.74px;width:15.4px;height:16.8px;border:1px solid #c2c2c2;background:#fff;"></div>
<svg style="left:772.4px;top:215.34px;width:16px;height:16px" viewBox="0 0 16 16"><path d="M3,9.2 L6.6,13 L12.2,3" fill="none" stroke="#15689f" stroke-width="2.3"/></svg>
<div style="left:807.6px;top:214.74px;width:53.4px;height:16.6px;border:1px solid #8a8a8a;background:#fff;"></div>
<svg style="left:808px;top:214.84px;width:54px;height:17px" viewBox="0 0 54 17"><path d="M1.6,2.1 L14.8,14.1 L28.6,2.1 L42.4,14.1" fill="none" stroke="#f4a6ae" stroke-width="1.3"/><path d="M45.4,6.9 L47.9,9.4 L50.4,6.9" fill="none" stroke="#333" stroke-width="1.5"/></svg>
<div style="left:882px;top:214.74px;width:15.6px;height:16.8px;border:1px solid #c2c2c2;background:#fff;"></div>
<svg style="left:882.2px;top:215.34px;width:16px;height:16px" viewBox="0 0 16 16"><path d="M3,9.2 L6.6,13 L12.2,3" fill="none" stroke="#15689f" stroke-width="2.3"/></svg>
<div style="left:642.6px;top:249.23999999999998px;width:275px;height:0.8px;background:#d2d2d2;"></div>
<div style="left:653.83px;top:236.36px;font-size:7.8px;line-height:8.97px;color:#444;white-space:nowrap;">6</div>
<div style="left:688.62px;top:236.36px;font-size:7.8px;line-height:8.97px;color:#333;white-space:nowrap;">PDL live</div>
<div style="left:736.6px;top:232.23999999999998px;width:14.8px;height:17.2px;border:1px solid #8a8a8a;border-top-color:#c8c8c8;background:#fff;"></div>
<svg style="left:738.8px;top:236.24px;width:11px;height:10.4px" viewBox="0 0 11 10.4"><rect x="0" y="0" width="11" height="9" rx="1.6" fill="#161616"/><path d="M2.2,3 H8.8 M2.2,5.6 H6.6" stroke="#f2f2f2" stroke-width="1.3"/></svg>
<div style="left:772.2px;top:232.34px;width:15.4px;height:17.4px;background:#d0d0d0;"></div>
<div style="left:807.6px;top:232.44px;width:53.4px;height:16.6px;border:1px solid #8a8a8a;background:#fff;"></div>
<svg style="left:808px;top:232.54px;width:54px;height:17px" viewBox="0 0 54 17"><path d="M1.6,2.1 L14.8,14.1 L28.6,2.1 L42.4,14.1" fill="none" stroke="#a69648" stroke-width="1.3"/><path d="M45.4,6.9 L47.9,9.4 L50.4,6.9" fill="none" stroke="#333" stroke-width="1.5"/></svg>
<div style="left:882px;top:232.44px;width:15.6px;height:16.8px;border:1px solid #c2c2c2;background:#fff;"></div>
<svg style="left:882.2px;top:233.04px;width:16px;height:16px" viewBox="0 0 16 16"><path d="M3,9.2 L6.6,13 L12.2,3" fill="none" stroke="#15689f" stroke-width="2.3"/></svg>
<div style="left:669.4px;top:214.34px;width:0.8px;height:35.2px;background:#dcdcdc;"></div>
<div style="left:752.2px;top:214.34px;width:0.8px;height:35.2px;background:#dcdcdc;"></div>
<div style="left:642.6px;top:250.66px;width:275px;height:23.4px;background:#0b4478;"></div>
<div style="left:646px;top:251.85999999999999px;width:19.6px;height:21.4px;background:#fff;"></div>
<svg style="left:647.3px;top:254.06px;width:17px;height:17px" viewBox="0 0 100 100"><path d="M40.1,19.6L40.9,7.0L59.1,7.0L59.9,19.6L71.4,26.2L82.7,20.6L91.8,36.4L81.3,43.3L81.3,56.7L91.8,63.6L82.7,79.4L71.4,73.8L59.9,80.4L59.1,93.0L40.9,93.0L40.1,80.4L28.6,73.8L17.3,79.4L8.2,63.6L18.7,56.7L18.7,43.3L8.2,36.4L17.3,20.6L28.6,26.2Z" fill="#0c6cb6" stroke="#0c6cb6" stroke-width="10" stroke-linejoin="round"/><circle cx="50" cy="50" r="14" fill="#fff"/></svg>
<div style="left:671.60px;top:258.79px;font-size:7.6px;line-height:8.74px;color:#e6f0f9;white-space:nowrap;transform:scaleX(0.9329);transform-origin:0 50%;">Module 1 - IN4</div>
<div style="left:642.6px;top:291.46px;width:275px;height:0.8px;background:#d2d2d2;"></div>
<div style="left:653.83px;top:278.57px;font-size:7.8px;line-height:8.97px;color:#444;white-space:nowrap;">7</div>
<div style="left:691.30px;top:278.57px;font-size:7.8px;line-height:8.97px;color:#333;white-space:nowrap;">TF live</div>
<div style="left:736.6px;top:274.46px;width:14.8px;height:17.2px;border:1px solid #8a8a8a;border-top-color:#c8c8c8;background:#fff;"></div>
<svg style="left:738.8px;top:278.46px;width:11px;height:10.4px" viewBox="0 0 11 10.4"><rect x="0" y="0" width="11" height="9" rx="1.6" fill="#161616"/><path d="M2.2,3 H8.8 M2.2,5.6 H6.6" stroke="#f2f2f2" stroke-width="1.3"/></svg>
<div style="left:772.2px;top:274.65999999999997px;width:15.4px;height:16.8px;border:1px solid #c2c2c2;background:#fff;"></div>
<svg style="left:772.4px;top:275.26px;width:16px;height:16px" viewBox="0 0 16 16"><path d="M3,9.2 L6.6,13 L12.2,3" fill="none" stroke="#15689f" stroke-width="2.3"/></svg>
<div style="left:807.6px;top:274.65999999999997px;width:53.4px;height:16.6px;border:1px solid #8a8a8a;background:#fff;"></div>
<svg style="left:808px;top:274.76px;width:54px;height:17px" viewBox="0 0 54 17"><path d="M1.6,2.1 L14.8,14.1 L28.6,2.1 L42.4,14.1" fill="none" stroke="#4f5a84" stroke-width="1.3"/><path d="M45.4,6.9 L47.9,9.4 L50.4,6.9" fill="none" stroke="#333" stroke-width="1.5"/></svg>
<div style="left:882px;top:274.65999999999997px;width:15.6px;height:16.8px;border:1px solid #c2c2c2;background:#fff;"></div>
<svg style="left:882.2px;top:275.26px;width:16px;height:16px" viewBox="0 0 16 16"><path d="M3,9.2 L6.6,13 L12.2,3" fill="none" stroke="#15689f" stroke-width="2.3"/></svg>
<div style="left:642.6px;top:309.15999999999997px;width:275px;height:0.8px;background:#d2d2d2;"></div>
<div style="left:653.83px;top:296.27px;font-size:7.8px;line-height:8.97px;color:#444;white-space:nowrap;">8</div>
<div style="left:688.62px;top:296.27px;font-size:7.8px;line-height:8.97px;color:#333;white-space:nowrap;">PDL live</div>
<div style="left:736.6px;top:292.15999999999997px;width:14.8px;height:17.2px;border:1px solid #8a8a8a;border-top-color:#c8c8c8;background:#fff;"></div>
<svg style="left:738.8px;top:296.16px;width:11px;height:10.4px" viewBox="0 0 11 10.4"><rect x="0" y="0" width="11" height="9" rx="1.6" fill="#161616"/><path d="M2.2,3 H8.8 M2.2,5.6 H6.6" stroke="#f2f2f2" stroke-width="1.3"/></svg>
<div style="left:772.2px;top:292.26px;width:15.4px;height:17.4px;background:#d0d0d0;"></div>
<div style="left:807.6px;top:292.35999999999996px;width:53.4px;height:16.6px;border:1px solid #8a8a8a;background:#fff;"></div>
<svg style="left:808px;top:292.46px;width:54px;height:17px" viewBox="0 0 54 17"><path d="M1.6,2.1 L14.8,14.1 L28.6,2.1 L42.4,14.1" fill="none" stroke="#b43c56" stroke-width="1.3"/><path d="M45.4,6.9 L47.9,9.4 L50.4,6.9" fill="none" stroke="#333" stroke-width="1.5"/></svg>
<div style="left:882px;top:292.35999999999996px;width:15.6px;height:16.8px;border:1px solid #c2c2c2;background:#fff;"></div>
<svg style="left:882.2px;top:292.96px;width:16px;height:16px" viewBox="0 0 16 16"><path d="M3,9.2 L6.6,13 L12.2,3" fill="none" stroke="#15689f" stroke-width="2.3"/></svg>
<div style="left:669.4px;top:274.26px;width:0.8px;height:35.2px;background:#dcdcdc;"></div>
<div style="left:752.2px;top:274.26px;width:0.8px;height:35.2px;background:#dcdcdc;"></div>
<div style="left:642.6px;top:310.58000000000004px;width:275px;height:23.4px;background:#0b4478;"></div>
<div style="left:646px;top:311.78000000000003px;width:19.6px;height:21.4px;background:#fff;"></div>
<svg style="left:647.3px;top:313.98px;width:17px;height:17px" viewBox="0 0 100 100"><path d="M40.1,19.6L40.9,7.0L59.1,7.0L59.9,19.6L71.4,26.2L82.7,20.6L91.8,36.4L81.3,43.3L81.3,56.7L91.8,63.6L82.7,79.4L71.4,73.8L59.9,80.4L59.1,93.0L40.9,93.0L40.1,80.4L28.6,73.8L17.3,79.4L8.2,63.6L18.7,56.7L18.7,43.3L8.2,36.4L17.3,20.6L28.6,26.2Z" fill="#0c6cb6" stroke="#0c6cb6" stroke-width="10" stroke-linejoin="round"/><circle cx="50" cy="50" r="14" fill="#fff"/></svg>
<div style="left:671.60px;top:318.71px;font-size:7.6px;line-height:8.74px;color:#e6f0f9;white-space:nowrap;transform:scaleX(0.9329);transform-origin:0 50%;">Module 1 - IN5</div>
<div style="left:642.6px;top:351.38000000000005px;width:275px;height:0.8px;background:#d2d2d2;"></div>
<div style="left:653.83px;top:338.50px;font-size:7.8px;line-height:8.97px;color:#444;white-space:nowrap;">9</div>
<div style="left:691.30px;top:338.50px;font-size:7.8px;line-height:8.97px;color:#333;white-space:nowrap;">TF live</div>
<div style="left:736.6px;top:334.38000000000005px;width:14.8px;height:17.2px;border:1px solid #8a8a8a;border-top-color:#c8c8c8;background:#fff;"></div>
<svg style="left:738.8px;top:338.38px;width:11px;height:10.4px" viewBox="0 0 11 10.4"><rect x="0" y="0" width="11" height="9" rx="1.6" fill="#161616"/><path d="M2.2,3 H8.8 M2.2,5.6 H6.6" stroke="#f2f2f2" stroke-width="1.3"/></svg>
<div style="left:772.2px;top:334.58000000000004px;width:15.4px;height:16.8px;border:1px solid #c2c2c2;background:#fff;"></div>
<svg style="left:772.4px;top:335.18000000000006px;width:16px;height:16px" viewBox="0 0 16 16"><path d="M3,9.2 L6.6,13 L12.2,3" fill="none" stroke="#15689f" stroke-width="2.3"/></svg>
<div style="left:807.6px;top:334.58000000000004px;width:53.4px;height:16.6px;border:1px solid #8a8a8a;background:#fff;"></div>
<svg style="left:808px;top:334.68px;width:54px;height:17px" viewBox="0 0 54 17"><path d="M1.6,2.1 L14.8,14.1 L28.6,2.1 L42.4,14.1" fill="none" stroke="#5a5874" stroke-width="1.3"/><path d="M45.4,6.9 L47.9,9.4 L50.4,6.9" fill="none" stroke="#333" stroke-width="1.5"/></svg>
<div style="left:882px;top:334.58000000000004px;width:15.6px;height:16.8px;border:1px solid #c2c2c2;background:#fff;"></div>
<svg style="left:882.2px;top:335.18000000000006px;width:16px;height:16px" viewBox="0 0 16 16"><path d="M3,9.2 L6.6,13 L12.2,3" fill="none" stroke="#15689f" stroke-width="2.3"/></svg>
<div style="left:642.6px;top:369.08000000000004px;width:275px;height:0.8px;background:#d2d2d2;"></div>
<div style="left:651.66px;top:356.20px;font-size:7.8px;line-height:8.97px;color:#444;white-space:nowrap;">10</div>
<div style="left:688.62px;top:356.20px;font-size:7.8px;line-height:8.97px;color:#333;white-space:nowrap;">PDL live</div>
<div style="left:736.6px;top:352.08000000000004px;width:14.8px;height:17.2px;border:1px solid #8a8a8a;border-top-color:#c8c8c8;background:#fff;"></div>
<svg style="left:738.8px;top:356.08px;width:11px;height:10.4px" viewBox="0 0 11 10.4"><rect x="0" y="0" width="11" height="9" rx="1.6" fill="#161616"/><path d="M2.2,3 H8.8 M2.2,5.6 H6.6" stroke="#f2f2f2" stroke-width="1.3"/></svg>
<div style="left:772.2px;top:352.18000000000006px;width:15.4px;height:17.4px;background:#d0d0d0;"></div>
<div style="left:807.6px;top:352.28000000000003px;width:53.4px;height:16.6px;border:1px solid #8a8a8a;background:#fff;"></div>
<svg style="left:808px;top:352.38px;width:54px;height:17px" viewBox="0 0 54 17"><path d="M1.6,2.1 L14.8,14.1 L28.6,2.1 L42.4,14.1" fill="none" stroke="#62bce0" stroke-width="1.3"/><path d="M45.4,6.9 L47.9,9.4 L50.4,6.9" fill="none" stroke="#333" stroke-width="1.5"/></svg>
<div style="left:882px;top:352.28000000000003px;width:15.6px;height:16.8px;border:1px solid #c2c2c2;background:#fff;"></div>
<svg style="left:882.2px;top:352.88000000000005px;width:16px;height:16px" viewBox="0 0 16 16"><path d="M3,9.2 L6.6,13 L12.2,3" fill="none" stroke="#15689f" stroke-width="2.3"/></svg>
<div style="left:669.4px;top:334.18000000000006px;width:0.8px;height:35.2px;background:#dcdcdc;"></div>
<div style="left:752.2px;top:334.18000000000006px;width:0.8px;height:35.2px;background:#dcdcdc;"></div>
<div style="left:642.6px;top:370.5px;width:275px;height:23.4px;background:#0b4478;"></div>
<div style="left:646px;top:371.7px;width:19.6px;height:21.4px;background:#fff;"></div>
<svg style="left:647.3px;top:373.9px;width:17px;height:17px" viewBox="0 0 100 100"><path d="M40.1,19.6L40.9,7.0L59.1,7.0L59.9,19.6L71.4,26.2L82.7,20.6L91.8,36.4L81.3,43.3L81.3,56.7L91.8,63.6L82.7,79.4L71.4,73.8L59.9,80.4L59.1,93.0L40.9,93.0L40.1,80.4L28.6,73.8L17.3,79.4L8.2,63.6L18.7,56.7L18.7,43.3L8.2,36.4L17.3,20.6L28.6,26.2Z" fill="#0c6cb6" stroke="#0c6cb6" stroke-width="10" stroke-linejoin="round"/><circle cx="50" cy="50" r="14" fill="#fff"/></svg>
<div style="left:671.60px;top:378.63px;font-size:7.6px;line-height:8.74px;color:#e6f0f9;white-space:nowrap;transform:scaleX(0.9329);transform-origin:0 50%;">Module 1 - IN6</div>
<div style="left:642.6px;top:411.3px;width:275px;height:0.8px;background:#d2d2d2;"></div>
<div style="left:651.95px;top:398.42px;font-size:7.8px;line-height:8.97px;color:#444;white-space:nowrap;">11</div>
<div style="left:691.30px;top:398.42px;font-size:7.8px;line-height:8.97px;color:#333;white-space:nowrap;">TF live</div>
<div style="left:736.6px;top:394.3px;width:14.8px;height:17.2px;border:1px solid #8a8a8a;border-top-color:#c8c8c8;background:#fff;"></div>
<svg style="left:738.8px;top:398.30px;width:11px;height:10.4px" viewBox="0 0 11 10.4"><rect x="0" y="0" width="11" height="9" rx="1.6" fill="#161616"/><path d="M2.2,3 H8.8 M2.2,5.6 H6.6" stroke="#f2f2f2" stroke-width="1.3"/></svg>
<div style="left:772.2px;top:394.5px;width:15.4px;height:16.8px;border:1px solid #c2c2c2;background:#fff;"></div>
<svg style="left:772.4px;top:395.1px;width:16px;height:16px" viewBox="0 0 16 16"><path d="M3,9.2 L6.6,13 L12.2,3" fill="none" stroke="#15689f" stroke-width="2.3"/></svg>
<div style="left:807.6px;top:394.5px;width:53.4px;height:16.6px;border:1px solid #8a8a8a;background:#fff;"></div>
<svg style="left:808px;top:394.60px;width:54px;height:17px" viewBox="0 0 54 17"><path d="M1.6,2.1 L14.8,14.1 L28.6,2.1 L42.4,14.1" fill="none" stroke="#c04458" stroke-width="1.3"/><path d="M45.4,6.9 L47.9,9.4 L50.4,6.9" fill="none" stroke="#333" stroke-width="1.5"/></svg>
<div style="left:882px;top:394.5px;width:15.6px;height:16.8px;border:1px solid #c2c2c2;background:#fff;"></div>
<svg style="left:882.2px;top:395.1px;width:16px;height:16px" viewBox="0 0 16 16"><path d="M3,9.2 L6.6,13 L12.2,3" fill="none" stroke="#15689f" stroke-width="2.3"/></svg>
<div style="left:642.6px;top:429.0px;width:275px;height:0.8px;background:#d2d2d2;"></div>
<div style="left:651.66px;top:416.12px;font-size:7.8px;line-height:8.97px;color:#444;white-space:nowrap;">12</div>
<div style="left:688.62px;top:416.12px;font-size:7.8px;line-height:8.97px;color:#333;white-space:nowrap;">PDL live</div>
<div style="left:736.6px;top:412.0px;width:14.8px;height:17.2px;border:1px solid #8a8a8a;border-top-color:#c8c8c8;background:#fff;"></div>
<svg style="left:738.8px;top:416.00px;width:11px;height:10.4px" viewBox="0 0 11 10.4"><rect x="0" y="0" width="11" height="9" rx="1.6" fill="#161616"/><path d="M2.2,3 H8.8 M2.2,5.6 H6.6" stroke="#f2f2f2" stroke-width="1.3"/></svg>
<div style="left:772.2px;top:412.1px;width:15.4px;height:17.4px;background:#d0d0d0;"></div>
<div style="left:807.6px;top:412.2px;width:53.4px;height:16.6px;border:1px solid #8a8a8a;background:#fff;"></div>
<svg style="left:808px;top:412.30px;width:54px;height:17px" viewBox="0 0 54 17"><path d="M1.6,2.1 L14.8,14.1 L28.6,2.1 L42.4,14.1" fill="none" stroke="#cc3850" stroke-width="1.3"/><path d="M45.4,6.9 L47.9,9.4 L50.4,6.9" fill="none" stroke="#333" stroke-width="1.5"/></svg>
<div style="left:882px;top:412.2px;width:15.6px;height:16.8px;border:1px solid #c2c2c2;background:#fff;"></div>
<svg style="left:882.2px;top:412.8px;width:16px;height:16px" viewBox="0 0 16 16"><path d="M3,9.2 L6.6,13 L12.2,3" fill="none" stroke="#15689f" stroke-width="2.3"/></svg>
<div style="left:669.4px;top:394.1px;width:0.8px;height:35.2px;background:#dcdcdc;"></div>
<div style="left:752.2px;top:394.1px;width:0.8px;height:35.2px;background:#dcdcdc;"></div>
<div style="left:919.4px;top:22.5px;width:1.6px;height:552px;background:#0d5c9e;"></div>
<div style="left:922px;top:22.6px;width:78px;height:63.8px;background:#fff;"></div>
<div style="left:923.4px;top:28.0px;width:75.2px;height:25.2px;border:1px solid #8e8e8e;border-top:none;"></div>
<div style="left:923.4px;top:28.0px;width:2.4px;height:1px;background:#8e8e8e;"></div>
<div style="left:966.5px;top:28.0px;width:32.10000000000002px;height:1px;background:#8e8e8e;"></div>
<div style="left:926.80px;top:23.23px;font-size:7.6px;line-height:8.74px;color:#333;white-space:nowrap;transform:scaleX(0.9444);transform-origin:0 50%;">Power units</div>
<div style="left:926.4px;top:35.2px;width:12.8px;height:12.8px;border:1.2px solid #8a8a8a;border-radius:50%;background:#fff;"></div>
<div style="left:930.1999999999999px;top:39.0px;width:5.2px;height:5.2px;background:#0c5fa4;border-radius:50%;"></div>
<div style="left:962.4px;top:35.2px;width:12.8px;height:12.8px;border:1.2px solid #8a8a8a;border-radius:50%;background:#fff;"></div>
<div style="left:943.00px;top:37.12px;font-size:7.8px;line-height:8.97px;color:#333;white-space:nowrap;transform:scaleX(0.8595);transform-origin:0 50%;">dB</div>
<div style="left:978.60px;top:37.12px;font-size:7.8px;line-height:8.97px;color:#333;white-space:nowrap;transform:scaleX(0.9336);transform-origin:0 50%;">Ratio</div>
<div style="left:923.4px;top:60.0px;width:75.2px;height:24.6px;border:1px solid #8e8e8e;border-top:none;"></div>
<div style="left:923.4px;top:60.0px;width:2.4px;height:1px;background:#8e8e8e;"></div>
<div style="left:973.5px;top:60.0px;width:25.100000000000023px;height:1px;background:#8e8e8e;"></div>
<div style="left:926.80px;top:55.23px;font-size:7.6px;line-height:8.74px;color:#333;white-space:nowrap;transform:scaleX(0.9664);transform-origin:0 50%;">Spectral units</div>
<div style="left:926.4px;top:67.19999999999999px;width:12.8px;height:12.8px;border:1.2px solid #8a8a8a;border-radius:50%;background:#fff;"></div>
<div style="left:930.1999999999999px;top:71.0px;width:5.2px;height:5.2px;background:#0c5fa4;border-radius:50%;"></div>
<div style="left:962.4px;top:67.19999999999999px;width:12.8px;height:12.8px;border:1.2px solid #8a8a8a;border-radius:50%;background:#fff;"></div>
<div style="left:943.00px;top:69.11px;font-size:7.8px;line-height:8.97px;color:#333;white-space:nowrap;transform:scaleX(0.8859);transform-origin:0 50%;">nm</div>
<div style="left:978.60px;top:69.11px;font-size:7.8px;line-height:8.97px;color:#333;white-space:nowrap;transform:scaleX(0.8813);transform-origin:0 50%;">THz</div>
<div style="left:922px;top:146.4px;width:77.2px;height:24.2px;background:#fff;"></div>
<svg style="left:922px;top:146.4px;width:24px;height:24.2px" viewBox="0 0 24 24.2"><path d="M14.6,7.2 l-5,5 l5,5" fill="none" stroke="#1c1c1c" stroke-width="1.7"/></svg>
<div style="left:953.60px;top:149.63px;font-size:7.6px;line-height:8.74px;color:#333;white-space:nowrap;transform:scaleX(0.9500);transform-origin:50% 50%;">Subsystem</div>
<div style="left:963.10px;top:158.83px;font-size:7.6px;line-height:8.74px;color:#333;white-space:nowrap;transform:scaleX(0.9500);transform-origin:50% 50%;">setup</div>
<div style="left:922px;top:290.4px;width:77.2px;height:24.2px;background:#fff;"></div>
<svg style="left:922px;top:290.4px;width:24px;height:24.2px" viewBox="0 0 24 24.2"><path d="M14.6,7.2 l-5,5 l5,5" fill="none" stroke="#1c1c1c" stroke-width="1.7"/></svg>
<div style="left:944.8px;top:290.4px;width:1px;height:24.2px;background:#8c8c8c;"></div>
<div style="left:963.34px;top:298.23px;font-size:7.6px;line-height:8.74px;color:#333;white-space:nowrap;">Scan</div>
<div style="left:922px;top:434.2px;width:77.2px;height:24.2px;background:#fff;"></div>
<svg style="left:922px;top:434.2px;width:24px;height:24.2px" viewBox="0 0 24 24.2"><path d="M14.6,7.2 l-5,5 l5,5" fill="none" stroke="#1c1c1c" stroke-width="1.7"/></svg>
<div style="left:944.8px;top:434.2px;width:1px;height:24.2px;background:#8c8c8c;"></div>
<div style="left:958.88px;top:437.43px;font-size:7.6px;line-height:8.74px;color:#333;white-space:nowrap;transform:scaleX(0.9500);transform-origin:50% 50%;">Analyze</div>
<div style="left:958.88px;top:446.63px;font-size:7.6px;line-height:8.74px;color:#333;white-space:nowrap;transform:scaleX(0.9500);transform-origin:50% 50%;">6 traces</div>
<div style="left:922.2px;top:533.2px;width:38px;height:24.2px;background:#fff;"></div>
<div style="left:960.2px;top:533.2px;width:1.2px;height:24.2px;background:#8c8c8c;"></div>
<div style="left:961.4px;top:533.2px;width:37.6px;height:24.2px;background:#fff;"></div>
<div style="left:931.90px;top:541.03px;font-size:7.6px;line-height:8.74px;color:#333;white-space:nowrap;">Open</div>
<div style="left:971.74px;top:541.03px;font-size:7.6px;line-height:8.74px;color:#333;white-space:nowrap;">Save</div>
<div style="left:0px;top:443px;width:920px;height:2.2px;background:#0b66ad;"></div>
<div style="left:434px;top:445px;width:51px;height:10.2px;background:#14619f;"></div>
<div style="left:440px;top:447.6px;width:38.6px;height:1.2px;background:#6fb9f1;"></div>
<div style="left:440px;top:451.8px;width:38.6px;height:1.2px;background:#6fb9f1;"></div>
<svg style="left:2px;top:452px;width:10px;height:12px" viewBox="0 0 10 12"><path d="M2,4 L4.9,7 L7.8,4" fill="none" stroke="#eaf4fc" stroke-width="1.6"/></svg>
<div style="left:14.00px;top:454.14px;font-size:7.4px;line-height:8.51px;color:#e6f0f9;white-space:nowrap;transform:scaleX(0.9538);transform-origin:0 50%;">Analysis: 6 traces - Mar 4, 2021 - 09:57:01</div>
<div style="left:0px;top:469.8px;width:895.6px;height:104px;background:#fff;"></div>
<div style="left:3.20px;top:474.13px;font-size:7.6px;line-height:8.74px;color:#333;white-space:nowrap;transform:scaleX(0.9293);transform-origin:0 50%;">Nbr of Channels:</div>
<div style="left:64.00px;top:474.13px;font-size:7.6px;line-height:8.74px;color:#333;white-space:nowrap;">6</div>
<div style="left:227.00px;top:474.13px;font-size:7.6px;line-height:8.74px;color:#333;white-space:nowrap;transform:scaleX(0.9469);transform-origin:0 50%;">Slope (dB/nm):</div>
<div style="left:283.00px;top:474.13px;font-size:7.6px;line-height:8.74px;color:#333;white-space:nowrap;transform:scaleX(0.9311);transform-origin:0 50%;">-0.0185</div>
<div style="left:451.00px;top:474.13px;font-size:7.6px;line-height:8.74px;color:#333;white-space:nowrap;transform:scaleX(0.9396);transform-origin:0 50%;">Uniformity (dB):</div>
<div style="left:508.00px;top:474.13px;font-size:7.6px;line-height:8.74px;color:#333;white-space:nowrap;transform:scaleX(0.9840);transform-origin:0 50%;">0.11</div>
<div style="left:0.8px;top:487.2px;width:894.6px;height:19px;background:#0b69b3;"></div>
<div class="ah" style="left:0.8px;top:487.2px;width:30.5px;height:19px;line-height:19px;">Ch</div>
<div style="left:30.900000000000002px;top:487.2px;width:1px;height:19px;background:#4aa4e6;"></div>
<div class="ah" style="left:31.3px;top:487.2px;width:31.3px;height:19px;line-height:19px;">Trace #</div>
<div style="left:62.2px;top:487.2px;width:1px;height:19px;background:#4aa4e6;"></div>
<div class="ah" style="left:62.6px;top:487.2px;width:42.2px;height:19px;line-height:19px;">&lambda;<sub>Grid</sub> (nm)</div>
<div style="left:104.39999999999999px;top:487.2px;width:1px;height:19px;background:#4aa4e6;"></div>
<div class="ah" style="left:104.8px;top:487.2px;width:42.7px;height:19px;line-height:19px;">&lambda;<sub>Chan</sub> (nm)</div>
<div style="left:147.1px;top:487.2px;width:1px;height:19px;background:#4aa4e6;"></div>
<div class="ah" style="left:147.5px;top:487.2px;width:33.3px;height:19px;line-height:19px;">&Delta;&lambda; (nm)</div>
<div style="left:180.4px;top:487.2px;width:1px;height:19px;background:#4aa4e6;"></div>
<div class="ah" style="left:180.8px;top:487.2px;width:37.4px;height:19px;line-height:19px;">IL<sub>Grid</sub> (dB)</div>
<div style="left:217.79999999999998px;top:487.2px;width:1px;height:19px;background:#4aa4e6;"></div>
<div class="ah" style="left:218.2px;top:487.2px;width:38.4px;height:19px;line-height:19px;">IL<sub>Chan</sub> (dB)</div>
<div style="left:256.20000000000005px;top:487.2px;width:1px;height:19px;background:#4aa4e6;"></div>
<div class="ah" style="left:256.6px;top:487.2px;width:44.9px;height:19px;line-height:19px;">PDL<sub>Grid</sub> (dB)</div>
<div style="left:301.1px;top:487.2px;width:1px;height:19px;background:#4aa4e6;"></div>
<div class="ah" style="left:301.5px;top:487.2px;width:47.2px;height:19px;line-height:19px;">PDL<sub>Chan</sub> (dB)</div>
<div style="left:348.3px;top:487.2px;width:1px;height:19px;background:#4aa4e6;"></div>
<div class="ah" style="left:348.7px;top:487.2px;width:44.8px;height:19px;line-height:19px;">PDL<sub>Max</sub> (dB)</div>
<div style="left:393.1px;top:487.2px;width:1px;height:19px;background:#4aa4e6;"></div>
<div class="ah" style="left:393.5px;top:487.2px;width:65.8px;height:19px;line-height:19px;">&Delta;&lambda;1@1.00dB (nm)</div>
<div style="left:458.90000000000003px;top:487.2px;width:1px;height:19px;background:#4aa4e6;"></div>
<div class="ah" style="left:459.3px;top:487.2px;width:66.0px;height:19px;line-height:19px;">&Delta;&lambda;2@3.00dB (nm)</div>
<div style="left:524.9px;top:487.2px;width:1px;height:19px;background:#4aa4e6;"></div>
<div class="ah" style="left:525.3px;top:487.2px;width:71.2px;height:19px;line-height:19px;">&Delta;&lambda;3@20.00dB (nm)</div>
<div style="left:596.1px;top:487.2px;width:1px;height:19px;background:#4aa4e6;"></div>
<div class="ah" style="left:596.5px;top:487.2px;width:52.8px;height:19px;line-height:19px;">Slope (dB/nm)</div>
<div style="left:648.9px;top:487.2px;width:1px;height:19px;background:#4aa4e6;"></div>
<div class="ah" style="left:649.3px;top:487.2px;width:41.4px;height:19px;line-height:19px;">Ripple (dB)</div>
<div style="left:690.3000000000001px;top:487.2px;width:1px;height:19px;background:#4aa4e6;"></div>
<div class="ah" style="left:690.7px;top:487.2px;width:48.0px;height:19px;line-height:19px;">Adj. Iso. (dB)</div>
<div style="left:738.3000000000001px;top:487.2px;width:1px;height:19px;background:#4aa4e6;"></div>
<div class="ah" style="left:738.7px;top:487.2px;width:62.0px;height:19px;line-height:19px;">Non-adj. Iso. (dB)</div>
<div style="left:800.3000000000001px;top:487.2px;width:1px;height:19px;background:#4aa4e6;"></div>
<div class="ah" style="left:800.7px;top:487.2px;width:56.8px;height:19px;line-height:19px;">Total Xtalk (dB)</div>
<div style="left:857.1px;top:487.2px;width:1px;height:19px;background:#4aa4e6;"></div>
<div style="left:11.11px;top:508.41px;font-size:7.8px;line-height:8.97px;color:#262626;white-space:nowrap;transform:scaleX(0.9000);transform-origin:50% 50%;">22</div>
<div style="left:53.46px;top:508.41px;font-size:7.8px;line-height:8.97px;color:#262626;white-space:nowrap;transform:scaleX(0.9000);transform-origin:100% 50%;">1</div>
<div style="left:64.66px;top:508.41px;font-size:7.8px;line-height:8.97px;color:#262626;white-space:nowrap;transform:scaleX(0.9000);transform-origin:50% 50%;">1592.9461</div>
<div style="left:107.11px;top:508.41px;font-size:7.8px;line-height:8.97px;color:#262626;white-space:nowrap;transform:scaleX(0.9000);transform-origin:50% 50%;">1592.9291</div>
<div style="left:150.32px;top:508.41px;font-size:7.8px;line-height:8.97px;color:#262626;white-space:nowrap;transform:scaleX(0.9000);transform-origin:50% 50%;">-0.0171</div>
<div style="left:195.62px;top:508.41px;font-size:7.8px;line-height:8.97px;color:#262626;white-space:nowrap;transform:scaleX(0.9000);transform-origin:100% 50%;">-2.98</div>
<div style="left:234.02px;top:508.41px;font-size:7.8px;line-height:8.97px;color:#262626;white-space:nowrap;transform:scaleX(0.9000);transform-origin:100% 50%;">-2.95</div>
<div style="left:281.52px;top:508.41px;font-size:7.8px;line-height:8.97px;color:#262626;white-space:nowrap;transform:scaleX(0.9000);transform-origin:100% 50%;">0.25</div>
<div style="left:328.72px;top:508.41px;font-size:7.8px;line-height:8.97px;color:#262626;white-space:nowrap;transform:scaleX(0.9000);transform-origin:100% 50%;">0.26</div>
<div style="left:373.52px;top:508.41px;font-size:7.8px;line-height:8.97px;color:#262626;white-space:nowrap;transform:scaleX(0.9000);transform-origin:100% 50%;">0.31</div>
<div style="left:430.64px;top:508.41px;font-size:7.8px;line-height:8.97px;color:#262626;white-space:nowrap;transform:scaleX(0.9000);transform-origin:100% 50%;">0.2396</div>
<div style="left:496.64px;top:508.41px;font-size:7.8px;line-height:8.97px;color:#262626;white-space:nowrap;transform:scaleX(0.9000);transform-origin:100% 50%;">0.4163</div>
<div style="left:567.84px;top:508.41px;font-size:7.8px;line-height:8.97px;color:#262626;white-space:nowrap;transform:scaleX(0.9000);transform-origin:100% 50%;">1.0723</div>
<div style="left:618.04px;top:508.41px;font-size:7.8px;line-height:8.97px;color:#262626;white-space:nowrap;transform:scaleX(0.9000);transform-origin:100% 50%;">-2.0935</div>
<div style="left:670.72px;top:508.41px;font-size:7.8px;line-height:8.97px;color:#262626;white-space:nowrap;transform:scaleX(0.9000);transform-origin:100% 50%;">0.30</div>
<div style="left:714.38px;top:508.41px;font-size:7.8px;line-height:8.97px;color:#262626;white-space:nowrap;transform:scaleX(0.9000);transform-origin:100% 50%;">36.91</div>
<div style="left:776.38px;top:508.41px;font-size:7.8px;line-height:8.97px;color:#262626;white-space:nowrap;transform:scaleX(0.9000);transform-origin:100% 50%;">36.25</div>
<div style="left:833.18px;top:508.41px;font-size:7.8px;line-height:8.97px;color:#262626;white-space:nowrap;transform:scaleX(0.9000);transform-origin:100% 50%;">28.67</div>
<div style="left:0.8px;top:517.5px;width:894.6px;height:11.1px;background:#d9d9d9;"></div>
<div style="left:11.11px;top:519.51px;font-size:7.8px;line-height:8.97px;color:#262626;white-space:nowrap;transform:scaleX(0.9000);transform-origin:50% 50%;">20</div>
<div style="left:53.46px;top:519.51px;font-size:7.8px;line-height:8.97px;color:#262626;white-space:nowrap;transform:scaleX(0.9000);transform-origin:100% 50%;">3</div>
<div style="left:64.66px;top:519.51px;font-size:7.8px;line-height:8.97px;color:#262626;white-space:nowrap;transform:scaleX(0.9000);transform-origin:50% 50%;">1594.6407</div>
<div style="left:107.11px;top:519.51px;font-size:7.8px;line-height:8.97px;color:#262626;white-space:nowrap;transform:scaleX(0.9000);transform-origin:50% 50%;">1594.6201</div>
<div style="left:150.32px;top:519.51px;font-size:7.8px;line-height:8.97px;color:#262626;white-space:nowrap;transform:scaleX(0.9000);transform-origin:50% 50%;">-0.0206</div>
<div style="left:195.62px;top:519.51px;font-size:7.8px;line-height:8.97px;color:#262626;white-space:nowrap;transform:scaleX(0.9000);transform-origin:100% 50%;">-2.95</div>
<div style="left:234.02px;top:519.51px;font-size:7.8px;line-height:8.97px;color:#262626;white-space:nowrap;transform:scaleX(0.9000);transform-origin:100% 50%;">-2.93</div>
<div style="left:281.52px;top:519.51px;font-size:7.8px;line-height:8.97px;color:#262626;white-space:nowrap;transform:scaleX(0.9000);transform-origin:100% 50%;">0.28</div>
<div style="left:328.72px;top:519.51px;font-size:7.8px;line-height:8.97px;color:#262626;white-space:nowrap;transform:scaleX(0.9000);transform-origin:100% 50%;">0.32</div>
<div style="left:373.52px;top:519.51px;font-size:7.8px;line-height:8.97px;color:#262626;white-space:nowrap;transform:scaleX(0.9000);transform-origin:100% 50%;">0.36</div>
<div style="left:430.64px;top:519.51px;font-size:7.8px;line-height:8.97px;color:#262626;white-space:nowrap;transform:scaleX(0.9000);transform-origin:100% 50%;">0.2404</div>
<div style="left:496.64px;top:519.51px;font-size:7.8px;line-height:8.97px;color:#262626;white-space:nowrap;transform:scaleX(0.9000);transform-origin:100% 50%;">0.4179</div>
<div style="left:567.84px;top:519.51px;font-size:7.8px;line-height:8.97px;color:#262626;white-space:nowrap;transform:scaleX(0.9000);transform-origin:100% 50%;">1.0661</div>
<div style="left:618.04px;top:519.51px;font-size:7.8px;line-height:8.97px;color:#262626;white-space:nowrap;transform:scaleX(0.9000);transform-origin:100% 50%;">-2.5625</div>
<div style="left:670.72px;top:519.51px;font-size:7.8px;line-height:8.97px;color:#262626;white-space:nowrap;transform:scaleX(0.9000);transform-origin:100% 50%;">0.32</div>
<div style="left:714.38px;top:519.51px;font-size:7.8px;line-height:8.97px;color:#262626;white-space:nowrap;transform:scaleX(0.9000);transform-origin:100% 50%;">35.59</div>
<div style="left:776.38px;top:519.51px;font-size:7.8px;line-height:8.97px;color:#262626;white-space:nowrap;transform:scaleX(0.9000);transform-origin:100% 50%;">35.41</div>
<div style="left:833.18px;top:519.51px;font-size:7.8px;line-height:8.97px;color:#262626;white-space:nowrap;transform:scaleX(0.9000);transform-origin:100% 50%;">28.61</div>
<div style="left:11.11px;top:530.62px;font-size:7.8px;line-height:8.97px;color:#262626;white-space:nowrap;transform:scaleX(0.9000);transform-origin:50% 50%;">25</div>
<div style="left:53.46px;top:530.62px;font-size:7.8px;line-height:8.97px;color:#262626;white-space:nowrap;transform:scaleX(0.9000);transform-origin:100% 50%;">5</div>
<div style="left:64.66px;top:530.62px;font-size:7.8px;line-height:8.97px;color:#262626;white-space:nowrap;transform:scaleX(0.9000);transform-origin:50% 50%;">1590.4109</div>
<div style="left:107.11px;top:530.62px;font-size:7.8px;line-height:8.97px;color:#262626;white-space:nowrap;transform:scaleX(0.9000);transform-origin:50% 50%;">1590.3931</div>
<div style="left:150.32px;top:530.62px;font-size:7.8px;line-height:8.97px;color:#262626;white-space:nowrap;transform:scaleX(0.9000);transform-origin:50% 50%;">-0.0178</div>
<div style="left:195.62px;top:530.62px;font-size:7.8px;line-height:8.97px;color:#262626;white-space:nowrap;transform:scaleX(0.9000);transform-origin:100% 50%;">-2.86</div>
<div style="left:234.02px;top:530.62px;font-size:7.8px;line-height:8.97px;color:#262626;white-space:nowrap;transform:scaleX(0.9000);transform-origin:100% 50%;">-2.84</div>
<div style="left:281.52px;top:530.62px;font-size:7.8px;line-height:8.97px;color:#262626;white-space:nowrap;transform:scaleX(0.9000);transform-origin:100% 50%;">0.26</div>
<div style="left:328.72px;top:530.62px;font-size:7.8px;line-height:8.97px;color:#262626;white-space:nowrap;transform:scaleX(0.9000);transform-origin:100% 50%;">0.27</div>
<div style="left:373.52px;top:530.62px;font-size:7.8px;line-height:8.97px;color:#262626;white-space:nowrap;transform:scaleX(0.9000);transform-origin:100% 50%;">0.32</div>
<div style="left:430.64px;top:530.62px;font-size:7.8px;line-height:8.97px;color:#262626;white-space:nowrap;transform:scaleX(0.9000);transform-origin:100% 50%;">0.2380</div>
<div style="left:496.64px;top:530.62px;font-size:7.8px;line-height:8.97px;color:#262626;white-space:nowrap;transform:scaleX(0.9000);transform-origin:100% 50%;">0.4138</div>
<div style="left:567.84px;top:530.62px;font-size:7.8px;line-height:8.97px;color:#262626;white-space:nowrap;transform:scaleX(0.9000);transform-origin:100% 50%;">1.0761</div>
<div style="left:618.04px;top:530.62px;font-size:7.8px;line-height:8.97px;color:#262626;white-space:nowrap;transform:scaleX(0.9000);transform-origin:100% 50%;">-2.3066</div>
<div style="left:670.72px;top:530.62px;font-size:7.8px;line-height:8.97px;color:#262626;white-space:nowrap;transform:scaleX(0.9000);transform-origin:100% 50%;">0.31</div>
<div style="left:714.38px;top:530.62px;font-size:7.8px;line-height:8.97px;color:#262626;white-space:nowrap;transform:scaleX(0.9000);transform-origin:100% 50%;">34.34</div>
<div style="left:776.38px;top:530.62px;font-size:7.8px;line-height:8.97px;color:#262626;white-space:nowrap;transform:scaleX(0.9000);transform-origin:100% 50%;">39.06</div>
<div style="left:833.18px;top:530.62px;font-size:7.8px;line-height:8.97px;color:#262626;white-space:nowrap;transform:scaleX(0.9000);transform-origin:100% 50%;">28.08</div>
<div style="left:0.8px;top:539.6999999999999px;width:894.6px;height:11.1px;background:#d9d9d9;"></div>
<div style="left:11.11px;top:541.71px;font-size:7.8px;line-height:8.97px;color:#262626;white-space:nowrap;transform:scaleX(0.9000);transform-origin:50% 50%;">24</div>
<div style="left:53.46px;top:541.71px;font-size:7.8px;line-height:8.97px;color:#262626;white-space:nowrap;transform:scaleX(0.9000);transform-origin:100% 50%;">7</div>
<div style="left:64.66px;top:541.71px;font-size:7.8px;line-height:8.97px;color:#262626;white-space:nowrap;transform:scaleX(0.9000);transform-origin:50% 50%;">1591.2551</div>
<div style="left:107.11px;top:541.71px;font-size:7.8px;line-height:8.97px;color:#262626;white-space:nowrap;transform:scaleX(0.9000);transform-origin:50% 50%;">1591.2365</div>
<div style="left:150.32px;top:541.71px;font-size:7.8px;line-height:8.97px;color:#262626;white-space:nowrap;transform:scaleX(0.9000);transform-origin:50% 50%;">-0.0185</div>
<div style="left:195.62px;top:541.71px;font-size:7.8px;line-height:8.97px;color:#262626;white-space:nowrap;transform:scaleX(0.9000);transform-origin:100% 50%;">-2.89</div>
<div style="left:234.02px;top:541.71px;font-size:7.8px;line-height:8.97px;color:#262626;white-space:nowrap;transform:scaleX(0.9000);transform-origin:100% 50%;">-2.87</div>
<div style="left:281.52px;top:541.71px;font-size:7.8px;line-height:8.97px;color:#262626;white-space:nowrap;transform:scaleX(0.9000);transform-origin:100% 50%;">0.24</div>
<div style="left:328.72px;top:541.71px;font-size:7.8px;line-height:8.97px;color:#262626;white-space:nowrap;transform:scaleX(0.9000);transform-origin:100% 50%;">0.28</div>
<div style="left:373.52px;top:541.71px;font-size:7.8px;line-height:8.97px;color:#262626;white-space:nowrap;transform:scaleX(0.9000);transform-origin:100% 50%;">0.33</div>
<div style="left:430.64px;top:541.71px;font-size:7.8px;line-height:8.97px;color:#262626;white-space:nowrap;transform:scaleX(0.9000);transform-origin:100% 50%;">0.2383</div>
<div style="left:496.64px;top:541.71px;font-size:7.8px;line-height:8.97px;color:#262626;white-space:nowrap;transform:scaleX(0.9000);transform-origin:100% 50%;">0.4148</div>
<div style="left:567.84px;top:541.71px;font-size:7.8px;line-height:8.97px;color:#262626;white-space:nowrap;transform:scaleX(0.9000);transform-origin:100% 50%;">1.0736</div>
<div style="left:618.04px;top:541.71px;font-size:7.8px;line-height:8.97px;color:#262626;white-space:nowrap;transform:scaleX(0.9000);transform-origin:100% 50%;">-2.4080</div>
<div style="left:670.72px;top:541.71px;font-size:7.8px;line-height:8.97px;color:#262626;white-space:nowrap;transform:scaleX(0.9000);transform-origin:100% 50%;">0.31</div>
<div style="left:714.38px;top:541.71px;font-size:7.8px;line-height:8.97px;color:#262626;white-space:nowrap;transform:scaleX(0.9000);transform-origin:100% 50%;">36.00</div>
<div style="left:776.38px;top:541.71px;font-size:7.8px;line-height:8.97px;color:#262626;white-space:nowrap;transform:scaleX(0.9000);transform-origin:100% 50%;">37.83</div>
<div style="left:833.18px;top:541.71px;font-size:7.8px;line-height:8.97px;color:#262626;white-space:nowrap;transform:scaleX(0.9000);transform-origin:100% 50%;">28.33</div>
<div style="left:11.11px;top:552.81px;font-size:7.8px;line-height:8.97px;color:#262626;white-space:nowrap;transform:scaleX(0.9000);transform-origin:50% 50%;">23</div>
<div style="left:53.46px;top:552.81px;font-size:7.8px;line-height:8.97px;color:#262626;white-space:nowrap;transform:scaleX(0.9000);transform-origin:100% 50%;">9</div>
<div style="left:64.66px;top:552.81px;font-size:7.8px;line-height:8.97px;color:#262626;white-space:nowrap;transform:scaleX(0.9000);transform-origin:50% 50%;">1592.1001</div>
<div style="left:107.11px;top:552.81px;font-size:7.8px;line-height:8.97px;color:#262626;white-space:nowrap;transform:scaleX(0.9000);transform-origin:50% 50%;">1592.0812</div>
<div style="left:150.32px;top:552.81px;font-size:7.8px;line-height:8.97px;color:#262626;white-space:nowrap;transform:scaleX(0.9000);transform-origin:50% 50%;">-0.0189</div>
<div style="left:195.62px;top:552.81px;font-size:7.8px;line-height:8.97px;color:#262626;white-space:nowrap;transform:scaleX(0.9000);transform-origin:100% 50%;">-2.91</div>
<div style="left:234.02px;top:552.81px;font-size:7.8px;line-height:8.97px;color:#262626;white-space:nowrap;transform:scaleX(0.9000);transform-origin:100% 50%;">-2.89</div>
<div style="left:281.52px;top:552.81px;font-size:7.8px;line-height:8.97px;color:#262626;white-space:nowrap;transform:scaleX(0.9000);transform-origin:100% 50%;">0.21</div>
<div style="left:328.72px;top:552.81px;font-size:7.8px;line-height:8.97px;color:#262626;white-space:nowrap;transform:scaleX(0.9000);transform-origin:100% 50%;">0.22</div>
<div style="left:373.52px;top:552.81px;font-size:7.8px;line-height:8.97px;color:#262626;white-space:nowrap;transform:scaleX(0.9000);transform-origin:100% 50%;">0.28</div>
<div style="left:430.64px;top:552.81px;font-size:7.8px;line-height:8.97px;color:#262626;white-space:nowrap;transform:scaleX(0.9000);transform-origin:100% 50%;">0.2418</div>
<div style="left:496.64px;top:552.81px;font-size:7.8px;line-height:8.97px;color:#262626;white-space:nowrap;transform:scaleX(0.9000);transform-origin:100% 50%;">0.4198</div>
<div style="left:567.84px;top:552.81px;font-size:7.8px;line-height:8.97px;color:#262626;white-space:nowrap;transform:scaleX(0.9000);transform-origin:100% 50%;">1.0778</div>
<div style="left:618.04px;top:552.81px;font-size:7.8px;line-height:8.97px;color:#262626;white-space:nowrap;transform:scaleX(0.9000);transform-origin:100% 50%;">-2.1683</div>
<div style="left:670.72px;top:552.81px;font-size:7.8px;line-height:8.97px;color:#262626;white-space:nowrap;transform:scaleX(0.9000);transform-origin:100% 50%;">0.30</div>
<div style="left:714.38px;top:552.81px;font-size:7.8px;line-height:8.97px;color:#262626;white-space:nowrap;transform:scaleX(0.9000);transform-origin:100% 50%;">36.55</div>
<div style="left:776.38px;top:552.81px;font-size:7.8px;line-height:8.97px;color:#262626;white-space:nowrap;transform:scaleX(0.9000);transform-origin:100% 50%;">37.16</div>
<div style="left:833.18px;top:552.81px;font-size:7.8px;line-height:8.97px;color:#262626;white-space:nowrap;transform:scaleX(0.9000);transform-origin:100% 50%;">28.85</div>
<div style="left:0.8px;top:561.9px;width:894.6px;height:11.1px;background:#d9d9d9;"></div>
<div style="left:11.11px;top:563.91px;font-size:7.8px;line-height:8.97px;color:#262626;white-space:nowrap;transform:scaleX(0.9000);transform-origin:50% 50%;">21</div>
<div style="left:49.70px;top:563.91px;font-size:7.8px;line-height:8.97px;color:#262626;white-space:nowrap;transform:scaleX(0.9000);transform-origin:100% 50%;">11</div>
<div style="left:64.66px;top:563.91px;font-size:7.8px;line-height:8.97px;color:#262626;white-space:nowrap;transform:scaleX(0.9000);transform-origin:50% 50%;">1593.7930</div>
<div style="left:107.11px;top:563.91px;font-size:7.8px;line-height:8.97px;color:#262626;white-space:nowrap;transform:scaleX(0.9000);transform-origin:50% 50%;">1593.7736</div>
<div style="left:150.32px;top:563.91px;font-size:7.8px;line-height:8.97px;color:#262626;white-space:nowrap;transform:scaleX(0.9000);transform-origin:50% 50%;">-0.0194</div>
<div style="left:195.62px;top:563.91px;font-size:7.8px;line-height:8.97px;color:#262626;white-space:nowrap;transform:scaleX(0.9000);transform-origin:100% 50%;">-2.91</div>
<div style="left:234.02px;top:563.91px;font-size:7.8px;line-height:8.97px;color:#262626;white-space:nowrap;transform:scaleX(0.9000);transform-origin:100% 50%;">-2.89</div>
<div style="left:281.52px;top:563.91px;font-size:7.8px;line-height:8.97px;color:#262626;white-space:nowrap;transform:scaleX(0.9000);transform-origin:100% 50%;">0.27</div>
<div style="left:328.72px;top:563.91px;font-size:7.8px;line-height:8.97px;color:#262626;white-space:nowrap;transform:scaleX(0.9000);transform-origin:100% 50%;">0.30</div>
<div style="left:373.52px;top:563.91px;font-size:7.8px;line-height:8.97px;color:#262626;white-space:nowrap;transform:scaleX(0.9000);transform-origin:100% 50%;">0.37</div>
<div style="left:430.64px;top:563.91px;font-size:7.8px;line-height:8.97px;color:#262626;white-space:nowrap;transform:scaleX(0.9000);transform-origin:100% 50%;">0.2399</div>
<div style="left:496.64px;top:563.91px;font-size:7.8px;line-height:8.97px;color:#262626;white-space:nowrap;transform:scaleX(0.9000);transform-origin:100% 50%;">0.4166</div>
<div style="left:567.84px;top:563.91px;font-size:7.8px;line-height:8.97px;color:#262626;white-space:nowrap;transform:scaleX(0.9000);transform-origin:100% 50%;">1.0696</div>
<div style="left:618.04px;top:563.91px;font-size:7.8px;line-height:8.97px;color:#262626;white-space:nowrap;transform:scaleX(0.9000);transform-origin:100% 50%;">-2.3454</div>
<div style="left:670.72px;top:563.91px;font-size:7.8px;line-height:8.97px;color:#262626;white-space:nowrap;transform:scaleX(0.9000);transform-origin:100% 50%;">0.31</div>
<div style="left:714.38px;top:563.91px;font-size:7.8px;line-height:8.97px;color:#262626;white-space:nowrap;transform:scaleX(0.9000);transform-origin:100% 50%;">35.52</div>
<div style="left:776.38px;top:563.91px;font-size:7.8px;line-height:8.97px;color:#262626;white-space:nowrap;transform:scaleX(0.9000);transform-origin:100% 50%;">35.83</div>
<div style="left:833.18px;top:563.91px;font-size:7.8px;line-height:8.97px;color:#262626;white-space:nowrap;transform:scaleX(0.9000);transform-origin:100% 50%;">28.65</div>
<div style="left:31.1px;top:506.4px;width:0.7px;height:67px;background:rgba(120,120,120,0.28);"></div>
<div style="left:62.4px;top:506.4px;width:0.7px;height:67px;background:rgba(120,120,120,0.28);"></div>
<div style="left:104.6px;top:506.4px;width:0.7px;height:67px;background:rgba(120,120,120,0.28);"></div>
<div style="left:147.3px;top:506.4px;width:0.7px;height:67px;background:rgba(120,120,120,0.28);"></div>
<div style="left:180.60000000000002px;top:506.4px;width:0.7px;height:67px;background:rgba(120,120,120,0.28);"></div>
<div style="left:218.0px;top:506.4px;width:0.7px;height:67px;background:rgba(120,120,120,0.28);"></div>
<div style="left:256.40000000000003px;top:506.4px;width:0.7px;height:67px;background:rgba(120,120,120,0.28);"></div>
<div style="left:301.3px;top:506.4px;width:0.7px;height:67px;background:rgba(120,120,120,0.28);"></div>
<div style="left:348.5px;top:506.4px;width:0.7px;height:67px;background:rgba(120,120,120,0.28);"></div>
<div style="left:393.3px;top:506.4px;width:0.7px;height:67px;background:rgba(120,120,120,0.28);"></div>
<div style="left:459.1px;top:506.4px;width:0.7px;height:67px;background:rgba(120,120,120,0.28);"></div>
<div style="left:525.0999999999999px;top:506.4px;width:0.7px;height:67px;background:rgba(120,120,120,0.28);"></div>
<div style="left:596.3px;top:506.4px;width:0.7px;height:67px;background:rgba(120,120,120,0.28);"></div>
<div style="left:649.0999999999999px;top:506.4px;width:0.7px;height:67px;background:rgba(120,120,120,0.28);"></div>
<div style="left:690.5px;top:506.4px;width:0.7px;height:67px;background:rgba(120,120,120,0.28);"></div>
<div style="left:738.5px;top:506.4px;width:0.7px;height:67px;background:rgba(120,120,120,0.28);"></div>
<div style="left:800.5px;top:506.4px;width:0.7px;height:67px;background:rgba(120,120,120,0.28);"></div>
<div style="left:857.3px;top:506.4px;width:0.7px;height:67px;background:rgba(120,120,120,0.28);"></div>
<svg style="left:896px;top:470px;width:23px;height:104px" viewBox="0 0 23 104"><path d="M13.2,9.0 L10.0,12.2 L13.2,15.4" fill="none" stroke="#eaf4fc" stroke-width="1.7"/><text transform="translate(14.6,71) rotate(-90)" font-family="Liberation Sans" font-size="7.2" fill="#eaf4fc" textLength="50" lengthAdjust="spacingAndGlyphs">Analysis setup</text></svg>
<div style="left:0px;top:574px;width:1000px;height:26px;background:#7f7f7f;"></div>
<div style="left:0px;top:573.2px;width:896px;height:1.6px;background:#35566f;"></div>
<div style="left:0.8px;top:575.2px;width:23.4px;height:23.6px;background:#fff;"></div>
<svg style="left:0.8px;top:575.2px;width:23.4px;height:23.6px" viewBox="0 0 23.4 23.6"><path d="M8.6,7.6 A5.6,5.6 0 1 0 14.8,7.6" fill="none" stroke="#3c8fc4" stroke-width="1.3"/><path d="M11.7,5.4 V12" stroke="#3c8fc4" stroke-width="1.3"/></svg>
<div style="left:26px;top:575.2px;width:131.4px;height:23.6px;background:#fff;"></div>
<svg style="left:31px;top:579px;width:23.4px;height:16.4px" viewBox="0 0 23.4 16.4"><rect x="0.4" y="0.6" width="3.7" height="15" fill="#0c6cb6" stroke="#6db3e6" stroke-width="0.7"/><rect x="4.9" y="0.6" width="3.7" height="15" fill="#0c6cb6" stroke="#6db3e6" stroke-width="0.7"/><rect x="9.4" y="0.6" width="3.7" height="15" fill="#0c6cb6" stroke="#6db3e6" stroke-width="0.7"/><rect x="13.9" y="0.6" width="3.7" height="15" fill="#0c6cb6" stroke="#6db3e6" stroke-width="0.7"/><rect x="18.4" y="0.6" width="3.7" height="15" fill="#0c6cb6" stroke="#6db3e6" stroke-width="0.7"/></svg>
<div style="left:59.20px;top:581.50px;font-size:10.6px;line-height:12.19px;color:#1b79bd;white-space:nowrap;transform:scaleX(0.9742);transform-origin:0 50%;">Modules and Lasers</div>
<div style="left:160px;top:574.6px;width:126px;height:24.2px;background:#0c6cb6;"></div>
<svg style="left:164px;top:577px;width:30px;height:20px" viewBox="0 0 30 20"><rect x="1.5" y="2" width="16.5" height="6.6" fill="#f4f9fd"/><rect x="13.5" y="12.6" width="14.2" height="6" fill="#f4f9fd"/><path d="M10,8.6 V15.6 H13.5" fill="none" stroke="#dceefb" stroke-width="1"/></svg>
<div style="left:212.40px;top:581.50px;font-size:10.6px;line-height:12.19px;color:#f2f8fd;white-space:nowrap;transform:scaleX(0.9803);transform-origin:0 50%;">Subsystem</div>
<svg style="left:519.6px;top:580.4px;width:19.4px;height:15.9px" viewBox="0 0 22 18"><path d="M3,8.6 H17" stroke="#111" stroke-width="1.5"/><path d="M16.2,6.2 L20,8.6 L16.2,11z" fill="#111"/><circle cx="3.6" cy="8.6" r="1.9" fill="#111"/><path d="M6,8.6 L9.4,4.6 H12.6" fill="none" stroke="#111" stroke-width="1.3"/><circle cx="13.2" cy="4.6" r="1.5" fill="#111"/><path d="M8.6,8.6 L11.6,12.4 H14" fill="none" stroke="#111" stroke-width="1.3"/><rect x="13.6" y="11" width="2.8" height="2.8" fill="#111"/><circle cx="6.2" cy="13.6" r="3" fill="#2fbf4a"/><path d="M4.6,13.6 l1.2,1.3 l2.2,-2.6" stroke="#fff" stroke-width="1" fill="none"/></svg>
<div style="left:547px;top:575.2px;width:102px;height:23.6px;background:#fff;"></div>
<svg style="left:552px;top:578.6px;width:20px;height:17px" viewBox="0 0 20 17"><rect x="0" y="0.6" width="12" height="4.4" fill="#1273bb"/><rect x="7.6" y="7" width="12" height="4" fill="#1273bb"/><rect x="7.6" y="12.2" width="12" height="4" fill="#1273bb"/><path d="M4.4,5 V14.2 H7.6 M4.4,9 H7.6" fill="none" stroke="#1273bb" stroke-width="1.5"/></svg>
<div style="left:577.00px;top:581.50px;font-size:10.6px;line-height:12.19px;color:#1b79bd;white-space:nowrap;transform:scaleX(0.9661);transform-origin:0 50%;">Daisy chaining</div>
<div style="left:651px;top:575.2px;width:98px;height:23.6px;background:#fff;"></div>
<svg style="left:656.6px;top:578.8px;width:20px;height:17px" viewBox="0 0 20 17"><rect x="0.4" y="0.4" width="14" height="6" fill="#1273bb"/><circle cx="16" cy="3.4" r="2.6" fill="#9fd0f3"/><rect x="0.4" y="11.6" width="5" height="5" fill="#1273bb"/><rect x="7" y="11.6" width="5" height="5" fill="#1273bb"/><rect x="13.6" y="11.6" width="5" height="5" fill="#1273bb"/><path d="M9.5,6.4 V9 M3,11.6 V9 H16 V11.6 M9.5,9 V11.6" fill="none" stroke="#1273bb" stroke-width="1.3"/></svg>
<div style="left:680.80px;top:581.50px;font-size:10.6px;line-height:12.19px;color:#1b79bd;white-space:nowrap;transform:scaleX(0.9684);transform-origin:0 50%;">Laser sharing</div>
<div style="left:751px;top:575.2px;width:101.6px;height:23.6px;background:#fff;"></div>
<svg style="left:755px;top:579.4px;width:17px;height:17px" viewBox="0 0 17 17"><circle cx="8.3" cy="8.3" r="7.2" fill="none" stroke="#3c8fc4" stroke-width="1.1"/><circle cx="8.3" cy="8.3" r="4.6" fill="none" stroke="#3c8fc4" stroke-width="1.1"/><circle cx="8.3" cy="8.3" r="1.3" fill="#1b79bd"/></svg>
<div style="left:776.80px;top:581.50px;font-size:10.6px;line-height:12.19px;color:#1b79bd;white-space:nowrap;transform:scaleX(0.9841);transform-origin:0 50%;">Analog outputs</div>
<div style="left:854.4px;top:575.2px;width:21.6px;height:23.6px;background:#fff;"></div>
<svg style="left:856px;top:579px;width:19px;height:17px" viewBox="0 0 19 17"><path d="M1.4,14.6 V2.6 H6.4 L8,4.6 H13.6 V7.2 M1.4,14.6 L4.6,7.2 H17.4 L14.4,14.6 Z" fill="none" stroke="#2a82c0" stroke-width="1.2" stroke-linejoin="round"/></svg>
<div style="left:878.4px;top:575.2px;width:22.2px;height:23.6px;background:#fff;"></div>
<svg style="left:882.2px;top:580px;width:14.6px;height:14.6px" viewBox="0 0 100 100"><path d="M40.1,19.6L40.9,7.0L59.1,7.0L59.9,19.6L71.4,26.2L82.7,20.6L91.8,36.4L81.3,43.3L81.3,56.7L91.8,63.6L82.7,79.4L71.4,73.8L59.9,80.4L59.1,93.0L40.9,93.0L40.1,80.4L28.6,73.8L17.3,79.4L8.2,63.6L18.7,56.7L18.7,43.3L8.2,36.4L17.3,20.6L28.6,26.2Z" fill="#0c6cb6" stroke="#0c6cb6" stroke-width="10" stroke-linejoin="round"/><circle cx="50" cy="50" r="14" fill="#fff"/></svg>
<div style="left:903px;top:575.2px;width:22px;height:23.6px;background:#fff;"></div>
<svg style="left:903px;top:575.2px;width:22px;height:23.6px" viewBox="0 0 22 23.6"><circle cx="11" cy="12" r="7.6" fill="none" stroke="#1f72ad" stroke-width="1.3"/><path d="M11,7.4 V13.4" stroke="#1f72ad" stroke-width="1.6"/><circle cx="11" cy="16" r="1" fill="#1f72ad"/></svg>
<div style="left:927.3px;top:575.2px;width:22.3px;height:23.6px;background:#fff;"></div>
<div style="left:934.88px;top:580.12px;font-size:13px;line-height:14.95px;color:#3c8fc4;white-space:nowrap;">?</div>
<div style="left:960.61px;top:579.73px;font-size:7.6px;line-height:8.74px;color:#f4f4f4;white-space:nowrap;transform:scaleX(0.9329);transform-origin:50% 50%;">09:57:15</div>
<div style="left:955.12px;top:587.43px;font-size:7.6px;line-height:8.74px;color:#f4f4f4;white-space:nowrap;transform:scaleX(0.9271);transform-origin:50% 50%;">Mar 4, 2021</div>
</div></body></html>
